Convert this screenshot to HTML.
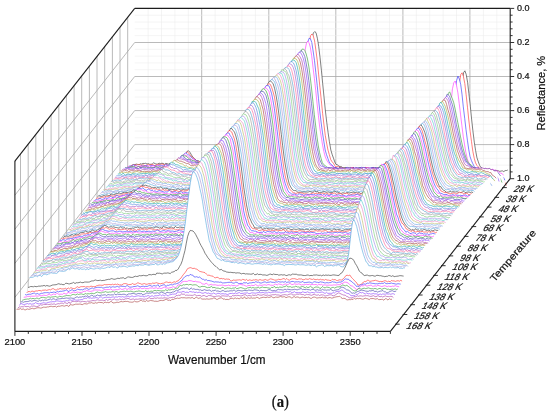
<!DOCTYPE html><html><head><meta charset="utf-8"><style>html,body{margin:0;padding:0;background:#fff;width:550px;height:416px;overflow:hidden}</style></head><body><svg width="550" height="416" viewBox="0 0 550 416" style="position:absolute;left:0;top:0">
<g fill="none"><line x1="148.1" y1="8.4" x2="148.1" y2="178.7" stroke="#ebebeb" stroke-width="0.55"/><line x1="161.5" y1="8.4" x2="161.5" y2="178.7" stroke="#ebebeb" stroke-width="0.55"/><line x1="174.9" y1="8.4" x2="174.9" y2="178.7" stroke="#ebebeb" stroke-width="0.55"/><line x1="188.3" y1="8.4" x2="188.3" y2="178.7" stroke="#ebebeb" stroke-width="0.55"/><line x1="201.7" y1="8.4" x2="201.7" y2="178.7" stroke="#a8a8a8" stroke-width="0.8"/><line x1="215.1" y1="8.4" x2="215.1" y2="178.7" stroke="#ebebeb" stroke-width="0.55"/><line x1="228.5" y1="8.4" x2="228.5" y2="178.7" stroke="#ebebeb" stroke-width="0.55"/><line x1="241.9" y1="8.4" x2="241.9" y2="178.7" stroke="#ebebeb" stroke-width="0.55"/><line x1="255.4" y1="8.4" x2="255.4" y2="178.7" stroke="#ebebeb" stroke-width="0.55"/><line x1="268.8" y1="8.4" x2="268.8" y2="178.7" stroke="#a8a8a8" stroke-width="0.8"/><line x1="282.2" y1="8.4" x2="282.2" y2="178.7" stroke="#ebebeb" stroke-width="0.55"/><line x1="295.6" y1="8.4" x2="295.6" y2="178.7" stroke="#ebebeb" stroke-width="0.55"/><line x1="309" y1="8.4" x2="309" y2="178.7" stroke="#ebebeb" stroke-width="0.55"/><line x1="322.4" y1="8.4" x2="322.4" y2="178.7" stroke="#ebebeb" stroke-width="0.55"/><line x1="335.8" y1="8.4" x2="335.8" y2="178.7" stroke="#a8a8a8" stroke-width="0.8"/><line x1="349.2" y1="8.4" x2="349.2" y2="178.7" stroke="#ebebeb" stroke-width="0.55"/><line x1="362.7" y1="8.4" x2="362.7" y2="178.7" stroke="#ebebeb" stroke-width="0.55"/><line x1="376.1" y1="8.4" x2="376.1" y2="178.7" stroke="#ebebeb" stroke-width="0.55"/><line x1="389.5" y1="8.4" x2="389.5" y2="178.7" stroke="#ebebeb" stroke-width="0.55"/><line x1="402.9" y1="8.4" x2="402.9" y2="178.7" stroke="#a8a8a8" stroke-width="0.8"/><line x1="416.3" y1="8.4" x2="416.3" y2="178.7" stroke="#ebebeb" stroke-width="0.55"/><line x1="429.7" y1="8.4" x2="429.7" y2="178.7" stroke="#ebebeb" stroke-width="0.55"/><line x1="443.1" y1="8.4" x2="443.1" y2="178.7" stroke="#ebebeb" stroke-width="0.55"/><line x1="456.5" y1="8.4" x2="456.5" y2="178.7" stroke="#ebebeb" stroke-width="0.55"/><line x1="469.9" y1="8.4" x2="469.9" y2="178.7" stroke="#a8a8a8" stroke-width="0.8"/><line x1="483.4" y1="8.4" x2="483.4" y2="178.7" stroke="#ebebeb" stroke-width="0.55"/><line x1="496.8" y1="8.4" x2="496.8" y2="178.7" stroke="#ebebeb" stroke-width="0.55"/><line x1="134.7" y1="15.2" x2="510.2" y2="15.2" stroke="#ebebeb" stroke-width="0.55"/><line x1="134.7" y1="22" x2="510.2" y2="22" stroke="#ebebeb" stroke-width="0.55"/><line x1="134.7" y1="28.8" x2="510.2" y2="28.8" stroke="#ebebeb" stroke-width="0.55"/><line x1="134.7" y1="35.6" x2="510.2" y2="35.6" stroke="#ebebeb" stroke-width="0.55"/><line x1="134.7" y1="42.5" x2="510.2" y2="42.5" stroke="#a8a8a8" stroke-width="0.8"/><line x1="134.7" y1="49.3" x2="510.2" y2="49.3" stroke="#ebebeb" stroke-width="0.55"/><line x1="134.7" y1="56.1" x2="510.2" y2="56.1" stroke="#ebebeb" stroke-width="0.55"/><line x1="134.7" y1="62.9" x2="510.2" y2="62.9" stroke="#ebebeb" stroke-width="0.55"/><line x1="134.7" y1="69.7" x2="510.2" y2="69.7" stroke="#ebebeb" stroke-width="0.55"/><line x1="134.7" y1="76.5" x2="510.2" y2="76.5" stroke="#a8a8a8" stroke-width="0.8"/><line x1="134.7" y1="83.3" x2="510.2" y2="83.3" stroke="#ebebeb" stroke-width="0.55"/><line x1="134.7" y1="90.1" x2="510.2" y2="90.1" stroke="#ebebeb" stroke-width="0.55"/><line x1="134.7" y1="97" x2="510.2" y2="97" stroke="#ebebeb" stroke-width="0.55"/><line x1="134.7" y1="103.8" x2="510.2" y2="103.8" stroke="#ebebeb" stroke-width="0.55"/><line x1="134.7" y1="110.6" x2="510.2" y2="110.6" stroke="#a8a8a8" stroke-width="0.8"/><line x1="134.7" y1="117.4" x2="510.2" y2="117.4" stroke="#ebebeb" stroke-width="0.55"/><line x1="134.7" y1="124.2" x2="510.2" y2="124.2" stroke="#ebebeb" stroke-width="0.55"/><line x1="134.7" y1="131" x2="510.2" y2="131" stroke="#ebebeb" stroke-width="0.55"/><line x1="134.7" y1="137.8" x2="510.2" y2="137.8" stroke="#ebebeb" stroke-width="0.55"/><line x1="134.7" y1="144.6" x2="510.2" y2="144.6" stroke="#a8a8a8" stroke-width="0.8"/><line x1="134.7" y1="151.5" x2="510.2" y2="151.5" stroke="#ebebeb" stroke-width="0.55"/><line x1="134.7" y1="158.3" x2="510.2" y2="158.3" stroke="#ebebeb" stroke-width="0.55"/><line x1="134.7" y1="165.1" x2="510.2" y2="165.1" stroke="#ebebeb" stroke-width="0.55"/><line x1="134.7" y1="171.9" x2="510.2" y2="171.9" stroke="#ebebeb" stroke-width="0.55"/><line x1="127.7" y1="17.3" x2="127.7" y2="187.6" stroke="#a8a8a8" stroke-width="0.8"/><line x1="120" y1="27.1" x2="120" y2="197.4" stroke="#a8a8a8" stroke-width="0.8"/><line x1="112.4" y1="36.8" x2="112.4" y2="207.1" stroke="#a8a8a8" stroke-width="0.8"/><line x1="104.7" y1="46.6" x2="104.7" y2="216.9" stroke="#a8a8a8" stroke-width="0.8"/><line x1="97" y1="56.3" x2="97" y2="226.6" stroke="#a8a8a8" stroke-width="0.8"/><line x1="89.4" y1="66.1" x2="89.4" y2="236.4" stroke="#a8a8a8" stroke-width="0.8"/><line x1="81.7" y1="75.9" x2="81.7" y2="246.2" stroke="#a8a8a8" stroke-width="0.8"/><line x1="74.1" y1="85.6" x2="74.1" y2="255.9" stroke="#a8a8a8" stroke-width="0.8"/><line x1="66.4" y1="95.4" x2="66.4" y2="265.7" stroke="#a8a8a8" stroke-width="0.8"/><line x1="58.8" y1="105.1" x2="58.8" y2="275.4" stroke="#a8a8a8" stroke-width="0.8"/><line x1="51.1" y1="114.9" x2="51.1" y2="285.2" stroke="#a8a8a8" stroke-width="0.8"/><line x1="43.5" y1="124.7" x2="43.5" y2="295" stroke="#a8a8a8" stroke-width="0.8"/><line x1="35.8" y1="134.4" x2="35.8" y2="304.7" stroke="#a8a8a8" stroke-width="0.8"/><line x1="28.2" y1="144.2" x2="28.2" y2="314.5" stroke="#a8a8a8" stroke-width="0.8"/><line x1="20.5" y1="153.9" x2="20.5" y2="324.2" stroke="#a8a8a8" stroke-width="0.8"/><line x1="14.9" y1="195.2" x2="134.7" y2="42.5" stroke="#a8a8a8" stroke-width="0.8"/><line x1="14.9" y1="229.2" x2="134.7" y2="76.5" stroke="#a8a8a8" stroke-width="0.8"/><line x1="14.9" y1="263.3" x2="134.7" y2="110.6" stroke="#a8a8a8" stroke-width="0.8"/><line x1="14.9" y1="297.3" x2="134.7" y2="144.6" stroke="#a8a8a8" stroke-width="0.8"/></g>
<g stroke-width="0.65" stroke-linejoin="round" stroke-opacity="0.88">
<path d="M507.8 181.7L132.3 181.7L132.3 164.9l1.3 0 1.4-0.3 1.3-0.5 1.3 0.4 1.4 0.3 1.3-1 1.4 0.3 1.3-0.7 1.3 0.1 1.4-0.2 1.3 0.7 1.4-0.4 1.3 0.7 1.4 0 1.3-0.4 1.3-1.1 1.4 0.9 1.3 0.3 1.4 0 1.3-0.8 1.3 0.4 1.4-0.3 1.3 0.1 1.4 0.9 1.3-0.9 1.4 0.3 1.3 0.4 1.3-0.7 1.4 0.1 1.3 0.1 1.4-0.1 1.3-0.8 1.3 0.5 1.4 0.2 1.3-1.9 1.4 0.1 1.3-1.8 1.3-2.2 1.4-0.9 1.3-2.7 1.4-2.8 1.3-0.4 1.4 1.6 1.3 2.2 1.3 2.3 1.4 1.2 1.3 1.5 1.4 1.2 1.3-0.3 1.3 0.9 1.4 0.2 1.3 0.5 1.4-0.4 1.3 0.5 1.3 0.4 1.4 0.7 1.3 0.2 1.4-1.2 1.3 0.3 1.4 0.7 1.3-1.2 1.3 0.7 1.4 0.3 1.3 0.7 1.4-0.3 1.3-0.5 1.3-0.1 1.4 0.2 1.3 0.8 1.4-0.9 1.3 0 1.3 0.3 1.4-0.3 1.3-0.1 1.4-0.4 1.3 0.5 1.4-0.1 1.3 0.8 1.3-0.3 1.4-0.3 1.3 0.3 1.4-0.5 1.3 0.6 1.3-0.4 1.4 0.1 1.3-0.8 1.4 0.8 1.3-0.9 1.3-0.1 1.4 0.9 1.3-0.2 1.4 0.7 1.3 1.1 1.4-1.4 1.3 0 1.3 0.6 1.4 0.2 1.3-0.3 1.4 0.1 1.3 0.5 1.3 0 1.4-0.7 1.3 0.5 1.4 0.1 1.3-0.4 1.3 0.6 1.4-0.3 1.3 0.9 1.4-0.3 1.3 0 1.4-0.3 1.3 0.2 1.3-0.8 1.4 0.4 1.3 0.8 1.4-1.1 1.3 1.2 1.3-1.3 1.4 0.6 1.3-1.3 1.4-0.5 1.3-2.3 1.3-3.6 1.4-2.7 1.3-5.5 1.4-8.1 1.3-9.6 1.4-11.2 1.3-13.4 1.3-13.3 1.4-15.5 1.3-14.2 1.4-13.2 1.3-10.2 1.3-6.9 1.4-1.4 1.3 1 1.4 5.8 1.3 8 1.3 10.8 1.4 13 1.3 13.6 1.4 14.1 1.3 13 1.4 11.9 1.3 9.8 1.3 9.1 1.4 8.2 1.3 4.4 1.4 3.9 1.3 3.8 1.3 2.6 1.4 0.1 1.3 1.5 1.4 0.4 1.3 0 1.3 1.5 1.4-0.1 1.3 0.1 1.4-0.2 1.3 0.5 1.4-0.4 1.3 0.1 1.3-0.5 1.4 0.1 1.3 1.2 1.4-0.8 1.3 0.3 1.3-0.2 1.4-0.2 1.3 0 1.4 0.6 1.3-0.5 1.3 0.1 1.4 0.1 1.3 0.6 1.4-0.2 1.3-0.2 1.4-0.6 1.3-0.3 1.3 1.1 1.4 0.1 1.3-0.5 1.4 0.3 1.3 0.1 1.3 0.1 1.4 0 1.3-0.7 1.4 0.9 1.3-1.3 1.3 1 1.4-0.1 1.3 0.2 1.4 0.5 1.3-0.2 1.4-1.4 1.3-0.3 1.3 1.2 1.4-0.8 1.3 0.5 1.4 0.4 1.3-1.2 1.3-0.3 1.4 1.3 1.3 0 1.4-0.1 1.3 0.1 1.3-0.4 1.4-0.3 1.3 0.6 1.4-0.3 1.3-0.2 1.4 1 1.3-0.1 1.3 0.2 1.4-0.7 1.3 0.2 1.4-0.1 1.3 0.1 1.3 0.5 1.4-0.3 1.3 0.5 1.4 0.2 1.3 0.7 1.3-1.5 1.4 1 1.3-0.4 1.4 0 1.3-0.6 1.4 0.5 1.3 0.7 1.3-0.4 1.4 0.1 1.3-0.1 1.4 0.6 1.3-0.8 1.3-1.7 1.4-0.5 1.3-3 1.4-4.9 1.3-5.6 1.3-9.5 1.4-14.5 1.3-17.2 1.4-16.8 1.3-13.4 1.4-9.5 1.3-1.8 1.3 3.6 1.4 7.9 1.3 11.3 1.4 12.6 1.3 12.9 1.3 11.7 1.4 11.4 1.3 8.3 1.4 7.4 1.3 3.8 1.3 3.7 1.4 2.2 1.3 0.8 1.4 2.2 1.3 0.4 1.4-0.7 1.3 0.6 1.3-0.1 1.4-1.4 1.3 1.4 1.4 0 1.3 0 1.3-0.5 1.4 0.3 1.3 0.2 1.4 0.6 1.3-0.4 1.4-0.1 1.3 0.7 1.3-1 1.4-0.1 1.3-0.5" fill="#fff" stroke="#202020" stroke-dasharray="0 392.3 815.3 9999"/>
<path d="M506.4 183.6L130.8 183.6L130.8 165.8l1.4-0.7 1.3 0 1.4 0 1.3 0.1 1.3-0.8 1.4 0.5 1.3-0.2 1.4 0.8 1.3-0.8 1.3 0.7 1.4 0.4 1.3-0.9 1.4-0.3 1.3 0.4 1.3-0.2 1.4-0.4 1.3 0.7 1.4 0.7 1.3-1.1 1.4-0.1 1.3-0.4 1.3 0.5 1.4-0.7 1.3 0.1 1.4 1.1 1.3-1 1.3 0.9 1.4 0.2 1.3-0.6 1.4 0.1 1.3 0.6 1.3-1.2 1.4-0.5 1.3-0.7 1.4 0.2 1.3-0.2 1.4-1.7 1.3-2.8 1.3-2.2 1.4-1.9 1.3-1.4 1.4-1.2 1.3 0.9 1.3 2 1.4 1.3 1.3 1.4 1.4 1.2 1.3 0.8 1.3 1.2 1.4 1.3 1.3-0.1 1.4 0 1.3-0.4 1.4 1.2 1.3-0.9 1.3 0.5 1.4 1.4 1.3 0.1 1.4-0.4 1.3-0.7 1.3 0.7 1.4 0 1.3 0.8 1.4 0.9 1.3-1 1.4-0.6 1.3-0.2 1.3 0.6 1.4-0.1 1.3-0.4 1.4 0.6 1.3-0.5 1.3 1.1 1.4 0 1.3 0 1.4-0.8 1.3 0.4 1.3-0.3 1.4-0.2 1.3 0 1.4-0.5 1.3 0 1.4 1.1 1.3-0.4 1.3 0.2 1.4 0.3 1.3-1.2 1.4 0.4 1.3 0.6 1.3 0.2 1.4-0.2 1.3 0.7 1.4-0.4 1.3-0.7 1.3 0.2 1.4 1 1.3-0.2 1.4-1 1.3 1.6 1.4-0.2 1.3 0.4 1.3-0.8 1.4 0 1.3-0.2 1.4 1.8 1.3-1.1 1.3 0.7 1.4-1 1.3 0.3 1.4-0.7 1.3 0.6 1.3 0.8 1.4-1 1.3 1.1 1.4-0.4 1.3-0.8 1.4 0 1.3-0.4 1.3-0.6 1.4-1.5 1.3-2.1 1.4-2.7 1.3-4.5 1.3-5.8 1.4-6.8 1.3-8.9 1.4-12.4 1.3-12.3 1.3-14.4 1.4-14.6 1.3-13.1 1.4-12.9 1.3-8.9 1.4-7.2 1.3-1.7 1.3 1.7 1.4 5.2 1.3 9.3 1.4 10.8 1.3 13.1 1.3 13.1 1.4 13 1.3 13.2 1.4 11.7 1.3 10.5 1.3 7.4 1.4 7.1 1.3 4.5 1.4 5 1.3 2 1.4 1.6 1.3 2.3 1.3 1.5 1.4-0.6 1.3 0.5 1.4 0.4 1.3 0.1 1.3 0.8 1.4-0.4 1.3 0.1 1.4 0.6 1.3-0.5 1.3 0.5 1.4-0.7 1.3-0.2 1.4-0.2 1.3 1.8 1.4-1 1.3 0.2 1.3-0.1 1.4 0.1 1.3 0 1.4 0.9 1.3-1.5 1.3-0.4 1.4 0.3 1.3-0.1 1.4 1.1 1.3 0 1.3-0.9 1.4-0.3 1.3 0.6 1.4 0.8 1.3-1.9 1.4 1.4 1.3-0.6 1.3 1 1.4-1 1.3 0.3 1.4-0.6 1.3 0.3 1.3 1.2 1.4-0.2 1.3-0.7 1.4-0.3 1.3-0.5 1.3 0.7 1.4 0.3 1.3 0 1.4-0.1 1.3-0.4 1.4 0.5 1.3 0.1 1.3 0.8 1.4 0.3 1.3-1 1.4-0.4 1.3 0.4 1.3-0.3 1.4 0 1.3 0.3 1.4-0.3 1.3 0.8 1.3-0.3 1.4 0.2 1.3-0.2 1.4-0.3 1.3-0.1 1.4 0.4 1.3-0.1 1.3 0.4 1.4-0.1 1.3-0.6 1.4 0.6 1.3-0.6 1.3 0.4 1.4 0.1 1.3-0.7 1.4 1 1.3 0.2 1.3-0.2 1.4-0.1 1.3 0 1.4-0.3 1.3 0.1 1.4-0.6 1.3-0.9 1.3-2.9 1.4-3.5 1.3-6.9 1.4-10.4 1.3-13.8 1.3-15.7 1.4-17.6 1.3-13.2 1.4-8.9 1.3-1.6 1.3 3.6 1.4 7.1 1.3 10.9 1.4 12.9 1.3 12.7 1.4 11.8 1.3 9.8 1.3 9.5 1.4 7 1.3 4.6 1.4 2.7 1.3 1.3 1.3 2.4 1.4 0.2 1.3-0.7 1.4 1.6 1.3-0.6 1.3 0.2 1.4 0.6 1.3 1.1 1.4-0.6 1.3 0.6 1.4 1.1 1.3 0.3 1.3-0.4 1.4 0.4 1.3 0.3 1.4 1.2 1.3 1.9 1.3 1.6 1.4 2 1.3 3 1.4 2.6" fill="#fff" stroke="#ff2020" stroke-dasharray="0 393.4 813.9 9999"/>
<path d="M504.9 185.4L129.4 185.4L129.4 165.7l1.3 0.2 1.4 0.2 1.3-1.5 1.3 1.1 1.4 0.4 1.3 0.1 1.4 0.5 1.3-0.3 1.4-0.4 1.3-0.1 1.3 0.2 1.4-0.6 1.3 0.2 1.4 0.4 1.3 0.5 1.3-1 1.4 0 1.3 0.1 1.4 0.5 1.3-0.6 1.3 0.5 1.4-1 1.3 0.2 1.4 0.1 1.3 0.4 1.4 0.1 1.3-1.3 1.3 0.3 1.4 0.5 1.3-0.5 1.4-0.4 1.3 1.1 1.3-0.3 1.4-0.4 1.3-1 1.4-0.3 1.3-1.8 1.3-1.3 1.4-2.9 1.3-2.2 1.4-1.3 1.3-1.4 1.4 1 1.3 1.3 1.3 0.8 1.4 1.5 1.3 0.9 1.4 1.4 1.3 0.1 1.3 0.7 1.4 1.4 1.3 1 1.4 0.3 1.3-0.5 1.3 0.3 1.4 0.9 1.3-0.6 1.4-0.2 1.3 0.7 1.4 0.3 1.3-0.5 1.3-0.3 1.4 0.2 1.3 1.1 1.4-0.5 1.3 0.3 1.3 0.3 1.4 0.2 1.3-0.4 1.4 0.3 1.3-0.6 1.3 0.2 1.4-0.2 1.3 1 1.4-0.5 1.3-0.3 1.4 0.1 1.3 0.1 1.3 0.4 1.4-1 1.3 0.2 1.4 0.4 1.3 1.4 1.3-0.7 1.4-0.6 1.3 0.5 1.4 0.6 1.3-1 1.4 0 1.3 0.8 1.3-0.3 1.4 0.1 1.3-0.4 1.4 1.1 1.3 0 1.3-0.5 1.4 0 1.3-1.1 1.4 1.1 1.3-0.2 1.3 0.4 1.4 0.1 1.3-0.5 1.4-0.5 1.3 0.9 1.4-0.4 1.3 0.2 1.3 0 1.4 0 1.3-0.7 1.4 1.6 1.3-0.3 1.3 0.5 1.4 0.3 1.3-1.1 1.4-1.1 1.3 0 1.3-0.7 1.4-0.8 1.3-1.4 1.4-3.4 1.3-2.8 1.4-5.7 1.3-6 1.3-8.7 1.4-10.6 1.3-12 1.4-13.7 1.3-14.2 1.3-14.4 1.4-11.8 1.3-9.5 1.4-7 1.3-3.7 1.3 0.4 1.4 3.8 1.3 8.4 1.4 9.6 1.3 11.9 1.4 12.9 1.3 13.4 1.3 12.5 1.4 11.8 1.3 9.8 1.4 9 1.3 8.2 1.3 4.5 1.4 4 1.3 3.5 1.4 2.2 1.3 0.7 1.3 1.4 1.4 1.2 1.3 0.2 1.4 0.2 1.3 0.8 1.4-0.9 1.3 0.4 1.3-0.1 1.4 0.8 1.3-1.5 1.4 0.5 1.3 0.2 1.3 0.6 1.4 0 1.3 0.3 1.4-1.3 1.3 0.9 1.3-0.4 1.4-0.2 1.3 0.5 1.4-0.7 1.3-0.5 1.4 0.7 1.3-0.4 1.3 0.4 1.4 0.5 1.3 0.1 1.4 0.5 1.3-0.9 1.3-0.6 1.4 0.3 1.3-0.1 1.4-0.1 1.3 0.8 1.3-0.5 1.4-0.6 1.3 1.2 1.4-0.3 1.3 0.2 1.4-0.1 1.3 0.2 1.3-0.2 1.4 0.5 1.3-0.3 1.4 0 1.3-0.1 1.3-0.8 1.4 0.5 1.3 0 1.4 0.2 1.3-0.6 1.3 1.3 1.4-0.6 1.3-0.7 1.4-0.2 1.3 0.7 1.4 0.1 1.3-0.2 1.3 0.3 1.4-0.2 1.3 0.5 1.4-0.5 1.3 0.3 1.3 0.6 1.4 0.7 1.3-1.6 1.4 0.1 1.3 0 1.3 0.7 1.4-0.8 1.3 0.2 1.4 0.3 1.3-0.4 1.4 0 1.3 0.2 1.3-0.8 1.4 0.4 1.3 0.5 1.4 0.3 1.3-0.2 1.3-0.7 1.4 0.4 1.3 0.3 1.4-1 1.3-2.1 1.3-3.8 1.4-5.1 1.3-9.3 1.4-12.4 1.3-14.7 1.4-14.9 1.3-15.1 1.3-9.9 1.4-4.4 1.3 2.8 1.4 5.5 1.3 9.8 1.3 12.7 1.4 11.4 1.3 11.2 1.4 10.7 1.3 9 1.3 7.2 1.4 4.1 1.3 2.9 1.4 2.9 1.3 1.6 1.4 1 1.3 1 1.3-0.1 1.4 0.3 1.3-0.7 1.4 1 1.3 0.7 1.3-0.5 1.4-0.2 1.3 0.1 1.4 0.8 1.3-1 1.3 0.6 1.4 0.7 1.3 0.5 1.4 0 1.3 0.9 1.4 0.7 1.3 1.2 1.3 1.3 1.4 1.3 1.3 2.8" fill="#fff" stroke="#2020ff" stroke-dasharray="0 395.3 790.7 9999"/>
<path d="M503.5 187.3L127.9 187.3L127.9 166.2l1.4 0.5 1.3 0.2 1.4-0.3 1.3 0.1 1.3-0.5 1.4-0.7 1.3 1.3 1.4 0 1.3-0.3 1.3 0 1.4 0.4 1.3-0.7 1.4-0.2 1.3 0.3 1.4 0.6 1.3-1.1 1.3 1 1.4-0.8 1.3-0.2 1.4 1 1.3-0.6 1.3-0.6 1.4 0.5 1.3 0.6 1.4 0.1 1.3-0.7 1.3 0.3 1.4 0.1 1.3-0.6 1.4 0.4 1.3-0.2 1.4-0.4 1.3-0.1 1.3 0 1.4-0.6 1.3-1.1 1.4-1.2 1.3-1 1.3-2.3 1.4-1.8 1.3-1.7 1.4-1.4 1.3 0.8 1.3-0.1 1.4 1.7 1.3 0.6 1.4 1.9 1.3 0.7 1.4-1 1.3 1 1.3 1.4 1.4 0.6 1.3 0.4 1.4 0 1.3 0.6 1.3 0.4 1.4 0 1.3 0.6 1.4-1.2 1.3 1.4 1.3-0.5 1.4 1 1.3-0.4 1.4-0.2 1.3 0.7 1.4-0.5 1.3 0 1.3-0.2 1.4 0.8 1.3 0.4 1.4 0.3 1.3-0.5 1.3 0.5 1.4-0.4 1.3 0 1.4 0.3 1.3 0.2 1.3-0.6 1.4 0 1.3 0.1 1.4 0.1 1.3-0.4 1.4 0.8 1.3-0.6 1.3 0.3 1.4-0.5 1.3 0.6 1.4 0.1 1.3-0.3 1.3 1.2 1.4-0.6 1.3 0.6 1.4-0.4 1.3-0.7 1.3 0.1 1.4 0.5 1.3-0.2 1.4 0.1 1.3-0.2 1.4-0.7 1.3 0.7 1.3-0.8 1.4 1.2 1.3-0.4 1.4 0 1.3 0.3 1.3 0.3 1.4-0.8 1.3-0.2 1.4 0.3 1.3-0.3 1.4 0.6 1.3 1.1 1.3-1.1 1.4 0.5 1.3-1.1 1.4 0.3 1.3-0.9 1.3-1 1.4-1.5 1.3-2.1 1.4-4.5 1.3-5.4 1.3-7.4 1.4-8 1.3-10.8 1.4-11.7 1.3-13.6 1.4-13 1.3-15 1.3-11.3 1.4-8.9 1.3-6.8 1.4-2.7 1.3 1.6 1.3 4.5 1.4 8.6 1.3 11.4 1.4 11.3 1.3 11.6 1.3 12.9 1.4 12.4 1.3 11.7 1.4 8.8 1.3 8.1 1.4 7.3 1.3 5 1.3 3.2 1.4 2.4 1.3 1.7 1.4 1.7 1.3 0.3 1.3 1.9 1.4-0.1 1.3 0.8 1.4 0.8 1.3-0.2 1.3-1 1.4 0.9 1.3 0.2 1.4-0.9 1.3-0.1 1.4 0.3 1.3-0.6 1.3 1.3 1.4-1.7 1.3 0.5 1.4 0.5 1.3 0 1.3 0.2 1.4 0.1 1.3-0.2 1.4 0.5 1.3-1.4 1.3 0.8 1.4-0.2 1.3 0.4 1.4 0 1.3-0.5 1.4 0.1 1.3 0.7 1.3-0.2 1.4-0.4 1.3 1.3 1.4 0.1 1.3-1.7 1.3 0.7 1.4 1.1 1.3-0.8 1.4-0.3 1.3-0.3 1.3-0.1 1.4 0.1 1.3-0.1 1.4 0.6 1.3-0.5 1.4-0.1 1.3-0.3 1.3 0.4 1.4-0.3 1.3 0.4 1.4 0.6 1.3-0.3 1.3 0.1 1.4-0.1 1.3-0.1 1.4-0.1 1.3 0 1.3 0.4 1.4-0.7 1.3 1 1.4-0.5 1.3-0.4 1.4 0.1 1.3-0.1 1.3 0.4 1.4-0.3 1.3 0.8 1.4-0.9 1.3-0.7 1.3 0.6 1.4-0.4 1.3 0.9 1.4 0.6 1.3-0.2 1.3-0.9 1.4 0.3 1.3 1.2 1.4-0.6 1.3-0.2 1.4 0.5 1.3 0.4 1.3-1.1 1.4-1.8 1.3-2.4 1.4-4.1 1.3-7.4 1.3-10.2 1.4-12.4 1.3-15.3 1.4-14.4 1.3-11.9 1.3-5.9 1.4-1.8 1.3 4.3 1.4 7.6 1.3 10.4 1.4 11.6 1.3 10.8 1.3 10.4 1.4 8.8 1.3 7.7 1.4 6.3 1.3 3.7 1.3 2.2 1.4 2 1.3 1.2 1.4 0.8 1.3-0.1 1.3 0.2 1.4-0.6 1.3 0.4 1.4 1.3 1.3-1.6 1.4 0.8 1.3 0.3 1.3-0.2 1.4-0.1 1.3 0.4 1.4 0.2 1.3 0 1.3-0.6 1.4 1 1.3 0 1.4 0.5 1.3 0.9 1.3 0.8 1.4 0.8 1.3 0.3 1.4 1.8" fill="#fff" stroke="#ff20ff" stroke-dasharray="0 396.6 774.0 9999"/>
<path d="M502 189.1L126.5 189.1L126.5 167.5l1.3 0.4 1.4-0.8 1.3-0.6 1.4 0.2 1.3-0.3 1.3 0.2 1.4 1 1.3-0.4 1.4-0.7 1.3 0.9 1.3 0.2 1.4-0.6 1.3-0.2 1.4 0.1 1.3 0.3 1.3 0.2 1.4 0.2 1.3 0.1 1.4 0 1.3 0 1.4-0.4 1.3-0.9 1.3 0.5 1.4 0.2 1.3-0.2 1.4 0.5 1.3-0.5 1.3-0.2 1.4 0.9 1.3-0.3 1.4-0.2 1.3 0.2 1.3 0 1.4-0.7 1.3-1.6 1.4-0.2 1.3-1 1.4-1.9 1.3-1.4 1.3-1.7 1.4-2.6 1.3-1.4 1.4 1.1 1.3 0.1 1.3 0.6 1.4 1.5 1.3 0.9 1.4 0.3 1.3 1.3 1.3 0 1.4 0.4 1.3 0.9 1.4 0.7 1.3-0.1 1.4 0.7 1.3 0.3 1.3 1.4 1.4-1.1 1.3 1 1.4-0.4 1.3 0.2 1.3 0.5 1.4 0.3 1.3 0.3 1.4-0.3 1.3-0.4 1.3 0.2 1.4 0.5 1.3 0.2 1.4 0.4 1.3-0.3 1.4 0.3 1.3 0.2 1.3-0.6 1.4-0.7 1.3 0.1 1.4 0.1 1.3 1.2 1.3-0.8 1.4 0.8 1.3-0.2 1.4 0.5 1.3-0.3 1.3-0.5 1.4-0.1 1.3 0.2 1.4 0 1.3-0.2 1.4 0.3 1.3 0.6 1.3-1.2 1.4 0.7 1.3-0.4 1.4 0.5 1.3 0.3 1.3-0.2 1.4 0.2 1.3-0.8 1.4 1 1.3-0.5 1.3 0.4 1.4-0.2 1.3-1.1 1.4 0.8 1.3 0.5 1.4 0.6 1.3-0.5 1.3-0.1 1.4-0.6 1.3 1.1 1.4 0 1.3-1 1.3-0.7 1.4-1.2 1.3 0 1.4-0.8 1.3-3.2 1.3-3.1 1.4-4.8 1.3-6.4 1.4-6.3 1.3-9.7 1.4-9.7 1.3-10.9 1.3-11.6 1.4-12.1 1.3-11.4 1.4-10.5 1.3-8 1.3-4.6 1.4-2.3 1.3 0 1.4 1.5 1.3 3.5 1.3 4.9 1.4 7.9 1.3 9.8 1.4 12.2 1.3 12.5 1.4 13.2 1.3 10.5 1.3 11 1.4 9.8 1.3 6.8 1.4 5.4 1.3 4.6 1.3 1.7 1.4 1.2 1.3 0.9 1.4 1.2 1.3 0.3 1.4-0.5 1.3 0.2 1.3 0.7 1.4 0.1 1.3-0.5 1.4 0.6 1.3-0.1 1.3-0.9 1.4 0.6 1.3 0.3 1.4-0.4 1.3-0.7 1.3 0.8 1.4 0.5 1.3 0.3 1.4-1.4 1.3 1.8 1.4-1.4 1.3 0.8 1.3 0.2 1.4-0.2 1.3-0.4 1.4-0.5 1.3 0.7 1.3-0.6 1.4-0.6 1.3 2.1 1.4-0.7 1.3 0.3 1.3-1 1.4 0.9 1.3 0.2 1.4-0.1 1.3-0.7 1.4-0.5 1.3 0.3 1.3-0.8 1.4 0.2 1.3 0.7 1.4-0.4 1.3 0.4 1.3 0.1 1.4 0.8 1.3-0.2 1.4-0.6 1.3 0.5 1.3-0.8 1.4 0.1 1.3 0.5 1.4-0.8 1.3 0.3 1.4-0.4 1.3 0.7 1.3 0.6 1.4-0.9 1.3 0.3 1.4-0.5 1.3-0.1 1.3 0 1.4 1.2 1.3 0.4 1.4-0.8 1.3-0.5 1.3 0.5 1.4-0.3 1.3 0.4 1.4-0.1 1.3 0 1.4 0.1 1.3-0.5 1.3 0 1.4-0.5 1.3 0.4 1.4-0.3 1.3 0.5 1.3-0.3 1.4 0.4 1.3-0.1 1.4-1.3 1.3-0.8 1.3-2.1 1.4-2.9 1.3-5.4 1.4-9 1.3-11.6 1.4-12.2 1.3-13.8 1.3-9.4 1.4-6.7 1.3-1.4 1.4 4 1.3 3.1 1.3 3.7 1.4 6.4 1.3 6.5 1.4 7.1 1.3 6.4 1.3 7.1 1.4 6.7 1.3 5.5 1.4 5.1 1.3 3.6 1.4 4 1.3 1.3 1.3 2.1 1.4 0.5 1.3 1.4 1.4 1.7 1.3-0.3 1.3 0.9 1.4 0 1.3-0.2 1.4 0.4 1.3 0.1 1.3 0.1 1.4 0.7 1.3 0.1 1.4-0.3 1.3 0.1 1.4 0.8 1.3 0.4 1.3 1.1 1.4 1.4 1.3 0.2 1.4 0.7 1.3 1.4 1.3 1.5 1.4 2.4 1.3 3" fill="#fff" stroke="#209020" stroke-dasharray="0 397.2 733.2 9999"/>
<path d="M500.6 191L125 191L125 167.5l1.4 0.4 1.3-0.6 1.4 0.1 1.3 0 1.3 0.3 1.4 0.2 1.3 0.1 1.4-0.8 1.3 1.6 1.4-0.3 1.3-0.3 1.3-0.5 1.4 0.1 1.3 0.3 1.4-0.1 1.3-1 1.3 1.2 1.4 1 1.3-2.1 1.4 1.2 1.3-0.3 1.3-0.2 1.4 0.7 1.3-1.2 1.4 0.6 1.3 0.7 1.4-0.8 1.3-0.2 1.3 0.3 1.4-0.2 1.3 0.8 1.4-1.1 1.3 0.6 1.3-1.1 1.4 0.4 1.3-1.2 1.4-2.3 1.3-0.4 1.3-2.4 1.4-1.7 1.3-1 1.4-2.6 1.3-0.2 1.4 2.1 1.3 0.4 1.3 1.4 1.4 0.1 1.3 0.1 1.4 1 1.3 1.2 1.3 0.4 1.4 0 1.3 0.4 1.4 0.3 1.3 0.2 1.3 1.5 1.4-0.6 1.3-0.3 1.4 0.6 1.3 0.8 1.4 0.2 1.3-0.2 1.3-0.1 1.4 0.4 1.3-0.7 1.4 0.4 1.3 1.1 1.3-0.4 1.4 0.5 1.3 0.5 1.4-0.2 1.3-0.2 1.3 1.1 1.4-0.7 1.3-0.4 1.4 0.5 1.3-0.1 1.4-0.6 1.3 0.4 1.3-0.1 1.4-0.8 1.3 0.8 1.4 0.1 1.3-0.1 1.3-0.6 1.4 0.7 1.3 0.2 1.4 0.1 1.3-0.5 1.3 0.8 1.4-0.8 1.3 0.5 1.4 0.8 1.3-0.9 1.4 0.1 1.3 0.8 1.3-0.7 1.4 0.1 1.3 0.3 1.4 0.3 1.3-1.5 1.3 0.6 1.4 0 1.3-0.1 1.4 0.2 1.3 0 1.3 0.6 1.4-0.5 1.3 0.4 1.4 0 1.3-0.6 1.4 0.1 1.3 0.3 1.3-1.4 1.4-1.6 1.3-1.5 1.4-2.8 1.3-2.8 1.3-4.3 1.4-6.6 1.3-7 1.4-8.1 1.3-10.8 1.3-11 1.4-12.3 1.3-11.7 1.4-10.9 1.3-8.4 1.4-8.7 1.3-4.9 1.3-1.6 1.4 0.5 1.3 2 1.4 3.3 1.3 6.4 1.3 7.1 1.4 10.3 1.3 10.9 1.4 12.3 1.3 11.4 1.3 12.3 1.4 10.5 1.3 8.6 1.4 6.2 1.3 6.5 1.4 3.2 1.3 2.4 1.3 1.6 1.4 0.9 1.3 0.7 1.4-0.5 1.3 0.3 1.3 0.6 1.4 0 1.3-0.2 1.4-0.1 1.3-0.1 1.3 0.4 1.4 0.6 1.3-0.9 1.4 1.1 1.3-0.3 1.4-0.6 1.3 0.5 1.3-1.1 1.4-0.2 1.3 0.3 1.4 0.4 1.3 0.1 1.3-0.1 1.4 0.2 1.3-0.9 1.4 1.1 1.3-0.8 1.4 0.3 1.3 0.1 1.3-0.3 1.4-0.2 1.3 0.3 1.4 0.5 1.3 0.3 1.3 0 1.4-0.8 1.3 0 1.4 0 1.3 0.6 1.3-1 1.4 1.4 1.3-0.7 1.4-0.2 1.3 0.6 1.4 0.3 1.3-0.3 1.3 0.3 1.4-0.3 1.3 0.4 1.4 0 1.3-0.5 1.3 0.6 1.4-0.6 1.3-0.1 1.4-0.5 1.3 0.3 1.3 0.5 1.4-0.9 1.3 0.9 1.4-0.1 1.3-0.1 1.4-1.2 1.3 1 1.3 0.4 1.4-0.6 1.3 0.2 1.4-1 1.3 1.3 1.3-0.5 1.4 0.6 1.3-1.1 1.4 1 1.3-0.3 1.3 0.4 1.4-0.7 1.3 0.1 1.4 1.3 1.3-1.4 1.4 0 1.3 0.1 1.3-0.3 1.4 0.9 1.3-0.3 1.4-2.2 1.3-2.5 1.3-2.2 1.4-5.6 1.3-8.4 1.4-10.8 1.3-13.4 1.3-12.3 1.4-10.7 1.3-5.8 1.4 0.5 1.3 1.1 1.4 4.6 1.3 3.7 1.3 5.4 1.4 7.2 1.3 7.3 1.4 6.2 1.3 5.8 1.3 6.8 1.4 5.8 1.3 3.8 1.4 3.7 1.3 3.9 1.3 2 1.4 1.2 1.3 1.7 1.4 0.9 1.3 1.1 1.4 0.5 1.3 0.8 1.3 0 1.4-0.9 1.3 1 1.4 0.4 1.3-0.1 1.3 0.2 1.4-0.6 1.3-0.1 1.4 0.9 1.3-0.7 1.3-0.2 1.4 1.7 1.3-0.3 1.4 0.6 1.3 0.1 1.4 0.8 1.3 1.1 1.3 1.7 1.4 1.8" fill="#fff" stroke="#3030a0" stroke-dasharray="0 399.0 727.3 9999"/>
<path d="M499.1 192.8L123.6 192.8L123.6 168.5l1.3 1 1.4-0.9 1.3-0.5 1.4 0.6 1.3-0.8 1.3 1.1 1.4 0.1 1.3-0.9 1.4 0 1.3 0.3 1.3 0 1.4-0.4 1.3 0.6 1.4-1.1 1.3 0.6 1.4 0.1 1.3 0.1 1.3 0.3 1.4-0.7 1.3 0.8 1.4-0.3 1.3-0.3 1.3-0.3 1.4 0.1 1.3 0.7 1.4-0.5 1.3 0.5 1.3 0.5 1.4 0.1 1.3 0.2 1.4-0.9 1.3-0.4 1.4 0.8 1.3-0.4 1.3-0.1 1.4-1.1 1.3-0.6 1.4-1.7 1.3-2 1.3-2.2 1.4-2 1.3-1.4 1.4-0.4 1.3 1.1 1.3 0.2 1.4 1.7 1.3-0.1 1.4 1 1.3 0.1 1.4 0.5 1.3 1.5 1.3-0.7 1.4-0.1 1.3 0.7 1.4 0.6 1.3 1.5 1.3-0.5 1.4 0.4 1.3-0.5 1.4 0.8 1.3 0.5 1.3 0.6 1.4-0.9 1.3 0.7 1.4 0 1.3-0.5 1.4 0.6 1.3-0.1 1.3-0.7 1.4 1.4 1.3 0.1 1.4-0.4 1.3-0.3 1.3 1.4 1.4-0.4 1.3 0.4 1.4 0.2 1.3-0.8 1.3 0.5 1.4-0.4 1.3 0.1 1.4 0 1.3 0.1 1.4 0.6 1.3-0.5 1.3-0.1 1.4 0 1.3 0.3 1.4-0.6 1.3 0.2 1.3 0.3 1.4-0.2 1.3 0.2 1.4-0.1 1.3 1.3 1.3-0.3 1.4-0.4 1.3-0.2 1.4 1 1.3-0.8 1.4-0.2 1.3 0.1 1.3 0.1 1.4 0.5 1.3-0.5 1.4 0.8 1.3-1.3 1.3 0.6 1.4-0.7 1.3 1.1 1.4-1.1 1.3-0.2 1.3 0 1.4-0.7 1.3-2.3 1.4-1.6 1.3-2.9 1.4-2.8 1.3-4.8 1.3-6.1 1.4-7.5 1.3-8.8 1.4-10.2 1.3-10.5 1.3-11.4 1.4-13.1 1.3-10.2 1.4-9.3 1.3-6.8 1.3-4.9 1.4-0.9 1.3 0.1 1.4 2.5 1.3 3.4 1.4 5.7 1.3 8.3 1.3 9.6 1.4 10.8 1.3 13.1 1.4 12.1 1.3 11.2 1.3 10.7 1.4 8.6 1.3 5.5 1.4 5.1 1.3 4.6 1.3 2.2 1.4 0.4 1.3 0.5 1.4 0.7 1.3 0.2 1.4-0.3 1.3 0.7 1.3-0.5 1.4 0.1 1.3 0.9 1.4-0.6 1.3 0.3 1.3 0.3 1.4 0.1 1.3-0.5 1.4 0.1 1.3-0.3 1.3 1.1 1.4-0.4 1.3-0.9 1.4 0.5 1.3 0.4 1.4-0.1 1.3 0.7 1.3-0.3 1.4-0.9 1.3 0.1 1.4-0.5 1.3 0.7 1.3 0.1 1.4 1.1 1.3-1.2 1.4-1.1 1.3 0.6 1.3 0.4 1.4-0.6 1.3 0.1 1.4 0.3 1.3 0.4 1.4-0.3 1.3-0.3 1.3 0.7 1.4-0.5 1.3-0.1 1.4-0.4 1.3 0.3 1.3 0.6 1.4-0.9 1.3 0.6 1.4 0.4 1.3-0.4 1.3 0.2 1.4-0.6 1.3 1.1 1.4 0 1.3-0.5 1.4-1 1.3 0.3 1.3 1.1 1.4 0.3 1.3-0.6 1.4 0.3 1.3-0.8 1.3 0.1 1.4 0.1 1.3 0.2 1.4-0.9 1.3 1.2 1.4 0.1 1.3-1.2 1.3-0.1 1.4 0.8 1.3-0.5 1.4-0.8 1.3 1.5 1.3-0.3 1.4-0.2 1.3 1.1 1.4-0.9 1.3-0.4 1.3 0.2 1.4-0.5 1.3-0.1 1.4 0 1.3-1.4 1.4-1.8 1.3-2.4 1.3-5.9 1.4-8.1 1.3-10.6 1.4-12.2 1.3-11.7 1.3-10.6 1.4-5.1 1.3-1.8 1.4 1.8 1.3 2.7 1.3 5 1.4 6.1 1.3 6.7 1.4 5.7 1.3 6.9 1.4 6.2 1.3 5.7 1.3 5.1 1.4 5 1.3 3 1.4 3.8 1.3 2.4 1.3 1.4 1.4 1.1 1.3 0.9 1.4 2.2 1.3-0.9 1.3 1.6 1.4-0.2 1.3-0.4 1.4-0.2 1.3 1.2 1.4 0.4 1.3-1.1 1.3 0.3 1.4 0.9 1.3 0 1.4 1 1.3-0.7 1.3 0.9 1.4 0 1.3 2.2 1.4-0.2 1.3 0.6 1.3 2.6 1.4 2.3 1.3 3.6" fill="#fff" stroke="#8030ff" stroke-dasharray="0 399.8 724.0 9999"/>
<path d="M497.7 194.6L122.1 194.6L122.1 169.6l1.4 0.2 1.3-0.6 1.4 0.2 1.3-0.7 1.4 1 1.3-0.2 1.3-0.2 1.4 0.7 1.3-0.3 1.4-1.5 1.3 1.1 1.3-0.4 1.4 1.1 1.3 0.7 1.4-1.3 1.3 0.1 1.3 0 1.4 0.2 1.3 0.2 1.4 0.3 1.3-0.9 1.4 1 1.3-1 1.3 0.5 1.4 0.4 1.3-0.2 1.4-0.8 1.3 0.1 1.3 0.1 1.4 0.3 1.3 0.5 1.4-1.1 1.3 0.6 1.3-0.1 1.4-0.4 1.3-0.7 1.4-0.7 1.3-2 1.4-1.9 1.3-2.1 1.3-1.5 1.4-2.7 1.3 1.1 1.4 0.2 1.3 0.6 1.3 0.3 1.4 0.2 1.3 1.2 1.4 0.5 1.3 1 1.3-0.3 1.4 1.7 1.3-0.1 1.4 0.1 1.3 0.1 1.4 0.2 1.3 0.2 1.3 0.5 1.4 0.6 1.3 0.1 1.4-0.3 1.3 0.6 1.3 0 1.4 0.7 1.3 0.9 1.4-0.4 1.3-0.4 1.3-0.5 1.4 0.2 1.3 0.1 1.4 1.1 1.3-0.5 1.4 0.4 1.3-0.2 1.3 0.5 1.4 0.6 1.3-0.9 1.4 0.1 1.3 0 1.3 0.7 1.4-0.8 1.3-0.1 1.4-0.1 1.3 0.1 1.3 1 1.4 0.9 1.3-1.4 1.4 0.7 1.3-0.2 1.4-0.6 1.3 0.3 1.3 0.1 1.4-0.1 1.3 1.1 1.4-1.6 1.3 0.9 1.3 0.1 1.4-0.4 1.3 0.4 1.4 0.3 1.3-0.3 1.3 0.1 1.4 0.1 1.3-1.1 1.4 1.5 1.3 0.5 1.4-0.6 1.3-0.1 1.3-1.2 1.4 0.4 1.3-0.5 1.4-0.2 1.3 0.2 1.3-1.6 1.4-1.1 1.3-2.6 1.4-1.9 1.3-3.4 1.3-5.2 1.4-6 1.3-6.5 1.4-10.3 1.3-10.3 1.4-10.9 1.3-10.7 1.3-11 1.4-11.5 1.3-9.5 1.4-6.6 1.3-3.2 1.3-1.6 1.4 1.6 1.3 1.9 1.4 3.3 1.3 6.3 1.3 8.2 1.4 10.4 1.3 10.3 1.4 12.9 1.3 11.3 1.4 11 1.3 10.3 1.3 8 1.4 6 1.3 4.4 1.4 3.6 1.3 3.3 1.3 1.6 1.4 0.2 1.3 0.5 1.4-0.5 1.3 0.2 1.3 0.2 1.4-0.6 1.3 0 1.4 0.5 1.3-0.2 1.4-0.3 1.3 0.6 1.3-0.1 1.4 0.5 1.3-0.5 1.4-0.1 1.3 0.2 1.3-0.2 1.4-0.2 1.3 0.1 1.4 0.6 1.3 0 1.3 0.2 1.4-1.3 1.3 0.5 1.4 0 1.3 0.3 1.4-0.3 1.3 0 1.3 0.6 1.4-0.3 1.3-0.6 1.4 1.1 1.3-0.1 1.3-0.7 1.4 0.6 1.3-0.6 1.4 0.7 1.3-0.6 1.3-0.3 1.4 0.2 1.3-0.1 1.4 0.4 1.3 0 1.4-0.1 1.3-0.4 1.3-1.3 1.4 1.6 1.3-0.7 1.4 0.9 1.3 0.5 1.3-0.4 1.4-0.3 1.3 0 1.4 0 1.3-0.2 1.3 0 1.4-0.1 1.3 0.9 1.4-0.5 1.3 0.4 1.4-0.5 1.3 0 1.3-0.1 1.4 0.3 1.3 0.2 1.4-0.3 1.3-0.5 1.3 0 1.4 1.1 1.3-0.9 1.4 0 1.3 0.8 1.3-0.1 1.4-0.4 1.3-0.3 1.4 1.1 1.3-0.8 1.4 0 1.3-0.4 1.3-0.7 1.4-0.2 1.3 0.4 1.4-1 1.3-2.2 1.3-3.8 1.4-5.5 1.3-7.4 1.4-10.7 1.3-10.9 1.4-11.6 1.3-9.2 1.3-6.6 1.4-1.5 1.3 1.3 1.4 2 1.3 5.7 1.3 5.8 1.4 6.8 1.3 6.4 1.4 6.5 1.3 6.1 1.3 6 1.4 5.4 1.3 3.3 1.4 3.8 1.3 2.7 1.4 3.7 1.3 1.7 1.3 0.9 1.4 0.1 1.3 1.2 1.4 0.3 1.3 0.4 1.3 0.2 1.4 0.4 1.3-0.3 1.4 0.6 1.3-0.3 1.3-0.2 1.4 0.1 1.3-0.1 1.4 0.6 1.3-0.3 1.4 0.4 1.3-0.1 1.3-0.2 1.4 1.3 1.3-0.4 1.4 1.2 1.3 0.4 1.3-0.3 1.4 1.1" fill="#fff" stroke="#a030a0" stroke-dasharray="0 400.6 710.0 9999"/>
<path d="M496.2 196.5L120.7 196.5L120.7 170.9l1.3 0.2 1.4 0 1.3-1.3 1.4 1.1 1.3-0.2 1.3 0.9 1.4-0.7 1.3-0.3 1.4 0.2 1.3 0.2 1.3-0.3 1.4 0.2 1.3-0.6 1.4 0.5 1.3 0.6 1.4 0.5 1.3-0.5 1.3-0.2 1.4 0.4 1.3-0.1 1.4 0.3 1.3-0.3 1.3-0.5 1.4 0.1 1.3 0 1.4 0 1.3-0.1 1.4-0.5 1.3-0.6 1.3 0.6 1.4-0.6 1.3 0.9 1.4-0.2 1.3-1 1.3 0.5 1.4-0.8 1.3-1.6 1.4-1.1 1.3-2.1 1.3-3.3 1.4-0.7 1.3-0.9 1.4 0.7 1.3 0.9 1.4-0.1 1.3 0.6 1.3 0.5 1.4 0.6 1.3 0.8 1.4-0.1 1.3 0.6 1.3 1.2 1.4 0.1 1.3 0.5 1.4-0.7 1.3 0.7 1.3 0.5 1.4 0.5 1.3 0 1.4 0.9 1.3-0.2 1.4 0.2 1.3 0.2 1.3 0.4 1.4-0.3 1.3 0.8 1.4-0.1 1.3-0.1 1.3 0.1 1.4 0.3 1.3 0.3 1.4 0.1 1.3-0.2 1.3 0.3 1.4-0.3 1.3 0.6 1.4-0.6 1.3-0.8 1.4 1.5 1.3-0.5 1.3-0.6 1.4 0.4 1.3-0.1 1.4 1.3 1.3-0.7 1.3-0.9 1.4 0.9 1.3-0.2 1.4 1 1.3-1.3 1.3-0.6 1.4 1 1.3 0 1.4-0.1 1.3-0.7 1.4 1.2 1.3 0.5 1.3-1.4 1.4 1.2 1.3-0.6 1.4 1.3 1.3-0.8 1.3-0.3 1.4 0.5 1.3-0.2 1.4-0.5 1.3 0.5 1.3-0.6 1.4-0.6 1.3 1.6 1.4-1.2 1.3-0.5 1.4-0.3 1.3-1.7 1.3-1.3 1.4-1.5 1.3-2.7 1.4-3.4 1.3-4.5 1.3-6.9 1.4-7.4 1.3-9 1.4-11.1 1.3-10.7 1.3-12 1.4-10.5 1.3-10.6 1.4-9 1.3-6.9 1.4-2.9 1.3-0.8 1.3 1.3 1.4 1.9 1.3 3.8 1.4 7.1 1.3 8.3 1.3 9.6 1.4 12.2 1.3 11.4 1.4 11.8 1.3 11.2 1.3 9.2 1.4 8 1.3 6.4 1.4 5.3 1.3 3.1 1.4 1.2 1.3 2 1.3 0 1.4 0.5 1.3 0.5 1.4-0.1 1.3 0.9 1.3-1 1.4-0.6 1.3 1 1.4-0.7 1.3-0.1 1.3-1.1 1.4 1.8 1.3 0 1.4 0 1.3 0.1 1.4 0.3 1.3-0.7 1.3 0.3 1.4-0.7 1.3 0.1 1.4 0.7 1.3-0.3 1.3-0.8 1.4 0.7 1.3-0.2 1.4-0.3 1.3 0.6 1.3-0.4 1.4-0.6 1.3 0.3 1.4 1.2 1.3-1.3 1.4 0.7 1.3 0.2 1.3 0 1.4-0.8 1.3 0.3 1.4 0.3 1.3 0.3 1.3-0.7 1.4-0.2 1.3 1 1.4 0.1 1.3-0.4 1.3-0.4 1.4 0.4 1.3-0.1 1.4 0.3 1.3-0.9 1.4 0.5 1.3-0.1 1.3-0.4 1.4 0.6 1.3-0.1 1.4-0.2 1.3 0.3 1.3-0.8 1.4 0.6 1.3 0.3 1.4-0.1 1.3 0.3 1.3-1.1 1.4-0.1 1.3 0.8 1.4 0.2 1.3 0.7 1.4-0.7 1.3-0.7 1.3 0.6 1.4-0.7 1.3-0.2 1.4 1.8 1.3-0.9 1.3 0 1.4 0 1.3 0.5 1.4-0.6 1.3 0.2 1.3-1 1.4-0.2 1.3 1.1 1.4-0.4 1.3-1.4 1.4-2.1 1.3-3.3 1.3-5.7 1.4-6.8 1.3-10.6 1.4-11.9 1.3-12 1.3-9.6 1.4-6 1.3-0.7 1.4 0.7 1.3 3.9 1.3 5.1 1.4 4.3 1.3 6.2 1.4 7 1.3 6.6 1.4 6 1.3 4.8 1.3 6 1.4 3.7 1.3 3.8 1.4 3.6 1.3 2 1.3 2.4 1.4 2.3 1.3 0 1.4 0.4 1.3-0.3 1.3 0.4 1.4 0 1.3 0.4 1.4-0.1 1.3 0.2 1.4 0.3 1.3-0.3 1.3-0.1 1.4 0.2 1.3 0.9 1.4 0.3 1.3 0.7 1.3 0.4 1.4-0.1 1.3 1 1.4 0 1.3 2.5 1.4 0.8 1.3 0.9 1.3 1.5" fill="#fff" stroke="#a03030" stroke-dasharray="0 401.1 712.7 9999"/>
<path d="M494.8 198.3L119.2 198.3L119.2 172.6l1.4 0.2 1.3-0.8 1.4 1 1.3-0.8 1.4 0.4 1.3 0.1 1.3 0 1.4-1 1.3 1.5 1.4-0.4 1.3-0.6 1.3-0.3 1.4-0.4 1.3 0.2 1.4 0.9 1.3-0.4 1.3-0.4 1.4 0.3 1.3 0.9 1.4-0.8 1.3-0.1 1.4 0.8 1.3-0.3 1.3-0.3 1.4-0.4 1.3-0.4 1.4 0.1 1.3 0.3 1.3 0.2 1.4 0.3 1.3 0 1.4-0.2 1.3-0.3 1.3-1.1 1.4-1.3 1.3-0.4 1.4-1.8 1.3-1.8 1.4-1.9 1.3-2.3 1.3-1 1.4 0.7 1.3 0.9 1.4 0.4 1.3 1.1 1.3 0.3 1.4 0.2 1.3 1 1.4 1.3 1.3-0.6 1.4 1.2 1.3 0.6 1.3 0.3 1.4-0.7 1.3 1.5 1.4-0.5 1.3 0 1.3 0.3 1.4 0.6 1.3 0 1.4 0.1 1.3 0.7 1.3-0.7 1.4 0 1.3 1 1.4 0.2 1.3 0.2 1.4-0.8 1.3 1 1.3-0.1 1.4 0.6 1.3-1.3 1.4 0.6 1.3-0.1 1.3-0.6 1.4 0.5 1.3 0.9 1.4-0.6 1.3-0.1 1.3 0.8 1.4 0.1 1.3 0 1.4-0.8 1.3 0.3 1.4 0.5 1.3-0.7 1.3 0 1.4 0.8 1.3 0.3 1.4-1.3 1.3-0.7 1.3 0.6 1.4 0.3 1.3 0.5 1.4 0.3 1.3-0.3 1.3-0.2 1.4 0.3 1.3-0.4 1.4 0.4 1.3-0.1 1.4 1.4 1.3-0.8 1.3-0.8 1.4-0.1 1.3 0.2 1.4-0.5 1.3 0.3 1.3 0 1.4 0.6 1.3-0.8 1.4-0.6 1.3-0.8 1.3-0.9 1.4-0.8 1.3-2 1.4-2.3 1.3-4.6 1.4-4.4 1.3-6.8 1.3-8.1 1.4-10.1 1.3-10.1 1.4-10.3 1.3-11.2 1.3-11.7 1.4-10 1.3-8.9 1.4-5.9 1.3-3.1 1.3 0.5 1.4 0.6 1.3 2.1 1.4 4.3 1.3 6.9 1.4 8.5 1.3 9.9 1.3 12.6 1.4 11.4 1.3 11.6 1.4 11.4 1.3 9.2 1.3 7.1 1.4 6.1 1.3 3.6 1.4 3 1.3 1.3 1.3 2.6 1.4-0.6 1.3 1.4 1.4-0.4 1.3 0 1.4 0.4 1.3 0.3 1.3 0.2 1.4 0.5 1.3-0.6 1.4 0.2 1.3-0.7 1.3 0.6 1.4-0.3 1.3-0.3 1.4 0.2 1.3 0 1.3 0.2 1.4 0 1.3-0.4 1.4-0.1 1.3 0.6 1.4-1 1.3 0.5 1.3 0.9 1.4-1.9 1.3 0.9 1.4 0.6 1.3-0.9 1.3 1.7 1.4-2.1 1.3 1.7 1.4 0.2 1.3-0.3 1.3-0.6 1.4 0.2 1.3-0.5 1.4 0.7 1.3-0.8 1.4 0.4 1.3 0.5 1.3-0.9 1.4 0.3 1.3 0.2 1.4-0.6 1.3 1.1 1.3-0.3 1.4-0.9 1.3 0.6 1.4-0.3 1.3 0.1 1.3 0.3 1.4-0.3 1.3 0.7 1.4-0.6 1.3 0.6 1.4-0.4 1.3 0.4 1.3-0.7 1.4-0.1 1.3-0.2 1.4 0.8 1.3 0.3 1.3 0.5 1.4-0.4 1.3-0.6 1.4-0.2 1.3 0.2 1.3-0.1 1.4 0.7 1.3-0.3 1.4-0.9 1.3 0.1 1.4 0.9 1.3-0.4 1.3-0.3 1.4 0.6 1.3-0.7 1.4-0.1 1.3-0.1 1.3-0.7 1.4 1 1.3-1.3 1.4-0.7 1.3-1.9 1.3-2.6 1.4-5.6 1.3-7.8 1.4-10.9 1.3-11.1 1.4-12.4 1.3-9.1 1.3-5.8 1.4-0.9 1.3 2.4 1.4 2.5 1.3 4.3 1.3 5.2 1.4 5.9 1.3 7 1.4 6.6 1.3 5.2 1.3 6.7 1.4 5 1.3 4.6 1.4 3.3 1.3 2.2 1.4 2.4 1.3 3.1 1.3 0.6 1.4 0.2 1.3 1.4 1.4 0.1 1.3-0.4 1.3 0 1.4 0.5 1.3 1 1.4 0 1.3 0 1.3 0.3 1.4 0.2 1.3-1 1.4 0.9 1.3 0.1 1.4 0.2 1.3 0.8 1.3 0.8 1.4 0.6 1.3 0.4 1.4 1.7 1.3 2.5 1.3 0.5 1.4 2" fill="#fff" stroke="#a0a028" stroke-dasharray="0 401.2 711.1 9999"/>
<path d="M493.3 200.2L117.8 200.2L117.8 174.1l1.3-0.2 1.4 0.1 1.3 0.7 1.4-1.7 1.3 1.5 1.3 0.7 1.4-1.1 1.3-0.1 1.4 0.4 1.3 0.4 1.4-1.4 1.3 0.5 1.3-0.1 1.4 0.3 1.3-0.1 1.4 0.1 1.3-0.5 1.3 0.1 1.4-0.3 1.3 0 1.4 0.2 1.3-0.1 1.3-0.4 1.4 1.2 1.3-0.8 1.4-0.6 1.3 1.1 1.4-0.8 1.3 0.5 1.3-0.3 1.4 0.1 1.3-0.3 1.4-0.6 1.3-0.3 1.3-0.1 1.4-3.3 1.3-0.9 1.4-1.9 1.3-2.6 1.3-1.5 1.4 1.1 1.3-0.2 1.4 1.7 1.3 0.1 1.4 0.3 1.3 0.8 1.3 0.6 1.4 0.7 1.3 0.2 1.4 0.2 1.3 0.5 1.3 0.9 1.4 0 1.3-0.6 1.4 0.5 1.3 0.7 1.3-0.2 1.4 0.3 1.3 0 1.4 0.5 1.3 0.6 1.4 0.4 1.3-0.2 1.3 1 1.4-0.7 1.3 1.5 1.4-0.8 1.3-0.3 1.3-0.5 1.4-1 1.3 1.3 1.4 0.4 1.3 0.8 1.3-1.3 1.4 1.4 1.3-0.8 1.4 0.3 1.3-1.4 1.4 1.1 1.3 0 1.3 0.5 1.4-0.3 1.3-0.5 1.4 1 1.3-0.1 1.3 0 1.4 0.3 1.3 0 1.4-0.6 1.3-0.6 1.4 0.1 1.3 1.3 1.3-0.2 1.4-0.3 1.3-0.3 1.4 0.2 1.3 0.1 1.3-0.2 1.4-0.1 1.3 1.3 1.4-0.8 1.3-0.5 1.3-0.3 1.4 0.3 1.3 0.7 1.4 0.1 1.3-0.5 1.4 0 1.3-0.2 1.3-0.5 1.4 0.9 1.3-0.7 1.4 0.2 1.3-2.4 1.3-1.2 1.4-1.7 1.3-3.5 1.4-4.6 1.3-5 1.3-6.1 1.4-7.9 1.3-9.5 1.4-10 1.3-11.2 1.4-11.9 1.3-11.2 1.3-10 1.4-7.7 1.3-5.3 1.4-3 1.3 0.1 1.3 0.6 1.4 2.1 1.3 4.9 1.4 7.6 1.3 8.7 1.3 10.9 1.4 10.9 1.3 12.3 1.4 11.8 1.3 10.4 1.4 8.3 1.3 7.6 1.3 5.8 1.4 3.6 1.3 3.5 1.4 2.1 1.3 0.4 1.3 1.7 1.4-0.7 1.3 0.1 1.4 0.1 1.3-0.2 1.3 0.5 1.4 0 1.3 0.7 1.4-0.4 1.3-0.1 1.4-0.4 1.3-0.6 1.3 0.6 1.4-0.2 1.3 0.8 1.4-0.4 1.3 0.8 1.3-0.4 1.4 0 1.3-0.3 1.4 0 1.3 0.2 1.3 0.1 1.4-0.7 1.3 0.6 1.4 0.9 1.3-1.2 1.4-0.2 1.3-0.2 1.3-0.3 1.4 1.2 1.3-0.4 1.4 0.1 1.3 0.8 1.3 0.2 1.4-1.5 1.3 0.8 1.4-0.1 1.3-0.2 1.3 0 1.4-0.1 1.3 0.7 1.4-0.4 1.3-0.1 1.4 0.4 1.3-0.2 1.3-0.2 1.4 0 1.3 0.6 1.4-0.6 1.3-0.3 1.3-0.4 1.4 0.2 1.3-0.3 1.4 0.5 1.3 0 1.3-1 1.4 0.9 1.3 0.4 1.4-0.3 1.3-0.5 1.4 1 1.3-0.9 1.3-0.4 1.4 0.1 1.3 0.6 1.4 0.5 1.3 0.1 1.3-0.6 1.4-0.7 1.3 0.2 1.4-0.1 1.3 0.3 1.3-0.7 1.4 0.9 1.3 0.3 1.4-0.4 1.3 0.2 1.4-0.7 1.3-0.4 1.3 0.3 1.4 0.4 1.3-1 1.4-2.4 1.3-2.6 1.3-5.8 1.4-6.9 1.3-10.5 1.4-12.2 1.3-11.3 1.3-10.6 1.4-6.1 1.3-1 1.4 2.3 1.3 2.9 1.4 4.3 1.3 5.3 1.3 6.8 1.4 5.7 1.3 6.3 1.4 7.1 1.3 5.9 1.3 4.5 1.4 3.4 1.3 4.2 1.4 3.6 1.3 2.1 1.3 2.4 1.4 0 1.3 1.8 1.4 0.2 1.3 1.3 1.4-0.3 1.3 0.6 1.3-0.6 1.4-0.4 1.3 0.2 1.4 0.3 1.3 0 1.3 1.1 1.4 0.2 1.3-0.4 1.4-0.4 1.3 0.6 1.3 0.2 1.4 1.4 1.3 0.1 1.4 0.6 1.3 0.3 1.4 0.2 1.3 1.8 1.3 1.5" fill="#fff" stroke="#00a0a0" stroke-dasharray="0 401.6 710.3 9999"/>
<path d="M491.9 202L116.4 202L116.4 175.7l1.3 0.1 1.3 0 1.4-0.1 1.3 0.5 1.4-0.5 1.3 0 1.3-0.2 1.4-0.5 1.3 0 1.4-0.1 1.3 0.5 1.3-0.4 1.4-0.2 1.3 0.6 1.4 0.1 1.3-1.1 1.4 1.6 1.3-0.8 1.3-0.1 1.4 0.5 1.3-0.5 1.4-0.3 1.3 1.2 1.3-1.5 1.4 0.3 1.3 0.4 1.4-0.9 1.3 0.4 1.3 0.3 1.4 0.8 1.3-1.6 1.4 0 1.3 0 1.4-1.1 1.3-1.8 1.3-0.9 1.4-2.1 1.3-1.8 1.4-1.4 1.3-0.9 1.3 0.1 1.4 0.6 1.3 0 1.4 1.1 1.3 0.8 1.3 0.2 1.4 0.7 1.3 0.2 1.4 1.6 1.3 0.7 1.4-0.9 1.3 0.6 1.3 0.1 1.4 1 1.3-0.1 1.4 0 1.3 0.1 1.3 0.3 1.4-0.3 1.3 1 1.4-0.5 1.3 0.7 1.3 0.1 1.4 0.5 1.3-0.3 1.4 0.5 1.3-0.8 1.4 0.7 1.3-0.2 1.3 0.2 1.4 0.1 1.3 0.4 1.4-1.3 1.3 1 1.3-0.6 1.4 1.1 1.3-1.4 1.4 0.4 1.3-0.1 1.3 1.5 1.4-1.2 1.3 0.5 1.4-0.3 1.3-0.5 1.4 0.7 1.3 0.6 1.3-0.3 1.4 0.5 1.3-0.6 1.4 0.1 1.3-0.1 1.3 0.5 1.4 0.7 1.3-0.7 1.4-0.1 1.3-0.4 1.3 0 1.4 1 1.3-1.2 1.4 0.1 1.3 0.4 1.4 0 1.3 1 1.3-1.9 1.4 1.2 1.3 0.2 1.4-0.9 1.3 0.1 1.3 0.6 1.4 0.4 1.3-1.5 1.4-0.8 1.3 0.6 1.4-0.7 1.3-2.5 1.3-3.1 1.4-1.4 1.3-4.7 1.4-4.9 1.3-7.3 1.3-8.4 1.4-9.4 1.3-9.7 1.4-11.3 1.3-13.2 1.3-10.3 1.4-8.3 1.3-8.7 1.4-5.7 1.3-1.5 1.4 0.1 1.3 1.2 1.3 2.7 1.4 4.9 1.3 7 1.4 9.3 1.3 10 1.3 11.8 1.4 12 1.3 12.1 1.4 9.9 1.3 8.7 1.3 7.4 1.4 5.5 1.3 4.2 1.4 2.5 1.3 2.3 1.4 0.7 1.3-0.1 1.3 0.1 1.4 0.8 1.3-0.1 1.4-0.4 1.3-0.7 1.3-0.1 1.4 1.1 1.3 0.3 1.4 0 1.3-1 1.3 1 1.4-0.6 1.3 0.4 1.4 0 1.3-0.6 1.4 0 1.3-0.7 1.3 0.5 1.4-0.3 1.3 1.1 1.4-0.1 1.3 0.4 1.3-0.3 1.4-0.5 1.3 0.5 1.4-0.3 1.3 0.5 1.3-0.2 1.4-0.6 1.3 0.4 1.4 0.1 1.3-0.1 1.4 0.6 1.3 0.4 1.3-1 1.4-0.2 1.3-0.9 1.4 1 1.3-0.1 1.3-0.8 1.4 1.2 1.3 0.2 1.4-0.7 1.3 0.2 1.3-0.3 1.4 0.8 1.3-1 1.4 0.6 1.3 1.1 1.4-0.8 1.3 0.1 1.3-0.4 1.4-0.5 1.3 0.6 1.4 0.1 1.3-0.6 1.3 0.6 1.4 0.5 1.3-0.1 1.4-1.4 1.3 0.2 1.3-0.2 1.4 1.3 1.3-0.1 1.4-0.1 1.3-0.8 1.4-0.2 1.3 0.6 1.3 0 1.4-0.4 1.3 0.5 1.4 0.2 1.3-0.2 1.3-0.7 1.4-0.6 1.3 0.9 1.4 0.3 1.3-0.3 1.3-0.2 1.4-0.2 1.3 0.2 1.4-1.2 1.3-1.8 1.4-3.7 1.3-5.1 1.3-7.2 1.4-10.6 1.3-11.8 1.4-11.3 1.3-9.1 1.3-6.3 1.4-0.4 1.3 0.7 1.4 2.8 1.3 3.8 1.3 5.8 1.4 7 1.3 6 1.4 6.6 1.3 6.1 1.4 5.4 1.3 5 1.3 4.5 1.4 4 1.3 2.9 1.4 2.3 1.3 1.5 1.3 0.9 1.4 1.1 1.3 0.5 1.4 1.3 1.3-1.1 1.3 1.1 1.4 1.4 1.3-1.1 1.4-0.4 1.3 0.7 1.4 0.7 1.3-0.5 1.3 0.5 1.4-0.1 1.3 0.3 1.4 2 1.3-0.9 1.3 0.3 1.4 0.8 1.3 1.5 1.4 1.4 1.3 1.8 1.3 1.8 1.4 2" fill="#fff" stroke="#3c78dc" stroke-dasharray="0 401.8 711.7 9999"/>
<path d="M490.4 203.9L114.9 203.9L114.9 177.4l1.3-0.3 1.4 1.1 1.3-0.4 1.4-0.1 1.3-1.1 1.4 0 1.3 0.9 1.3-0.5 1.4-0.1 1.3 0.1 1.4-0.6 1.3 0.7 1.3-0.3 1.4 0.1 1.3-0.5 1.4 0.4 1.3-0.5 1.3 0.7 1.4 0.1 1.3-0.2 1.4-0.2 1.3-0.1 1.4-1.5 1.3 1.4 1.3-0.4 1.4 0.1 1.3-0.3 1.4-0.5 1.3 0.3 1.3 0.5 1.4 0.1 1.3-1.2 1.4-0.7 1.3 0 1.3-2.3 1.4-0.6 1.3-2.9 1.4-2.3 1.3-0.3 1.4 0.1 1.3-0.5 1.3 1.9 1.4-0.1 1.3 1.3 1.4-0.3 1.3 0 1.3 1.3 1.4 0.8 1.3 0.9 1.4 0.2 1.3-0.1 1.3-0.2 1.4 0.1 1.3 0.4 1.4 0 1.3 0.4 1.4-0.7 1.3 1.3 1.3 0.3 1.4 1.3 1.3-0.7 1.4-0.4 1.3 0.5 1.3-0.7 1.4 0.3 1.3-0.3 1.4 1.5 1.3-0.3 1.3-0.7 1.4 0.6 1.3 0.5 1.4-0.1 1.3-0.1 1.4-0.5 1.3 0.1 1.3 0.4 1.4 0.4 1.3-0.7 1.4-0.1 1.3 1 1.3-0.8 1.4 0.8 1.3-0.3 1.4 0.4 1.3 0.3 1.3-0.4 1.4 0 1.3-0.7 1.4 0.1 1.3 0.7 1.4 0.4 1.3 0.1 1.3 0.3 1.4-0.8 1.3-0.1 1.4 0.4 1.3-0.5 1.3 0 1.4-0.4 1.3 0.8 1.4-0.8 1.3 0.6 1.3-0.7 1.4 1 1.3-0.8 1.4 0.7 1.3-1 1.4 0.5 1.3 0.6 1.3-1 1.4 0 1.3-0.7 1.4-1.5 1.3 0.1 1.3-1.5 1.4-2.9 1.3-2.6 1.4-4.8 1.3-5.7 1.3-6.5 1.4-8.4 1.3-8.5 1.4-12.2 1.3-10.3 1.4-11.3 1.3-12.1 1.3-9.2 1.4-6.4 1.3-5 1.4-1.4 1.3 0.6 1.3 0.7 1.4 2.7 1.3 4.4 1.4 8.5 1.3 8.7 1.4 11.2 1.3 11.5 1.3 11.2 1.4 12.6 1.3 9.9 1.4 8.4 1.3 6 1.3 5.6 1.4 3.7 1.3 2.5 1.4 1.3 1.3 1.7 1.3 0.5 1.4 0.3 1.3-0.2 1.4 0.8 1.3-0.5 1.4-1.3 1.3 0.9 1.3 0.4 1.4 0.5 1.3-0.6 1.4 0 1.3-0.1 1.3 0.5 1.4-0.4 1.3-0.2 1.4 0 1.3 0.6 1.3-0.5 1.4-0.5 1.3 1 1.4-0.5 1.3 0.5 1.4 0 1.3 0.4 1.3-0.1 1.4-0.7 1.3 0.1 1.4-0.4 1.3 1.3 1.3-0.4 1.4 0.3 1.3-0.8 1.4-0.7 1.3 1.5 1.3-0.5 1.4-0.1 1.3 0 1.4 0.3 1.3-0.1 1.4-0.9 1.3 1.1 1.3-0.6 1.4 0 1.3 1 1.4-0.3 1.3-0.7 1.3-0.6 1.4 0.8 1.3 0.3 1.4-0.3 1.3-0.6 1.3 0.2 1.4-0.2 1.3 0.7 1.4 0.3 1.3 0.1 1.4-0.8 1.3 0.4 1.3 0.1 1.4-0.5 1.3 0.2 1.4 1 1.3-0.8 1.3 0.2 1.4-0.6 1.3 0.1 1.4-0.7 1.3 0.7 1.3 0.7 1.4 0.4 1.3-0.4 1.4-0.3 1.3-0.4 1.4-0.3 1.3 0.2 1.3 0.3 1.4-0.6 1.3 0.7 1.4-0.9 1.3-0.5 1.3 0.1 1.4-0.7 1.3-0.7 1.4-0.6 1.3-3.7 1.3-4.9 1.4-7.1 1.3-9.9 1.4-12.4 1.3-11 1.4-10.3 1.3-6.1 1.3-0.9 1.4 0.6 1.3 3.2 1.4 4.6 1.3 5.6 1.3 5.6 1.4 6.5 1.3 7 1.4 6.4 1.3 5.4 1.3 5.3 1.4 3.6 1.3 3.7 1.4 3.2 1.3 2 1.4 1.8 1.3 2.2 1.3 0.1 1.4 0.3 1.3 1.2 1.4 0.9 1.3-0.6 1.3 0.5 1.4-0.6 1.3-0.1 1.4 0 1.3 0.3 1.3 0.8 1.4-1.2 1.3 1.1 1.4-1 1.3 0.3 1.4 0.6 1.3 0 1.3-0.2 1.4-0.7 1.3 0.9 1.4-0.4 1.3 1.6 1.3-1.1" fill="#fff" stroke="#9650c8" stroke-dasharray="0 402.0 702.7 9999"/>
<path d="M489 205.7L113.5 205.7L113.5 179.7l1.3-0.9 1.3 0 1.4-0.4 1.3 0.5 1.4 0.3 1.3-1.1 1.3 0.8 1.4-1 1.3 0 1.4-0.3 1.3 1.7 1.4-0.9 1.3-0.1 1.3-0.4 1.4 0.6 1.3-1.4 1.4 0.9 1.3 1 1.3-1.2 1.4 0 1.3 0.3 1.4-0.8 1.3 0.4 1.3 0.4 1.4-0.4 1.3-0.1 1.4-0.3 1.3 0.2 1.4-0.2 1.3 0.5 1.3-0.6 1.4-1 1.3-1.8 1.4 0.3 1.3-1.5 1.3-2.8 1.4-2.5 1.3-1 1.4 0.3 1.3-0.2 1.3 0.9 1.4 1 1.3 1.1 1.4 0 1.3 0.3 1.4 0.4 1.3 1.4 1.3 0.2 1.4-0.3 1.3-0.3 1.4 0.6 1.3 0.9 1.3-0.2 1.4 0.9 1.3 0.1 1.4 0.1 1.3 0.4 1.3 0 1.4-0.4 1.3 0.4 1.4 1.3 1.3-1.4 1.4 0.3 1.3 0.9 1.3-0.5 1.4-0.3 1.3-0.1 1.4 1 1.3 0.4 1.3 0.2 1.4-0.6 1.3 0.4 1.4-0.9 1.3 0.5 1.3-0.2 1.4 0.4 1.3 0.3 1.4 0.2 1.3-0.9 1.4 0.9 1.3-0.7 1.3-0.3 1.4 0.3 1.3-0.5 1.4 0.7 1.3 0.2 1.3-0.1 1.4 0.3 1.3-0.4 1.4 0.1 1.3-0.6 1.3 0.7 1.4-0.4 1.3 0.2 1.4 0.3 1.3 0.1 1.4-0.9 1.3 0 1.3 0.7 1.4 0.5 1.3 0 1.4 0.3 1.3 0.2 1.3-0.4 1.4-0.3 1.3-0.5 1.4 0 1.3 0.2 1.3 0.3 1.4-0.2 1.3-0.4 1.4-0.5 1.3-0.4 1.4-1.3 1.3-1.7 1.3-2.4 1.4-3.7 1.3-4.7 1.4-4.9 1.3-7.1 1.3-8.8 1.4-9.7 1.3-9.6 1.4-12.6 1.3-11.1 1.3-10.3 1.4-9.7 1.3-6.3 1.4-3.5 1.3-1.7 1.4 0.2 1.3 1.5 1.3 3.1 1.4 5.7 1.3 7 1.4 9.1 1.3 11.1 1.3 11.9 1.4 11.4 1.3 11.1 1.4 8.8 1.3 9.9 1.3 7.3 1.4 4.5 1.3 2.7 1.4 2.1 1.3 2 1.4 0.4 1.3 1.2 1.3-0.2 1.4 0.8 1.3 0.2 1.4-1.5 1.3 1 1.3-0.4 1.4-0.4 1.3 0.4 1.4 0.3 1.3 0.5 1.3-1 1.4 1.2 1.3 0.5 1.4-0.7 1.3-0.1 1.4-0.3 1.3-0.5 1.3 0.8 1.4 0 1.3 0.2 1.4 0.9 1.3-0.8 1.3-0.2 1.4 0.4 1.3-1.3 1.4 0 1.3 0.4 1.4-0.1 1.3 0.6 1.3-0.3 1.4 0.9 1.3 0 1.4-0.4 1.3-0.6 1.3 0.5 1.4 0 1.3-0.8 1.4 0.6 1.3 0.2 1.3-0.1 1.4 0.6 1.3-0.2 1.4-1 1.3 0.4 1.4-0.4 1.3 0.6 1.3-0.5 1.4 0.8 1.3-0.2 1.4 0.2 1.3-0.6 1.3-0.5 1.4 1.4 1.3-0.8 1.4 0.7 1.3-0.4 1.3 0.1 1.4 0.5 1.3-0.7 1.4 0.4 1.3-1.3 1.4 1 1.3-0.5 1.3 0 1.4 0.1 1.3 0.2 1.4 0.5 1.3-1.6 1.3 0.7 1.4-0.2 1.3 0.8 1.4-0.7 1.3 0.4 1.3-0.4 1.4 0.5 1.3 0.1 1.4-0.6 1.3 0 1.4-0.7 1.3 0.6 1.3-0.1 1.4-1.5 1.3-1.1 1.4-4.6 1.3-5.1 1.3-7.2 1.4-9.3 1.3-11.3 1.4-11.8 1.3-9.8 1.3-5.7 1.4-1.6 1.3 0.9 1.4 3.1 1.3 5.6 1.4 3.4 1.3 6.9 1.3 7.2 1.4 5.9 1.3 5.5 1.4 6.1 1.3 5.5 1.3 4.5 1.4 2.7 1.3 3.7 1.4 2.2 1.3 2.1 1.3 1.5 1.4 0 1.3 0.1 1.4 1.4 1.3 1 1.4-0.3 1.3-0.1 1.3 1 1.4-1.5 1.3 0.8 1.4-0.6 1.3 0.2 1.3 0.1 1.4 0.6 1.3-1.1 1.4 0.2 1.3-0.4 1.3 1 1.4-0.2 1.3 0.4 1.4-0.6 1.3 0.4 1.4 0.7 1.3-0.4" fill="#fff" stroke="#ff5a8c" stroke-dasharray="0 401.5 701.6 9999"/>
<path d="M487.5 207.6L112 207.6L112 180.4l1.4 0.8 1.3-0.8 1.3-0.1 1.4-0.3 1.3 0.1 1.4 0.6 1.3-0.7 1.3-0.6 1.4-1 1.3 1 1.4-0.6 1.3 0 1.3 1.2 1.4-0.1 1.3-1.2 1.4 1.1 1.3-0.2 1.4-0.6 1.3 0.5 1.3-1.1 1.4 0 1.3-0.2 1.4 0.2 1.3 0.8 1.3-1 1.4-0.1 1.3 0.1 1.4 0.4 1.3-0.3 1.3 0.3 1.4-1.1 1.3-0.9 1.4-0.6 1.3-1.1 1.4-2.1 1.3-1.3 1.3-1 1.4-2.1 1.3 0.5 1.4 1.2 1.3-0.3 1.3 0.4 1.4 0.5 1.3 1.2 1.4 0.6 1.3 0.1 1.3 0.5 1.4 1 1.3 0.1 1.4-0.8 1.3 0.9 1.4 0.4 1.3 0.5 1.3-0.3 1.4 0 1.3 0.2 1.4-0.4 1.3 0.9 1.3 0 1.4 0.6 1.3-0.5 1.4 0.3 1.3-0.2 1.3 0.1 1.4 0.9 1.3-0.4 1.4 0.4 1.3-0.6 1.4 0.5 1.3-0.7 1.3 0.6 1.4 0.1 1.3 0.6 1.4-0.2 1.3-0.1 1.3 0.5 1.4-0.3 1.3 0.2 1.4 0.1 1.3-0.4 1.3-0.1 1.4 0.3 1.3-0.3 1.4 0.4 1.3 0.4 1.4-0.1 1.3-0.7 1.3-0.4 1.4 0.6 1.3 0.1 1.4 0.6 1.3-0.7 1.3 0.1 1.4 0.5 1.3-0.5 1.4 0.2 1.3 0.9 1.3 0 1.4-0.5 1.3-0.2 1.4-0.6 1.3 0.7 1.4-0.1 1.3 0 1.3-0.3 1.4 0.2 1.3-0.1 1.4 0.3 1.3 0.4 1.3-0.7 1.4-1.3 1.3-0.3 1.4-1 1.3-0.8 1.3-1.1 1.4-2.5 1.3-3.9 1.4-4.2 1.3-6.4 1.4-7.6 1.3-8.6 1.3-9.4 1.4-9.8 1.3-12.4 1.4-10 1.3-10.2 1.3-9.5 1.4-6.7 1.3-4.1 1.4-0.6 1.3 0.8 1.3 1.5 1.4 4 1.3 5.7 1.4 7.3 1.3 9.4 1.4 10.6 1.3 11.7 1.3 10.9 1.4 11.6 1.3 9.6 1.4 7.7 1.3 7.8 1.3 3.4 1.4 3.4 1.3 2.7 1.4 0.4 1.3 1.3 1.3 0.2 1.4 0.5 1.3 0.6 1.4 0.3 1.3 0.4 1.4 0 1.3 0.1 1.3-0.3 1.4-0.4 1.3 0.6 1.4-0.7 1.3 0 1.3 1 1.4-0.3 1.3-0.3 1.4 0.3 1.3 0 1.3-1 1.4 0.4 1.3-0.4 1.4 0.6 1.3-0.3 1.4 1 1.3-0.4 1.3-0.6 1.4 0.2 1.3-0.4 1.4 0.5 1.3 0.3 1.3-0.2 1.4-1 1.3 0.8 1.4 0.4 1.3 0 1.3 0.3 1.4-1.1 1.3 0.8 1.4-0.5 1.3 0.4 1.4 0.2 1.3 0.1 1.3-0.6 1.4 0.3 1.3-0.7 1.4-0.1 1.3 1 1.3-0.3 1.4-0.8 1.3 0.4 1.4 0.5 1.3 0.8 1.4-0.2 1.3-0.2 1.3-1.3 1.4 0.8 1.3 0.3 1.4 0 1.3-0.1 1.3-0.2 1.4 0.9 1.3-0.1 1.4-0.8 1.3-0.4 1.3 1.3 1.4-1.1 1.3 0.8 1.4 0.3 1.3-1.4 1.4 0.5 1.3-0.3 1.3 0.4 1.4 0 1.3 0.7 1.4-0.6 1.3-0.3 1.3 0.5 1.4-0.7 1.3 0 1.4 1.1 1.3-1.5 1.3-0.1 1.4-0.2 1.3-1.4 1.4-2.2 1.3-1.6 1.4-5.8 1.3-7.3 1.3-9.7 1.4-11.8 1.3-11.8 1.4-9.2 1.3-4.9 1.3-1.8 1.4 1.2 1.3 1.8 1.4 4.8 1.3 4.8 1.3 6.8 1.4 5.9 1.3 6.5 1.4 6 1.3 5.4 1.4 4.7 1.3 5.3 1.3 2.8 1.4 3 1.3 2.7 1.4 1.6 1.3 1.8 1.3 1.4 1.4 0.3 1.3 0.4 1.4 0.2 1.3 0.5 1.3-1.1 1.4 1 1.3-0.5 1.4-0.2 1.3 0.6 1.4-0.1 1.3 0.5 1.3 0.1 1.4-1.5 1.3 1.1 1.4 1.2 1.3-0.4 1.3 0.3 1.4-0.7 1.3-0.7 1.4 0.2 1.3 1 1.3 0.2" fill="#fff" stroke="#4696c8" stroke-dasharray="0 402.7 694.0 9999"/>
<path d="M486.1 209.4L110.6 209.4L110.6 182.1l1.3-0.9 1.3 1.2 1.4 0 1.3-0.7 1.4 0.1 1.3 0.1 1.4 0.2 1.3-0.4 1.3 0.5 1.4-0.9 1.3-0.3 1.4-0.1 1.3-1 1.3 0.7 1.4 0.8 1.3-0.4 1.4-0.6 1.3 0.4 1.3-1.1 1.4 0.7 1.3 0.3 1.4 0 1.3-0.7 1.4 0.7 1.3 0.3 1.3-1.1 1.4 0.3 1.3-1.1 1.4-0.4 1.3 0.9 1.3-0.6 1.4-0.8 1.3-1.5 1.4-1.4 1.3-1.2 1.3-1.4 1.4-2.2 1.3-1.1 1.4 2 1.3 0.4 1.4 0.6 1.3 0.4 1.3 1.4 1.4-0.5 1.3 0.4 1.4-0.6 1.3 0.9 1.3 0.3 1.4 0.6 1.3 0.5 1.4-0.2 1.3 1.2 1.3-0.9 1.4 0.4 1.3 0.5 1.4-0.4 1.3 0.9 1.4 0.2 1.3-0.2 1.3 1 1.4-0.6 1.3 0 1.4-0.5 1.3-0.2 1.3 0.5 1.4 0.3 1.3 0 1.4 0.5 1.3-1.3 1.3 0.5 1.4-0.1 1.3 1.4 1.4-0.7 1.3-0.1 1.4-0.2 1.3 0.9 1.3-0.5 1.4 0.2 1.3-0.9 1.4 1.4 1.3-0.2 1.3 0.1 1.4 0.2 1.3-0.6 1.4 0 1.3 0.4 1.3-0.1 1.4-0.3 1.3 0.2 1.4-0.2 1.3 0.6 1.4 0.1 1.3-0.3 1.3 0.7 1.4-1.4 1.3 0.6 1.4 0.8 1.3-0.9 1.3-0.5 1.4 1.3 1.3-0.3 1.4-0.7 1.3 0.8 1.3-0.8 1.4-0.1 1.3 0.5 1.4-0.2 1.3-0.3 1.4 0.2 1.3-0.4 1.3 0.1 1.4-0.5 1.3-0.5 1.4-1.8 1.3-2.3 1.3-2.6 1.4-3 1.3-3.8 1.4-6.3 1.3-8.1 1.3-8.1 1.4-10.8 1.3-9.9 1.4-11.8 1.3-10.5 1.4-10.2 1.3-8.9 1.3-6 1.4-4.1 1.3-0.2 1.4 1.3 1.3 3.3 1.3 2.3 1.4 5.4 1.3 7.4 1.4 10.5 1.3 9.7 1.3 11.9 1.4 11.9 1.3 10.2 1.4 10.6 1.3 7.7 1.4 5.5 1.3 4.5 1.3 2.9 1.4 2.2 1.3 2.1 1.4 1 1.3 0.3 1.3 0.1 1.4-0.2 1.3 0.4 1.4-0.8 1.3 0.7 1.3 0.8 1.4-0.1 1.3-0.8 1.4 0.1 1.3 0.8 1.4 0.1 1.3-1.4 1.3 0.4 1.4 0.4 1.3 0.4 1.4-0.8 1.3 0.5 1.3-0.2 1.4 1.1 1.3-0.8 1.4-0.4 1.3 0 1.3 0.6 1.4-0.2 1.3-0.7 1.4 0.4 1.3-0.6 1.4 0.2 1.3-0.2 1.3 0 1.4 0.3 1.3-0.1 1.4 0.7 1.3 0.2 1.3-0.5 1.4-0.4 1.3 0.8 1.4-1.3 1.3 0.1 1.3 1.2 1.4 0.1 1.3 0.1 1.4-0.6 1.3-0.4 1.4 0.3 1.3 0.5 1.3-0.6 1.4 0 1.3-0.3 1.4 0.2 1.3 0.9 1.3-0.2 1.4-0.8 1.3 0 1.4 0.3 1.3 0.4 1.3-0.7 1.4 0.3 1.3-0.8 1.4 0.4 1.3 0.8 1.4 0.2 1.3-1 1.3 0.2 1.4 0.7 1.3-0.5 1.4-0.1 1.3 0.4 1.3-0.1 1.4 0.4 1.3-0.1 1.4-0.7 1.3 0.2 1.3 0 1.4-0.6 1.3 0.1 1.4 0.8 1.3-1 1.4 1 1.3-0.4 1.3-0.6 1.4-0.6 1.3-1.7 1.4-2.8 1.3-5.6 1.3-7.3 1.4-9.7 1.3-10.4 1.4-12.1 1.3-10.8 1.4-5.9 1.3-1.3 1.3 1.7 1.4 3 1.3 5 1.4 3.5 1.3 7 1.3 6.1 1.4 5.8 1.3 6.3 1.4 5.6 1.3 5.3 1.3 4.7 1.4 2.7 1.3 4 1.4 1.8 1.3 2.5 1.4 0.9 1.3 1.3 1.3 0.4 1.4 0.6 1.3-0.2 1.4-0.2 1.3 0.8 1.3 0.2 1.4 0.5 1.3-1.8 1.4 0.8 1.3 0.5 1.3-1 1.4 0.5 1.3 1.1 1.4-0.2 1.3-0.9 1.4 1 1.3 0 1.3-0.1 1.4-0.1 1.3-0.1 1.4-0.4 1.3 0.2" fill="#fff" stroke="#909090" stroke-dasharray="0 402.9 698.3 9999"/>
<path d="M484.7 211.3L109.1 211.3L109.1 184.2l1.4-0.5 1.3-0.2 1.3 1.1 1.4-1.2 1.3-0.2 1.4-0.5 1.3 0.1 1.3 0.6 1.4-0.1 1.3-0.4 1.4-0.4 1.3 0.4 1.4-1.1 1.3 0.5 1.3-0.1 1.4-0.3 1.3 0.3 1.4-0.4 1.3-0.1 1.3 1.1 1.4-0.5 1.3 0.1 1.4-0.6 1.3 0.3 1.3-0.2 1.4 0.2 1.3 0.4 1.4-1.4 1.3-0.1 1.4-0.6 1.3-2.2 1.3 0.1 1.4-0.4 1.3-1.3 1.4-2.3 1.3-0.7 1.3-1 1.4-0.6 1.3 1.5 1.4 0.7 1.3-0.1 1.3-0.2 1.4 1.6 1.3-0.3 1.4 0.3 1.3 0.5 1.4 0.1 1.3 1.1 1.3 0.2 1.4 0.5 1.3-0.2 1.4-0.4 1.3 0.5 1.3 0.6 1.4-0.2 1.3 1.6 1.4-1.3 1.3-0.1 1.3 0.9 1.4 0 1.3-0.3 1.4-0.1 1.3 0.5 1.4 0.3 1.3 0 1.3-0.5 1.4 0.4 1.3 0.3 1.4-0.1 1.3-1.8 1.3 0.9 1.4 0.2 1.3 0.4 1.4 0.2 1.3 0.4 1.3-0.1 1.4-0.4 1.3 0.2 1.4 0.8 1.3-1.1 1.4 0.4 1.3 0.6 1.3-0.6 1.4-1.2 1.3 1.1 1.4-0.2 1.3 0.2 1.3 0.6 1.4-0.3 1.3-0.3 1.4 0.6 1.3-0.2 1.3-0.2 1.4 0.2 1.3-0.1 1.4-0.2 1.3-0.1 1.4 0.2 1.3-0.4 1.3-0.1 1.4 1.2 1.3-0.6 1.4 0.1 1.3-0.1 1.3 0.1 1.4 0 1.3 0 1.4-0.4 1.3 0.6 1.3-0.8 1.4 0.3 1.3-1.9 1.4-0.5 1.3-0.3 1.4-2.5 1.3-2.9 1.3-3.3 1.4-5.5 1.3-5.8 1.4-8.5 1.3-8.2 1.3-10 1.4-10.3 1.3-11.1 1.4-11.7 1.3-8.9 1.3-9.2 1.4-6.8 1.3-3.1 1.4 1.5 1.3 0.1 1.4 1.8 1.3 4 1.3 6 1.4 9.3 1.3 9.2 1.4 11.8 1.3 10.5 1.3 10.4 1.4 12 1.3 8.8 1.4 7.8 1.3 6.9 1.3 3.6 1.4 3.7 1.3 1.5 1.4 0.9 1.3 1.3 1.4-0.1 1.3 1.1 1.3 0 1.4-0.4 1.3 0.3 1.4 0 1.3-0.3 1.3 0.5 1.4-0.5 1.3 0.3 1.4-0.6 1.3 0.4 1.3 0.2 1.4-0.6 1.3 0.2 1.4 0 1.3 0.6 1.4-0.6 1.3 0.5 1.3 0.6 1.4-0.6 1.3-1 1.4 0.8 1.3 0.5 1.3-0.5 1.4 0.6 1.3-0.2 1.4-0.1 1.3-0.4 1.3-0.1 1.4 0.1 1.3 0.2 1.4 0.3 1.3-0.1 1.4-0.3 1.3 0.2 1.3 0.1 1.4-1 1.3 0.4 1.4 0 1.3 0.3 1.3 0 1.4 0 1.3-0.2 1.4 0.7 1.3-0.2 1.3-0.9 1.4 0.7 1.3-0.4 1.4 1.3 1.3-0.9 1.4-0.1 1.3 0.3 1.3-0.2 1.4 0.1 1.3 0.8 1.4-0.6 1.3 0.2 1.3 0.1 1.4-0.9 1.3 1.2 1.4-0.4 1.3 0 1.3-0.9 1.4 0.8 1.3-0.2 1.4-0.4 1.3 1.3 1.4-0.8 1.3-0.5 1.3 0.2 1.4 0.4 1.3 0.1 1.4-0.2 1.3 0.3 1.3 0 1.4-1.3 1.3 0.2 1.4-0.2 1.3 0.5 1.3 0.5 1.4-0.8 1.3-1.7 1.4-1.3 1.3-2.4 1.4-5.6 1.3-7.1 1.3-9.5 1.4-12.3 1.3-10.5 1.4-10 1.3-6.1 1.3-1.9 1.4 1.3 1.3 2.9 1.4 4.6 1.3 5.1 1.3 6 1.4 7 1.3 6.1 1.4 5.1 1.3 5.7 1.4 6.1 1.3 3.5 1.3 4.4 1.4 3.1 1.3 1.3 1.4 1.8 1.3 1.4 1.3 0.5 1.4 0.6 1.3 0.8 1.4 0.9 1.3-0.4 1.4 0.2 1.3-0.1 1.3-0.3 1.4 1.2 1.3-1.7 1.4 0.7 1.3 0.6 1.3-0.8 1.4 1 1.3 0.3 1.4-0.9 1.3 0.5 1.3-0.5 1.4 0.8 1.3-0.1 1.4 0.2 1.3 0.6 1.4-0.3" fill="#fff" stroke="#6ec86e" stroke-dasharray="0 402.6 696.2 9999"/>
<path d="M483.2 213.1L107.7 213.1L107.7 185.7l1.3-0.7 1.3 0.3 1.4-0.5 1.3 1.3 1.4-0.7 1.3 0.3 1.4-1.3 1.3 0.5 1.3-0.8 1.4 0.6 1.3-0.1 1.4-1.2 1.3 0 1.3-0.1 1.4-0.2 1.3 0.2 1.4-0.2 1.3-0.3 1.3 0.6 1.4 0.1 1.3-0.9 1.4 0.2 1.3 0.2 1.4-0.2 1.3-0.3 1.3 0.5 1.4 0 1.3-0.3 1.4-0.5 1.3 0.6 1.3-0.8 1.4-2 1.3-1.2 1.4-1 1.3-2.6 1.3-0.9 1.4-0.8 1.3 0.1 1.4 0.7 1.3 0 1.4 0.9 1.3 0 1.3 2.3 1.4 0.2 1.3 0.2 1.4-0.1 1.3 0.6 1.3 0.5 1.4 0.1 1.3 0.1 1.4-0.5 1.3 0.7 1.4-0.3 1.3-0.1 1.3 0.2 1.4 0.9 1.3 0.4 1.4-0.9 1.3 1.4 1.3 0.1 1.4-0.8 1.3 0 1.4 0.2 1.3 0.6 1.3-0.6 1.4-0.3 1.3 0.6 1.4-0.9 1.3 1 1.4 0.6 1.3-0.3 1.3 0.2 1.4-0.1 1.3 0.1 1.4-0.3 1.3-0.4 1.3 0.2 1.4 0.2 1.3 0.6 1.4 0.2 1.3-0.6 1.3-0.6 1.4 0 1.3 0.3 1.4 0.7 1.3-0.4 1.4-0.2 1.3-0.2 1.3 0.7 1.4-0.2 1.3-0.1 1.4 0.1 1.3 0.7 1.3-0.7 1.4 0.8 1.3-0.2 1.4-0.5 1.3 0.4 1.3-0.5 1.4-0.3 1.3 0.2 1.4-0.2 1.3 0.7 1.4-0.2 1.3 0.3 1.3 0 1.4-1.7 1.3 1.2 1.4-0.8 1.3 0.5 1.3-0.7 1.4-0.1 1.3-0.4 1.4-2.7 1.3-1.3 1.3-3 1.4-4.6 1.3-3.9 1.4-6.6 1.3-8 1.4-9.1 1.3-8.5 1.3-12.5 1.4-12 1.3-10.5 1.4-9.4 1.3-7.9 1.3-5.5 1.4-3 1.3 0.5 1.4 0.5 1.3 2 1.3 4.5 1.4 6.7 1.3 8.8 1.4 9.9 1.3 10.6 1.4 11.7 1.3 11.5 1.3 11.1 1.4 8 1.3 7.9 1.4 5.9 1.3 3.6 1.3 3.4 1.4 1.9 1.3 1 1.4 1.1 1.3 0.7 1.3 0.2 1.4-0.5 1.3 0.3 1.4 0.9 1.3-1.4 1.4 0.5 1.3 0.3 1.3-0.2 1.4 0.2 1.3-0.2 1.4 0.3 1.3 0.2 1.3-0.6 1.4 0.1 1.3-0.1 1.4-0.2 1.3 0.2 1.3-0.4 1.4 0.8 1.3 0.5 1.4 0.1 1.3-0.3 1.4-0.9 1.3 0.9 1.3-0.9 1.4 0.3 1.3 0.8 1.4-1.2 1.3 0.8 1.3-0.2 1.4-0.2 1.3-0.3 1.4 0.5 1.3-0.3 1.3 0.7 1.4 0.1 1.3-1.2 1.4 0.3 1.3 0.1 1.4-0.4 1.3 0.1 1.3 0.5 1.4-0.1 1.3-0.6 1.4 0.5 1.3 0.5 1.3-0.8 1.4 0.2 1.3 1.2 1.4-0.2 1.3-1.3 1.3 0.1 1.4 0.7 1.3-0.6 1.4 0.3 1.3 0 1.4 0.3 1.3-1.4 1.3 0.1 1.4 0.5 1.3 1 1.4-0.5 1.3-0.7 1.3 1 1.4 0.1 1.3-0.4 1.4-0.1 1.3 0.4 1.3 0.3 1.4-0.5 1.3 0.1 1.4-0.2 1.3-0.2 1.4-0.3 1.3 0.5 1.3-0.2 1.4 0 1.3 0.5 1.4-0.2 1.3-0.1 1.3-1.4 1.4 0 1.3-2.1 1.4-3.2 1.3-4.8 1.3-6.2 1.4-9.7 1.3-12.1 1.4-11.8 1.3-9.4 1.4-6.3 1.3-0.4 1.3-0.1 1.4 2.5 1.3 4.9 1.4 5.3 1.3 5.9 1.3 6.6 1.4 6.8 1.3 5 1.4 5.4 1.3 4.6 1.3 5.2 1.4 4 1.3 2.5 1.4 2.9 1.3 1.3 1.4 1.9 1.3 0.4 1.3 0 1.4 0.6 1.3-0.1 1.4 0.1 1.3 1.1 1.3 0.4 1.4 0.5 1.3-0.9 1.4-0.2 1.3-0.3 1.3 0.9 1.4-0.2 1.3-0.4 1.4 0.6 1.3 0 1.4-1 1.3 1.2 1.3-0.2 1.4-0.2 1.3 0.2 1.4 1 1.3 0.1" fill="#fff" stroke="#9682e6" stroke-dasharray="0 403.0 693.2 9999"/>
<path d="M481.8 215L106.2 215L106.2 187.3l1.4-0.6 1.3-0.9 1.3 1.1 1.4-0.9 1.3 0.9 1.4-1.3 1.3-0.3 1.3 0.9 1.4 0 1.3-0.3 1.4-0.7 1.3 0.8 1.4-1.1 1.3 0.2 1.3-0.2 1.4 0.1 1.3 0.4 1.4-0.7 1.3 0.4 1.3-0.1 1.4-1.3 1.3 0.1 1.4 0.3 1.3-0.2 1.3 0.2 1.4-1 1.3 1 1.4-0.1 1.3-0.7 1.4-1 1.3-0.1 1.3-1.3 1.4-0.9 1.3-1.8 1.4-1.3 1.3-1.6 1.3 0.4 1.4-1 1.3 1.1 1.4 1.2 1.3-0.3 1.3 1.3 1.4-0.4 1.3 0.9 1.4-0.1 1.3 0.6 1.4 0.5 1.3 0.2 1.3 0.2 1.4 1.3 1.3-0.7 1.4-0.3 1.3 1 1.3 0.2 1.4 0.3 1.3 0.3 1.4-1 1.3 0.9 1.3 0.2 1.4-0.5 1.3 0.1 1.4-1.4 1.3 1.2 1.4 1.1 1.3-1.5 1.3 0.5 1.4 0.5 1.3 0.3 1.4 0.4 1.3-1.5 1.3 0.8 1.4 0.4 1.3-0.9 1.4 0.6 1.3 0.9 1.4-0.2 1.3-0.5 1.3-1.4 1.4 1.1 1.3 0.3 1.4-0.3 1.3 0.2 1.3 1.4 1.4-1.5 1.3-0.4 1.4 0.5 1.3-0.2 1.3 0.1 1.4 0.1 1.3 0.5 1.4-0.3 1.3-0.6 1.4 0.5 1.3 0.3 1.3-0.3 1.4 0.7 1.3-0.1 1.4-0.8 1.3 0.6 1.3 0.9 1.4-0.2 1.3-0.7 1.4 0.3 1.3-0.7 1.3-0.3 1.4 0.9 1.3-0.1 1.4 0 1.3-0.3 1.4-0.2 1.3-0.7 1.3-0.2 1.4-0.8 1.3-1.8 1.4-1.9 1.3-4.1 1.3-3.5 1.4-4.1 1.3-6.4 1.4-8.6 1.3-9.5 1.3-10.9 1.4-10.3 1.3-11 1.4-11.7 1.3-8.7 1.4-7.6 1.3-5.2 1.3-2.9 1.4 0.7 1.3 0.3 1.4 3.9 1.3 4 1.3 6 1.4 9.7 1.3 10.1 1.4 10.4 1.3 12.6 1.3 9.9 1.4 10.8 1.3 9.2 1.4 5.8 1.3 7 1.4 3.7 1.3 2.8 1.3 1.4 1.4 1.7 1.3 0 1.4 0.4 1.3 0.4 1.3-0.1 1.4 1.2 1.3-1.2 1.4 0.2 1.3 0.3 1.3 0.2 1.4 0.4 1.3 0 1.4-0.5 1.3 0 1.4 0.2 1.3 0.4 1.3-0.1 1.4-0.6 1.3-0.6 1.4 1.9 1.3-0.4 1.3-0.4 1.4 0 1.3-0.4 1.4-0.3 1.3 0.4 1.3 0 1.4-0.2 1.3-0.3 1.4 0.5 1.3 0.5 1.4-0.5 1.3 0.1 1.3-0.8 1.4 0.8 1.3 0 1.4-0.5 1.3-0.2 1.3 1 1.4-0.4 1.3 0.5 1.4-0.3 1.3 0.4 1.3-0.5 1.4-0.5 1.3 0.6 1.4 0 1.3 0.5 1.4-0.5 1.3 0 1.3 0.6 1.4 0.2 1.3-0.1 1.4 0.1 1.3-0.3 1.3 0.1 1.4 0.1 1.3-0.3 1.4-0.2 1.3 0.1 1.3 1 1.4-1.1 1.3-0.2 1.4-0.1 1.3 0.2 1.4 0.1 1.3-0.7 1.3-0.4 1.4 1 1.3-0.8 1.4 0.8 1.3 0 1.3 0.5 1.4 0.2 1.3-0.6 1.4-0.5 1.3-0.3 1.3 0.1 1.4 0.3 1.3-0.9 1.4 0.9 1.3 0 1.4 0.1 1.3-0.8 1.3-0.7 1.4-2 1.3-2.9 1.4-5.3 1.3-6.3 1.3-8.8 1.4-11.8 1.3-11.6 1.4-10.5 1.3-5.3 1.3-2.2 1.4 1.9 1.3 2.5 1.4 3.6 1.3 5.9 1.4 5.5 1.3 6.2 1.3 6.4 1.4 5.9 1.3 5.5 1.4 5.4 1.3 3.9 1.3 3.8 1.4 2.6 1.3 2 1.4 2.1 1.3 1.5 1.3 1.2 1.4 1.1 1.3-0.8 1.4 1 1.3-0.8 1.4 0.6 1.3 0.3 1.3-0.8 1.4 0.2 1.3 1 1.4 0 1.3-0.1 1.3-0.2 1.4 1.3 1.3-0.9 1.4-0.3 1.3 1.2 1.3-0.4 1.4-0.3 1.3 0.7 1.4-0.4 1.3 0.3 1.4-0.2" fill="#fff" stroke="#46c8c8" stroke-dasharray="0 403.2 697.0 9999"/>
<path d="M480.3 216.8L104.8 216.8L104.8 189.6l1.3-0.5 1.4 0.3 1.3-0.7 1.3-0.8 1.4 0.6 1.3-0.4 1.4-0.1 1.3-0.2 1.3 0.4 1.4-0.5 1.3-0.7 1.4 0.3 1.3 0 1.3-0.8 1.4 0 1.3-0.1 1.4-0.2 1.3 0.3 1.4 0.2 1.3 0.3 1.3-0.4 1.4-0.2 1.3-0.1 1.4-0.1 1.3-0.9 1.3 0.3 1.4-0.3 1.3-0.5 1.4-0.5 1.3-0.5 1.3-0.7 1.4-1.5 1.3-0.7 1.4-1.8 1.3-1.3 1.4-0.8 1.3 0.3 1.3 0 1.4 0.7 1.3-0.2 1.4 0.1 1.3 0.6 1.3 1.9 1.4-1 1.3 1.3 1.4 0.7 1.3-0.5 1.3 1.2 1.4 0.3 1.3-0.1 1.4 0.7 1.3-0.6 1.4-0.5 1.3 0.6 1.3-0.3 1.4-0.3 1.3 0.2 1.4 1.7 1.3-1.1 1.3 0.2 1.4-0.2 1.3 0.4 1.4-0.1 1.3-0.1 1.3-0.3 1.4-0.1 1.3 0.4 1.4 0.6 1.3 0.9 1.4-0.4 1.3 0.3 1.3-0.6 1.4-0.3 1.3-0.5 1.4 0.4 1.3-0.8 1.3 0.8 1.4 0.9 1.3-0.4 1.4 0.2 1.3-0.7 1.3-0.5 1.4 0.4 1.3 0.1 1.4 0.8 1.3 0.4 1.4-1.2 1.3 0.1 1.3 0.1 1.4-0.1 1.3-0.3 1.4 0.6 1.3 0.2 1.3 0 1.4-0.6 1.3 0.4 1.4-0.6 1.3 1.1 1.3-0.7 1.4 0.2 1.3 0 1.4 0 1.3-0.3 1.4-0.2 1.3 1.6 1.3-0.6 1.4 0 1.3 0.7 1.4-1 1.3-0.1 1.3-0.6 1.4-0.2 1.3-1.3 1.4-1.6 1.3-2.5 1.4-2.8 1.3-3.9 1.3-6.7 1.4-6 1.3-8.2 1.4-9.4 1.3-11.1 1.3-10 1.4-11.7 1.3-10.4 1.4-9.5 1.3-7.8 1.3-4.4 1.4-2.4 1.3 0.6 1.4 1.6 1.3 3.1 1.4 4.8 1.3 6.9 1.3 9.7 1.4 9.5 1.3 10.4 1.4 11.7 1.3 11.2 1.3 10.3 1.4 8.5 1.3 7 1.4 6.6 1.3 3.2 1.3 2.5 1.4 1.8 1.3 1.1 1.4 1.3 1.3 0 1.4 0.3 1.3-1.7 1.3 1.5 1.4 0.5 1.3 0.4 1.4-0.9 1.3-0.7 1.3 0.9 1.4-0.4 1.3-0.6 1.4 0.6 1.3 0.9 1.3 0.1 1.4-0.3 1.3-0.7 1.4 1.5 1.3-1.5 1.4 0.3 1.3-0.5 1.3 1.2 1.4-0.3 1.3 0.2 1.4-0.4 1.3 0 1.3 0 1.4-0.8 1.3 1.2 1.4 0.1 1.3-0.6 1.3 0.1 1.4 0.2 1.3 0.6 1.4-0.5 1.3-0.2 1.4-0.3 1.3-0.4 1.3 0.4 1.4 0.3 1.3-0.1 1.4 0.2 1.3 0.3 1.3-0.1 1.4-0.1 1.3 0.2 1.4-0.2 1.3-0.1 1.3 0.2 1.4-0.9 1.3 1.2 1.4-1 1.3 0.9 1.4-0.3 1.3 0.5 1.3-0.5 1.4-0.5 1.3 0.9 1.4-0.4 1.3-0.1 1.3 0 1.4 0.5 1.3-0.1 1.4-0.4 1.3-0.8 1.3 0.5 1.4 0.3 1.3 0.7 1.4-0.6 1.3-0.2 1.4 0.5 1.3-0.6 1.3 0 1.4 0 1.3-0.6 1.4 1 1.3-0.2 1.3-0.4 1.4-0.4 1.3 0.6 1.4 0.5 1.3-1.1 1.3-0.6 1.4-0.2 1.3-2.6 1.4-3.2 1.3-4 1.4-7.1 1.3-9.3 1.3-11.3 1.4-11.2 1.3-10.2 1.4-6.5 1.3-1.3 1.3 1.7 1.4 2.9 1.3 4.1 1.4 4.8 1.3 4.1 1.3 7.1 1.4 6.7 1.3 6.3 1.4 4.9 1.3 6.3 1.4 4 1.3 3.2 1.3 3.2 1.4 2.1 1.3 1.7 1.4 1.8 1.3 0.5 1.3 0.3 1.4 0.8 1.3 0.5 1.4-0.2 1.3 1.1 1.3-0.8 1.4 1.2 1.3-0.3 1.4-0.9 1.3 0.5 1.4 0.5 1.3-0.7 1.3-0.4 1.4 0.7 1.3 0.9 1.4-1.4 1.3 0.8 1.3-0.1 1.4 0 1.3-0.1 1.4 0.1 1.3 0.7" fill="#fff" stroke="#e678be" stroke-dasharray="0 402.7 694.9 9999"/>
<path d="M478.9 218.6L103.3 218.6L103.3 189.7l1.4 0.7 1.3-1 1.3 1.2 1.4-0.9 1.3 0.1 1.4-0.2 1.3-0.1 1.4-0.4 1.3-0.2 1.3 0 1.4 0.4 1.3 0 1.4-0.1 1.3-0.6 1.3-0.6 1.4-0.7 1.3 0.9 1.4 0 1.3-0.7 1.3 0.4 1.4 0.1 1.3-0.7 1.4 0.3 1.3-0.6 1.4-1.1 1.3 0.4 1.3-0.1 1.4 0.2 1.3-1 1.4-0.4 1.3-1.1 1.3-0.8 1.4-1.4 1.3-1 1.4-1.4 1.3-0.8 1.3 0.5 1.4 0.4 1.3 0.6 1.4 1 1.3-1.4 1.4 1.3 1.3 0.7 1.3 0.7 1.4-0.7 1.3 0.9 1.4 0.5 1.3-0.5 1.3-0.5 1.4 0.9 1.3-0.1 1.4 0.9 1.3-0.4 1.3 1.3 1.4-0.6 1.3-0.4 1.4 0.2 1.3-0.2 1.4 0.8 1.3 0.6 1.3-0.6 1.4 0.4 1.3-0.7 1.4 0.6 1.3 0.9 1.3-1.5 1.4 1.1 1.3 0 1.4-1.4 1.3 0.1 1.3 0.3 1.4 1 1.3-0.6 1.4 0.1 1.3 0.4 1.4-0.2 1.3 0 1.3-0.2 1.4 0.6 1.3-0.8 1.4 1 1.3-0.8 1.3-0.3 1.4 0.7 1.3-0.2 1.4-1 1.3 0.9 1.3-0.6 1.4 0.3 1.3 0.7 1.4-0.6 1.3 0.5 1.4-0.2 1.3 1.1 1.3-0.9 1.4-0.6 1.3 0 1.4 0.2 1.3 0.5 1.3 0.1 1.4 0.4 1.3-0.3 1.4 0 1.3 0.1 1.3-0.2 1.4 0.2 1.3 0.2 1.4-0.1 1.3-0.8 1.4-0.9 1.3 0 1.3-0.2 1.4-2.3 1.3-0.8 1.4-1.8 1.3-3.7 1.3-4.5 1.4-4.2 1.3-7 1.4-9.1 1.3-8.8 1.3-10.6 1.4-12.2 1.3-9.5 1.4-12 1.3-9 1.4-7.3 1.3-4 1.3-2 1.4 1 1.3 2 1.4 2.7 1.3 4.9 1.3 7.8 1.4 8 1.3 11.1 1.4 10.8 1.3 11.6 1.4 11 1.3 9.9 1.3 8.4 1.4 6.5 1.3 5.4 1.4 4.3 1.3 2.3 1.3 1.1 1.4 1.2 1.3 0.6 1.4 0.6 1.3 0.3 1.3 0.1 1.4-0.3 1.3 0.3 1.4-0.7 1.3-0.7 1.4 1.3 1.3-0.6 1.3 0.3 1.4 0 1.3 0.8 1.4-0.7 1.3 0.6 1.3-0.3 1.4-0.4 1.3-0.1 1.4 0.9 1.3 0.1 1.3 0.3 1.4 0.4 1.3-0.7 1.4 0 1.3-0.2 1.4 0.1 1.3-0.2 1.3-0.2 1.4 1.2 1.3-1.6 1.4 0.9 1.3 0.1 1.3-0.1 1.4-0.5 1.3 0.3 1.4-0.1 1.3-0.3 1.3 0.5 1.4-0.1 1.3-0.1 1.4 0.6 1.3-0.7 1.4 0.6 1.3-0.4 1.3 0.4 1.4-0.1 1.3 0 1.4-0.5 1.3 0 1.3 0.1 1.4 0.5 1.3 0.3 1.4 0.2 1.3-0.8 1.3 0.2 1.4-0.9 1.3-0.3 1.4 0.6 1.3 0.1 1.4-0.4 1.3-0.1 1.3 1.1 1.4-0.6 1.3-0.3 1.4 1.7 1.3-0.9 1.3-0.3 1.4 0.4 1.3-0.5 1.4 0.9 1.3-1.4 1.3 0 1.4 0.5 1.3-0.1 1.4 0.8 1.3-1.3 1.4 0.3 1.3 0.5 1.3 0.2 1.4 0.2 1.3-0.3 1.4 0.6 1.3-1.6 1.3-0.6 1.4-1.3 1.3-3.4 1.4-4.8 1.3-7.1 1.3-9.6 1.4-11.4 1.3-11.4 1.4-10.3 1.3-5.6 1.4-2.2 1.3 2.9 1.3 2.6 1.4 3.7 1.3 4.4 1.4 5.7 1.3 7 1.3 5.8 1.4 6.2 1.3 5.1 1.4 5.8 1.3 3.6 1.3 3.9 1.4 2.2 1.3 2.8 1.4 2.3 1.3 0.9 1.4 1 1.3 1.2 1.3 0.2 1.4 0.7 1.3-1.4 1.4 1.4 1.3 0.1 1.3-0.9 1.4 0.1 1.3 1 1.4-0.8 1.3 0.1 1.3 0.6 1.4-0.3 1.3 0.4 1.4-0.6 1.3 0.6 1.4 0.5 1.3-0.4 1.3-1.1 1.4 1.3 1.3-0.1 1.4-0.3" fill="#fff" stroke="#b4b45a" stroke-dasharray="0 404.5 696.3 9999"/>
<path d="M477.4 220.5L101.9 220.5L101.9 191.3l1.3 0.9 1.4-1.3 1.3 0.5 1.3-0.6 1.4-0.6 1.3 0.7 1.4-0.1 1.3 0.7 1.3 0.2 1.4-1.3 1.3 0.3 1.4-0.1 1.3-1 1.4-0.3 1.3 1 1.3-1 1.4-0.1 1.3-0.3 1.4-0.1 1.3-0.3 1.3 0.5 1.4 0.1 1.3-1 1.4-0.7 1.3 0.5 1.3-0.8 1.4 0.2 1.3 0.7 1.4 0.2 1.3-1.7 1.4-1.7 1.3-0.6 1.3-2.8 1.4-0.7 1.3 0.2 1.4-0.6 1.3-0.5 1.3 0.4 1.4 1.6 1.3 0.1 1.4 0.1 1.3 0.8 1.3-0.2 1.4-0.3 1.3 1.5 1.4-0.4 1.3 0 1.4 0.1 1.3 0.9 1.3-0.2 1.4 0.7 1.3-0.1 1.4 0.7 1.3-0.6 1.3-0.1 1.4-0.6 1.3 0.6 1.4 1.1 1.3 1.1 1.3-2 1.4 0.1 1.3 0.7 1.4 0.1 1.3-0.5 1.4 0.3 1.3-0.7 1.3 0.7 1.4 0.7 1.3 0.3 1.4-0.8 1.3-0.1 1.3 0.4 1.4 0.3 1.3-0.3 1.4-0.6 1.3 0.5 1.3 0.3 1.4-0.8 1.3-0.3 1.4 0.9 1.3 0 1.4 0.3 1.3-0.5 1.3-0.4 1.4 0.1 1.3-0.3 1.4 0.1 1.3 0.2 1.3 0.2 1.4 0.7 1.3-1 1.4 0.5 1.3-0.1 1.3 1 1.4-0.6 1.3-0.2 1.4 0.5 1.3-0.3 1.4-0.2 1.3 1 1.3-0.3 1.4 0.5 1.3-0.2 1.4-0.3 1.3-0.3 1.3-0.6 1.4 0.8 1.3-0.3 1.4 0.1 1.3-0.6 1.3-0.9 1.4-0.9 1.3-0.3 1.4-1.4 1.3-3.1 1.4-3 1.3-4.1 1.3-6.7 1.4-7 1.3-8.8 1.4-8.6 1.3-11 1.3-11.6 1.4-11.7 1.3-9.6 1.4-8.2 1.3-7.3 1.3-4.1 1.4-0.6 1.3-0.4 1.4 2.2 1.3 3.6 1.4 4.7 1.3 7.3 1.3 9.7 1.4 10.4 1.3 11.3 1.4 11.6 1.3 10.9 1.3 9.2 1.4 8.4 1.3 7.3 1.4 5.4 1.3 3.7 1.3 1.4 1.4 2.5 1.3 0.8 1.4 0.1 1.3 0.6 1.4 0.4 1.3 0.4 1.3-1.2 1.4 0.7 1.3-0.3 1.4 0 1.3 0.7 1.3-0.1 1.4-0.9 1.3 0.3 1.4 0.3 1.3-0.7 1.4 1 1.3-0.3 1.3 0.1 1.4 0.1 1.3 0.7 1.4-0.8 1.3-0.2 1.3 1 1.4-1 1.3-0.2 1.4-0.3 1.3 1.2 1.3-0.3 1.4 0.1 1.3-0.2 1.4-0.2 1.3-0.3 1.4 0.1 1.3 0.6 1.3-0.1 1.4 0.7 1.3-1.1 1.4 0 1.3-0.1 1.3 1 1.4-1.1 1.3 1 1.4 0.3 1.3-0.7 1.3 0.3 1.4-1.3 1.3 0.7 1.4-0.5 1.3 0.9 1.4 0 1.3-0.4 1.3 0.8 1.4-0.2 1.3-0.4 1.4-0.1 1.3-0.5 1.3 0.7 1.4 1.1 1.3-1.3 1.4 0.4 1.3-0.4 1.3 0.6 1.4-0.1 1.3-0.5 1.4-0.7 1.3 0.6 1.4 0.8 1.3-0.6 1.3 0.3 1.4-0.6 1.3-0.6 1.4 1.1 1.3-0.1 1.3-0.4 1.4 0.1 1.3 0.3 1.4-0.4 1.3 0.4 1.3-0.4 1.4-1 1.3 1 1.4-0.2 1.3-0.3 1.4 0.2 1.3-1.1 1.3-1.1 1.4-2.6 1.3-5.3 1.4-7.8 1.3-9 1.3-10.4 1.4-12.1 1.3-10.3 1.4-6.1 1.3-1.2 1.3 1.1 1.4 2.8 1.3 3.3 1.4 5.3 1.3 5.8 1.4 6.2 1.3 5.4 1.3 6.8 1.4 5.3 1.3 6.4 1.4 4.6 1.3 3.6 1.3 2.5 1.4 1.8 1.3 2.4 1.4 0.8 1.3 1.3 1.3 0 1.4 0.5 1.3 0.9 1.4 0.8 1.3-0.6 1.4 1.2 1.3 0.2 1.3-1.9 1.4 0.4 1.3-0.4 1.4 0.4 1.3-0.2 1.3 0.3 1.4 0.6 1.3 0.1 1.4-0.3 1.3-0.1 1.3 0.1 1.4 0.1 1.3 0.2 1.4-0.2 1.3 0.2" fill="#fff" stroke="#64a0e6" stroke-dasharray="0 404.8 695.2 9999"/>
<path d="M476 222.3L100.4 222.3L100.4 193.7l1.4-1.3 1.3-0.3 1.4 0.7 1.3 0.2 1.3-0.6 1.4-1 1.3 0.8 1.4-0.6 1.3 0.7 1.3-0.5 1.4 0 1.3 0 1.4-0.7 1.3 0.5 1.3 0.1 1.4-0.6 1.3 0.2 1.4-1 1.3 0.5 1.4-0.5 1.3-0.8 1.3 0.2 1.4-0.3 1.3-0.2 1.4 0.2 1.3 0.3 1.3-0.9 1.4-0.2 1.3-1.2 1.4 0.1 1.3-0.5 1.3-1.6 1.4-1.6 1.3-1.8 1.4-1 1.3 0.6 1.4-0.1 1.3 0.6 1.3 1.4 1.4-0.3 1.3 1.5 1.4-1.1 1.3 1 1.3-0.4 1.4 0.8 1.3-0.2 1.4 0.6 1.3 0.2 1.3 0 1.4 0.7 1.3 0.6 1.4-0.8 1.3 0.7 1.4-0.3 1.3 0.1 1.3 1 1.4-1.9 1.3 0.6 1.4-0.4 1.3 0.8 1.3 0.3 1.4 1.9 1.3-1.4 1.4 0.5 1.3-0.2 1.3-0.8 1.4 0.4 1.3 0.6 1.4-0.6 1.3-0.1 1.4 0.1 1.3-0.9 1.3 0.3 1.4 0.6 1.3 0.1 1.4-0.7 1.3 0.2 1.3 0.2 1.4 0 1.3 0.4 1.4-0.3 1.3 0 1.3-0.8 1.4 0.1 1.3 0.7 1.4-0.8 1.3 0.8 1.4-0.3 1.3-0.1 1.3 0.7 1.4-0.5 1.3-0.1 1.4 0.1 1.3 0.5 1.3 1.2 1.4-2.2 1.3 0.9 1.4 0 1.3 0.6 1.3-0.7 1.4-0.9 1.3 1.8 1.4-1 1.3 0.4 1.4-0.6 1.3 0.1 1.3 0.3 1.4 0.6 1.3-0.2 1.4-0.9 1.3-0.1 1.3-1.2 1.4-1 1.3-1.7 1.4-2.3 1.3-4.1 1.3-4.4 1.4-5.7 1.3-7.4 1.4-9 1.3-8.7 1.4-11.7 1.3-10.7 1.3-11.2 1.4-9.8 1.3-10.1 1.4-4.4 1.3-4.7 1.3-1.2 1.4 1.3 1.3 2.9 1.4 2.7 1.3 4.7 1.3 8 1.4 10.1 1.3 9.4 1.4 11.9 1.3 11.4 1.4 11.9 1.3 8.6 1.3 8.7 1.4 5.5 1.3 4.8 1.4 4.4 1.3 2.1 1.3 0.4 1.4 2 1.3 0.5 1.4-0.3 1.3 0.5 1.3 0.1 1.4-0.3 1.3-0.1 1.4 0.1 1.3 0.1 1.4-0.4 1.3 0.6 1.3-0.6 1.4 0.7 1.3 0 1.4-0.4 1.3 1 1.3 0.6 1.4-0.4 1.3-1.2 1.4 1.2 1.3-0.5 1.3-0.1 1.4-0.3 1.3 0.4 1.4 0.7 1.3-0.4 1.4-0.5 1.3-0.2 1.3 0.2 1.4 0.6 1.3 0.5 1.4-1.3 1.3 0.4 1.3-0.2 1.4-0.1 1.3 0.6 1.4 0 1.3-0.9 1.3 0.2 1.4 1.1 1.3-0.3 1.4 0 1.3-0.5 1.4 0.1 1.3 0.4 1.3-0.5 1.4-0.2 1.3 0.5 1.4 0.5 1.3-0.9 1.3 1 1.4-0.2 1.3-0.7 1.4 0.4 1.3 0 1.4 0.3 1.3 0 1.3-1 1.4 0 1.3 1.1 1.4-0.3 1.3 0 1.3 0.1 1.4 0.4 1.3-1.2 1.4 0.9 1.3-0.8 1.3 0.7 1.4 0.3 1.3-1.3 1.4 0.7 1.3-0.2 1.4-0.1 1.3 0.1 1.3-0.5 1.4 0.1 1.3 0.8 1.4 0 1.3-0.7 1.3-0.4 1.4 1.8 1.3-0.6 1.4-0.6 1.3-1.1 1.3-0.6 1.4-1.1 1.3-3.3 1.4-3.6 1.3-7.5 1.4-9.4 1.3-11.8 1.3-11.6 1.4-9.9 1.3-6 1.4-1.8 1.3 1.1 1.3 3 1.4 4 1.3 5.6 1.4 4.9 1.3 5.8 1.3 6.8 1.4 6.7 1.3 4.8 1.4 5.2 1.3 4.3 1.4 4 1.3 2.9 1.3 1.8 1.4 2.1 1.3 1.9 1.4 1.1 1.3 0.6 1.3 0.4 1.4-0.3 1.3 0.2 1.4 0.7 1.3-0.9 1.3 0.4 1.4-0.8 1.3 0.7 1.4-0.1 1.3-0.2 1.4 0.8 1.3-0.5 1.3 0.2 1.4 0.1 1.3-0.1 1.4 1 1.3-0.8 1.3 0.3 1.4-0.7 1.3 0.4 1.4 0.2" fill="#fff" stroke="#a08cd2" stroke-dasharray="0 404.2 697.5 9999"/>
<path d="M474.5 224.2L99 224.2L99 195.2l1.3 0.3 1.4-1 1.3 0.1 1.3-0.8 1.4 0.7 1.3-1 1.4-0.3 1.3 0.4 1.4 1 1.3-1.5 1.3-0.6 1.4 0.7 1.3-0.2 1.4 0.4 1.3-1.6 1.3-0.4 1.4 0.5 1.3 0.2 1.4-0.2 1.3 0.1 1.3-1.4 1.4 0.1 1.3 0.2 1.4 0.3 1.3-0.3 1.4-0.7 1.3-0.5 1.3 0.5 1.4-0.3 1.3-0.1 1.4-2.3 1.3-0.9 1.3-2.6 1.4-0.9 1.3-0.5 1.4 0.6 1.3 0.3 1.3 0.6 1.4 0.6 1.3 0.3 1.4 0.8 1.3 0 1.4 0.3 1.3 0.9 1.3-0.3 1.4 0.1 1.3 0.1 1.4 0.2 1.3 0.4 1.3-0.4 1.4 1 1.3 0.4 1.4-0.2 1.3-0.7 1.3-0.5 1.4 0.6 1.3 0.4 1.4 0.4 1.3-0.4 1.4 0 1.3 0.8 1.3-0.8 1.4 0.7 1.3 0 1.4-1 1.3 0.7 1.3-0.4 1.4-0.2 1.3-0.4 1.4 0.2 1.3 0.9 1.3-0.3 1.4 0.3 1.3-0.6 1.4 0.3 1.3 0 1.4-0.6 1.3-0.1 1.3 1 1.4-0.1 1.3-0.5 1.4 0.4 1.3 0.4 1.3 0.5 1.4-1.2 1.3 0.7 1.4 0.7 1.3-0.8 1.3 0.5 1.4-1.7 1.3 1.7 1.4-0.5 1.3-0.9 1.4 1.3 1.3 0.3 1.3 0.1 1.4 0 1.3-0.6 1.4-0.4 1.3 0.2 1.3 0.3 1.4 0.2 1.3-0.4 1.4 0.3 1.3 0.4 1.3-0.2 1.4 0.9 1.3-0.2 1.4-1.8 1.3-0.2 1.4-0.8 1.3-0.7 1.3-0.6 1.4-2.5 1.3-2.7 1.4-3.2 1.3-4.3 1.3-6.6 1.4-7.5 1.3-8.2 1.4-10.1 1.3-10.9 1.3-11 1.4-11.8 1.3-9.5 1.4-8.6 1.3-5.3 1.4-3.3 1.3-1.3 1.3 1.7 1.4 1 1.3 4.9 1.4 5.4 1.3 7.3 1.3 9.4 1.4 11.1 1.3 11.5 1.4 11.1 1.3 11.1 1.3 8.6 1.4 8.5 1.3 6.2 1.4 3.9 1.3 4.2 1.4 1.6 1.3 0.8 1.3 1.7 1.4 0.8 1.3 0.7 1.4-0.4 1.3 1 1.3 0.1 1.4-0.1 1.3 0.1 1.4-0.5 1.3-0.4 1.3 0.6 1.4 0.2 1.3-0.3 1.4-0.3 1.3-0.6 1.4 1.1 1.3-0.2 1.3-0.7 1.4 0.7 1.3 0.3 1.4-0.3 1.3 0.4 1.3-0.1 1.4-1 1.3 0.5 1.4 0.5 1.3 0.3 1.3 0.1 1.4-1.5 1.3 0.8 1.4 0.5 1.3 0.3 1.4 0.2 1.3-1.3 1.3 0.2 1.4-0.2 1.3 0.8 1.4-0.9 1.3 1.2 1.3-0.1 1.4-0.3 1.3-1.2 1.4 0.7 1.3 0.7 1.3-1 1.4 0.5 1.3 0.2 1.4 0.5 1.3-0.3 1.4 0 1.3-0.3 1.3 0.2 1.4 0 1.3 0.4 1.4-0.4 1.3 0.4 1.3-1.1 1.4 1.2 1.3-0.5 1.4 0.5 1.3-0.4 1.3 0.3 1.4 0.2 1.3-0.9 1.4 0.2 1.3-0.1 1.4 0.1 1.3-0.8 1.3 0.6 1.4 0 1.3-0.3 1.4 0.2 1.3-0.5 1.3 1.3 1.4-0.3 1.3 0.5 1.4-1.3 1.3-0.2 1.4 0.6 1.3-0.8 1.3 0.8 1.4-0.4 1.3 0 1.4-0.1 1.3-0.8 1.3-0.7 1.4-3.5 1.3-5.5 1.4-6 1.3-10.3 1.3-10.5 1.4-12.2 1.3-9.8 1.4-5.6 1.3-2.5 1.4 1 1.3 2.7 1.3 4.2 1.4 5.7 1.3 4.6 1.4 6.1 1.3 7.1 1.3 5.1 1.4 6.2 1.3 5.8 1.4 3.9 1.3 3.4 1.3 2.8 1.4 2.3 1.3 2 1.4 1.7 1.3 1.5 1.4 0.6 1.3-0.3 1.3 0.2 1.4 0.8 1.3-1 1.4 0.6 1.3 0.1 1.3-0.3 1.4 0.1 1.3 0.5 1.4-0.9 1.3 0.3 1.3 0.3 1.4 0.3 1.3-0.5 1.4 1.1 1.3-0.5 1.4 0 1.3 0 1.3-0.1 1.4 0 1.3 1" fill="#fff" stroke="#46a0dc" stroke-dasharray="0 404.6 694.4 9999"/>
<path d="M473.1 226L97.5 226L97.5 196.9l1.4-1.3 1.3 0.7 1.4 0.1 1.3-0.4 1.3-0.7 1.4 0.7 1.3-1.2 1.4 0.7 1.3 0.3 1.3-2 1.4 0.9 1.3-0.1 1.4-0.3 1.3-0.7 1.4 0 1.3-0.7 1.3 0.6 1.4 0 1.3-0.8 1.4-0.4 1.3 0.1 1.3 0.1 1.4-0.2 1.3-0.3 1.4-0.1 1.3-1 1.3-0.9 1.4 1.3 1.3-0.2 1.4-2.2 1.3-1 1.4-0.9 1.3-0.9 1.3-0.9 1.4 0.2 1.3-0.2 1.4 0.6 1.3 0.4 1.3 0 1.4 1.1 1.3 0.1 1.4 0.4 1.3-0.4 1.3 0.8 1.4-0.7 1.3 0.7 1.4-1.2 1.3 0.9 1.4 1 1.3-0.4 1.3 0.4 1.4-0.7 1.3 1.6 1.4-0.3 1.3-0.3 1.3 0.3 1.4 0.1 1.3 0.5 1.4-0.6 1.3-0.8 1.3 0.7 1.4 0.8 1.3-0.3 1.4-0.5 1.3 0.5 1.4-0.1 1.3 0.1 1.3-1.1 1.4 0.4 1.3 0.8 1.4-0.4 1.3 0.3 1.3 0.8 1.4-1.1 1.3 0.2 1.4-0.4 1.3-0.1 1.3 0.3 1.4-0.8 1.3-0.2 1.4 1.7 1.3-0.6 1.4 0.5 1.3-0.4 1.3-0.1 1.4 0.3 1.3 0 1.4-0.8 1.3 1.1 1.3-0.9 1.4 0.6 1.3 1.2 1.4-1.1 1.3 0.7 1.3-0.9 1.4 0.4 1.3-0.2 1.4 0.2 1.3-0.6 1.4 0 1.3 0.6 1.3-0.9 1.4 0.4 1.3 0.7 1.4-0.5 1.3-0.3 1.3-0.1 1.4 0.5 1.3-0.3 1.4-0.2 1.3-0.6 1.3 0.1 1.4-2.5 1.3-2.8 1.4-1.7 1.3-3.8 1.4-4.9 1.3-7 1.3-6.3 1.4-9.5 1.3-10.2 1.4-11.5 1.3-10.2 1.3-10.9 1.4-9.2 1.3-8.8 1.4-6.1 1.3-2.2 1.3-0.6 1.4 1.4 1.3 1.6 1.4 4.5 1.3 6.1 1.4 8.1 1.3 9.4 1.3 10.7 1.4 11.6 1.3 11 1.4 10.8 1.3 8.9 1.3 6.8 1.4 7.1 1.3 5.3 1.4 2.7 1.3 2.2 1.3 1.2 1.4 0.3 1.3 0 1.4 1.3 1.3 0.4 1.4-0.2 1.3 0 1.3 0 1.4-0.2 1.3 0.2 1.4-0.1 1.3 0.1 1.3-0.6 1.4 0.2 1.3 0.6 1.4-0.5 1.3-0.9 1.3 1.1 1.4-0.9 1.3 2 1.4-0.5 1.3-0.1 1.4-0.7 1.3-0.2 1.3 0.5 1.4 0.1 1.3-0.3 1.4 0.5 1.3 0.3 1.3-0.1 1.4-0.9 1.3-0.5 1.4 1 1.3-0.1 1.3 0.5 1.4 0.7 1.3 0 1.4-0.6 1.3 0.4 1.4 0.2 1.3-0.7 1.3 0.1 1.4 0.2 1.3-0.4 1.4-0.2 1.3-0.1 1.3 0.3 1.4-0.2 1.3 0.7 1.4-0.5 1.3 0.9 1.3-0.1 1.4-1.2 1.3 1 1.4-0.5 1.3 0.8 1.4-0.4 1.3-0.3 1.3 0.3 1.4-0.6 1.3 0.4 1.4 0 1.3-0.2 1.3 0.1 1.4-0.6 1.3 0.6 1.4-0.7 1.3 0.8 1.3 0 1.4 0.1 1.3-0.5 1.4 1.6 1.3-1.5 1.4 0 1.3-0.4 1.3 1 1.4-0.8 1.3 0.6 1.4-0.9 1.3 0.5 1.3-0.3 1.4 0.6 1.3-0.7 1.4-0.4 1.3 0.2 1.3-1.5 1.4-1.4 1.3-2.1 1.4-5.7 1.3-5.7 1.4-9.8 1.3-11.3 1.3-11 1.4-10 1.3-7.2 1.4-1.5 1.3 1.6 1.3 2.6 1.4 3.5 1.3 4.6 1.4 5.7 1.3 6.4 1.3 6.9 1.4 6 1.3 5.6 1.4 5.5 1.3 3.6 1.4 3.6 1.3 3.1 1.3 3.3 1.4 0 1.3 2.4 1.4 1.1 1.3 0.6 1.3 1.5 1.4-0.2 1.3-0.1 1.4-0.6 1.3 0.6 1.4-0.3 1.3 0.2 1.3 0.1 1.4-0.3 1.3 0.5 1.4 0.5 1.3-0.2 1.3-0.5 1.4-0.9 1.3 1.5 1.4 0.1 1.3-0.6 1.3-0.1 1.4 0.5 1.3-0.5 1.4 0.7" fill="#fff" stroke="#202020" stroke-dasharray="0 404.6 695.5 9999"/>
<path d="M471.6 227.9L96.1 227.9L96.1 198.5l1.3-0.5 1.4 0.2 1.3-0.1 1.3-0.8 1.4-0.1 1.3 0 1.4-0.7 1.3 0.3 1.4-0.3 1.3-0.5 1.3-0.3 1.4 0.4 1.3 0.1 1.4-0.5 1.3-0.7 1.3 0.4 1.4-0.4 1.3 0 1.4 0 1.3-1.1 1.3 0.1 1.4-0.4 1.3-0.3 1.4 1.1 1.3-0.7 1.4-1.5 1.3 0.6 1.3-0.7 1.4 0.1 1.3-1.5 1.4-1.4 1.3-1.3 1.3-1 1.4-0.7 1.3 0.1 1.4 0.5 1.3 0.6 1.4-0.3 1.3 0.8 1.3 0.3 1.4 0.1 1.3 0.7 1.4-0.6 1.3 0.5 1.3 0.1 1.4 0.8 1.3-0.3 1.4 0.4 1.3 0.2 1.3-0.7 1.4 0.9 1.3-0.4 1.4 0.3 1.3 0.2 1.4 0.5 1.3 0.1 1.3 0.5 1.4-0.7 1.3-0.3 1.4 0 1.3 0.6 1.3 0.5 1.4-0.6 1.3-0.4 1.4 0.4 1.3 0 1.3-0.1 1.4-0.5 1.3-0.8 1.4 1 1.3 0.8 1.4-0.4 1.3-1.1 1.3 0.8 1.4-0.6 1.3 1.7 1.4-0.8 1.3-0.6 1.3 0.8 1.4-0.6 1.3 0.5 1.4-0.3 1.3-0.5 1.3 0.8 1.4-0.8 1.3 1.2 1.4-0.6 1.3-0.5 1.4-0.3 1.3 1.7 1.3 0 1.4-1.2 1.3 1.3 1.4-0.6 1.3-0.2 1.3 0.1 1.4 0 1.3 0.8 1.4-0.6 1.3-0.8 1.3 1.8 1.4-0.5 1.3-0.9 1.4 0.2 1.3-0.1 1.4 0.4 1.3 0.1 1.3-0.2 1.4-0.6 1.3-0.4 1.4 0.1 1.3-1.2 1.3-0.4 1.4-3.4 1.3-2.2 1.4-4.2 1.3-5.4 1.3-5.5 1.4-8.3 1.3-9.6 1.4-9.8 1.3-10.3 1.4-12 1.3-9.5 1.3-9.8 1.4-8.1 1.3-4.5 1.4-2.1 1.3-0.6 1.3 0.8 1.4 3.3 1.3 4.1 1.4 5.2 1.3 8.4 1.3 9.8 1.4 10.7 1.3 10.8 1.4 12.1 1.3 10 1.4 9 1.3 8 1.3 4.9 1.4 4.5 1.3 3.2 1.4 1.6 1.3 1.4 1.3 1.2 1.4 0.1 1.3 0.8 1.4-0.8 1.3 0.4 1.3-0.7 1.4 0.6 1.3-0.1 1.4 1 1.3-0.2 1.4 0 1.3 0.6 1.3-0.1 1.4-0.4 1.3-0.7 1.4-0.4 1.3 0.7 1.3-0.1 1.4-0.1 1.3 0.1 1.4-0.5 1.3 1.3 1.3-1.1 1.4 0.2 1.3 0.6 1.4-0.9 1.3 1.1 1.4 0.1 1.3-0.6 1.3-0.4 1.4 0.2 1.3-0.5 1.4 1.5 1.3-0.5 1.3-0.4 1.4-0.1 1.3 0.8 1.4 0.4 1.3-1.3 1.3 0.2 1.4-0.4 1.3 1.1 1.4 0 1.3 0.9 1.4-1.1 1.3-0.2 1.3-0.1 1.4 0.7 1.3-1.1 1.4 1.1 1.3-0.2 1.3-0.4 1.4-0.1 1.3 1 1.4 0.3 1.3-1 1.3 0.4 1.4 0.5 1.3-1.1 1.4 0.1 1.3-0.5 1.4 0.5 1.3 0.1 1.3-0.2 1.4-0.2 1.3-0.5 1.4 0.1 1.3 0.3 1.3 0.7 1.4-0.5 1.3-0.2 1.4 0.7 1.3 0 1.3-0.7 1.4 0.1 1.3 0.6 1.4-0.2 1.3-0.5 1.4 0.4 1.3 0 1.3 0.4 1.4-0.9 1.3 0.6 1.4-0.6 1.3-1.4 1.3-0.6 1.4-2.8 1.3-5.5 1.4-5.5 1.3-10.6 1.3-11 1.4-11.3 1.3-9.6 1.4-6.7 1.3-2.1 1.4 1.7 1.3 2.3 1.3 4.4 1.4 5.6 1.3 4.4 1.4 4.8 1.3 7.1 1.3 5.9 1.4 6.2 1.3 5.1 1.4 3.7 1.3 3.8 1.3 3.4 1.4 2.3 1.3 0.8 1.4 3 1.3 0.6 1.4 0.7 1.3 0.5 1.3-0.2 1.4 0.6 1.3 0.7 1.4 0.1 1.3-0.3 1.3-0.4 1.4-0.2 1.3 1 1.4-0.3 1.3-0.6 1.3-0.8 1.4 0.6 1.3-0.3 1.4 1.5 1.3-0.4 1.4-0.4 1.3 0.4 1.3 1.4 1.4-0.6 1.3-1.3" fill="#fff" stroke="#ff2020" stroke-dasharray="0 404.9 691.4 9999"/>
<path d="M470.2 229.7L94.6 229.7L94.6 200.5l1.4-0.9 1.3 0.3 1.4-0.9 1.3-0.6 1.3 0.8 1.4 0.2 1.3-0.5 1.4-1.2 1.3 0.7 1.3-0.2 1.4-0.9 1.3-1.1 1.4 1.4 1.3-0.1 1.4-0.5 1.3-1.3 1.3-0.1 1.4 1 1.3-0.3 1.4-0.4 1.3-0.5 1.3 0 1.4-0.6 1.3-0.2 1.4-0.5 1.3 0.3 1.3-0.6 1.4 0.2 1.3-0.9 1.4-1.7 1.3-0.2 1.4-2.6 1.3-0.3 1.3 0.1 1.4 0.4 1.3-1.1 1.4 1.7 1.3 0.6 1.3 0.3 1.4-1.4 1.3 0.8 1.4 0.6 1.3 0.1 1.3 1 1.4-0.7 1.3 1 1.4-0.2 1.3-0.9 1.4 0.3 1.3 0.4 1.3 0.4 1.4 0.5 1.3-0.4 1.4 0.4 1.3-1.1 1.3-0.7 1.4 1.4 1.3 0.5 1.4-0.4 1.3-0.3 1.3 0.8 1.4 0.7 1.3-0.9 1.4-0.4 1.3 0.1 1.4 1.3 1.3-0.9 1.3 0.3 1.4 0.3 1.3-0.1 1.4-0.9 1.3 0.8 1.3 0 1.4-0.1 1.3 0.1 1.4-0.7 1.3 0.2 1.4-0.2 1.3 0.5 1.3-0.5 1.4 0.3 1.3-0.6 1.4 0.4 1.3-0.1 1.3 0.1 1.4 0.2 1.3-0.1 1.4-0.1 1.3-0.7 1.3 1.4 1.4-0.7 1.3 0.2 1.4-0.2 1.3 0.8 1.4-0.7 1.3 0.6 1.3 0.5 1.4 0.3 1.3-0.2 1.4-0.4 1.3-0.7 1.3 1.1 1.4 0.1 1.3-0.2 1.4 0 1.3-0.4 1.3-0.3 1.4 0.6 1.3-0.1 1.4-1.4 1.3 0.2 1.4-1.2 1.3-1.3 1.3-2.3 1.4-2.6 1.3-4 1.4-5.4 1.3-7.5 1.3-7 1.4-9.5 1.3-10.7 1.4-10.1 1.3-11.9 1.3-9.4 1.4-8.8 1.3-8.3 1.4-4.3 1.3-2.1 1.4 0.1 1.3 0.3 1.3 3.5 1.4 4.5 1.3 6.7 1.4 8.1 1.3 10.3 1.3 10.5 1.4 11.4 1.3 11.2 1.4 9.6 1.3 9 1.3 6.9 1.4 5.6 1.3 3.7 1.4 3.5 1.3 2.1 1.4 0.6 1.3 1 1.3 0.2 1.4-0.4 1.3 0.7 1.4 0.6 1.3-0.9 1.3-0.5 1.4 0.9 1.3-0.2 1.4 1.1 1.3-0.8 1.3 0 1.4-0.2 1.3 0.4 1.4-0.4 1.3-0.1 1.4 0.3 1.3-0.2 1.3 0.9 1.4-1 1.3 0.4 1.4-0.3 1.3-0.2 1.3 1.3 1.4-1.5 1.3 1.4 1.4-1.1 1.3 0.7 1.3 0.9 1.4-1.9 1.3 0.3 1.4 1.3 1.3-0.5 1.4-0.3 1.3 0.2 1.3-0.4 1.4 0.6 1.3 0.6 1.4-0.8 1.3 0.2 1.3 0.6 1.4 0.3 1.3-1.1 1.4 0.3 1.3-0.4 1.3 0 1.4 0.1 1.3-0.1 1.4-0.6 1.3-0.1 1.4 0.7 1.3 0.5 1.3 0.5 1.4-0.8 1.3 0.2 1.4 0.4 1.3 0 1.3-0.4 1.4 0 1.3 0.9 1.4-1 1.3-0.2 1.3-0.5 1.4 0.9 1.3-0.2 1.4 0.9 1.3-0.9 1.4 0.4 1.3 0.1 1.3 0.2 1.4-1.2 1.3 1.1 1.4-0.6 1.3-0.1 1.3-0.2 1.4 0 1.3-0.1 1.4-0.8 1.3 1.2 1.3-0.2 1.4-0.4 1.3 0.4 1.4 0.9 1.3-1.2 1.4-1.1 1.3-0.7 1.3-3.8 1.4-4.3 1.3-7 1.4-9 1.3-10.5 1.3-11.7 1.4-10.8 1.3-6.5 1.4-1.7 1.3 0.8 1.3 2.7 1.4 3.6 1.3 5 1.4 6 1.3 5.7 1.4 6.9 1.3 5.8 1.3 5.3 1.4 5.2 1.3 4.5 1.4 3.9 1.3 3.1 1.3 2.2 1.4 1.6 1.3 2.4 1.4 0.8 1.3 0.3 1.3 0.8 1.4 0.1 1.3-0.1 1.4 0.3 1.3 1.3 1.4-0.7 1.3-0.1 1.3-0.6 1.4 0.5 1.3 0.7 1.4-0.8 1.3 0.3 1.3 0.2 1.4-0.2 1.3 0.4 1.4-0.6 1.3 0.1 1.3-0.3 1.4 1.4 1.3-0.9 1.4-0.1" fill="#fff" stroke="#2020ff" stroke-dasharray="0 404.7 694.3 9999"/>
<path d="M468.7 231.6L93.2 231.6L93.2 201.3l1.3-0.4 1.4 0 1.3 1 1.4-1.2 1.3-0.3 1.3 0.3 1.4-0.4 1.3 0 1.4-1.3 1.3-0.1 1.3 1.8 1.4-1.7 1.3-0.5 1.4 0 1.3 0.1 1.3-1.1 1.4 0.3 1.3-0.3 1.4 0.1 1.3-0.5 1.4-0.6 1.3-0.4 1.3-0.9 1.4 1.2 1.3-1.2 1.4 0.2 1.3 0.6 1.3-1.4 1.4-0.4 1.3-1.4 1.4-1 1.3-1.6 1.3-0.9 1.4 0.8 1.3-0.3 1.4-0.2 1.3 0.8 1.4 0.7 1.3-0.4 1.3 1.1 1.4 0.4 1.3 0.7 1.4-1 1.3 0.6 1.3-0.9 1.4 0.7 1.3 0.4 1.4 0.3 1.3-0.1 1.3 0 1.4-0.2 1.3 0.2 1.4 0.4 1.3 0.2 1.4 0.1 1.3 0.3 1.3 0 1.4-1.3 1.3 0.5 1.4 0.2 1.3-0.1 1.3 0.8 1.4-0.1 1.3-0.4 1.4 0.1 1.3 0.5 1.3-0.7 1.4 0 1.3 0.6 1.4-0.1 1.3 0.3 1.4-0.4 1.3 0.1 1.3-0.6 1.4-0.3 1.3 0.4 1.4-1.1 1.3 1.3 1.3 0.4 1.4-0.5 1.3-0.1 1.4 0.6 1.3-0.5 1.3 0.5 1.4 0.5 1.3-0.6 1.4 0.1 1.3-0.2 1.4-0.1 1.3 0.1 1.3-0.1 1.4 0.5 1.3-1.2 1.4 0.6 1.3 0.5 1.3-0.6 1.4 0.3 1.3-0.2 1.4 0.6 1.3 0.3 1.4 0.3 1.3-0.5 1.3-0.5 1.4 0.4 1.3 0.3 1.4 0.2 1.3-1.6 1.3 0.9 1.4-1.1 1.3 0.7 1.4-0.7 1.3-1 1.3-1.4 1.4-2.5 1.3-3.5 1.4-3.7 1.3-4.9 1.4-7.3 1.3-8.1 1.3-9.7 1.4-9.3 1.3-11.5 1.4-11.1 1.3-10.2 1.3-9.1 1.4-6.6 1.3-3.8 1.4-1.7 1.3 0.6 1.3 1.3 1.4 1.8 1.3 5.4 1.4 7.3 1.3 8.7 1.4 8.3 1.3 10.7 1.3 12 1.4 10.5 1.3 9.5 1.4 9.1 1.3 6.4 1.3 4.7 1.4 5 1.3 2.9 1.4 2 1.3 1.3 1.3 0.2 1.4 0.2 1.3-0.1 1.4-0.3 1.3 0.7 1.4 0.7 1.3 0 1.3 0.6 1.4-1 1.3-0.7 1.4 1.2 1.3 0.2 1.3-1.1 1.4-0.2 1.3 0.9 1.4 0.3 1.3-0.8 1.3 0.3 1.4-0.2 1.3-0.2 1.4 0 1.3 0.7 1.4-0.2 1.3-0.2 1.3-0.8 1.4 1.9 1.3-1 1.4 0.2 1.3-0.3 1.3 0.6 1.4-0.7 1.3 0.6 1.4 0 1.3 0.5 1.3-0.9 1.4 0.2 1.3 0.3 1.4 1 1.3-1.5 1.4 0.7 1.3-0.4 1.3 0.5 1.4 0.2 1.3-0.2 1.4 0 1.3 0 1.3-0.4 1.4 0.1 1.3-0.6 1.4 0.6 1.3-0.1 1.3 0.3 1.4 0.5 1.3-0.1 1.4 0 1.3 0.2 1.4-1.6 1.3 1.2 1.3-0.1 1.4-0.1 1.3-0.5 1.4 0.8 1.3 0.3 1.3 0 1.4-0.6 1.3 0.3 1.4 0.2 1.3 0.4 1.3-0.3 1.4-0.5 1.3-0.1 1.4 0 1.3 0 1.4-0.3 1.3 0.5 1.3-0.7 1.4 0 1.3 0.5 1.4-0.4 1.3 0 1.3-0.8 1.4 1.2 1.3-0.4 1.4-0.4 1.3-0.5 1.3-1.6 1.4-3 1.3-3.4 1.4-7.7 1.3-8.5 1.4-10.6 1.3-12.7 1.3-9.9 1.4-7.1 1.3-1.1 1.4 0.4 1.3 2.2 1.3 4.9 1.4 4.8 1.3 4.9 1.4 7 1.3 5.9 1.3 7.2 1.4 5.2 1.3 3.9 1.4 4.5 1.3 3.4 1.4 3.5 1.3 2.4 1.3 2.1 1.4 1 1.3 0.2 1.4 1.1 1.3 1.5 1.3 0.2 1.4-0.4 1.3 0.1 1.4 0.1 1.3 0 1.3-0.7 1.4 1.1 1.3-0.6 1.4 0.2 1.3-1.1 1.4 1.3 1.3 0.5 1.3-1.4 1.4 1.6 1.3-0.3 1.4-0.6 1.3-0.3 1.3 1.2 1.4-0.2 1.3 0.1" fill="#fff" stroke="#ff20ff" stroke-dasharray="0 405.8 688.0 9999"/>
<path d="M467.3 233.4L91.7 233.4L91.7 203.1l1.4-0.8 1.3 0 1.4-0.2 1.3 0.6 1.3-0.5 1.4-0.6 1.3-0.2 1.4 0 1.3-0.6 1.4-0.2 1.3-0.8 1.3 0.8 1.4 0 1.3-0.5 1.4-0.2 1.3-0.3 1.3 0.5 1.4-1.1 1.3-1 1.4-0.1 1.3 0.6 1.3 0 1.4-0.4 1.3-0.3 1.4-0.6 1.3-1 1.4-0.2 1.3-1 1.3-0.3 1.4-1.4 1.3-0.7 1.4-1.3 1.3-1.2 1.3 1.4 1.4 0.4 1.3-0.6 1.4 1 1.3 0.5 1.3-0.1 1.4 0.6 1.3 0 1.4 0.5 1.3-0.2 1.4 0 1.3 0.5 1.3 0.2 1.4-0.1 1.3-0.3 1.4-0.1 1.3 0.3 1.3 0 1.4 0.4 1.3 0.1 1.4-0.1 1.3 0.1 1.3 0.1 1.4 0.7 1.3-0.2 1.4-0.7 1.3 0.4 1.4-0.3 1.3 0.1 1.3-0.1 1.4-0.2 1.3-0.4 1.4-0.4 1.3 1.2 1.3 0.5 1.4-0.9 1.3 0.5 1.4-0.3 1.3 0.2 1.3-0.4 1.4 0.2 1.3 0 1.4-0.9 1.3 1 1.4-0.1 1.3-1 1.3 1.3 1.4-0.2 1.3 0.1 1.4 0 1.3-0.4 1.3-0.3 1.4 0.3 1.3 0.2 1.4 1.2 1.3-0.1 1.3-1 1.4 0 1.3 0.4 1.4 0.1 1.3-0.5 1.4-0.1 1.3 1.3 1.3-0.3 1.4-1.2 1.3-0.1 1.4 0.5 1.3 0.6 1.3 0.1 1.4-0.4 1.3-0.5 1.4 0.8 1.3 0.2 1.3-0.3 1.4-0.3 1.3 0.1 1.4-0.7 1.3-1.1 1.4-0.7 1.3-2.1 1.3-1.3 1.4-3.4 1.3-4.9 1.4-5 1.3-6.4 1.3-9.6 1.4-8.5 1.3-9.6 1.4-12.1 1.3-10.3 1.3-10.6 1.4-8.2 1.3-7.6 1.4-3.7 1.3-0.6 1.4 0.7 1.3 1.6 1.3 3.2 1.4 5.3 1.3 6.7 1.4 8.6 1.3 9.3 1.3 11.3 1.4 12.5 1.3 10.3 1.4 8.9 1.3 8.2 1.4 6.8 1.3 4.6 1.3 4.7 1.4 1.7 1.3 1.8 1.4 1.9 1.3-1.1 1.3 1.2 1.4-0.7 1.3 0.6 1.4 0.3 1.3 0 1.3 0.2 1.4-0.3 1.3 0.3 1.4-0.4 1.3 0.3 1.4-0.3 1.3 0.8 1.3-0.6 1.4 0.8 1.3-0.4 1.4 0 1.3 0.7 1.3-0.5 1.4-0.8 1.3 0.9 1.4-1.3 1.3 1.2 1.3-0.2 1.4-0.4 1.3 0.7 1.4 0 1.3 0.9 1.4-0.9 1.3 1 1.3-0.2 1.4-0.9 1.3-0.1 1.4 0.9 1.3-0.5 1.3 0.1 1.4-0.2 1.3-0.4 1.4 0.3 1.3-0.2 1.3-0.3 1.4 0.7 1.3 1 1.4-0.1 1.3-0.7 1.4 0.1 1.3 0.2 1.3 0.4 1.4-0.5 1.3-0.4 1.4 0.1 1.3 0.8 1.3 0.6 1.4-1.4 1.3-0.7 1.4 1.2 1.3-0.3 1.3 0.1 1.4 0.4 1.3-0.5 1.4-0.7 1.3-0.3 1.4 0.8 1.3-0.4 1.3 0.5 1.4-0.6 1.3 0.3 1.4-0.4 1.3 0.4 1.3 0 1.4 0.5 1.3 0.3 1.4-0.7 1.3-0.2 1.3 1.1 1.4-0.6 1.3 0.1 1.4 0 1.3 0.3 1.4-0.2 1.3-0.2 1.3-0.1 1.4-0.8 1.3-0.3 1.4-0.5 1.3-1.3 1.3-2.7 1.4-4.3 1.3-6.8 1.4-9.3 1.3-11.3 1.3-10.4 1.4-10.2 1.3-7.5 1.4-1.4 1.3 1 1.4 2.3 1.3 2.9 1.3 5.2 1.4 6 1.3 7 1.4 5.2 1.3 6.1 1.3 5.3 1.4 5.3 1.3 4.7 1.4 2.6 1.3 2.7 1.3 3.9 1.4 1.6 1.3 1.1 1.4 1.7 1.3 0.7 1.4-0.9 1.3 1.1 1.3 0.8 1.4-0.6 1.3 0.2 1.4 0.6 1.3-0.5 1.3-0.5 1.4 0.2 1.3-0.2 1.4 0.7 1.3-0.8 1.3 1.1 1.4-1 1.3 0.6 1.4-0.5 1.3 0.6 1.4 0.7 1.3 0.1 1.3 0.1 1.4-0.6" fill="#fff" stroke="#209020" stroke-dasharray="0 405.9 682.9 9999"/>
<path d="M465.8 235.3L90.3 235.3L90.3 203.7l1.3 0.7 1.4 0.5 1.3-1.8 1.4 0.9 1.3-0.8 1.3-0.1 1.4 0 1.3-1.1 1.4 0.5 1.3-0.5 1.3-0.3 1.4 0.5 1.3 0.9 1.4-1.5 1.3-0.3 1.4-0.5 1.3-0.6 1.3 0.2 1.4 0.3 1.3-0.8 1.4 0 1.3-0.6 1.3 0.8 1.4-2 1.3 0.6 1.4-0.3 1.3-0.6 1.3-1.3 1.4-0.9 1.3-0.8 1.4-1.1 1.3-1.5 1.4-0.2 1.3 1.1 1.3 0.6 1.4-0.4 1.3 0.1 1.4 0.4 1.3 1.6 1.3-0.6 1.4-0.1 1.3 0.6 1.4 0.8 1.3-0.5 1.3-1 1.4 0.6 1.3 0 1.4 0.1 1.3-0.3 1.4 0.4 1.3-0.2 1.3 0.6 1.4 0 1.3-0.7 1.4-0.1 1.3 0.6 1.3 0.6 1.4 0 1.3-0.4 1.4-1.3 1.3 1.1 1.3 0 1.4 0.2 1.3-0.4 1.4 0.3 1.3 0.1 1.4 1.4 1.3-0.8 1.3-0.5 1.4 0.1 1.3-0.1 1.4 0.2 1.3-0.3 1.3 0.2 1.4 0.5 1.3-0.1 1.4-0.2 1.3 0.4 1.3-0.6 1.4-0.6 1.3-0.3 1.4 0.4 1.3 0.3 1.4 0.3 1.3 0.2 1.3-0.7 1.4 0 1.3 0.7 1.4 0.3 1.3-0.7 1.3 0.4 1.4 0.5 1.3-0.4 1.4-0.3 1.3-0.7 1.3 1.5 1.4-0.2 1.3-0.2 1.4-0.3 1.3-0.3 1.4 0.5 1.3 0.2 1.3 0.4 1.4-0.8 1.3 1 1.4-0.5 1.3 0.3 1.3-1 1.4 0.3 1.3-0.1 1.4-1.2 1.3-1.9 1.3-1.2 1.4-2 1.3-4.2 1.4-4.4 1.3-4.9 1.4-7.4 1.3-7.6 1.3-10.3 1.4-10.7 1.3-10.2 1.4-9.7 1.3-10.9 1.3-8 1.4-6.2 1.3-4.1 1.4 0 1.3 0.2 1.3 1.7 1.4 2.4 1.3 5 1.4 6.7 1.3 10 1.4 10.2 1.3 11.3 1.3 11.2 1.4 9.7 1.3 9.4 1.4 8.4 1.3 6.9 1.3 4 1.4 4.1 1.3 2.1 1.4 1.6 1.3 1.4 1.3-0.1 1.4 0.2 1.3 0.9 1.4-0.1 1.3-0.1 1.4 0.2 1.3 0.3 1.3-0.3 1.4 0.5 1.3 0 1.4 0.5 1.3-0.1 1.3-0.2 1.4-0.4 1.3 0.1 1.4-0.2 1.3 1.5 1.4-1.2 1.3 0.2 1.3 0.3 1.4-1.1 1.3 0.2 1.4 0.2 1.3-0.3 1.3-0.1 1.4 0.5 1.3 0.8 1.4-0.2 1.3-0.3 1.3-0.1 1.4-0.6 1.3 1 1.4-0.1 1.3-0.6 1.4 0.5 1.3-0.1 1.3-0.2 1.4-0.2 1.3 0.2 1.4-0.1 1.3 0.7 1.3 0 1.4 0 1.3-0.3 1.4 0 1.3 1 1.3-1.5 1.4 1.2 1.3-0.3 1.4-0.1 1.3-0.3 1.4 0.1 1.3-0.4 1.3 0 1.4 0.4 1.3-0.5 1.4 1 1.3 0.1 1.3-2 1.4 0.7 1.3 0.9 1.4 0 1.3 0 1.3 0.1 1.4 0.2 1.3 0.1 1.4 0.3 1.3-0.7 1.4 0.2 1.3-1.1 1.3 0.6 1.4-0.4 1.3 1.2 1.4 0.4 1.3-0.8 1.3-0.9 1.4 0.4 1.3 0.1 1.4 0.2 1.3 0.3 1.3-0.2 1.4-1.5 1.3 1.5 1.4-1.1 1.3-0.7 1.4-0.6 1.3-3.4 1.3-4.9 1.4-6.5 1.3-8.3 1.4-10.3 1.3-11.2 1.3-10.8 1.4-6.9 1.3-1.2 1.4 0.2 1.3 3.1 1.3 3.3 1.4 4.8 1.3 5.4 1.4 6.2 1.3 5.9 1.4 5.8 1.3 5.8 1.3 4.9 1.4 4.7 1.3 3.6 1.4 2.8 1.3 2.4 1.3 1.9 1.4 2.2 1.3 0.2 1.4 0.4 1.3 0.6 1.3 0.7 1.4-0.1 1.3 0.1 1.4 0 1.3 0.2 1.4 0.2 1.3-0.1 1.3-0.9 1.4 0.1 1.3-0.5 1.4 1.5 1.3 0.3 1.3 0.1 1.4-0.4 1.3 0.4 1.4-0.5 1.3-0.1 1.3-0.5 1.4 0.3 1.3 0.2" fill="#fff" stroke="#3030a0" stroke-dasharray="0 407.1 682.2 9999"/>
<path d="M464.4 237.1L88.8 237.1L88.8 205.6l1.4 0.8 1.3-0.8 1.4 0.4 1.3-0.2 1.4-0.7 1.3-0.2 1.3 0.2 1.4-0.6 1.3-0.9 1.4 0.3 1.3-0.1 1.3-0.4 1.4-0.3 1.3-0.4 1.4-0.3 1.3-0.7 1.3-0.5 1.4 0.9 1.3-1 1.4 0.1 1.3-1 1.4 0.4 1.3-0.5 1.3 1.4 1.4-2.2 1.3-0.4 1.4 0.5 1.3-0.7 1.3-2.4 1.4-0.1 1.3-0.8 1.4-1.8 1.3 0.9 1.3-0.2 1.4 0 1.3 0.6 1.4 0.2 1.3-0.1 1.4 1.8 1.3-1 1.3 0 1.4 0.8 1.3-0.2 1.4 0.7 1.3-0.6 1.3 0.4 1.4-0.1 1.3 0.1 1.4-0.1 1.3 0.2 1.3 0.8 1.4-1 1.3 0 1.4 0.2 1.3 0.4 1.4 0 1.3 0.2 1.3-1 1.4 0.7 1.3-0.1 1.4-0.1 1.3 0.2 1.3-1 1.4 1 1.3 0 1.4-0.7 1.3 0.6 1.3 0.8 1.4-0.8 1.3 0.3 1.4-0.4 1.3-0.3 1.4-0.1 1.3 0.3 1.3 0.9 1.4-0.3 1.3-0.7 1.4 0.7 1.3-0.5 1.3-0.3 1.4 0.5 1.3-0.7 1.4-0.2 1.3 1.2 1.3-1.3 1.4 1 1.3-0.8 1.4 0.6 1.3 0.1 1.4-0.2 1.3-0.7 1.3 1 1.4 0.1 1.3-0.4 1.4 0.5 1.3 0.5 1.3-0.7 1.4 0.4 1.3-0.5 1.4 0.7 1.3 0.3 1.3 0.9 1.4-0.7 1.3-0.2 1.4 0.4 1.3-1.1 1.4 0.8 1.3-0.9 1.3-0.3 1.4 0.3 1.3-1.1 1.4-0.8 1.3-3 1.3-1.8 1.4-3.7 1.3-4.5 1.4-6.5 1.3-5.8 1.3-8.7 1.4-10.1 1.3-10.6 1.4-10.5 1.3-9.5 1.4-10.3 1.3-8.2 1.3-5.5 1.4-3.5 1.3-0.4 1.4 0.9 1.3 1.7 1.3 3.7 1.4 4.5 1.3 7.8 1.4 8.8 1.3 10.3 1.3 10.8 1.4 10.5 1.3 10.5 1.4 9.7 1.3 7.1 1.4 6 1.3 5.6 1.3 3.7 1.4 1.7 1.3 1.6 1.4 0.5 1.3 0.9 1.3 0.9 1.4 0.1 1.3-0.2 1.4-0.3 1.3-0.5 1.3 0.9 1.4 0.3 1.3 0.3 1.4 0.5 1.3-0.7 1.4 0.2 1.3-0.9 1.3 1.1 1.4 0 1.3 0.2 1.4-0.3 1.3-0.1 1.3 0.4 1.4-0.9 1.3 0.6 1.4 0.2 1.3-0.9 1.3-0.1 1.4 0.7 1.3 0 1.4 0.2 1.3 0 1.4-0.6 1.3 0.5 1.3 0.4 1.4-0.6 1.3-0.1 1.4-0.3 1.3 1 1.3 0.5 1.4-1.4 1.3 0.9 1.4 0.1 1.3-0.7 1.4 0 1.3-0.2 1.3 0.1 1.4 0.5 1.3 0.3 1.4-0.2 1.3 0.3 1.3-0.3 1.4-0.5 1.3 1.2 1.4-0.1 1.3-0.8 1.3 1.1 1.4-0.5 1.3-0.2 1.4 0.7 1.3-2.1 1.4 0.4 1.3 1.1 1.3-0.5 1.4-0.2 1.3 1.1 1.4-0.5 1.3-0.9 1.3 0.3 1.4 0.8 1.3 0.3 1.4-1.7 1.3 0.9 1.3-0.3 1.4-0.6 1.3 0.6 1.4-0.6 1.3 0.6 1.4 1 1.3-0.5 1.3 0.1 1.4-0.1 1.3-0.1 1.4 0.2 1.3-1 1.3 0.3 1.4 0.4 1.3-1.1 1.4-0.5 1.3-0.6 1.3-2.5 1.4-5.3 1.3-6.6 1.4-8.2 1.3-10.8 1.4-11.7 1.3-9.5 1.3-6.9 1.4-2.2 1.3 2.3 1.4 1.7 1.3 3.4 1.3 5 1.4 6.4 1.3 5.1 1.4 5.2 1.3 6.3 1.3 5.5 1.4 4.7 1.3 4.7 1.4 3.7 1.3 2.8 1.4 2.2 1.3 2.3 1.3 0.3 1.4 2 1.3 0.4 1.4 0.5 1.3-0.8 1.3 1.9 1.4-1.3 1.3 0.4 1.4 0.8 1.3-0.6 1.3 0 1.4-0.8 1.3 0.8 1.4 0.4 1.3 0.3 1.4-0.4 1.3 0.2 1.3 0.2 1.4-0.5 1.3 0 1.4 1.3 1.3-1.2 1.3 0.9 1.4-0.4" fill="#fff" stroke="#8030ff" stroke-dasharray="0 407.0 685.8 9999"/>
<path d="M462.9 239L87.4 239L87.4 208.5l1.3-1.3 1.4 0.4 1.3-0.3 1.4-0.5 1.3-0.1 1.3-0.7 1.4 0.2 1.3-0.9 1.4-0.3 1.3 0.9 1.4-1.2 1.3-0.9 1.3 1 1.4-1 1.3-1.5 1.4 1.2 1.3 0.3 1.3-0.4 1.4 0.2 1.3-1 1.4-0.1 1.3-0.9 1.3 0.2 1.4 0.3 1.3-0.7 1.4-0.7 1.3-1.4 1.4-0.2 1.3-1.2 1.3-0.3 1.4-1.6 1.3-0.2 1.4-0.2 1.3 1.4 1.3-0.9 1.4 0.8 1.3 1.2 1.4-0.8 1.3-0.3 1.3 0.8 1.4 0.3 1.3 0 1.4-1.1 1.3 0.9 1.4-0.7 1.3 1.7 1.3-0.6 1.4-0.2 1.3 0.5 1.4-0.1 1.3-0.6 1.3 1.2 1.4-0.8 1.3-0.6 1.4 1.4 1.3 0.2 1.3-0.1 1.4-0.4 1.3-0.6 1.4 0.8 1.3 0.5 1.4-0.4 1.3 0.2 1.3-1 1.4 0.7 1.3 0 1.4-1.1 1.3-0.2 1.3 0.5 1.4 0.4 1.3 0.1 1.4-0.3 1.3 0.1 1.3 0 1.4 0.1 1.3 0.2 1.4-0.1 1.3-0.2 1.4 0 1.3-0.2 1.3 0.4 1.4-0.4 1.3 0.8 1.4-0.7 1.3 0.1 1.3-0.4 1.4 0.2 1.3 0.3 1.4-0.1 1.3-0.2 1.3-0.2 1.4 0.6 1.3 0.1 1.4 0.3 1.3 0.3 1.4-0.7 1.3-0.7 1.3 0.7 1.4-0.6 1.3 0.3 1.4 1.1 1.3-0.1 1.3-0.5 1.4 0 1.3 0.2 1.4-0.7 1.3 0.8 1.3-0.4 1.4 0.6 1.3-1.7 1.4 0 1.3-1.9 1.4-1.2 1.3-3.4 1.3-2.8 1.4-5.2 1.3-6.1 1.4-6.9 1.3-8.2 1.3-9.6 1.4-9.9 1.3-11.1 1.4-12 1.3-8.6 1.3-8.3 1.4-4.9 1.3-2.3 1.4-1.1 1.3 0.7 1.4 2.7 1.3 3.7 1.3 6.4 1.4 6.9 1.3 9.2 1.4 10.6 1.3 9.9 1.3 10.8 1.4 9.7 1.3 9.6 1.4 7.9 1.3 6.2 1.3 3.9 1.4 2.9 1.3 2.2 1.4 1.2 1.3 1.5 1.4 1 1.3-1.3 1.3 0.2 1.4 1.6 1.3-1 1.4 0.7 1.3-0.5 1.3 0.9 1.4 0.1 1.3-0.2 1.4 0.3 1.3-0.3 1.3 0.3 1.4 0.6 1.3-0.3 1.4-0.8 1.3-0.1 1.4 0.3 1.3 0 1.3 0.2 1.4-0.3 1.3 0.6 1.4-0.2 1.3 0.1 1.3-0.1 1.4 0.2 1.3-0.7 1.4 1.2 1.3-0.4 1.3 0 1.4 0.1 1.3 0.3 1.4-0.2 1.3-0.2 1.4-0.3 1.3-0.5 1.3 0.7 1.4-0.1 1.3 0.1 1.4 1.1 1.3-1.7 1.3 0.7 1.4 0.6 1.3 0 1.4 0 1.3-1.1 1.3 0.2 1.4 0.7 1.3-0.3 1.4 0.9 1.3-0.6 1.4 0 1.3 0.1 1.3-0.3 1.4 0.1 1.3-0.3 1.4 0.2 1.3-0.2 1.3 0.3 1.4-0.8 1.3 0 1.4 0.8 1.3 0 1.3-0.6 1.4 0.3 1.3-0.3 1.4 1.3 1.3-1.5 1.4 1.3 1.3-1 1.3 0.4 1.4-0.3 1.3 0 1.4 0.6 1.3-0.1 1.3-0.5 1.4-0.2 1.3 1.3 1.4-0.3 1.3-0.6 1.4-0.3 1.3 0.2 1.3-0.2 1.4 0.1 1.3-1.6 1.4-1 1.3-2.8 1.3-3.3 1.4-6.2 1.3-9.6 1.4-10.3 1.3-10.9 1.3-10.8 1.4-7.1 1.3-1.3 1.4 0.7 1.3 2.1 1.4 4.4 1.3 4.1 1.3 4.6 1.4 6.9 1.3 6 1.4 6.7 1.3 4.7 1.3 4.9 1.4 4.6 1.3 3.5 1.4 2.2 1.3 3 1.3 1.7 1.4 2.2 1.3 1.3 1.4-0.8 1.3 0.4 1.4 0.3 1.3 0.3 1.3 0.2 1.4 0.4 1.3 0.5 1.4-1.1 1.3-0.2 1.3 0 1.4 1.3 1.3 0.1 1.4-1.2 1.3-0.1 1.3 0.9 1.4 0.5 1.3 0 1.4-0.3 1.3 0.2 1.4-0.1 1.3-0.3 1.3 1" fill="#fff" stroke="#a030a0" stroke-dasharray="0 406.0 681.5 9999"/>
<path d="M461.5 240.8L86 240.8L86 210.4l1.3-0.5 1.3-0.9 1.4 0.7 1.3-1.1 1.4 0.6 1.3-0.6 1.3-1.2 1.4 0 1.3 0.7 1.4-0.6 1.3-0.8 1.3-0.2 1.4-0.3 1.3-0.7 1.4-0.1 1.3-0.4 1.4-0.2 1.3 0.1 1.3-0.9 1.4 0.4 1.3-0.4 1.4 0 1.3-0.2 1.3-0.2 1.4-0.6 1.3-0.4 1.4-0.9 1.3-0.5 1.3-1.6 1.4-0.8 1.3-0.5 1.4-0.9 1.3 0.5 1.4-0.3 1.3 1.2 1.3-0.5 1.4 0.5 1.3 0.1 1.4 0.5 1.3-0.4 1.3-0.3 1.4-0.2 1.3 0.7 1.4-0.2 1.3 0.9 1.3 0.4 1.4-1.5 1.3 0.4 1.4 0.8 1.3 0.5 1.4-0.3 1.3 0 1.3 0.1 1.4 0.1 1.3 0.5 1.4-0.5 1.3-0.9 1.3 0.3 1.4 0.4 1.3-0.5 1.4 0.2 1.3-0.1 1.3 0 1.4 0.6 1.3-0.5 1.4-0.3 1.3 0.1 1.4 0.5 1.3 0.9 1.3-0.8 1.4 0.5 1.3-0.5 1.4-1.2 1.3 1 1.3-0.5 1.4-0.3 1.3 0.2 1.4 1.2 1.3-1.4 1.3 0.4 1.4 0.8 1.3-0.3 1.4-1 1.3 0.6 1.4-0.2 1.3 0.3 1.3 0.4 1.4-0.5 1.3 0.2 1.4 0.7 1.3-1.3 1.3 0.6 1.4 0.4 1.3-0.7 1.4 0.3 1.3-0.2 1.3 0.6 1.4-0.2 1.3 0.7 1.4 0.2 1.3-0.4 1.4-0.2 1.3 0.3 1.3-0.1 1.4-0.5 1.3 0.9 1.4-0.3 1.3-0.1 1.3-1.2 1.4 0.5 1.3-0.3 1.4-2 1.3-2.9 1.3-2.1 1.4-3.6 1.3-4.7 1.4-6.2 1.3-7.1 1.4-9.1 1.3-9.4 1.3-10.8 1.4-10.3 1.3-9.8 1.4-9.8 1.3-7.1 1.3-5.8 1.4-2.3 1.3 0.1 1.4 1.5 1.3 1.5 1.3 4.6 1.4 4.8 1.3 8.1 1.4 9.7 1.3 10.1 1.4 10 1.3 10.5 1.3 10.8 1.4 7.9 1.3 8.1 1.4 5.4 1.3 4.7 1.3 4.1 1.4 1.9 1.3 0.8 1.4-0.1 1.3 1.1 1.3 0.2 1.4 0.2 1.3 0.6 1.4-1.2 1.3 0.9 1.4 0 1.3-0.3 1.3 1 1.4-1.1 1.3 0.5 1.4 0 1.3-1 1.3 0.4 1.4 0.3 1.3 0.8 1.4 0.2 1.3-0.2 1.3-0.2 1.4-1 1.3 1 1.4-0.2 1.3 0.8 1.4 0.2 1.3 0.4 1.3-0.7 1.4 0 1.3-0.8 1.4 0.4 1.3-0.4 1.3 0.8 1.4-0.8 1.3 0.4 1.4-0.2 1.3 0.2 1.3 0.4 1.4-0.4 1.3 0.3 1.4-0.4 1.3 1 1.4-0.8 1.3 0.8 1.3 0.4 1.4-2 1.3 0.5 1.4 0.5 1.3 0.7 1.3-0.7 1.4 0.3 1.3-0.4 1.4 0.5 1.3-0.7 1.3 0.8 1.4-1.6 1.3 0.5 1.4 1.6 1.3-0.6 1.4-0.5 1.3 1.4 1.3-0.5 1.4 0 1.3-0.7 1.4 0.4 1.3-0.1 1.3-1 1.4 1 1.3-0.3 1.4 0.7 1.3-0.1 1.3-0.9 1.4 0 1.3 0.4 1.4 0.2 1.3-0.5 1.4 0.1 1.3 0.3 1.3 0 1.4 0.3 1.3-0.5 1.4-0.6 1.3-0.4 1.3 1.1 1.4-0.6 1.3-0.3 1.4-0.8 1.3-1.9 1.3-2.1 1.4-5.1 1.3-5.4 1.4-8.7 1.3-9.3 1.4-11.8 1.3-10.3 1.3-6.7 1.4-2 1.3 0.2 1.4 2.5 1.3 3.8 1.3 5.9 1.4 4.4 1.3 4.9 1.4 7.3 1.3 6.7 1.4 4.1 1.3 6.8 1.3 2.8 1.4 4 1.3 2.3 1.4 2.3 1.3 1.4 1.3 1.4 1.4 0.6 1.3 2 1.4-0.4 1.3 1 1.3 0.2 1.4-0.3 1.3 0.3 1.4 0 1.3-0.2 1.4 0.3 1.3 0 1.3-0.5 1.4-0.2 1.3 0.3 1.4 0.5 1.3 0.7 1.3 0.1 1.4-0.5 1.3 0.2 1.4-0.2 1.3 0.4 1.3-0.4 1.4 0.1" fill="#fff" stroke="#a03030" stroke-dasharray="0 406.0 677.2 9999"/>
<path d="M460 242.6L84.5 242.6L84.5 211.1l1.3-0.2 1.4 0.2 1.3-0.8 1.4 0.7 1.3-0.8 1.3-1.4 1.4 1.4 1.3-0.8 1.4-0.7 1.3-0.1 1.4-1.1 1.3 0.5 1.3-1.4 1.4 0.4 1.3 0.9 1.4-0.3 1.3-1.1 1.3-0.5 1.4 0.5 1.3-0.6 1.4-0.2 1.3-0.2 1.3-1 1.4 0.4 1.3-1.4 1.4 1 1.3-1.8 1.4-0.4 1.3-0.9 1.3-0.4 1.4-0.9 1.3-0.7 1.4 0.3 1.3 0.3 1.3-0.1 1.4-0.7 1.3-0.1 1.4 0.3 1.3 1.2 1.4 0.2 1.3 0.1 1.3 0.3 1.4-0.1 1.3-0.3 1.4-0.2 1.3-0.1 1.3 1.6 1.4-0.1 1.3-1 1.4 0.5 1.3 0.5 1.3 0.5 1.4-1 1.3 0.4 1.4 0.4 1.3-1.3 1.4 0.4 1.3 0.3 1.3-0.1 1.4 1.2 1.3-0.5 1.4-0.4 1.3-0.5 1.3 0.8 1.4-0.1 1.3-0.5 1.4-0.1 1.3-0.4 1.3 0.6 1.4 0.5 1.3 0.1 1.4-0.2 1.3 0 1.4-0.6 1.3 0 1.3 0.8 1.4-0.4 1.3-0.6 1.4 0.6 1.3 0.2 1.3-0.1 1.4-0.3 1.3-0.3 1.4 0.4 1.3 0.6 1.3-0.7 1.4-0.3 1.3 0.4 1.4-0.6 1.3 0.7 1.4-0.1 1.3 0.5 1.3-0.2 1.4 0.5 1.3 0.6 1.4-1.2 1.3-0.3 1.3 0.6 1.4-0.1 1.3 0.1 1.4-0.3 1.3 0.6 1.3-0.3 1.4-1 1.3 0.9 1.4 0.3 1.3 0.3 1.4-1 1.3-0.5 1.3 0.3 1.4-1.7 1.3-1.1 1.4-1.7 1.3-2.7 1.3-4.2 1.4-5.4 1.3-5.3 1.4-8.1 1.3-8.8 1.3-8.6 1.4-11 1.3-11.5 1.4-9.9 1.3-8.8 1.4-7.5 1.3-5.2 1.3-0.8 1.4 0.2 1.3 0.7 1.4 2.2 1.3 4.4 1.3 6.2 1.4 7 1.3 9.6 1.4 10.2 1.3 11.2 1.3 10.3 1.4 9 1.3 8.9 1.4 8.2 1.3 4.5 1.4 4.6 1.3 2.7 1.3 2.8 1.4 0.7 1.3 0.5 1.4 0.1 1.3 0.7 1.3 0.7 1.4 0 1.3-0.8 1.4 1.2 1.3-0.7 1.3-0.3 1.4 0.5 1.3-0.3 1.4 0.1 1.3 0 1.4 0.3 1.3-0.2 1.3-0.5 1.4 1 1.3-0.3 1.4 0.8 1.3-0.3 1.3 0.1 1.4-0.2 1.3 0.5 1.4-0.7 1.3-0.3 1.3 0.5 1.4-1.3 1.3 1 1.4 0.4 1.3-0.2 1.4 0.8 1.3-0.2 1.3-0.3 1.4-0.2 1.3 0.6 1.4-0.7 1.3 0.1 1.3 0.6 1.4 0 1.3 0.6 1.4-1 1.3-0.8 1.3 1.2 1.4 0.3 1.3-0.5 1.4 0.8 1.3 0.1 1.4-1.1 1.3-0.1 1.3-0.2 1.4 0.8 1.3 0.2 1.4-0.1 1.3-0.8 1.3 0.1 1.4-0.3 1.3-0.1 1.4 0.1 1.3-0.1 1.3 0.7 1.4 0.3 1.3 0.1 1.4-0.3 1.3-0.4 1.4 0.3 1.3 0.3 1.3-0.4 1.4 0.1 1.3-0.2 1.4-0.1 1.3 0.2 1.3-0.4 1.4 0.9 1.3-1.1 1.4 0.7 1.3-0.6 1.3 1.2 1.4-0.2 1.3-0.9 1.4 0.1 1.3-0.3 1.4 0.5 1.3 0.3 1.3 0.7 1.4-1.9 1.3 0.3 1.4-2.1 1.3-2.1 1.3-3.9 1.4-6.4 1.3-8.7 1.4-10.8 1.3-11 1.3-9.9 1.4-6.6 1.3-3.4 1.4 1.2 1.3 2 1.4 3.7 1.3 4.9 1.3 6.4 1.4 6.4 1.3 5.6 1.4 4.7 1.3 5.9 1.3 4.5 1.4 5 1.3 4.1 1.4 2.7 1.3 2.4 1.3 1.2 1.4 0.5 1.3 1 1.4 1.6 1.3 0.9 1.4 0.6 1.3-0.6 1.3 0.3 1.4 0.2 1.3 0.4 1.4-0.5 1.3-0.4 1.3 0.9 1.4-0.2 1.3-0.1 1.4-0.7 1.3 0.5 1.3-0.8 1.4-0.1 1.3 0.9 1.4 0 1.3 0.6 1.4 0.4 1.3-0.5 1.3 0.7" fill="#fff" stroke="#a0a028" stroke-dasharray="0 407.1 676.3 9999"/>
<path d="M458.6 244.5L83.1 244.5L83.1 212.8l1.3 0.6 1.3-0.9 1.4 0.1 1.3-0.6 1.4 0.1 1.3-0.5 1.3 0.2 1.4-0.5 1.3-0.2 1.4 0 1.3-1.2 1.3 0.5 1.4-0.9 1.3-0.9 1.4 0.5 1.3-0.4 1.4 0.4 1.3-1.2 1.3-0.1 1.4-0.2 1.3-1.2 1.4 0.7 1.3-0.8 1.3 0.8 1.4-0.2 1.3-1.2 1.4-1.3 1.3 0 1.3-0.9 1.4-0.8 1.3-1.4 1.4-1 1.3 0.8 1.4 0 1.3 1.4 1.3-0.8 1.4 0.1 1.3 0.5 1.4-0.4 1.3 0.5 1.3 0.3 1.4-0.1 1.3 0.3 1.4 0.8 1.3-0.4 1.3-0.7 1.4 0.4 1.3 0.6 1.4-0.5 1.3 0.3 1.4 0 1.3 0.3 1.3-0.3 1.4 0 1.3-0.3 1.4 0.5 1.3-0.4 1.3 1.1 1.4-0.7 1.3-0.1 1.4 0.4 1.3-0.4 1.4 0.1 1.3-0.1 1.3-0.3 1.4-0.2 1.3 0.2 1.4 0.8 1.3-0.8 1.3 0.1 1.4 0 1.3 0.6 1.4 0.5 1.3-1.3 1.3 0.6 1.4-0.2 1.3-0.2 1.4 0.3 1.3-0.8 1.4 0.9 1.3-0.3 1.3-0.5 1.4 1.2 1.3-0.3 1.4 0 1.3-1.1 1.3 0.5 1.4 0 1.3 0.6 1.4 0.3 1.3-1.4 1.3 0.8 1.4 0.1 1.3 0.5 1.4-0.4 1.3-0.5 1.4 0.4 1.3-0.3 1.3 0.2 1.4 0.4 1.3-0.2 1.4 0.3 1.3-0.6 1.3 1.7 1.4-0.4 1.3-0.4 1.4-1.1 1.3-0.6 1.3 0.2 1.4-0.2 1.3 0.2 1.4-1.9 1.3-2.9 1.4-2.2 1.3-3.9 1.3-5.5 1.4-5.9 1.3-8.1 1.4-9.4 1.3-10 1.3-10 1.4-10 1.3-11 1.4-8.8 1.3-6 1.3-5.7 1.4 0.3 1.3-0.6 1.4 1.7 1.3 3 1.4 2.9 1.3 6.4 1.3 9.4 1.4 8.4 1.3 10.2 1.4 10.9 1.3 10.7 1.3 9.7 1.4 7.8 1.3 6.6 1.4 5.6 1.3 4.2 1.3 3.3 1.4 1.4 1.3 1.8 1.4-0.4 1.3 1 1.4 0.8 1.3 0 1.3-0.5 1.4-0.5 1.3 0.1 1.4 0.3 1.3 0.3 1.3-0.3 1.4-0.5 1.3 0.4 1.4 0.7 1.3 0.1 1.3-0.9 1.4 0.3 1.3-0.5 1.4 0.7 1.3 1.8 1.4-1.4 1.3-0.3 1.3-0.2 1.4-0.3 1.3-0.2 1.4 0.8 1.3 0.1 1.3 0.7 1.4-1.3 1.3 0.9 1.4 0.4 1.3-1.4 1.3 1 1.4-0.8 1.3 1 1.4 0.4 1.3-0.6 1.4 0.1 1.3-0.4 1.3 0.5 1.4 0.4 1.3-0.6 1.4 0 1.3 0.3 1.3 0.2 1.4-1.1 1.3 0.7 1.4-0.2 1.3 0.6 1.3 0.2 1.4-0.2 1.3 0.4 1.4-1 1.3 0.2 1.4-0.2 1.3 0.5 1.3 0 1.4-0.2 1.3-0.4 1.4 0.4 1.3-0.1 1.3 0.5 1.4-0.4 1.3 0.6 1.4-0.4 1.3-1 1.3 0.6 1.4-0.4 1.3 1.1 1.4 0.2 1.3-0.6 1.4 0.1 1.3-0.9 1.3-0.4 1.4 0.7 1.3 0.2 1.4-0.5 1.3 0.6 1.3 0.2 1.4 0.2 1.3 0.4 1.4-0.4 1.3-0.6 1.3 0.2 1.4 0 1.3-0.9 1.4 0.3 1.3-1.4 1.4-3 1.3-4.2 1.3-4.3 1.4-9.8 1.3-10.4 1.4-10.8 1.3-10.4 1.3-7.3 1.4-2.2 1.3 0.2 1.4 2.9 1.3 2.7 1.3 5.4 1.4 5.5 1.3 5 1.4 7.5 1.3 4.6 1.4 6.3 1.3 4.4 1.3 4.6 1.4 3.3 1.3 4.3 1.4 1.8 1.3 2.1 1.3 0.9 1.4 0.9 1.3 0.4 1.4 0.3 1.3 0.7 1.3 0 1.4-0.1 1.3-0.4 1.4 0.5 1.3 0.4 1.4-0.4 1.3 0.3 1.3-0.2 1.4-0.4 1.3 0 1.4 0.2 1.3 0.2 1.3 0.2 1.4 0.6 1.3-1 1.4-0.4 1.3 1.2 1.3-0.4 1.4 0.3" fill="#fff" stroke="#00a0a0" stroke-dasharray="0 407.2 675.1 9999"/>
<path d="M457.1 246.3L81.6 246.3L81.6 215l1.3-0.7 1.4-0.6 1.3 1.1 1.4-1.2 1.3-1.1 1.4-0.6 1.3-0.4 1.3 0.8 1.4 0.7 1.3-1.6 1.4 0.1 1.3-0.8 1.3 1 1.4-0.5 1.3-0.3 1.4 0.3 1.3-0.2 1.3-0.6 1.4-1.1 1.3-0.7 1.4-0.2 1.3-0.5 1.4 1.3 1.3-1.1 1.3-0.2 1.4-0.3 1.3 0.2 1.4-1.8 1.3-0.2 1.3-1.5 1.4-1.2 1.3-1.3 1.4 1.6 1.3-0.4 1.3 0.3 1.4 0.6 1.3 0.2 1.4 0.6 1.3-0.7 1.4 0.5 1.3 0.2 1.3 0 1.4 0.4 1.3-0.3 1.4 0.7 1.3-0.9 1.3-0.3 1.4 0.8 1.3 0.6 1.4-0.7 1.3-0.1 1.3 0.1 1.4 0.3 1.3-0.1 1.4 0.2 1.3-0.9 1.4 1.5 1.3-0.4 1.3-0.6 1.4 1 1.3-0.4 1.4 0.4 1.3-1.1 1.3 1.2 1.4-0.8 1.3-1 1.4 1.2 1.3-0.4 1.3-0.4 1.4 0.3 1.3-0.7 1.4 1.1 1.3-0.3 1.4 0 1.3 0.8 1.3-0.7 1.4-0.4 1.3-0.1 1.4 0.4 1.3 0.5 1.3-0.8 1.4-0.2 1.3 0.9 1.4-0.4 1.3 0 1.3 1 1.4-1.5 1.3 0.5 1.4-0.8 1.3 0.7 1.4 0.6 1.3 0.2 1.3-1 1.4 1 1.3 0.1 1.4-0.3 1.3 1.1 1.3-1.1 1.4-0.4 1.3 0.5 1.4-0.8 1.3 1.5 1.4-0.1 1.3-0.7 1.3 0.4 1.4 0 1.3 0.5 1.4-1.5 1.3-0.8 1.3-1 1.4-0.2 1.3-2.1 1.4-1.5 1.3-2.7 1.3-4.5 1.4-5.4 1.3-5.5 1.4-8.4 1.3-8.8 1.4-9.6 1.3-11.5 1.3-10.2 1.4-8.1 1.3-9.7 1.4-7 1.3-3.7 1.3-1.4 1.4 0 1.3 1.7 1.4 3.1 1.3 4.6 1.3 6.6 1.4 7 1.3 9.6 1.4 11.4 1.3 10.1 1.4 10.9 1.3 8.9 1.3 7.4 1.4 7.5 1.3 4.6 1.4 4.4 1.3 3.3 1.3 2.1 1.4 0.1 1.3 1 1.4 0.2 1.3 0.3 1.3-1.4 1.4 1 1.3 0.5 1.4 0.1 1.3-0.5 1.4 0.8 1.3 0.2 1.3-0.4 1.4-0.2 1.3 0 1.4 0.3 1.3 0.6 1.3 0.1 1.4-0.9 1.3-0.3 1.4 0.1 1.3 0.9 1.3-0.3 1.4 0.1 1.3 0.1 1.4-0.1 1.3-0.2 1.4-0.5 1.3 0.3 1.3 0.4 1.4 0.1 1.3-0.3 1.4 0 1.3 0.8 1.3-0.7 1.4 0.2 1.3-0.2 1.4-0.3 1.3-0.3 1.3 0.5 1.4 0 1.3 0.7 1.4-0.8 1.3 0.3 1.4 0.5 1.3-0.2 1.3 0.3 1.4 0.1 1.3-1.2 1.4 0.5 1.3-0.1 1.3 1.1 1.4-0.6 1.3 0.3 1.4 0.6 1.3-0.9 1.3 0.1 1.4 0.2 1.3-0.3 1.4 0.7 1.3-0.2 1.4 0.1 1.3-0.5 1.3-0.2 1.4-0.1 1.3 0 1.4-0.6 1.3 0.9 1.3 0.3 1.4-0.4 1.3-0.3 1.4 0.3 1.3 0.1 1.3 0.1 1.4 0.6 1.3-1.2 1.4 0.5 1.3 0.2 1.4-0.3 1.3-0.3 1.3-0.3 1.4 0.2 1.3 0.6 1.4 0.3 1.3-1 1.3 0.4 1.4-0.2 1.3-0.5 1.4-1.6 1.3-2.4 1.3-3.9 1.4-7.1 1.3-8.1 1.4-11.2 1.3-11.2 1.4-9.5 1.3-7.2 1.3-1.4 1.4 1.1 1.3 1.6 1.4 3.6 1.3 4.6 1.3 5.4 1.4 6 1.3 6.1 1.4 5.5 1.3 5.3 1.3 5.1 1.4 4.9 1.3 3.1 1.4 3.8 1.3 1.7 1.4 2.4 1.3 0.2 1.3 1.2 1.4 1.2 1.3 0.5 1.4 0.1 1.3 1.2 1.3-0.7 1.4 0 1.3-0.2 1.4 1 1.3-0.3 1.3-0.3 1.4-1 1.3 0.9 1.4-0.3 1.3 0.5 1.4 0.2 1.3-0.7 1.3 0.5 1.4 0.3 1.3-0.2 1.4-0.3 1.3-0.3 1.3 0.2" fill="#fff" stroke="#3c78dc" stroke-dasharray="0 406.9 676.3 9999"/>
<path d="M455.7 248.2L80.2 248.2L80.2 216.6l1.3-1 1.3 1 1.4-1.6 1.3 0.4 1.4 0 1.3-0.2 1.3-0.3 1.4 0.1 1.3-1.4 1.4 0.1 1.3-0.1 1.4-0.6 1.3-0.3 1.3 0.6 1.4-1.2 1.3-0.2 1.4-0.2 1.3-0.2 1.3-0.2 1.4-0.4 1.3 0 1.4-0.4 1.3-0.1 1.3 0.1 1.4-1.3 1.3 0.7 1.4-1.4 1.3-0.3 1.4-1.2 1.3-1.3 1.3-1.6 1.4 1 1.3-0.6 1.4 0.2 1.3 1.1 1.3-0.1 1.4 1.1 1.3 0.1 1.4-0.4 1.3-0.1 1.3 0.3 1.4-0.8 1.3 0.7 1.4 0.1 1.3-0.2 1.4 0.3 1.3-0.7 1.3 1.2 1.4 0.2 1.3-1.1 1.4 0.6 1.3 0.7 1.3-0.5 1.4-0.7 1.3 0 1.4 1 1.3 0.4 1.3-1.3 1.4 0.4 1.3-0.3 1.4 0.2 1.3 0.3 1.4-0.2 1.3-0.2 1.3 1.2 1.4-1 1.3-0.1 1.4 0.6 1.3-0.5 1.3-0.1 1.4 0.5 1.3-0.9 1.4 0.8 1.3 0.2 1.3-0.2 1.4-0.5 1.3 0 1.4-0.8 1.3 0.7 1.4 0.3 1.3 0.3 1.3-0.4 1.4-0.3 1.3-0.3 1.4 0.4 1.3 0.2 1.3 0.5 1.4-0.5 1.3-0.2 1.4 0.2 1.3-0.2 1.3 0.1 1.4-0.9 1.3 0.3 1.4 0.3 1.3 0.9 1.4-0.2 1.3 0.2 1.3 0.4 1.4-0.9 1.3 1 1.4-0.3 1.3-0.5 1.3 1 1.4-1.4 1.3 0 1.4 0.4 1.3 0 1.3-0.7 1.4-1.6 1.3-0.3 1.4-1.3 1.3-1 1.4-3.7 1.3-4.9 1.3-5.9 1.4-6.1 1.3-8.5 1.4-8.5 1.3-9.8 1.3-10.8 1.4-10 1.3-9.9 1.4-8.2 1.3-5.2 1.4-4.1 1.3-1.4 1.3 0.2 1.4 2 1.3 3.2 1.4 5 1.3 6.9 1.3 7.7 1.4 8.8 1.3 11.7 1.4 10.2 1.3 9.9 1.3 9.3 1.4 6.6 1.3 6.9 1.4 5.1 1.3 4.4 1.4 1.5 1.3 2.1 1.3 1.9 1.4 0.2 1.3 0 1.4 1.1 1.3-1.3 1.3 0.8 1.4-0.2 1.3 0.3 1.4-0.3 1.3-0.2 1.3 0.5 1.4-0.6 1.3 0.8 1.4-0.2 1.3 0.5 1.4-0.6 1.3-0.1 1.3 0.6 1.4 0.3 1.3-1.4 1.4 0.9 1.3 0.3 1.3-0.9 1.4 0.2 1.3 0.8 1.4-0.7 1.3 0.2 1.3 1 1.4-1.1 1.3-0.1 1.4-0.6 1.3 0.5 1.4 0.1 1.3 1.4 1.3-0.2 1.4-1 1.3 1.4 1.4-0.5 1.3-0.4 1.3 0.4 1.4-0.2 1.3-0.5 1.4-0.5 1.3 0.4 1.3 0.5 1.4-0.1 1.3-0.1 1.4 0.7 1.3-0.8 1.4 0.8 1.3-0.5 1.3 0.2 1.4-0.5 1.3 0.5 1.4-0.4 1.3-0.4 1.3 0.8 1.4 0.1 1.3 0.4 1.4-0.3 1.3-0.7 1.3 0.1 1.4-0.8 1.3 0.6 1.4 1.2 1.3 0.2 1.4-0.4 1.3-0.2 1.3 0.1 1.4-0.1 1.3-1.1 1.4 0.4 1.3 1 1.3 0.1 1.4-0.5 1.3-0.3 1.4-0.1 1.3-0.1 1.3-0.2 1.4-0.5 1.3 1 1.4-0.2 1.3 0.1 1.4 0.8 1.3-0.6 1.3-0.9 1.4-0.2 1.3-2.1 1.4-1.3 1.3-4.3 1.3-6.4 1.4-8 1.3-9.9 1.4-12 1.3-10.2 1.3-5.7 1.4-3.2 1.3 1.3 1.4 1.3 1.3 3.9 1.4 4.2 1.3 5.9 1.3 5.4 1.4 5.8 1.3 6.9 1.4 4.9 1.3 3.8 1.3 5 1.4 3.4 1.3 2.8 1.4 2.6 1.3 2 1.3 1.5 1.4 0.6 1.3 0.2 1.4 1.1 1.3 1 1.4-0.7 1.3 0.9 1.3 0.1 1.4-0.4 1.3 0.3 1.4-0.4 1.3 0.1 1.3-0.2 1.4 0.7 1.3 0.4 1.4-0.8 1.3 0.7 1.3-1.4 1.4 0.5 1.3 0.1 1.4 1.3 1.3-0.9 1.4 0.5 1.3-1.2" fill="#fff" stroke="#9650c8" stroke-dasharray="0 407.2 673.3 9999"/>
<path d="M454.2 250L78.7 250L78.7 218l1.4 0.1 1.3-0.5 1.3-0.9 1.4-0.3 1.3 0.6 1.4-0.5 1.3-1.5 1.3-0.1 1.4 0.7 1.3-0.1 1.4 0 1.3-1.1 1.3 0.5 1.4-0.6 1.3-0.4 1.4-0.1 1.3 0.2 1.4-0.4 1.3-0.2 1.3-1 1.4-0.2 1.3-0.7 1.4 0 1.3-0.2 1.3-0.3 1.4 0.2 1.3-0.6 1.4-0.6 1.3-1.2 1.3-0.6 1.4-1.3 1.3-0.2 1.4 0.2 1.3 0.3 1.4-0.1 1.3-0.4 1.3 0.2 1.4 1.7 1.3-0.5 1.4 0.1 1.3-0.2 1.3 0.1 1.4 1.5 1.3-1.6 1.4 0.4 1.3 0 1.3-0.4 1.4-0.1 1.3 0.3 1.4 0.3 1.3 0 1.4 0.5 1.3-0.8 1.3 0.8 1.4 0.5 1.3-0.3 1.4-1.1 1.3-0.8 1.3 1.8 1.4-0.1 1.3-0.5 1.4 0.8 1.3-0.7 1.3 0.1 1.4-0.5 1.3 0.6 1.4-0.3 1.3 0 1.4 0.7 1.3-0.4 1.3-0.8 1.4 1 1.3 0 1.4-0.8 1.3 0.2 1.3 0.2 1.4-0.1 1.3 0.1 1.4 0.3 1.3-0.5 1.3 1.1 1.4-1.3 1.3 0.1 1.4 1.2 1.3 0.2 1.4-1.1 1.3-0.2 1.3-0.3 1.4 1 1.3-0.4 1.4-0.4 1.3 0.6 1.3 0.6 1.4-0.2 1.3 0.7 1.4-0.5 1.3-0.3 1.3-0.2 1.4 0.3 1.3 0.4 1.4-0.1 1.3 0 1.4-0.3 1.3 0.2 1.3 0.2 1.4-0.8 1.3-0.6 1.4 1.1 1.3-0.9 1.3-1.3 1.4-0.9 1.3-1.9 1.4-3 1.3-2.7 1.3-4.7 1.4-4.8 1.3-6.8 1.4-7.6 1.3-9.7 1.4-9.8 1.3-10.7 1.3-10.3 1.4-9.8 1.3-6.8 1.4-6.2 1.3-3.6 1.3-0.3 1.4 0.2 1.3 1.6 1.4 3.7 1.3 5.5 1.3 6 1.4 7.8 1.3 10 1.4 11.4 1.3 9.3 1.4 10.7 1.3 8.4 1.3 8.1 1.4 5.9 1.3 4.1 1.4 4.1 1.3 3.6 1.3 0.6 1.4 1.2 1.3 0.2 1.4 0.4 1.3 0.4 1.3 0.3 1.4 0.8 1.3-0.9 1.4-0.2 1.3-0.2 1.4-0.3 1.3-0.1 1.3 1.1 1.4-1 1.3 1.5 1.4-0.1 1.3-0.6 1.3-0.4 1.4 0.5 1.3 0.2 1.4 0.4 1.3-0.8 1.4 0.1 1.3 0.2 1.3-0.1 1.4-0.2 1.3-0.5 1.4 0.1 1.3 0.5 1.3 0.3 1.4 0.7 1.3 0.7 1.4-0.3 1.3-0.6 1.3 0.6 1.4-0.9 1.3-0.1 1.4 1.2 1.3-1.4 1.4 0.2 1.3 0.2 1.3 0.7 1.4-0.8 1.3 0.5 1.4-0.5 1.3-0.3 1.3 0.6 1.4 0 1.3-0.6 1.4 0.1 1.3 0.2 1.3 0.8 1.4-0.1 1.3-0.1 1.4 0.1 1.3-0.4 1.4 0.4 1.3-0.5 1.3-0.4 1.4 0.3 1.3 0.4 1.4 0 1.3 0.4 1.3-1.2 1.4 0.6 1.3 0.3 1.4-0.6 1.3 0.5 1.3-0.3 1.4-0.3 1.3 0.9 1.4-1 1.3 1 1.4-0.6 1.3-0.3 1.3 0 1.4 0 1.3 0 1.4 0.5 1.3-0.9 1.3 1.4 1.4-0.1 1.3 0.2 1.4-1.2 1.3-0.8 1.3 0.7 1.4 0 1.3-0.4 1.4-1.6 1.3-2.2 1.4-4 1.3-6.7 1.3-7 1.4-11.5 1.3-10.5 1.4-9.7 1.3-7.9 1.3-2.1 1.4 1.5 1.3 1.4 1.4 4 1.3 4.3 1.3 5.3 1.4 6 1.3 5.6 1.4 5.8 1.3 6 1.4 4.7 1.3 4.3 1.3 2.9 1.4 3.6 1.3 2.9 1.4 1.7 1.3 1.1 1.3 0.5 1.4 0.7 1.3 1 1.4 0.8 1.3-0.3 1.3 0.6 1.4-0.6 1.3 0.6 1.4-0.9 1.3 0.4 1.4-0.5 1.3 0.8 1.3 0 1.4-0.7 1.3 0.1 1.4 0.1 1.3-0.4 1.3 0.3 1.4 0.1 1.3 0.9 1.4 0.3 1.3-0.8 1.3 0.1" fill="#fff" stroke="#ff5a8c" stroke-dasharray="0 407.6 669.6 9999"/>
<path d="M452.8 251.9L77.3 251.9L77.3 220.7l1.3-0.9 1.3-0.6 1.4 0.3 1.3-0.7 1.4-0.2 1.3-0.6 1.4 0.4 1.3-0.1 1.3-0.9 1.4 0.6 1.3-1.2 1.4-0.1 1.3-1.1 1.3-0.3 1.4 1.5 1.3-0.4 1.4-0.6 1.3-1.5 1.3 0.5 1.4-0.2 1.3-0.4 1.4-0.2 1.3-0.8 1.4-0.1 1.3-0.7 1.3 0 1.4-0.2 1.3-1.2 1.4-0.8 1.3-1 1.3-0.7 1.4-0.1 1.3 0.1 1.4 0.3 1.3-0.6 1.3 0.7 1.4 0.8 1.3-0.6 1.4 0.3 1.3 0 1.4 1.1 1.3-0.7 1.3 0 1.4 0.7 1.3 0.3 1.4-0.2 1.3 0.2 1.3-0.3 1.4-0.2 1.3-0.1 1.4 0 1.3 0 1.3 0.4 1.4-0.1 1.3 0.1 1.4 0.2 1.3-0.3 1.4-0.7 1.3 0.2 1.3-0.1 1.4-0.3 1.3 0.8 1.4-0.5 1.3-0.1 1.3 0.2 1.4 0.8 1.3-0.4 1.4 0.5 1.3-0.5 1.3-0.2 1.4 0.5 1.3 0 1.4-0.3 1.3-0.5 1.4 0.1 1.3-0.2 1.3 0.4 1.4 0.2 1.3 0.6 1.4 0 1.3-0.3 1.3 0 1.4-0.2 1.3 1.1 1.4-0.5 1.3 0.4 1.3-0.9 1.4-0.1 1.3 0.3 1.4-0.3 1.3 0 1.4-0.5 1.3 0.9 1.3-0.3 1.4 0.3 1.3-0.5 1.4-0.6 1.3 1.1 1.3 0.3 1.4-1.1 1.3 0.1 1.4 0.4 1.3 0 1.3-0.5 1.4 1.4 1.3-0.3 1.4-1 1.3-0.8 1.4 0.5 1.3 0 1.3-1.6 1.4-1.8 1.3-3.3 1.4-3 1.3-5.1 1.3-4.1 1.4-7.6 1.3-9.5 1.4-9.1 1.3-9 1.3-10.4 1.4-10.3 1.3-8.7 1.4-7 1.3-6.3 1.4-3.9 1.3 0.3 1.3 0.2 1.4 2.1 1.3 3.9 1.4 5 1.3 6.6 1.3 8.9 1.4 9.4 1.3 10.8 1.4 10 1.3 10 1.3 8.6 1.4 7.9 1.3 5.6 1.4 4.7 1.3 3.1 1.4 2.5 1.3 0.8 1.3 2.8 1.4-0.8 1.3 0.5 1.4 0 1.3 0.1 1.3 0.4 1.4-0.3 1.3 0 1.4-0.4 1.3 0.2 1.3 0 1.4 1.3 1.3-1.3 1.4 0.1 1.3 0.7 1.4 0.5 1.3-1.3 1.3 0 1.4 0.8 1.3 0.1 1.4-0.8 1.3-0.2 1.3 0.5 1.4 0.8 1.3-0.2 1.4 0.3 1.3-0.4 1.3 0.1 1.4 0.3 1.3-0.3 1.4 0.1 1.3-0.5 1.4 0.2 1.3 0.5 1.3-0.3 1.4-0.2 1.3 0.7 1.4 0 1.3-0.3 1.3-0.3 1.4 0.8 1.3 0.7 1.4-1.4 1.3-0.5 1.4 0.4 1.3-0.1 1.3-0.1 1.4 0.1 1.3 1 1.4 0.1 1.3 0.3 1.3-0.3 1.4-0.5 1.3 0.6 1.4-0.7 1.3 0 1.3-0.2 1.4 1 1.3 0 1.4-0.7 1.3 0 1.4 0.2 1.3 0.1 1.3 0.2 1.4-0.3 1.3 0 1.4-0.8 1.3 0.4 1.3-0.5 1.4 1.6 1.3-0.1 1.4-0.3 1.3 0.2 1.3 0.4 1.4-0.6 1.3-1.2 1.4 0.5 1.3-0.9 1.4 0.6 1.3-0.1 1.3 0.6 1.4 0.2 1.3-0.6 1.4 0.2 1.3 0.1 1.3-0.4 1.4-0.8 1.3-2.2 1.4-1.5 1.3-3.3 1.3-6.4 1.4-9.2 1.3-9.7 1.4-10.9 1.3-10.6 1.4-6.5 1.3-3.2 1.3 0.9 1.4 2.4 1.3 4.5 1.4 3.5 1.3 5.2 1.3 6.4 1.4 5.5 1.3 6 1.4 4.5 1.3 6.1 1.3 4.2 1.4 3.2 1.3 4.1 1.4 1.7 1.3 1.8 1.4 0.8 1.3 0.9 1.3 1.1 1.4 0.2 1.3 1.3 1.4 0.4 1.3-0.6 1.3-0.4 1.4 0.5 1.3-0.2 1.4 0.6 1.3 0 1.3-0.2 1.4 0.2 1.3 0.6 1.4 0.3 1.3-1 1.4 0.5 1.3-0.3 1.3-0.3 1.4 1 1.3-0.3 1.4-0.1 1.3 0.2" fill="#fff" stroke="#4696c8" stroke-dasharray="0 406.7 667.0 9999"/>
<path d="M451.4 253.7L75.8 253.7L75.8 221.7l1.4-0.5 1.3 0.5 1.3-0.4 1.4-0.3 1.3-1.2 1.4 0.3 1.3-0.6 1.3 0.1 1.4 0.2 1.3-0.7 1.4-0.5 1.3 0.3 1.4-0.3 1.3 0 1.3-1.8 1.4 0.5 1.3-0.5 1.4-0.5 1.3 0.1 1.3-0.8 1.4-0.8 1.3 0.3 1.4 0.1 1.3 0.5 1.3-1.3 1.4-0.7 1.3-0.8 1.4-0.1 1.3-0.8 1.4-0.9 1.3-1.5 1.3-0.3 1.4-0.2 1.3 1.2 1.4-0.4 1.3-0.2 1.3 1.8 1.4 0 1.3 0.1 1.4 0.1 1.3-0.4 1.3 0.8 1.4-0.6 1.3 1.2 1.4-0.6 1.3-0.8 1.4 1.1 1.3 0.6 1.3-0.9 1.4 0.5 1.3-0.5 1.4-0.3 1.3-0.7 1.3 1.5 1.4-0.5 1.3 0.2 1.4-0.6 1.3 0.1 1.3 0.8 1.4-0.5 1.3-0.1 1.4-0.3 1.3 0.6 1.4 0.2 1.3-0.5 1.3 0 1.4-0.3 1.3 1 1.4-0.8 1.3 0.2 1.3 0.7 1.4-0.8 1.3-0.6 1.4 0.2 1.3 0.3 1.3 0.9 1.4-0.6 1.3-0.3 1.4 0.5 1.3 0.1 1.4-0.8 1.3 0.9 1.3-0.2 1.4-0.4 1.3-1.1 1.4 1.1 1.3 0.6 1.3-0.6 1.4 1 1.3-0.9 1.4-0.4 1.3 0.7 1.3-0.1 1.4 0.3 1.3-0.4 1.4 0.6 1.3-0.7 1.4 0.2 1.3-0.5 1.3 0.2 1.4 0.5 1.3-0.3 1.4 0 1.3 0.2 1.3 0.1 1.4 0.2 1.3-0.2 1.4-0.2 1.3-0.9 1.3-1.2 1.4-1.7 1.3-1.3 1.4-2.8 1.3-3.8 1.4-3.3 1.3-7 1.3-6.3 1.4-8.1 1.3-9.6 1.4-9 1.3-11.3 1.3-10.3 1.4-8 1.3-8.4 1.4-5.4 1.3-2.4 1.3 0.1 1.4 1.1 1.3 2.1 1.4 2.9 1.3 6.2 1.4 7.9 1.3 7.4 1.3 9.9 1.4 10.6 1.3 10.4 1.4 8.8 1.3 8.4 1.3 7.3 1.4 6.7 1.3 4.4 1.4 1.8 1.3 2.1 1.3 1.8 1.4 0.9 1.3 1.3 1.4 0.3 1.3 0.9 1.4-0.4 1.3-0.2 1.3 0.4 1.4-0.8 1.3-0.2 1.4 0.6 1.3 0.4 1.3-0.9 1.4 1 1.3 0 1.4-0.5 1.3 0.3 1.3-0.2 1.4 0.2 1.3 0.3 1.4-0.6 1.3 0.8 1.4 0 1.3-0.1 1.3-1.2 1.4 0.1 1.3 1.1 1.4-0.5 1.3-0.1 1.3 0 1.4-0.2 1.3 0.5 1.4-0.2 1.3 0.1 1.3 0.5 1.4-0.6 1.3 0.8 1.4-1.1 1.3 1.7 1.4-1.3 1.3 0.7 1.3 0.2 1.4-0.4 1.3 0.3 1.4-0.4 1.3-0.6 1.3 0.9 1.4 0.4 1.3-0.7 1.4-0.5 1.3 0.4 1.3 0.5 1.4 0.1 1.3 0.3 1.4-0.2 1.3-0.1 1.4-0.9 1.3 1.7 1.3-0.8 1.4 0.2 1.3-0.5 1.4 0.1 1.3 0.1 1.3 0.7 1.4 0 1.3-0.4 1.4 0.5 1.3-0.9 1.4 0.2 1.3-0.3 1.3 0.7 1.4-0.5 1.3 0.4 1.4 0.2 1.3-1.4 1.3 1.6 1.4-0.7 1.3-0.4 1.4-0.7 1.3 0.6 1.3-0.7 1.4 0.9 1.3 0.1 1.4 0.7 1.3-0.8 1.4 0.4 1.3-0.2 1.3-0.3 1.4-2.2 1.3-2.1 1.4-4.9 1.3-5.9 1.3-8 1.4-10.2 1.3-11.6 1.4-9.8 1.3-6.8 1.3-3.1 1.4 0.8 1.3 1.9 1.4 4.5 1.3 4.8 1.4 4.7 1.3 5.7 1.3 6.7 1.4 5.4 1.3 5 1.4 4.6 1.3 4.8 1.3 4.8 1.4 2.1 1.3 3.7 1.4 0.7 1.3 1.2 1.3 1.6 1.4 0.2 1.3 0.6 1.4-0.3 1.3 0.1 1.4 0.4 1.3 0.5 1.3-0.3 1.4-0.5 1.3 1 1.4-0.2 1.3-0.1 1.3-0.2 1.4-0.5 1.3 1.5 1.4-0.6 1.3 0.4 1.3 0.4 1.4 0 1.3-0.4 1.4-0.1 1.3 0.2 1.4 0.3" fill="#fff" stroke="#909090" stroke-dasharray="0 407.5 671.6 9999"/>
<path d="M449.9 255.6L74.4 255.6L74.4 223.3l1.3 0.2 1.4-1.1 1.3 0.3 1.3-0.3 1.4-0.4 1.3-0.7 1.4 0.7 1.3 0.1 1.3-1.7 1.4 0.3 1.3 0.1 1.4 0.4 1.3-1.5 1.3-0.6 1.4 0.2 1.3 0.7 1.4-1.2 1.3-0.2 1.4 0.3 1.3-2.1 1.3-0.3 1.4 1.2 1.3-0.3 1.4-1.3 1.3 0.5 1.3-0.5 1.4-0.5 1.3-1.2 1.4-0.8 1.3-1.1 1.3-0.5 1.4-0.5 1.3 1.2 1.4-0.2 1.3-0.7 1.4 1.1 1.3 0.7 1.3-0.3 1.4 0.4 1.3-0.3 1.4 0.4 1.3-0.6 1.3 0.7 1.4-0.8 1.3 1.2 1.4-1.3 1.3-0.2 1.3 1.2 1.4-0.2 1.3 0.2 1.4 0.2 1.3-0.3 1.4-0.3 1.3 0.5 1.3 0.1 1.4 0.1 1.3 0.6 1.4-1.2 1.3 0.3 1.3 0.2 1.4-0.5 1.3-0.4 1.4 0.4 1.3 0.7 1.3-0.5 1.4 0.3 1.3-0.6 1.4 0.4 1.3-0.5 1.4-0.1 1.3 0.5 1.3 0 1.4 0.6 1.3-1.4 1.4 0.9 1.3 0.6 1.3-0.1 1.4-0.9 1.3-0.2 1.4 0.1 1.3 0.3 1.3 0 1.4 0.1 1.3 0 1.4-0.8 1.3-0.1 1.4 0 1.3 0 1.3 0.7 1.4 0.3 1.3 1.1 1.4-0.9 1.3-0.2 1.3 0.6 1.4-0.9 1.3 0.5 1.4 0.3 1.3 0 1.3-0.2 1.4-0.4 1.3-0.4 1.4 0.5 1.3-0.1 1.4 0.6 1.3-0.4 1.3 0.1 1.4-1.1 1.3 0.7 1.4-1.3 1.3-1.3 1.3-1.2 1.4-1.5 1.3-1.8 1.4-3.8 1.3-5.6 1.3-5.4 1.4-7.4 1.3-9.1 1.4-9.2 1.3-10.5 1.4-9.8 1.3-10.6 1.3-7.9 1.4-7 1.3-4.7 1.4-2.1 1.3 0.9 1.3 0.3 1.4 2.5 1.3 4.1 1.4 5.7 1.3 7.1 1.3 8.1 1.4 9.4 1.3 10.4 1.4 10.2 1.3 9.7 1.4 8.4 1.3 7.6 1.3 5.2 1.4 5.1 1.3 2.7 1.4 1.4 1.3 1.7 1.3-0.7 1.4 2.3 1.3 0 1.4 0 1.3-0.7 1.3 1.8 1.4-1.1 1.3 0.1 1.4 0.5 1.3-0.5 1.4-0.3 1.3 0.7 1.3-0.7 1.4 0.8 1.3-0.1 1.4 0.3 1.3-0.9 1.3 1.1 1.4-0.3 1.3 0.7 1.4-1.1 1.3 1.1 1.3-0.5 1.4 0 1.3-0.7 1.4 0.6 1.3 0.1 1.4-0.7 1.3-0.2 1.3 0.3 1.4 1 1.3-0.4 1.4 0.3 1.3-0.3 1.3-0.1 1.4 0.1 1.3-0.2 1.4 0.7 1.3-0.4 1.3-0.1 1.4-0.7 1.3 0.8 1.4-0.4 1.3 0.1 1.4 0.7 1.3-0.9 1.3 0.4 1.4 0.5 1.3 0.2 1.4-0.7 1.3 0.3 1.3 0 1.4-0.7 1.3-0.5 1.4 0.2 1.3 1.2 1.3-0.2 1.4-0.7 1.3 0.3 1.4 0.2 1.3 0 1.4 0.2 1.3 1 1.3-1.3 1.4 0.3 1.3-0.4 1.4 0 1.3-0.1 1.3 0.3 1.4-0.1 1.3 0.4 1.4-0.1 1.3-0.4 1.3 1.2 1.4-1.3 1.3 0.6 1.4 0.8 1.3-1.2 1.4 0.9 1.3 0.1 1.3-0.7 1.4-0.9 1.3 1.4 1.4-0.6 1.3-0.4 1.3 0.5 1.4-1.4 1.3-0.6 1.4-3 1.3-3.5 1.3-6.8 1.4-8.1 1.3-10.5 1.4-11 1.3-9.8 1.4-7.5 1.3-2.5 1.3 1.1 1.4 1.5 1.3 2.7 1.4 5.3 1.3 5.7 1.3 6.3 1.4 6.1 1.3 5.8 1.4 5 1.3 5.3 1.4 3.5 1.3 4.9 1.3 2.8 1.4 2.3 1.3 1.5 1.4 1.5 1.3 0.8 1.3 1.2 1.4-0.3 1.3 1.3 1.4 0.2 1.3 0.7 1.3-0.8 1.4-0.1 1.3 0.2 1.4-0.1 1.3-0.1 1.4-0.4 1.3-0.1 1.3 0.4 1.4 0.1 1.3-0.4 1.4 0.1 1.3 0.5 1.3 0.5 1.4-0.3 1.3 0.5 1.4 0.2 1.3-0.1" fill="#fff" stroke="#6ec86e" stroke-dasharray="0 407.8 671.7 9999"/>
<path d="M448.5 257.4L72.9 257.4L72.9 225.3l1.4-0.5 1.3-0.5 1.3-0.6 1.4 1 1.3-1.3 1.4-0.7 1.3 0 1.3-0.4 1.4 1.3 1.3-0.9 1.4 0.2 1.3-0.3 1.4-0.7 1.3-0.3 1.3-0.9 1.4-0.1 1.3-0.4 1.4-0.1 1.3-0.5 1.3 0.6 1.4-0.5 1.3-0.8 1.4-0.9 1.3 0.7 1.4-0.1 1.3-0.9 1.3-1.1 1.4 0.1 1.3-0.6 1.4-2.3 1.3 0.2 1.3-1.5 1.4 1.2 1.3 1.1 1.4-0.4 1.3 0.3 1.3-0.2 1.4 0.4 1.3 1.3 1.4-0.4 1.3-0.7 1.4 0 1.3 0.4 1.3 1 1.4-0.7 1.3 0.3 1.4-0.7 1.3-0.3 1.3 1.1 1.4-0.5 1.3-0.4 1.4 0 1.3 0 1.3 0 1.4-0.3 1.3 1.2 1.4-0.2 1.3 0.2 1.4-0.6 1.3 0.3 1.3-0.1 1.4 0.5 1.3-0.2 1.4-0.3 1.3-0.5 1.3-0.3 1.4 0.2 1.3 0.1 1.4 0 1.3-0.3 1.3 1.3 1.4-0.6 1.3-1.1 1.4 0.3 1.3-0.1 1.4 0.8 1.3 0.4 1.3-0.9 1.4 0.6 1.3-0.3 1.4 0.6 1.3 0.1 1.3-0.5 1.4 0.1 1.3-0.3 1.4-0.2 1.3-0.3 1.3 0.7 1.4-0.2 1.3-0.1 1.4 0.2 1.3-0.1 1.4-0.3 1.3 0.3 1.3 0.8 1.4-0.5 1.3 0.6 1.4-1.1 1.3-0.1 1.3 0.8 1.4 0.3 1.3-0.6 1.4 0.6 1.3 0.2 1.3-0.1 1.4-0.6 1.3-0.3 1.4-1.1 1.3 0.2 1.4-0.7 1.3-1 1.3-3.2 1.4-2.7 1.3-3.7 1.4-4.1 1.3-7.6 1.3-6.7 1.4-7.1 1.3-10.1 1.4-11 1.3-9.7 1.3-9.2 1.4-8.7 1.3-7.1 1.4-4.7 1.3-1 1.4-0.2 1.3 1.4 1.3 2.2 1.4 3.7 1.3 6.6 1.4 6.7 1.3 9.1 1.3 9.3 1.4 10.4 1.3 10 1.4 9.1 1.3 8.7 1.3 7.4 1.4 5.8 1.3 3.8 1.4 2.2 1.3 2.6 1.4 0.9 1.3 1.3 1.3-0.9 1.4 1.4 1.3-0.7 1.4 0.8 1.3-0.6 1.3 0.6 1.4-0.6 1.3-0.7 1.4 0.4 1.3 0.5 1.3 0 1.4-0.9 1.3 0.4 1.4 0.3 1.3 0.3 1.4 0.2 1.3-0.4 1.3-0.3 1.4 0.8 1.3-0.1 1.4 0.5 1.3-0.6 1.3 0.5 1.4-0.6 1.3 0.5 1.4 0 1.3 0.1 1.3-0.6 1.4 0.3 1.3-0.2 1.4 0.3 1.3 0.5 1.4 1.1 1.3-1.3 1.3 0.2 1.4-0.2 1.3 0.5 1.4-0.3 1.3 0.3 1.3-0.2 1.4 0.9 1.3-0.5 1.4-1.4 1.3 0.8 1.3 0 1.4-1.1 1.3 0.6 1.4 0.3 1.3-0.1 1.4 0.4 1.3-0.8 1.3 1.2 1.4 0.1 1.3-0.2 1.4-0.3 1.3 0.1 1.3-0.2 1.4 0.7 1.3-0.1 1.4 0.5 1.3-0.9 1.3 0.6 1.4-0.8 1.3 0 1.4-0.3 1.3 0.7 1.4-0.2 1.3 0.3 1.3 0.4 1.4-0.7 1.3 0.2 1.4 0.2 1.3-0.5 1.3-0.2 1.4 0.4 1.3 0.1 1.4 0.2 1.3-0.1 1.3-0.6 1.4 0.5 1.3 0.3 1.4-0.7 1.3 0.2 1.4-0.5 1.3 0.1 1.3 0.1 1.4-2 1.3-2.8 1.4-3.4 1.3-6 1.3-8 1.4-11.4 1.3-11.1 1.4-9.9 1.3-7.9 1.3-1.8 1.4-0.7 1.3 2.6 1.4 3.3 1.3 5.1 1.4 6.1 1.3 5.9 1.3 6.2 1.4 5.7 1.3 4.4 1.4 6 1.3 3.5 1.3 4.2 1.4 3.2 1.3 2.4 1.4 2.2 1.3 1 1.3 2.1 1.4 0.3 1.3 0.7 1.4 0.1 1.3 0.2 1.4-0.2 1.3 0.9 1.3-1.2 1.4 0.6 1.3-0.2 1.4-0.1 1.3 0.2 1.3-0.4 1.4 0.8 1.3 0 1.4-0.2 1.3 0.2 1.4-0.8 1.3-0.3 1.3 0.6 1.4 0.4 1.3 1.2 1.4-1.1" fill="#fff" stroke="#9682e6" stroke-dasharray="0 407.6 668.8 9999"/>
<path d="M447 259.3L71.5 259.3L71.5 227.6l1.3-1.3 1.4 0 1.3-0.1 1.3 0.2 1.4-0.5 1.3-0.7 1.4 0.1 1.3-0.1 1.3-0.5 1.4 0.3 1.3-0.9 1.4-1 1.3-0.2 1.3 0 1.4-0.2 1.3 0.1 1.4-0.4 1.3 0.3 1.4-0.6 1.3-0.1 1.3-1.3 1.4-0.1 1.3 0.2 1.4-0.5 1.3-0.1 1.3-0.6 1.4-0.8 1.3 0.3 1.4-1.1 1.3-2.2 1.3-0.5 1.4-0.2 1.3 0.7 1.4-0.1 1.3-0.2 1.4 1.1 1.3-0.1 1.3 0.7 1.4-0.2 1.3 0.4 1.4 0.1 1.3 0 1.3-0.5 1.4 0.7 1.3-0.3 1.4-0.6 1.3 0.3 1.3 0.1 1.4 0.5 1.3 0 1.4-0.7 1.3 0.8 1.4-0.4 1.3-0.4 1.3 0.8 1.4-0.7 1.3-0.2 1.4 0.9 1.3 0.1 1.3-0.7 1.4 0.7 1.3 0 1.4-0.6 1.3 1 1.4-0.8 1.3-0.1 1.3-1.1 1.4 1.2 1.3-0.4 1.4 0.3 1.3-0.8 1.3 1.2 1.4 0.3 1.3 0 1.4-2.1 1.3 1.4 1.3-0.1 1.4-1.5 1.3 0.9 1.4 0.5 1.3 0.6 1.4-1 1.3 0.4 1.3-0.1 1.4 0.2 1.3-0.3 1.4 0.6 1.3 0 1.3-0.9 1.4 1 1.3-0.7 1.4 0.2 1.3 0.7 1.3-0.4 1.4 0.2 1.3 0.1 1.4-0.1 1.3-0.5 1.4-0.1 1.3 0.7 1.3 0.2 1.4-0.2 1.3-0.3 1.4 0.4 1.3-0.4 1.3-0.8 1.4 0.5 1.3-0.2 1.4-0.5 1.3-1.8 1.3-1.4 1.4-1.6 1.3-3.2 1.4-3.7 1.3-4.6 1.4-6.4 1.3-6.9 1.3-9.3 1.4-9 1.3-10.3 1.4-9.6 1.3-10.7 1.3-8.4 1.4-5.9 1.3-4.8 1.4-1.4 1.3 0.6 1.3 1.2 1.4 1.8 1.3 5 1.4 5.8 1.3 7.7 1.4 9.1 1.3 9.7 1.3 10.7 1.4 9.6 1.3 8.9 1.4 8.1 1.3 7.2 1.3 5.2 1.4 4.1 1.3 2.1 1.4 2 1.3 2 1.3-0.1 1.4 1.1 1.3-0.1 1.4-0.5 1.3-0.4 1.4 0.9 1.3-0.5 1.3 0 1.4-0.4 1.3 1.3 1.4-0.3 1.3-0.1 1.3 0.2 1.4 0 1.3 0 1.4 0.1 1.3-0.4 1.3-0.9 1.4 1.4 1.3 0 1.4-0.1 1.3 0.6 1.4-1.3 1.3-0.6 1.3 1.9 1.4-0.4 1.3-0.9 1.4 0.5 1.3 0.5 1.3-0.7 1.4 0.8 1.3 0.8 1.4-0.3 1.3-0.6 1.3 0 1.4-0.5 1.3 0.5 1.4-0.2 1.3-0.3 1.4-0.1 1.3 1.5 1.3-0.8 1.4-0.5 1.3 0.3 1.4 1 1.3 0 1.3-0.9 1.4 0.3 1.3 0.3 1.4-0.5 1.3-0.4 1.3 0.1 1.4 0.4 1.3-0.3 1.4-0.2 1.3 0.5 1.4 0.6 1.3-0.1 1.3-0.3 1.4 0.8 1.3-1.1 1.4 0.1 1.3-0.4 1.3 0.9 1.4-0.4 1.3-0.8 1.4 0.5 1.3 1.2 1.3-0.4 1.4-0.3 1.3 0.2 1.4-1.1 1.3 0.2 1.4-0.1 1.3 0.2 1.3 0.2 1.4 0.5 1.3 0.2 1.4 0.1 1.3 0.7 1.3-1.4 1.4 0.1 1.3 0.2 1.4-0.6 1.3 0.1 1.3 0 1.4-1.1 1.3-0.6 1.4-2 1.3-5 1.4-6.6 1.3-7.3 1.3-10.7 1.4-10.7 1.3-10.6 1.4-7.1 1.3-2.5 1.3 0.5 1.4 1.6 1.3 3 1.4 4.1 1.3 5.6 1.3 6.6 1.4 6.6 1.3 5.6 1.4 5.6 1.3 4.6 1.4 4.3 1.3 3.8 1.3 4 1.4 1.4 1.3 2.9 1.4 0.8 1.3 1.6 1.3 0.6 1.4 0.8 1.3 0.4 1.4-0.7 1.3 0 1.3 0.3 1.4 0 1.3 0.6 1.4-0.2 1.3 0 1.4 0.2 1.3-0.4 1.3 0.7 1.4-1.2 1.3 0.9 1.4 0.2 1.3-0.5 1.3 0.1 1.4 0.7 1.3-0.5 1.4-0.7 1.3 0.3" fill="#fff" stroke="#46c8c8" stroke-dasharray="0 407.2 668.6 9999"/>
<path d="M445.6 261.1L70 261.1L70 229.8l1.4-0.9 1.3-0.5 1.3-0.8 1.4 0.4 1.3-0.3 1.4-0.3 1.3-0.7 1.4 0.1 1.3 0.1 1.3-1.5 1.4-1 1.3 1.3 1.4-0.3 1.3-0.8 1.3-0.3 1.4 1.3 1.3-1.9 1.4-0.8 1.3 0.1 1.3 0.3 1.4-0.9 1.3-0.1 1.4 0 1.3-0.6 1.4-0.1 1.3-0.5 1.3-1 1.4-0.2 1.3-1.3 1.4 0 1.3-1.7 1.3-0.3 1.4-0.3 1.3 0.9 1.4 0 1.3 1.6 1.3-0.5 1.4 0.3 1.3-1 1.4 0.3 1.3 0.7 1.4-0.4 1.3 1.3 1.3-0.7 1.4 0.3 1.3 0.1 1.4-0.1 1.3 0.4 1.3-0.7 1.4 0.6 1.3 0.4 1.4-0.4 1.3-0.2 1.3-0.2 1.4 0.2 1.3 0.3 1.4-0.5 1.3-0.7 1.4 0.9 1.3-0.1 1.3 0.3 1.4-0.2 1.3 0.7 1.4-1.4 1.3 0.1 1.3 0.7 1.4-0.7 1.3 0.6 1.4-0.2 1.3-1 1.3 1.3 1.4 0.4 1.3-0.6 1.4-0.8 1.3 1 1.4-0.9 1.3 0.4 1.3 0.3 1.4-0.7 1.3-0.5 1.4 0.8 1.3 0.1 1.3-0.5 1.4 0.1 1.3 0.7 1.4-0.3 1.3-0.2 1.4-0.1 1.3 0.5 1.3 0 1.4-0.2 1.3-0.6 1.4 0.5 1.3 0 1.3 0.4 1.4 0.6 1.3 0 1.4-0.2 1.3-0.3 1.3-0.2 1.4 0.3 1.3-0.3 1.4 0 1.3-0.3 1.4 0.4 1.3-0.1 1.3 0.7 1.4-1 1.3-1.2 1.4-0.5 1.3-2.1 1.3-1.5 1.4-2.9 1.3-3.2 1.4-7.1 1.3-6 1.3-7.7 1.4-8.5 1.3-9.5 1.4-11 1.3-10 1.4-8.8 1.3-7.8 1.3-7.2 1.4-3.9 1.3 0.3 1.4 0.3 1.3 1.4 1.3 1.8 1.4 4.8 1.3 6.4 1.4 7.9 1.3 8.8 1.3 9.9 1.4 10.6 1.3 9.1 1.4 8.9 1.3 7.9 1.4 6.5 1.3 5.4 1.3 3.6 1.4 2.6 1.3 2.6 1.4 0.6 1.3 0.4 1.3 1.1 1.4-0.6 1.3 0.3 1.4 0 1.3-0.2 1.3 0.2 1.4 0.2 1.3-0.7 1.4 0.5 1.3 0.4 1.4 0.1 1.3 0.1 1.3 1 1.4-0.7 1.3-0.5 1.4 0 1.3 0.1 1.3 0.2 1.4-0.2 1.3 0.8 1.4-1.2 1.3 0.8 1.3-0.1 1.4-0.7 1.3 0.9 1.4 0 1.3-0.5 1.4 1.4 1.3-0.7 1.3-0.6 1.4-0.1 1.3-0.1 1.4 0.5 1.3-0.1 1.3-0.7 1.4 0.2 1.3 0.2 1.4 0.2 1.3 0 1.3 0 1.4 0.6 1.3 0.2 1.4-0.5 1.3-1 1.4 0.9 1.3 0.5 1.3-0.3 1.4 0.2 1.3-0.1 1.4-0.9 1.3-0.4 1.3 1.5 1.4-0.4 1.3 0.4 1.4-0.2 1.3 0.1 1.3 0.6 1.4-1.2 1.3 0.5 1.4-0.5 1.3 0.6 1.4 0.3 1.3 0 1.3-0.3 1.4-0.7 1.3 0.8 1.4 0.4 1.3 0.1 1.3 0.5 1.4-0.8 1.3-0.8 1.4 0.2 1.3 0.3 1.3 0.5 1.4-1 1.3 0.9 1.4-0.1 1.3-0.7 1.4 0.6 1.3-0.6 1.3 0.3 1.4-0.1 1.3 0.2 1.4-0.8 1.3 0.5 1.3-1.8 1.4-0.5 1.3-2.2 1.4-2.9 1.3-6.4 1.3-8.9 1.4-10.6 1.3-10.8 1.4-10.5 1.3-6.4 1.4-5.3 1.3 1.8 1.3 1.1 1.4 5.2 1.3 4 1.4 6.5 1.3 5.1 1.3 6.9 1.4 5.6 1.3 6.1 1.4 4.4 1.3 2.9 1.3 4.7 1.4 2.8 1.3 3.7 1.4 1.7 1.3 1.1 1.4 1.2 1.3 0.5 1.3 0.2 1.4 1.5 1.3-0.6 1.4-0.2 1.3-0.5 1.3 0.4 1.4 0.4 1.3-0.1 1.4-0.1 1.3 0.1 1.3-0.4 1.4 0.5 1.3-0.7 1.4 0.4 1.3 0.2 1.4 0.8 1.3-0.1 1.3-0.2 1.4-0.6 1.3 0.5 1.4 0.7" fill="#fff" stroke="#e678be" stroke-dasharray="0 406.9 670.4 9999"/>
<path d="M444.1 263L68.6 263L68.6 229.7l1.3 0 1.4 0.8 1.3-0.4 1.3-0.9 1.4-0.1 1.3-0.1 1.4-0.2 1.3-1.5 1.3 0.2 1.4-0.1 1.3 0 1.4-0.4 1.3-0.4 1.4-0.1 1.3-1.4 1.3 2.1 1.4-1.1 1.3-0.4 1.4-0.9 1.3 0.2 1.3 0.5 1.4-0.4 1.3-1.1 1.4-0.9 1.3 0.2 1.3-0.5 1.4-0.1 1.3-1.5 1.4-0.4 1.3-0.7 1.4-1.1 1.3 0.1 1.3-0.6 1.4 0.2 1.3 0.7 1.4 0.8 1.3-0.3 1.3 0.1 1.4 0.7 1.3-0.1 1.4-0.3 1.3 0.4 1.3-0.1 1.4 0.4 1.3-0.1 1.4-0.4 1.3 0.1 1.4 0.1 1.3 0.4 1.3 0 1.4-0.5 1.3 0.2 1.4 0.3 1.3 0.3 1.3-0.2 1.4 0.6 1.3-0.8 1.4 0.2 1.3-0.5 1.3-0.3 1.4 0.5 1.3 0.2 1.4-0.1 1.3-0.1 1.4-0.2 1.3-0.3 1.3 0.2 1.4 0.4 1.3 0.1 1.4-1.8 1.3 1.6 1.3 0.4 1.4 0 1.3-0.4 1.4 0.1 1.3-0.5 1.3 0.1 1.4 0.2 1.3-0.7 1.4 0.1 1.3 0.4 1.4-0.6 1.3 0.5 1.3-0.6 1.4 0.7 1.3-0.1 1.4-0.2 1.3-0.2 1.3 0.2 1.4-0.7 1.3 0.8 1.4 0.4 1.3 0.5 1.3-0.7 1.4 0.1 1.3 0.8 1.4 0.1 1.3-0.9 1.4 0.7 1.3 0.1 1.3-0.3 1.4-0.7 1.3 0 1.4 0.7 1.3 0.7 1.3-1.2 1.4 0.5 1.3-0.4 1.4-2.1 1.3-0.8 1.3-0.7 1.4-2.4 1.3-3.4 1.4-4.4 1.3-5.1 1.4-7 1.3-6.6 1.3-10.5 1.4-10.1 1.3-9.2 1.4-9.4 1.3-10.1 1.3-7.7 1.4-6.3 1.3-3 1.4-1.1 1.3 0.4 1.4 1.4 1.3 3.5 1.3 5.7 1.4 5.6 1.3 8.1 1.4 9.9 1.3 8.7 1.3 9.8 1.4 10.3 1.3 8.2 1.4 8.4 1.3 6.6 1.3 3.9 1.4 3.9 1.3 3.5 1.4 0.5 1.3 1.1 1.4 1.1 1.3 0.1 1.3 0 1.4 1.2 1.3-0.8 1.4 0.3 1.3-0.3 1.3 0.1 1.4-0.4 1.3 1 1.4-0.5 1.3 0.7 1.3-1 1.4 0.3 1.3 0.4 1.4-0.1 1.3-0.3 1.4 0.2 1.3-0.5 1.3 0.5 1.4-1 1.3 1.2 1.4 0.7 1.3-0.2 1.3 0 1.4-0.6 1.3 0.4 1.4-0.3 1.3 0.1 1.3-0.1 1.4-1.3 1.3 1.8 1.4 0 1.3 0.1 1.4-0.7 1.3 0.7 1.3-0.1 1.4-1.2 1.3 0.2 1.4 0.8 1.3-0.2 1.3 0.3 1.4-0.2 1.3 0.8 1.4-1.4 1.3 0.2 1.3 0.2 1.4-0.1 1.3 0.3 1.4 0.3 1.3-0.5 1.4 0.8 1.3 0.5 1.3 0 1.4 0.4 1.3-0.4 1.4-0.5 1.3 0.7 1.3-0.3 1.4 0.4 1.3-1 1.4-0.9 1.3 0.4 1.3 0.7 1.4 0.2 1.3-0.3 1.4 0.4 1.3-0.9 1.4 0.2 1.3 0.7 1.3-0.3 1.4 0 1.3 0.6 1.4-0.2 1.3-0.8 1.3 0.3 1.4-0.7 1.3 0.7 1.4 0.1 1.3-0.8 1.3 1.4 1.4 0.3 1.3-0.7 1.4 0.2 1.3 0.1 1.4-1 1.3-0.1 1.3-1.6 1.4-3.1 1.3-3.6 1.4-5.8 1.3-7.6 1.3-10.6 1.4-11 1.3-11.1 1.4-7.9 1.3-1.6 1.3 1 1.4 1.1 1.3 3.3 1.4 5.2 1.3 4.6 1.4 6.3 1.3 5.7 1.3 6.9 1.4 5.6 1.3 4.8 1.4 4.3 1.3 3.3 1.3 3.4 1.4 3.3 1.3 1.2 1.4 2 1.3 0.1 1.3 0.9 1.4 0.4 1.3 0.4 1.4 0.6 1.3-1 1.4 1.2 1.3 0.1 1.3-0.3 1.4 0 1.3 0 1.4 0.3 1.3-0.2 1.3-0.4 1.4 0.5 1.3 0.4 1.4-0.2 1.3-0.1 1.3 0.1 1.4-0.2 1.3-0.1 1.4-0.5 1.3 0.8" fill="#fff" stroke="#b4b45a" stroke-dasharray="0 408.8 666.2 9999"/>
<path d="M442.7 264.8L67.1 264.8L67.1 232.2l1.4 0.3 1.3-0.3 1.4-1 1.3-0.1 1.3-0.6 1.4 0.3 1.3-1.3 1.4 0.2 1.3-1.1 1.3 0.8 1.4-1.4 1.3 0.2 1.4 0.3 1.3-0.5 1.3-0.4 1.4-0.5 1.3-0.1 1.4-0.8 1.3 0.7 1.4 0 1.3-0.3 1.3-0.6 1.4 0.2 1.3-0.5 1.4-0.2 1.3-0.6 1.3-0.7 1.4-1.2 1.3-1.6 1.4 0.5 1.3-0.9 1.3 0.3 1.4-1.3 1.3 1.4 1.4-0.4 1.3 0.6 1.4-0.2 1.3 0.7 1.3 0.1 1.4 0.5 1.3-0.2 1.4 0.2 1.3 0.4 1.3-0.3 1.4-0.2 1.3 0.6 1.4-0.6 1.3 0.2 1.3-0.3 1.4-0.3 1.3-0.9 1.4 1.5 1.3-0.6 1.4 0.9 1.3 0.4 1.3-1.3 1.4 0.8 1.3-0.3 1.4 0.1 1.3-0.7 1.3 0.5 1.4 0.1 1.3 0.7 1.4 0.3 1.3-0.9 1.3-0.3 1.4 1.1 1.3-1 1.4-0.1 1.3 0.1 1.4 0.1 1.3 0.1 1.3-0.6 1.4 0.2 1.3 1 1.4-0.2 1.3-0.5 1.3-0.2 1.4-0.2 1.3 0.5 1.4-0.7 1.3 0.2 1.3-0.2 1.4-0.1 1.3 0.3 1.4 0 1.3-0.3 1.4 0.3 1.3 0.1 1.3-0.3 1.4 0 1.3 0.3 1.4 0.4 1.3 0.2 1.3-0.4 1.4-0.2 1.3 0.2 1.4 0.9 1.3-0.4 1.3-0.9 1.4 0.3 1.3-0.1 1.4 0 1.3-0.6 1.4 0.6 1.3-0.7 1.3 0.1 1.4 0.5 1.3-1 1.4-2 1.3-1.9 1.3-2.4 1.4-3.6 1.3-3.9 1.4-5.2 1.3-7 1.3-7.1 1.4-9.4 1.3-9.9 1.4-9.2 1.3-10.3 1.4-9.4 1.3-6.8 1.3-5.7 1.4-4 1.3 0 1.4 0.2 1.3 1.3 1.3 4.7 1.4 4.7 1.3 5.4 1.4 8.7 1.3 8.5 1.3 11 1.4 9.6 1.3 9.5 1.4 9.4 1.3 6.9 1.4 5.9 1.3 5.2 1.3 3 1.4 2.9 1.3 1.2 1.4 1.4 1.3 0.5 1.3 0.3 1.4-0.5 1.3 1.3 1.4-0.7 1.3 0.7 1.4-1 1.3 0.1 1.3 0.1 1.4 0.7 1.3-0.7 1.4 0.3 1.3-0.8 1.3 0.5 1.4 0.3 1.3-0.1 1.4-0.8 1.3 1.1 1.3-0.5 1.4 1.2 1.3-0.7 1.4 1 1.3-0.6 1.4-0.2 1.3-0.4 1.3 0.1 1.4 0.3 1.3-1 1.4 1.2 1.3-0.8 1.3 0.2 1.4-1 1.3 1.5 1.4 0.3 1.3-0.2 1.3 0 1.4-0.3 1.3 0.3 1.4 0.4 1.3-0.6 1.4 0.4 1.3 0.1 1.3-0.4 1.4 0.2 1.3 0 1.4-0.2 1.3 1.3 1.3-1.2 1.4 0.9 1.3-0.3 1.4-1.4 1.3 1 1.3 0.5 1.4-0.1 1.3-0.8 1.4 0.5 1.3-0.7 1.4 0.1 1.3 0.4 1.3 0.3 1.4 0.6 1.3-0.5 1.4 0.2 1.3-1 1.3-0.1 1.4 0.4 1.3 1 1.4-1.4 1.3-0.2 1.3 0.8 1.4 0.6 1.3-1.3 1.4 0.5 1.3-0.3 1.4 1.2 1.3-0.2 1.3-0.3 1.4-0.2 1.3 0 1.4 0.1 1.3-0.4 1.3-0.1 1.4-0.1 1.3 0.4 1.4-0.3 1.3 0.3 1.3-1.8 1.4 0 1.3-2.2 1.4-3.6 1.3-6.6 1.4-9 1.3-10 1.3-10.3 1.4-11.1 1.3-7.8 1.4-3.3 1.3 0.8 1.3 2.1 1.4 3 1.3 5.2 1.4 6.4 1.3 6.3 1.3 5.5 1.4 5.9 1.3 6.5 1.4 4.4 1.3 4 1.4 4.2 1.3 3.5 1.3 2.7 1.4 1 1.3 1.7 1.4 0.7 1.3 1.3 1.3 0.1 1.4 0.2 1.3-0.4 1.4 0.4 1.3 0 1.3-1.4 1.4 2 1.3-0.2 1.4-0.1 1.3-0.1 1.4 0.2 1.3 0.1 1.3-0.6 1.4 0.7 1.3 0.1 1.4-0.1 1.3-0.6 1.3 0.6 1.4-0.4 1.3 0.9 1.4 0.5" fill="#fff" stroke="#64a0e6" stroke-dasharray="0 408.2 670.9 9999"/>
<path d="M441.2 266.6L65.7 266.6L65.7 234.3l1.3 0 1.4-1.5 1.3 0.1 1.3 0.3 1.4-0.9 1.3-0.7 1.4 0.1 1.3 0.3 1.4-1.1 1.3 0.2 1.3-0.2 1.4-0.7 1.3 0.3 1.4-0.2 1.3-0.1 1.3-0.4 1.4-1.4 1.3 0.8 1.4-0.3 1.3-0.2 1.3-1.1 1.4 0.5 1.3-0.6 1.4-0.9 1.3 0.7 1.4-1.3 1.3-0.6 1.3 0 1.4-1.3 1.3-0.5 1.4-1 1.3-0.2 1.3 0.6 1.4 0 1.3 0.7 1.4 0.2 1.3-0.6 1.3 0.9 1.4 0.1 1.3-0.1 1.4 0.5 1.3 0.4 1.4-0.5 1.3-1 1.3 0.9 1.4-0.2 1.3 0 1.4 0.2 1.3-0.2 1.3 0.9 1.4-0.6 1.3-0.1 1.4 0.3 1.3 0.1 1.3 0.2 1.4-0.3 1.3-0.4 1.4 0 1.3-1.1 1.4 0.3 1.3 1.2 1.3-0.5 1.4 1 1.3-0.1 1.4-1.4 1.3 0.7 1.3 1.2 1.4-1.7 1.3 0.4 1.4-0.3 1.3 0 1.3-0.1 1.4 0.2 1.3 0.3 1.4-0.7 1.3 0.5 1.4-0.5 1.3 0.5 1.3-0.1 1.4-0.5 1.3 0.4 1.4-0.5 1.3 0 1.3 0.9 1.4-1.3 1.3 1 1.4 0.2 1.3-0.6 1.3 0.8 1.4-0.1 1.3-1 1.4 0.9 1.3 0 1.4-0.5 1.3 0.6 1.3 0.1 1.4-0.7 1.3-0.6 1.4 1.1 1.3-0.5 1.3-0.5 1.4 0.6 1.3-0.9 1.4 1 1.3 0.7 1.3-2.1 1.4 1 1.3-1 1.4-0.6 1.3-1.4 1.4-1 1.3-2.8 1.3-3.8 1.4-4.7 1.3-5.2 1.4-6.2 1.3-9.1 1.3-8.4 1.4-9.9 1.3-11.2 1.4-8.4 1.3-9.2 1.3-6.3 1.4-5.4 1.3-3.7 1.4-0.2 1.3 0.2 1.4 1.8 1.3 4.4 1.3 4.7 1.4 6.6 1.3 8.4 1.4 9.8 1.3 10.1 1.3 9.5 1.4 9.3 1.3 8.8 1.4 8.1 1.3 3.9 1.3 4.9 1.4 4.1 1.3 2.2 1.4 2 1.3 1.1 1.4 0.7 1.3-1 1.3 0.7 1.4-0.2 1.3 0.6 1.4-0.3 1.3 0.3 1.3-0.7 1.4 0.4 1.3-0.3 1.4 0.1 1.3-0.1 1.3-0.2 1.4 1.1 1.3-0.3 1.4 0.3 1.3-1 1.4-0.5 1.3 0.7 1.3 0.3 1.4 0.5 1.3 0.2 1.4 0.2 1.3 0.1 1.3-0.4 1.4-0.3 1.3-0.4 1.4 0.6 1.3-0.5 1.3-0.1 1.4 0.7 1.3-0.1 1.4 0.3 1.3-0.7 1.4 0.9 1.3-0.4 1.3-0.3 1.4-0.3 1.3-0.1 1.4-0.1 1.3 1.3 1.3-1.2 1.4 0.9 1.3-0.3 1.4-0.2 1.3 0.1 1.4 0.2 1.3 0.6 1.3-0.2 1.4-0.3 1.3-0.7 1.4-0.1 1.3 1.7 1.3-1.3 1.4-0.2 1.3 1.2 1.4-1.1 1.3 1 1.3 0.2 1.4-0.3 1.3 0.2 1.4-1.1 1.3 0 1.4 0.5 1.3 0.2 1.3-0.1 1.4 0.3 1.3-0.7 1.4-0.6 1.3 1.2 1.3-0.2 1.4 0.6 1.3 0.6 1.4-1 1.3 0.1 1.3-0.6 1.4 0.8 1.3-0.2 1.4 0 1.3 0.2 1.4-0.9 1.3 0.8 1.3 0 1.4 0.4 1.3-1.7 1.4 0.6 1.3 0.5 1.3-2.4 1.4-2.3 1.3-2.7 1.4-5.6 1.3-9.6 1.3-10.9 1.4-11.3 1.3-10.6 1.4-8 1.3-3.3 1.4 1.1 1.3 2.2 1.3 3.8 1.4 4.5 1.3 5.1 1.4 7.1 1.3 6.1 1.3 5.8 1.4 5.9 1.3 5.4 1.4 4.4 1.3 3.7 1.3 3.5 1.4 2.5 1.3 1.2 1.4 1.4 1.3 0.5 1.4 1.1 1.3 0.8 1.3 0.5 1.4-0.1 1.3-0.1 1.4-0.2 1.3 0.5 1.3-0.6 1.4 0.6 1.3 0 1.4-0.4 1.3 0.5 1.3-0.1 1.4 0.4 1.3-0.4 1.4 0.5 1.3 0.6 1.4-0.6 1.3 0.2 1.3-0.6 1.4 0.1 1.3-0.6" fill="#fff" stroke="#a08cd2" stroke-dasharray="0 407.8 673.3 9999"/>
<path d="M439.8 268.5L64.2 268.5L64.2 234.9l1.4 1.5 1.3-1.4 1.4-0.5 1.3 0.7 1.3-0.6 1.4-0.3 1.3-0.9 1.4 0.1 1.3-0.2 1.3-1 1.4 0 1.3-0.2 1.4-0.4 1.3-0.5 1.4-0.4 1.3 0.4 1.3-0.2 1.4 0.1 1.3-0.9 1.4-0.6 1.3-0.6 1.3 0.3 1.4-0.3 1.3 0.8 1.4-0.1 1.3-0.8 1.3-1.7 1.4-0.9 1.3-0.3 1.4-1.1 1.3 0.2 1.4-1 1.3 0.1 1.3 0.6 1.4 0.8 1.3-0.7 1.4 0.7 1.3-0.6 1.3 0.5 1.4 0 1.3 0.5 1.4 0.1 1.3 0.5 1.3-0.2 1.4-0.6 1.3-0.4 1.4 0.3 1.3 0.2 1.4 0.1 1.3-0.2 1.3 0.9 1.4-0.1 1.3-0.6 1.4-0.1 1.3 0.1 1.3 0.1 1.4-0.1 1.3-0.7 1.4 0.5 1.3-0.6 1.3 0.8 1.4 0.3 1.3-0.7 1.4 0.4 1.3-0.3 1.4 0 1.3 1.2 1.3-0.4 1.4-0.3 1.3-0.4 1.4 0.3 1.3-0.2 1.3 0.2 1.4-0.6 1.3 0.3 1.4-0.2 1.3-0.4 1.3 1.4 1.4-0.4 1.3-0.8 1.4-0.4 1.3 0.3 1.4 0 1.3 0 1.3-0.4 1.4 0.4 1.3 0.5 1.4 0.1 1.3-1 1.3 0.8 1.4-0.4 1.3 0 1.4 0.4 1.3-0.1 1.3 0.6 1.4 0.1 1.3-0.5 1.4-0.1 1.3 1.2 1.4 0.1 1.3-0.7 1.3-0.3 1.4 0.5 1.3 0.1 1.4-0.9 1.3 0.8 1.3-1.2 1.4-0.1 1.3-1.5 1.4-1.1 1.3-2 1.3-2.4 1.4-3.1 1.3-5.4 1.4-5.6 1.3-6.6 1.4-8.6 1.3-8.2 1.3-11.3 1.4-8.5 1.3-11 1.4-8 1.3-6.7 1.3-5.4 1.4-3.2 1.3 0.4 1.4 1.1 1.3 2.3 1.3 3.8 1.4 5.5 1.3 7 1.4 7.4 1.3 10.1 1.4 8.8 1.3 10.7 1.3 8.8 1.4 8.1 1.3 8.2 1.4 5.4 1.3 4.7 1.3 2 1.4 2.2 1.3 1.9 1.4 0.7 1.3 0.8 1.3-0.1 1.4 0.3 1.3-0.2 1.4 1.1 1.3-0.7 1.4-0.3 1.3 0.8 1.3 0 1.4-0.1 1.3 0 1.4-0.3 1.3 0.1 1.3-1 1.4 0.3 1.3 0.3 1.4 0.7 1.3 0.5 1.3-0.6 1.4 0 1.3 0.6 1.4-0.6 1.3 0.5 1.4-0.2 1.3-0.7 1.3 0.7 1.4 0 1.3-0.6 1.4 0 1.3 0 1.3 1.3 1.4 0.4 1.3-0.6 1.4 0.3 1.3-1.2 1.3 1.2 1.4 0.4 1.3-0.2 1.4-1.2 1.3 0.9 1.4-0.4 1.3 0.4 1.3-0.7 1.4 0.2 1.3-0.1 1.4 0.4 1.3-0.1 1.3 0.5 1.4-0.1 1.3-0.2 1.4-0.2 1.3-0.1 1.3 0.2 1.4 0.4 1.3-0.3 1.4 0.1 1.3-0.2 1.4 0 1.3-0.3 1.3-0.5 1.4 1.1 1.3 0 1.4-0.6 1.3 1.2 1.3-1.3 1.4 0.9 1.3-0.2 1.4 0 1.3 0.4 1.4-0.1 1.3-0.5 1.3-0.6 1.4 0 1.3 0.7 1.4 0.7 1.3-0.3 1.3-0.5 1.4 0.2 1.3 0.2 1.4 0.4 1.3-1 1.3 0.5 1.4-0.2 1.3-0.5 1.4-0.2 1.3 0.8 1.4-1 1.3-1.5 1.3-2.1 1.4-3.4 1.3-6.4 1.4-7.8 1.3-11.3 1.3-11.8 1.4-10.5 1.3-8.3 1.4-3.2 1.3 1.4 1.3 2.5 1.4 3.1 1.3 4.6 1.4 5.2 1.3 6.2 1.4 7.1 1.3 6.2 1.3 5.5 1.4 5.3 1.3 5.5 1.4 3.6 1.3 2.6 1.3 2.5 1.4 2.3 1.3 1 1.4 0.8 1.3-0.2 1.3 0.3 1.4 0.2 1.3 0.1 1.4 1.2 1.3 0.3 1.4-0.5 1.3 0.6 1.3 0.1 1.4-0.3 1.3-0.6 1.4 1.3 1.3 0.1 1.3-0.8 1.4 1.1 1.3-0.7 1.4-0.5 1.3 0.2 1.3-0.6 1.4 0.7 1.3-0.4 1.4 1.3" fill="#fff" stroke="#46a0dc" stroke-dasharray="0 409.1 668.1 9999"/>
<path d="M438.3 270.3L62.8 270.3L62.8 238.1l1.3-1.6 1.4-0.2 1.3-0.2 1.4 0.3 1.3-0.5 1.3-0.5 1.4-0.8 1.3 0.7 1.4-0.5 1.3-0.6 1.3 0 1.4 0 1.3-1.3 1.4-0.4 1.3 0 1.3-0.3 1.4-1.2 1.3 0.9 1.4 0.5 1.3-0.8 1.4 0.1 1.3-1.9 1.3 0.9 1.4 0.5 1.3-0.2 1.4-1.4 1.3-0.6 1.3-0.2 1.4-1.5 1.3-0.6 1.4-1.2 1.3 0.2 1.3 0.6 1.4 1 1.3-0.3 1.4-0.3 1.3 0.4 1.4-0.3 1.3 0.6 1.3 0.1 1.4 0.4 1.3 0.2 1.4-1.2 1.3 1 1.3 0.3 1.4-0.8 1.3 1.3 1.4-1 1.3 1.3 1.3-0.6 1.4 0 1.3-0.3 1.4 0.2 1.3-0.9 1.4 0 1.3-0.5 1.3 1.1 1.4-0.4 1.3 0.6 1.4-0.1 1.3-0.9 1.3 0.9 1.4-0.2 1.3 0 1.4 0.1 1.3-0.3 1.3 0.1 1.4 0.3 1.3-0.9 1.4-0.2 1.3 0.3 1.4 0.8 1.3-0.5 1.3 0.8 1.4-2.2 1.3 0.9 1.4 0.2 1.3 0.4 1.3 0.4 1.4-0.7 1.3-0.4 1.4 0.9 1.3 0.2 1.3-1.8 1.4 1.3 1.3 0 1.4-0.5 1.3 0.1 1.4 0.4 1.3-0.1 1.3-0.1 1.4-0.4 1.3 0.6 1.4-0.3 1.3 0.3 1.3-0.2 1.4 0.4 1.3 0.2 1.4-0.1 1.3 0.1 1.3-0.9 1.4 0.8 1.3-0.1 1.4-0.5 1.3 0 1.4-1.3 1.3 0.8 1.3-0.7 1.4-1.7 1.3-0.2 1.4-2.3 1.3-2.3 1.3-3.9 1.4-4.4 1.3-6.1 1.4-7.4 1.3-8 1.3-9.2 1.4-11.3 1.3-9.1 1.4-9.8 1.3-8.7 1.4-5.7 1.3-4.6 1.3-2.9 1.4 0.1 1.3 1.8 1.4 1.7 1.3 3.8 1.3 4.9 1.4 8 1.3 9.2 1.4 8.8 1.3 10.1 1.3 10.7 1.4 8.9 1.3 8.4 1.4 6.5 1.3 5.6 1.4 2.9 1.3 3.2 1.3 1.8 1.4 3 1.3 0 1.4 0.2 1.3-0.1 1.3-0.1 1.4-0.5 1.3 2.2 1.4-0.9 1.3 0 1.3-0.6 1.4 0.6 1.3 0.2 1.4-0.1 1.3 0.3 1.4-0.6 1.3 0.5 1.3 0.3 1.4-0.1 1.3-0.1 1.4-0.2 1.3-0.4 1.3 0.7 1.4-0.4 1.3-0.2 1.4 0.7 1.3-1 1.3 0.5 1.4 0.7 1.3 0.1 1.4-0.6 1.3 0.2 1.4 0.2 1.3-0.2 1.3-0.3 1.4 0.5 1.3 0 1.4 0 1.3 0.5 1.3-0.4 1.4-0.3 1.3 0.3 1.4 0.8 1.3-1.1 1.3 0.1 1.4-0.2 1.3 0.5 1.4-0.6 1.3 0.7 1.4 0.2 1.3-0.7 1.3-0.1 1.4-0.2 1.3 0.7 1.4-0.5 1.3 0.2 1.3 0.2 1.4-0.1 1.3 0.8 1.4 0.2 1.3-1.6 1.3 0.5 1.4 0.5 1.3-0.5 1.4 0.2 1.3 0.4 1.4 0.6 1.3-0.1 1.3-0.7 1.4 0.1 1.3-0.2 1.4 0.1 1.3-0.5 1.3-0.3 1.4 0.7 1.3 0.7 1.4-0.2 1.3-1.1 1.3 0.6 1.4-0.1 1.3 0.4 1.4-0.5 1.3 0.8 1.4-0.4 1.3 0.3 1.3 0.1 1.4-1.3 1.3 0.7 1.4 0.5 1.3-1.1 1.3-0.8 1.4-2.6 1.3-4.3 1.4-5.7 1.3-8.1 1.4-10.4 1.3-11.7 1.3-12 1.4-7.4 1.3-4.5 1.4 1.1 1.3 2.3 1.3 4.1 1.4 4.8 1.3 6.2 1.4 5.6 1.3 7.1 1.3 6.2 1.4 5.7 1.3 4.8 1.4 5.4 1.3 3.8 1.4 3.2 1.3 2.1 1.3 1.7 1.4 1.7 1.3 1 1.4 0.9 1.3 0.9 1.3-0.7 1.4 1.1 1.3-1.9 1.4 1.6 1.3-0.5 1.3 1.1 1.4-1.1 1.3 0.7 1.4-0.8 1.3-0.1 1.4 0.9 1.3 0.2 1.3-0.6 1.4 1.3 1.3-1 1.4 0.7 1.3-1 1.3 0 1.4 0.5 1.3-0.3" fill="#fff" stroke="#202020" stroke-dasharray="0 407.8 678.6 9999"/>
<path d="M436.9 272.2L61.3 272.2L61.3 238.5l1.4 0.5 1.3-0.6 1.4-0.4 1.3 0.1 1.3-0.1 1.4 0 1.3-1.2 1.4 0.2 1.3-0.2 1.3-1 1.4 0.1 1.3-0.7 1.4 0 1.3 0 1.4-1.2 1.3 0 1.3-0.2 1.4 0.1 1.3-0.6 1.4 0.2 1.3-0.8 1.3-0.1 1.4 0.2 1.3-0.4 1.4-0.4 1.3-0.4 1.4 0 1.3-0.5 1.3-1.6 1.4-1.1 1.3-0.8 1.4 0.7 1.3-0.7 1.3 0.1 1.4 1 1.3 0.6 1.4-0.8 1.3 0.5 1.3-0.5 1.4 0.5 1.3 1.2 1.4-0.6 1.3-0.2 1.4 0.2 1.3 0.1 1.3-0.2 1.4-0.5 1.3 0.1 1.4 1.4 1.3-1.1 1.3 0.7 1.4-0.7 1.3 0.8 1.4-0.2 1.3-0.4 1.3 0.9 1.4-1.3 1.3 0.2 1.4-0.3 1.3 0 1.4 0.2 1.3-0.3 1.3 0.4 1.4 0.8 1.3-1.6 1.4 0.1 1.3 0.2 1.3 0.3 1.4 0.7 1.3-0.1 1.4-0.2 1.3 0 1.3 0.8 1.4-1.6 1.3-0.1 1.4 0.5 1.3 0.2 1.4-0.3 1.3-0.3 1.3-0.3 1.4 0.5 1.3-0.2 1.4 0.1 1.3-0.2 1.3 1.1 1.4-0.3 1.3 0.6 1.4-1.1 1.3 0.2 1.3-0.1 1.4 0.1 1.3-0.1 1.4 0 1.3-0.8 1.4 0.8 1.3 0.5 1.3-1.2 1.4 0.8 1.3 0.5 1.4 0.3 1.3-0.6 1.3 0.3 1.4 0.6 1.3-0.3 1.4-1 1.3-0.3 1.3 0.3 1.4-0.9 1.3-1.4 1.4-1.2 1.3-1.8 1.4-3.1 1.3-3.8 1.3-4.9 1.4-6.6 1.3-5.9 1.4-8.6 1.3-9.3 1.3-10.8 1.4-9.9 1.3-9.2 1.4-8.3 1.3-7.6 1.3-3.3 1.4-2 1.3 0.5 1.4 1 1.3 3.5 1.4 3.6 1.3 5.5 1.3 8 1.4 8 1.3 9.2 1.4 10.2 1.3 9.7 1.3 9.3 1.4 8.3 1.3 6.3 1.4 5.3 1.3 4.4 1.3 2.6 1.4 2.1 1.3 0.8 1.4 0 1.3 0.5 1.4 0.1 1.3 1.4 1.3-0.2 1.4-0.5 1.3-0.2 1.4 0.7 1.3-0.2 1.3 0.2 1.4-0.5 1.3-0.1 1.4 1.2 1.3-1 1.3 0.4 1.4 0.5 1.3-1.3 1.4 1.1 1.3-0.2 1.4-0.1 1.3 0.2 1.3-0.7 1.4-0.4 1.3 1.9 1.4-0.9 1.3 0.6 1.3 0.1 1.4-0.4 1.3 0.1 1.4 0.2 1.3 0.4 1.3-0.4 1.4 0.3 1.3-0.7 1.4-0.1 1.3 0.2 1.4 0.2 1.3 0.2 1.3 0.7 1.4-0.5 1.3-0.3 1.4 0.8 1.3-0.7 1.3 0 1.4 0 1.3-0.4 1.4-0.3 1.3 0.6 1.3-0.2 1.4-0.2 1.3 0.4 1.4-0.1 1.3-0.2 1.4-0.5 1.3 0.8 1.3 1 1.4-0.3 1.3 0 1.4-0.5 1.3 0.4 1.3-0.7 1.4 0.1 1.3 0.4 1.4-0.9 1.3 0.7 1.3 0.2 1.4 0.6 1.3-1 1.4 0.4 1.3-0.5 1.4-0.1 1.3-0.9 1.3 0.8 1.4 1.1 1.3-0.3 1.4-0.1 1.3 1.1 1.3-0.9 1.4-0.9 1.3 0.4 1.4 0.2 1.3 0.7 1.3-1.1 1.4 0.6 1.3 0.2 1.4-0.9 1.3 0 1.4-1.4 1.3-0.4 1.3-3.2 1.4-3.1 1.3-5 1.4-9.1 1.3-10.9 1.3-11.7 1.4-10.2 1.3-8.9 1.4-3.6 1.3-0.2 1.3 2.2 1.4 3.5 1.3 5.4 1.4 5.8 1.3 7.3 1.4 6.5 1.3 6 1.3 5.7 1.4 4.3 1.3 5.7 1.4 4.5 1.3 3.1 1.3 0.7 1.4 2.2 1.3 2.5 1.4 0.6 1.3 1 1.3 0.4 1.4 0.7 1.3-0.9 1.4 0.7 1.3 0.8 1.4-0.3 1.3-0.4 1.3 0.6 1.4-0.1 1.3-0.5 1.4 0.7 1.3 0.1 1.3-0.3 1.4 0.5 1.3-0.8 1.4 0.8 1.3-0.3 1.4-0.4 1.3 0.3 1.3 0.8 1.4-0.6" fill="#fff" stroke="#ff2020" stroke-dasharray="0 409.2 671.6 9999"/>
<path d="M435.4 274L59.9 274L59.9 240.2l1.3 0.3 1.4-0.6 1.3-0.2 1.4 0.7 1.3-0.7 1.3-0.8 1.4 0.1 1.3-0.5 1.4 0.2 1.3-0.9 1.3 0 1.4-0.5 1.3-0.2 1.4-0.4 1.3-0.5 1.3 0.1 1.4 0.1 1.3-1 1.4-0.2 1.3 0 1.4-0.7 1.3 0.4 1.3-0.4 1.4-1.6 1.3 0.3 1.4-0.4 1.3 0.4 1.3-0.6 1.4-1.7 1.3-0.7 1.4-0.5 1.3-0.5 1.3 0.9 1.4 0.5 1.3 0.2 1.4 0.4 1.3 0.1 1.4-0.4 1.3-0.1 1.3 0 1.4 0.8 1.3 0.2 1.4 0 1.3-0.6 1.3 0 1.4 0.3 1.3 0.5 1.4-0.4 1.3-0.1 1.4-0.5 1.3 0.6 1.3 0 1.4-0.6 1.3 1.1 1.4-1.1 1.3 0.7 1.3-0.4 1.4 0 1.3-0.4 1.4 0.1 1.3 0.6 1.3-0.4 1.4-0.1 1.3 0.5 1.4 0 1.3-0.3 1.4 0 1.3 0.7 1.3-0.9 1.4 0.2 1.3 0 1.4-0.9 1.3-0.3 1.3 1 1.4 0.4 1.3-0.4 1.4-0.4 1.3 0 1.3 0.6 1.4-0.5 1.3-0.6 1.4 1 1.3-0.1 1.4 0 1.3 0.3 1.3 0.2 1.4-0.4 1.3-0.4 1.4-0.8 1.3 1 1.3 0 1.4 0.7 1.3 0 1.4-0.3 1.3 0.3 1.3-0.6 1.4-0.1 1.3-0.3 1.4 0.2 1.3 0.3 1.4 0.4 1.3-0.8 1.3 0.7 1.4 0.6 1.3-1.8 1.4 0.1 1.3-0.2 1.3-0.1 1.4-0.6 1.3-1.8 1.4-2.8 1.3-3.3 1.3-3.6 1.4-5 1.3-6.2 1.4-7.9 1.3-7.6 1.4-10.4 1.3-9.4 1.3-10.2 1.4-9.9 1.3-7.6 1.4-6.1 1.3-3.9 1.3-0.8 1.4-0.1 1.3 2.6 1.4 2 1.3 3.2 1.3 5.3 1.4 9.2 1.3 8.5 1.4 9.5 1.3 9.4 1.4 9.4 1.3 8.9 1.3 9.8 1.4 6.1 1.3 4.1 1.4 4.7 1.3 1.1 1.3 2.9 1.4 1.2 1.3-0.1 1.4 0.5 1.3 0 1.3 0.7 1.4 0.6 1.3 0 1.4-0.3 1.3 0.2 1.4-1.1 1.3 1.6 1.3-0.9 1.4-0.6 1.3 0.4 1.4-0.1 1.3 0.4 1.3 0.1 1.4-1.1 1.3 1.6 1.4 0.3 1.3-1.2 1.3 1.1 1.4 0 1.3-0.1 1.4 0.2 1.3-1.3 1.4 0.8 1.3-0.5 1.3 1.4 1.4-1.4 1.3-0.2 1.4 1.1 1.3-0.1 1.3-0.3 1.4 0.1 1.3 0.3 1.4 0.4 1.3-1.1 1.3 0 1.4 0.1 1.3 0.2 1.4 0.1 1.3-0.6 1.4 0.7 1.3-0.6 1.3 0.4 1.4 0.1 1.3 0.1 1.4 0.8 1.3 0.2 1.3-0.2 1.4 0.1 1.3-0.8 1.4 0.7 1.3-0.6 1.3 0.1 1.4 0 1.3-0.7 1.4 0.3 1.3 0.3 1.4 0.2 1.3-0.2 1.3-0.4 1.4-0.1 1.3 0.5 1.4-0.5 1.3 0 1.3 0.5 1.4 0.2 1.3-0.5 1.4-0.4 1.3 0.9 1.3 0.3 1.4-0.5 1.3-0.1 1.4-0.8 1.3 1.4 1.4-0.8 1.3 0.8 1.3-0.6 1.4 0.2 1.3-0.1 1.4-0.5 1.3 1.9 1.3-1.8 1.4 0.5 1.3-0.4 1.4 0 1.3 0.1 1.3-2.6 1.4-1.6 1.3-3.5 1.4-6.3 1.3-8.5 1.4-11.4 1.3-12.3 1.3-11.1 1.4-8 1.3-3.2 1.4 0.3 1.3 2.9 1.3 3.2 1.4 5.1 1.3 5.9 1.4 5.8 1.3 7.7 1.3 5.8 1.4 6.5 1.3 6.7 1.4 3.1 1.3 4.4 1.4 3.3 1.3 2.4 1.3 1.8 1.4 1.2 1.3 2 1.4-1.1 1.3 0.9 1.3 1.5 1.4-0.2 1.3-0.6 1.4 0 1.3 0.5 1.3 1.3 1.4-1 1.3-0.7 1.4 0.5 1.3-0.2 1.4 0.9 1.3-0.3 1.3 0.4 1.4-0.4 1.3 0.9 1.4-0.7 1.3-0.1 1.3-0.5 1.4 0.3 1.3 0.4" fill="#fff" stroke="#2020ff" stroke-dasharray="0 409.3 674.3 9999"/>
<path d="M434 275.9L58.4 275.9L58.4 242.5l1.4-0.9 1.3 0 1.4 1.3 1.3-0.9 1.3-1 1.4 0.7 1.3-0.4 1.4-0.5 1.3-0.1 1.4-1.1 1.3-0.3 1.3-0.6 1.4 0.3 1.3-1.1 1.4 0.1 1.3 0.1 1.3-0.6 1.4 0.1 1.3 0.4 1.4-1.5 1.3 0.6 1.3-1.1 1.4-0.5 1.3 0.3 1.4 0 1.3-1.1 1.4-0.6 1.3-0.4 1.3-0.9 1.4-0.5 1.3-1.1 1.4-0.2 1.3 0.7 1.3 0.1 1.4 0.9 1.3-0.6 1.4 0.2 1.3 1.4 1.3-0.1 1.4-0.6 1.3 0.4 1.4-0.2 1.3-0.3 1.4 0.5 1.3-0.1 1.3 0.4 1.4-1.4 1.3 1.1 1.4-0.2 1.3-0.4 1.3 0.1 1.4-0.1 1.3-0.4 1.4 0.4 1.3 0.5 1.3-1 1.4 0.4 1.3-0.9 1.4 0.8 1.3 0.5 1.4-0.1 1.3-0.1 1.3-0.5 1.4 0.7 1.3-0.6 1.4 0.8 1.3-0.3 1.3-0.3 1.4 0.8 1.3-0.8 1.4 0.6 1.3-0.4 1.3-0.1 1.4 0.5 1.3-0.3 1.4-0.3 1.3 0 1.4 0.1 1.3-0.1 1.3-0.2 1.4-0.5 1.3-0.7 1.4 1.2 1.3 0 1.3 0.7 1.4-0.3 1.3 0.4 1.4 0.2 1.3-0.9 1.4-0.3 1.3 0.7 1.3-0.6 1.4 0.2 1.3 0.8 1.4-0.3 1.3 0.1 1.3-1 1.4 0.6 1.3 0.5 1.4-1.1 1.3 0.7 1.3 0 1.4-1.2 1.3 1.6 1.4-1.1 1.3 0 1.4 0.3 1.3-2.2 1.3-0.1 1.4-1.9 1.3-2.1 1.4-3.3 1.3-3.2 1.3-6.2 1.4-5.8 1.3-7.5 1.4-9.1 1.3-9.7 1.3-9.9 1.4-9.3 1.3-9.4 1.4-8.2 1.3-6.3 1.4-2.9 1.3-0.6 1.3 0.2 1.4 2 1.3 1.4 1.4 6.4 1.3 5.1 1.3 7.1 1.4 8.7 1.3 10.9 1.4 9.9 1.3 9.2 1.3 8.8 1.4 7.7 1.3 6 1.4 5.6 1.3 3.4 1.4 2.1 1.3 1.1 1.3 2.3 1.4-0.1 1.3 0.1 1.4 1.2 1.3-0.2 1.3-1.2 1.4 0.1 1.3 0.7 1.4-0.3 1.3 0.6 1.3 1.4 1.4 0.2 1.3-1.4 1.4 0.3 1.3 0 1.4-0.5 1.3-0.6 1.3 1.2 1.4-0.5 1.3 0.3 1.4 0.1 1.3-0.6 1.3 1.1 1.4-0.6 1.3 0 1.4-0.3 1.3 0.6 1.3 0.1 1.4-0.6 1.3 0.4 1.4-0.4 1.3-0.4 1.4 0.5 1.3 0.5 1.3 0 1.4 0.2 1.3-0.8 1.4 0.2 1.3 0.2 1.3 0.3 1.4-0.4 1.3-0.4 1.4-0.2 1.3 1.3 1.3 0 1.4-0.7 1.3 0.9 1.4-0.6 1.3 0.2 1.4 0.4 1.3-0.8 1.3-0.2 1.4-0.4 1.3 1 1.4 0.2 1.3 0.2 1.3-0.1 1.4-0.2 1.3 0.4 1.4-0.9 1.3 0.6 1.3 0.1 1.4-0.3 1.3 0.9 1.4-0.5 1.3 0.3 1.4-0.2 1.3-0.4 1.3 0.9 1.4-0.3 1.3-0.6 1.4-0.1 1.3-0.4 1.3 0.4 1.4 0 1.3 0.2 1.4-0.3 1.3 0.5 1.3-0.4 1.4-0.7 1.3 0.5 1.4-0.2 1.3-0.1 1.4 0.5 1.3 0.5 1.3-1 1.4-0.5 1.3 0.7 1.4 0.9 1.3-2.8 1.3-2 1.4-4.2 1.3-5.5 1.4-8.4 1.3-11.6 1.3-11.6 1.4-12.3 1.3-8.2 1.4-4.5 1.3 1.1 1.4 2 1.3 4.2 1.3 4.6 1.4 6.8 1.3 6.6 1.4 6.5 1.3 6.5 1.3 6 1.4 5.9 1.3 5.2 1.4 3.7 1.3 3.4 1.3 2.9 1.4 1.2 1.3 1.6 1.4 1.3 1.3 0.5 1.4 0.4 1.3 0.2 1.3 1 1.4-0.8 1.3-0.1 1.4 0.5 1.3 0.6 1.3-0.1 1.4-0.6 1.3 0.3 1.4-0.2 1.3-0.1 1.3 0.3 1.4 0.1 1.3-0.1 1.4 0.7 1.3-0.8 1.4 0.8 1.3 0.5 1.3 0 1.4-0.8" fill="#fff" stroke="#ff20ff" stroke-dasharray="0 408.9 676.9 9999"/>
<path d="M432.5 277.7L57 277.7L57 244.1l1.3-0.5 1.4 0 1.3 0.1 1.4-1 1.3 0 1.3 0 1.4-0.4 1.3 0.1 1.4 0 1.3-1.1 1.3-0.2 1.4-1.7 1.3 0.9 1.4 0.2 1.3-1 1.4 0.7 1.3-1.6 1.3 1.1 1.4-1.1 1.3-0.6 1.4 0 1.3-0.2 1.3-0.6 1.4-0.5 1.3 0.1 1.4 0.4 1.3-0.6 1.3-0.3 1.4-1.6 1.3-0.8 1.4-0.7 1.3-0.2 1.4 0.7 1.3 0.9 1.3-0.2 1.4 0 1.3 0.6 1.4-0.8 1.3-0.2 1.3 1 1.4-0.1 1.3 0 1.4 0.4 1.3-0.6 1.3 0.1 1.4 0.3 1.3 0.1 1.4 0.2 1.3-0.4 1.4-0.1 1.3-1.1 1.3 1.4 1.4-1.1 1.3 0.7 1.4 1.2 1.3-1.3 1.3-0.6 1.4 1.3 1.3-0.9 1.4 0.1 1.3 0 1.3 0.5 1.4 0 1.3-0.4 1.4 0.4 1.3-0.8 1.4 0.6 1.3-0.5 1.3 0.5 1.4-0.6 1.3 0.1 1.4 0.8 1.3-1.2 1.3-0.1 1.4 0.8 1.3-0.4 1.4-0.1 1.3 0.2 1.3 1 1.4-1.4 1.3 0.2 1.4 0.2 1.3-0.5 1.4 0.4 1.3 0.2 1.3-0.5 1.4 0.8 1.3-0.9 1.4 0.4 1.3 0.4 1.3 1.1 1.4-2.1 1.3 0.9 1.4 1 1.3-1.3 1.3 0.7 1.4-0.4 1.3-0.8 1.4 0.8 1.3-0.5 1.4 0.3 1.3-0.6 1.3 0.8 1.4-1.4 1.3 0.8 1.4 0.5 1.3-0.8 1.3-1.2 1.4-1.1 1.3-1.6 1.4-1 1.3-4.3 1.4-4.3 1.3-5.7 1.3-6.4 1.4-7.4 1.3-9.3 1.4-9.8 1.3-9.9 1.3-9.7 1.4-8.8 1.3-7.8 1.4-5.5 1.3-3.3 1.3 0.3 1.4 0.1 1.3 1.3 1.4 3.4 1.3 4.5 1.4 5.7 1.3 8.6 1.3 9.9 1.4 9.3 1.3 10.1 1.4 8.6 1.3 8.2 1.3 7.8 1.4 7 1.3 3.6 1.4 3.6 1.3 3.2 1.3 1 1.4 1 1.3 0.9 1.4 0.2 1.3 0 1.4 0.3 1.3-0.4 1.3 0.3 1.4 0.3 1.3-0.7 1.4 0.3 1.3-0.3 1.3 0.9 1.4 0 1.3 0.2 1.4 0 1.3 0 1.3-0.1 1.4-0.7 1.3 0.7 1.4-0.6 1.3 1.4 1.4-0.8 1.3 0 1.3-0.8 1.4 1.1 1.3 0 1.4-1.2 1.3 0.4 1.3 0.1 1.4 0 1.3 1 1.4 0.3 1.3-1.3 1.3 0.8 1.4-0.4 1.3 0.5 1.4-1.6 1.3 0.9 1.4 0.8 1.3-0.8 1.3 0.8 1.4-0.6 1.3 0.7 1.4-0.2 1.3-0.5 1.3-0.2 1.4 0.4 1.3 0.6 1.4-0.5 1.3-0.2 1.3 1.7 1.4-2.1 1.3 0.5 1.4 0.4 1.3-0.7 1.4 0.5 1.3-0.2 1.3-0.4 1.4 0.8 1.3-0.7 1.4 0.2 1.3 0.9 1.3-0.9 1.4 0.7 1.3 0.3 1.4 0 1.3-0.3 1.3-0.4 1.4-0.5 1.3 0.7 1.4 0.2 1.3-0.5 1.4-0.2 1.3 0.8 1.3-0.7 1.4 0.6 1.3-0.5 1.4-0.4 1.3 1.4 1.3-0.3 1.4-0.1 1.3-0.9 1.4 0.6 1.3 0.2 1.3-0.4 1.4 0.9 1.3-1.6 1.4 0.8 1.3-1.7 1.4-1.2 1.3-2 1.3-3.2 1.4-6.7 1.3-8.7 1.4-11.1 1.3-12.5 1.3-11.3 1.4-8.7 1.3-3.7 1.4 0.3 1.3 1.4 1.3 4.8 1.4 6.1 1.3 5.6 1.4 6.8 1.3 6.7 1.4 6.7 1.3 6.5 1.3 5.1 1.4 5.3 1.3 3.4 1.4 4 1.3 1.8 1.3 2.8 1.4 1.5 1.3-0.1 1.4 1.6 1.3 0.1 1.3 0.9 1.4-0.6 1.3 0.2 1.4 0.2 1.3 0.6 1.4-1.3 1.3 1.1 1.3-0.2 1.4-0.3 1.3 0.2 1.4 0.6 1.3 0.1 1.3 0.4 1.4-1.1 1.3-0.5 1.4 0.6 1.3 0.3 1.3 0 1.4 0.9 1.3 0.5" fill="#fff" stroke="#209020" stroke-dasharray="0 409.1 684.9 9999"/>
<path d="M431.1 279.6L55.5 279.6L55.5 246.2l1.4-0.6 1.3-0.5 1.4 0.1 1.3 0.3 1.4-2 1.3 1.4 1.3-0.9 1.4-0.8 1.3 0.4 1.4-0.5 1.3 0.2 1.3-1.1 1.4 0.4 1.3-1.1 1.4 0.3 1.3-0.1 1.3-0.6 1.4 0 1.3-0.8 1.4 0.4 1.3-1 1.4-0.4 1.3 0 1.3-0.3 1.4-0.6 1.3 0.4 1.4-0.9 1.3-0.3 1.3-1.8 1.4-0.8 1.3-0.2 1.4-0.7 1.3 0.9 1.3 0.8 1.4 0.6 1.3 0.4 1.4-0.2 1.3-0.7 1.4 0.7 1.3-0.4 1.3 0.5 1.4-0.7 1.3 1.2 1.4-0.4 1.3-0.5 1.3-0.4 1.4 0.7 1.3-0.3 1.4 0.3 1.3-0.5 1.3 0.1 1.4 0.6 1.3 0.4 1.4-1.3 1.3 0.4 1.4 0.3 1.3-0.3 1.3 0 1.4 1.1 1.3-1.3 1.4 0.4 1.3-0.4 1.3 0.1 1.4-1 1.3 1.4 1.4-0.4 1.3-0.4 1.3 1.2 1.4-0.9 1.3-0.2 1.4-0.1 1.3 0.9 1.4-0.5 1.3-0.3 1.3-0.5 1.4 0.2 1.3 0.6 1.4-0.2 1.3-1 1.3 0.5 1.4 0.7 1.3 1.2 1.4-1.8 1.3-0.7 1.3 1.3 1.4-0.5 1.3-0.4 1.4 0.9 1.3-0.3 1.4-0.4 1.3-0.2 1.3 0.6 1.4 0.1 1.3-0.8 1.4 1.3 1.3-0.9 1.3 1.2 1.4-0.5 1.3-0.2 1.4 0.2 1.3-0.5 1.3 0.3 1.4 0.7 1.3-1 1.4 0.3 1.3-1.1 1.4-0.1 1.3-0.3 1.3-2.2 1.4-1.1 1.3-3.6 1.4-2.8 1.3-3.9 1.3-4.8 1.4-6.9 1.3-8.7 1.4-8.6 1.3-9.6 1.3-10.8 1.4-8.7 1.3-8.3 1.4-7.4 1.3-6.2 1.4-2.8 1.3-0.5 1.3 0.8 1.4 2 1.3 3.7 1.4 4.6 1.3 6.2 1.3 8.9 1.4 9.2 1.3 9 1.4 10 1.3 9.3 1.3 7.8 1.4 8.1 1.3 6.2 1.4 5.1 1.3 2.5 1.4 1.9 1.3 1.6 1.3 1.3 1.4 0.6 1.3-0.5 1.4 0.7 1.3 0.2 1.3-1.1 1.4 1.5 1.3-0.6 1.4 0.5 1.3-0.4 1.4-0.1 1.3 0.1 1.3 0.2 1.4 0.3 1.3-0.6 1.4-0.5 1.3 0.2 1.3 0 1.4 0.8 1.3-0.7 1.4 1.2 1.3-0.6 1.3-0.1 1.4 0.6 1.3-0.7 1.4 0 1.3 0.6 1.4-0.1 1.3-0.7 1.3 1.6 1.4-0.8 1.3-0.9 1.4 0.5 1.3 0.6 1.3-0.3 1.4 0.4 1.3 0.7 1.4-0.5 1.3 0.4 1.3-0.7 1.4-0.6 1.3 1 1.4-0.9 1.3 0.7 1.4-0.1 1.3-0.8 1.3 0.1 1.4 0.3 1.3 0.4 1.4 0.5 1.3-0.5 1.3 0.8 1.4-0.5 1.3-0.8 1.4 0 1.3 0.4 1.3-0.2 1.4 0.2 1.3 0.5 1.4-0.2 1.3 0.2 1.4-0.8 1.3-0.1 1.3-0.3 1.4-0.2 1.3 0.7 1.4 0.3 1.3-0.1 1.3 0.2 1.4 0.9 1.3-1.4 1.4 0.3 1.3-0.1 1.3-0.1 1.4 1.1 1.3-0.6 1.4 0.5 1.3-1 1.4 1.4 1.3 0.2 1.3-1.5 1.4 0.3 1.3 0 1.4 0.3 1.3-0.8 1.3 0.8 1.4 0 1.3-1 1.4-1.4 1.3-0.4 1.3-2 1.4-3.4 1.3-6.9 1.4-9 1.3-10.1 1.4-12.3 1.3-11.5 1.3-9.2 1.4-3.7 1.3 0.1 1.4 1.2 1.3 4.9 1.3 5.7 1.4 6 1.3 7.4 1.4 6.2 1.3 7.2 1.3 5.5 1.4 6.1 1.3 4.6 1.4 3.8 1.3 3.1 1.4 3.3 1.3 2 1.3 0.8 1.4 0.6 1.3 0.9 1.4 1.2 1.3-0.5 1.3 1.1 1.4-1.1 1.3 1 1.4 0.3 1.3 0.3 1.3-0.8 1.4-0.3 1.3-0.2 1.4 1.1 1.3-0.4 1.4-0.1 1.3 0.1 1.3 0.4 1.4 0 1.3 0.5 1.4-1.5 1.3 1.4 1.3-0.5 1.4 0.3" fill="#fff" stroke="#3030a0" stroke-dasharray="0 408.9 682.8 9999"/>
<path d="M429.6 281.4L54.1 281.4L54.1 247.7l1.3-0.2 1.4-0.4 1.3-0.5 1.4 0.7 1.3-0.1 1.3-1.2 1.4-0.5 1.3-0.4 1.4-0.9 1.3 0.2 1.4-0.2 1.3 0 1.3-0.8 1.4-0.7 1.3 1 1.4 0.2 1.3-2 1.3 0.5 1.4 0.2 1.3-1.2 1.4-0.4 1.3 0.4 1.3-0.4 1.4-0.4 1.3 0.8 1.4-0.4 1.3-0.9 1.4-1 1.3-0.8 1.3-0.3 1.4-1.1 1.3 0.3 1.4 0.4 1.3-0.5 1.3 0.9 1.4 0.7 1.3-0.4 1.4-0.6 1.3 0.3 1.3 0.1 1.4 0.2 1.3 0 1.4-0.1 1.3 0.6 1.4 0.2 1.3-0.9 1.3-0.5 1.4 0.9 1.3-0.1 1.4 0.1 1.3-0.5 1.3 0.4 1.4-0.5 1.3 0.9 1.4 0.3 1.3-1.3 1.3-0.9 1.4 0.9 1.3 0.1 1.4 0.4 1.3-0.1 1.4 0.3 1.3 1 1.3-1.5 1.4-0.1 1.3 0.3 1.4-1 1.3 1.2 1.3-0.7 1.4-0.4 1.3 0.3 1.4 0.7 1.3 0.2 1.3 0.1 1.4-0.4 1.3-0.6 1.4 0.6 1.3-0.2 1.4 1 1.3-2 1.3 1.6 1.4-0.3 1.3-0.2 1.4-0.3 1.3-0.3 1.3-0.2 1.4-0.2 1.3 1.7 1.4-0.4 1.3-0.2 1.3-0.2 1.4-1.1 1.3 0.8 1.4 0.3 1.3 0.4 1.4-0.9 1.3 0.5 1.3-0.2 1.4 0.1 1.3-0.3 1.4 0.5 1.3-0.2 1.3-0.9 1.4 1.3 1.3 0.3 1.4-1.7 1.3 0.3 1.3-1.8 1.4-1 1.3-0.8 1.4-3.1 1.3-2.9 1.4-5 1.3-5.4 1.3-7.4 1.4-7.3 1.3-8.8 1.4-10.4 1.3-10.6 1.3-9.6 1.4-8.9 1.3-6.3 1.4-4.9 1.3-3 1.3 0.6 1.4 0.2 1.3 3 1.4 3.1 1.3 5.4 1.4 5.7 1.3 8 1.3 8.9 1.4 10.9 1.3 9.1 1.4 10.3 1.3 7.9 1.3 7.2 1.4 4.7 1.3 4.6 1.4 3.6 1.3 2.3 1.3 0.5 1.4 1.5 1.3 0.1 1.4 1 1.3-0.3 1.4 0 1.3 0.4 1.3 0.4 1.4-0.6 1.3 0.6 1.4-1 1.3 0.5 1.3-0.6 1.4 0.6 1.3-0.5 1.4 0.5 1.3 0.3 1.3-0.8 1.4-0.4 1.3 0.8 1.4 0.4 1.3-0.1 1.4-0.5 1.3 0.8 1.3-0.4 1.4 0.4 1.3-0.7 1.4 0.6 1.3 0.4 1.3-0.8 1.4 0.1 1.3 0.5 1.4 0 1.3-0.1 1.4-0.3 1.3-0.6 1.3 0.7 1.4-0.5 1.3 0.5 1.4-0.9 1.3 1.8 1.3 0.3 1.4-0.7 1.3-0.7 1.4 0.3 1.3 0.6 1.3-0.1 1.4-0.5 1.3 0.8 1.4-0.1 1.3-0.1 1.4-0.4 1.3 0.1 1.3-0.3 1.4 0.4 1.3-0.3 1.4 0.9 1.3-0.5 1.3 0.1 1.4 0 1.3 0 1.4-0.7 1.3 1.2 1.3-0.5 1.4-0.4 1.3-0.2 1.4 0.1 1.3 0.1 1.4 0.3 1.3-0.4 1.3 0.5 1.4 0 1.3-0.2 1.4 1.2 1.3-0.9 1.3 0.1 1.4-0.1 1.3-0.1 1.4 0.4 1.3 0.4 1.3-0.7 1.4-0.4 1.3 0.5 1.4-1.1 1.3 1 1.4-0.1 1.3 0.2 1.3-1 1.4 0.2 1.3-0.8 1.4-0.9 1.3-1.8 1.3-4.2 1.4-6.4 1.3-7.9 1.4-11.7 1.3-13.3 1.3-11.3 1.4-8.2 1.3-4.2 1.4 0.3 1.3 2.3 1.4 3.4 1.3 5.7 1.3 5.9 1.4 7 1.3 7.1 1.4 6.9 1.3 6.6 1.3 5.8 1.4 4.6 1.3 4.9 1.4 2.6 1.3 3.4 1.3 1.6 1.4 0.3 1.3 1.8 1.4-0.2 1.3 1.7 1.4-0.2 1.3-0.6 1.3-0.4 1.4 0.8 1.3-0.2 1.4 1.1 1.3-1 1.3 0.4 1.4 0.4 1.3-0.2 1.4 0.2 1.3-0.2 1.3 0.5 1.4-0.7 1.3 0.7 1.4-0.7 1.3 0.6 1.4-0.5 1.3 0.5 1.3 0.6" fill="#fff" stroke="#8030ff" stroke-dasharray="0 409.3 679.5 9999"/>
<path d="M428.2 283.3L52.7 283.3L52.7 248.9l1.3 0.2 1.3-1 1.4 0.3 1.3-0.1 1.4-0.1 1.3-0.9 1.3 0 1.4-0.7 1.3 0.4 1.4-0.1 1.3-0.5 1.3 0.2 1.4-0.5 1.3-0.4 1.4 0 1.3-1.4 1.4 0.1 1.3-1 1.3 0.5 1.4-0.4 1.3 0.3 1.4-0.9 1.3-0.4 1.3 0 1.4-0.3 1.3-0.1 1.4-1.1 1.3-1 1.3-0.7 1.4 0.5 1.3-1.8 1.4-0.1 1.3 0.3 1.4 1.3 1.3-0.3 1.3 1 1.4-0.7 1.3 0.5 1.4 0.4 1.3 0.1 1.3-1 1.4 0.3 1.3 0.1 1.4-0.7 1.3 1.2 1.3-0.1 1.4 0 1.3-0.9 1.4 0.7 1.3 0.2 1.4 0.2 1.3-0.7 1.3 0.6 1.4 0.6 1.3-1.2 1.4-0.1 1.3 0 1.3-0.6 1.4 0.6 1.3 0.9 1.4-1.1 1.3 0.3 1.3 0.7 1.4-0.3 1.3-0.3 1.4-0.3 1.3 0.1 1.4 0.1 1.3 0.3 1.3-0.3 1.4 0.3 1.3-1.3 1.4 1.2 1.3-0.6 1.3 0.2 1.4-0.2 1.3 0.5 1.4-0.3 1.3 0.3 1.3-0.7 1.4 0.5 1.3 0.5 1.4-0.1 1.3-0.7 1.4 0.1 1.3-0.2 1.3 0.1 1.4 0.2 1.3 0.6 1.4-0.3 1.3 0.5 1.3-0.1 1.4-1.3 1.3 0.6 1.4-0.3 1.3-0.6 1.3 0.2 1.4 0.5 1.3 1 1.4-0.7 1.3-0.2 1.4 0 1.3-0.4 1.3 0.3 1.4-0.4 1.3-1.1 1.4 0.1 1.3 1 1.3-2.5 1.4-2.4 1.3-2.3 1.4-4.3 1.3-4.1 1.3-5.5 1.4-8.2 1.3-7.9 1.4-8.9 1.3-9.8 1.4-10 1.3-9.1 1.3-8.1 1.4-7 1.3-4.3 1.4-2.1 1.3-0.7 1.3 1.2 1.4 1.9 1.3 4.1 1.4 4.9 1.3 7.2 1.3 9.2 1.4 8.4 1.3 9.1 1.4 10.5 1.3 9.3 1.4 7.7 1.3 7.1 1.3 5.9 1.4 3.5 1.3 3 1.4 1.8 1.3 1.8 1.3 0.6 1.4 0.1 1.3 0.7 1.4 1 1.3-1.6 1.3 0.1 1.4 0.8 1.3-0.6 1.4 1.4 1.3-1.5 1.4-0.1 1.3 0.5 1.3 0.9 1.4-0.1 1.3-0.1 1.4-0.1 1.3 0.3 1.3-1.4 1.4 1 1.3 0.6 1.4-1.1 1.3 0.6 1.3 0.5 1.4 0 1.3-0.5 1.4 0.9 1.3-0.6 1.4 0.2 1.3-1 1.3 0 1.4 0.2 1.3 1.1 1.4-1.9 1.3 0.2 1.3 1.3 1.4-0.3 1.3-1.4 1.4 1.1 1.3 0.3 1.3 0.6 1.4-1.4 1.3 0.7 1.4 0.8 1.3-0.1 1.4-0.8 1.3 0.2 1.3-0.4 1.4 1.3 1.3-0.7 1.4 0.8 1.3-0.2 1.3-0.8 1.4 0.3 1.3 0.4 1.4 0 1.3 0.6 1.3-0.2 1.4-0.4 1.3 0.1 1.4-0.6 1.3 0 1.4 0.6 1.3-0.1 1.3-0.7 1.4 0.5 1.3-0.3 1.4 0.1 1.3 0.9 1.3-1 1.4 0.1 1.3 0.6 1.4-0.2 1.3 0 1.4-0.7 1.3 0.6 1.3-0.1 1.4-0.2 1.3 0.1 1.4 0.2 1.3 0.6 1.3 0.5 1.4-0.7 1.3 0.5 1.4-0.7 1.3-0.7 1.3 0.7 1.4 0.6 1.3-0.3 1.4-1.5 1.3 0.1 1.4-3.6 1.3-4 1.3-6 1.4-7.8 1.3-11.5 1.4-12.3 1.3-13.3 1.3-8.2 1.4-4.2 1.3 0.7 1.4 1.8 1.3 4.8 1.3 4.5 1.4 6 1.3 6.9 1.4 8.6 1.3 6.7 1.4 5.7 1.3 6.6 1.3 4.3 1.4 4 1.3 2.6 1.4 2.9 1.3 2.2 1.3 1.4 1.4 0.7 1.3 1.4 1.4 0.6 1.3-0.7 1.3 0.6 1.4-0.7 1.3 0.8 1.4-0.5 1.3 0.4 1.4 0.2 1.3-0.1 1.3 0.5 1.4-0.8 1.3 0.2 1.4 0.5 1.3-0.1 1.3 0.2 1.4-0.2 1.3-0.2 1.4 0.7 1.3-0.1 1.3 0.5 1.4 0.2" fill="#fff" stroke="#a030a0" stroke-dasharray="0 409.9 680.9 9999"/>
<path d="M426.7 285.1L51.2 285.1L51.2 251.5l1.3-0.2 1.4-0.4 1.3-0.6 1.4 0.5 1.3-1.2 1.4-0.9 1.3 0.7 1.3 0.1 1.4-0.8 1.3-0.2 1.4 0.1 1.3-0.1 1.3-0.6 1.4 0.1 1.3-0.8 1.4 0.4 1.3-1.8 1.3 0.7 1.4-0.6 1.3-0.4 1.4-0.9 1.3 0.8 1.4-0.9 1.3-0.7 1.3-0.1 1.4-0.2 1.3-0.3 1.4-1 1.3-0.7 1.3-0.2 1.4-0.8 1.3 0.5 1.4-0.5 1.3 0.9 1.3 0.7 1.4-0.6 1.3 0.6 1.4-0.2 1.3 0 1.4 0.7 1.3-1.2 1.3 0 1.4-0.4 1.3 0.8 1.4 0.5 1.3-0.5 1.3 0.4 1.4-0.7 1.3 0.8 1.4-0.5 1.3-0.2 1.3 0.9 1.4-0.7 1.3 0.2 1.4-0.2 1.3 0.3 1.4-0.4 1.3-0.6 1.3 0.7 1.4 0.1 1.3-0.1 1.4-0.2 1.3 0.8 1.3-1.1 1.4 0.3 1.3 0 1.4-0.6 1.3-0.1 1.3 0.9 1.4 0 1.3-0.3 1.4-0.8 1.3 0.5 1.4 0.3 1.3 0.3 1.3 0.2 1.4-0.3 1.3 0.2 1.4 0.2 1.3-1.8 1.3 1.4 1.4-0.6 1.3 0.4 1.4-0.2 1.3-0.6 1.3 0.1 1.4 0.6 1.3-0.2 1.4 0.4 1.3-0.4 1.4 1.1 1.3-1 1.3 1 1.4-1.3 1.3 0.6 1.4 0.2 1.3-1.1 1.3 0.1 1.4 0.7 1.3 0.4 1.4 0.1 1.3-0.4 1.3 0.1 1.4-1.2 1.3 0.1 1.4 0.5 1.3-1.5 1.4-0.9 1.3-2 1.3-1.4 1.4-3.3 1.3-2.7 1.4-4.2 1.3-6.5 1.3-7.3 1.4-8.6 1.3-8.9 1.4-10.6 1.3-9.5 1.3-8.3 1.4-9.8 1.3-6.3 1.4-4.5 1.3-0.5 1.4-0.5 1.3 0.5 1.3 2.4 1.4 5 1.3 5.5 1.4 7.2 1.3 8.1 1.3 9.9 1.4 10 1.3 9.3 1.4 7.8 1.3 7.7 1.3 6.9 1.4 6.1 1.3 3.2 1.4 3 1.3 2.4 1.4 0.8 1.3 0.6 1.3 1.5 1.4 0.1 1.3 0.2 1.4 0.2 1.3 0.2 1.3-0.7 1.4-0.2 1.3-0.7 1.4 0.7 1.3-0.1 1.3 0.8 1.4-0.1 1.3 0.4 1.4-0.1 1.3 0 1.4-0.3 1.3-0.3 1.3-0.2 1.4 0.1 1.3-0.3 1.4 0.6 1.3-0.3 1.3-0.9 1.4-0.3 1.3 0.9 1.4 0.3 1.3 0.1 1.3 0.8 1.4-0.9 1.3-0.3 1.4 0.8 1.3 0.4 1.4 0.3 1.3-1.2 1.3 0.2 1.4 0.1 1.3 0.9 1.4-0.3 1.3-0.3 1.3 0.3 1.4-0.5 1.3 0.1 1.4 0 1.3-0.1 1.3 0.1 1.4 0.3 1.3 0.1 1.4 0.6 1.3-0.3 1.4-0.5 1.3-1.1 1.3 0.4 1.4 0.5 1.3 0.1 1.4-0.4 1.3 0.4 1.3 0.3 1.4-0.3 1.3 0.2 1.4 0 1.3-0.2 1.3-0.1 1.4 0.4 1.3 0.1 1.4-0.6 1.3-0.5 1.4 0.6 1.3 0.7 1.3-0.9 1.4 1.1 1.3-0.6 1.4 0.3 1.3-0.4 1.3 0.6 1.4-0.1 1.3 0 1.4-1 1.3 1.1 1.3-1 1.4 0.6 1.3 0.5 1.4-0.3 1.3 0.3 1.4-0.1 1.3-0.1 1.3-0.5 1.4 0.6 1.3-0.5 1.4-2 1.3-2.4 1.3-3.5 1.4-6.5 1.3-8.4 1.4-10.7 1.3-12.5 1.4-11.6 1.3-9.7 1.3-5.2 1.4 0.4 1.3 3.1 1.4 4.6 1.3 4.5 1.3 6.2 1.4 8.1 1.3 6.6 1.4 7.3 1.3 6.6 1.3 4.9 1.4 5.1 1.3 4 1.4 3.8 1.3 2.5 1.4 1.4 1.3 1.7 1.3-0.1 1.4 1.6 1.3 0.5 1.4 0.1 1.3-0.5 1.3 0.6 1.4-0.2 1.3 1.1 1.4-0.6 1.3-0.1 1.3 0.1 1.4 0.3 1.3-0.1 1.4 0.2 1.3-0.5 1.4 0.9 1.3-0.6 1.3 0.6 1.4-0.1 1.3 0.4 1.4-0.5 1.3-0.6 1.3 0.2" fill="#fff" stroke="#a03030" stroke-dasharray="0 409.1 676.4 9999"/>
<path d="M425.3 287L49.8 287L49.8 252.6l1.3-0.7 1.3 0.2 1.4-0.2 1.3-0.9 1.4 0 1.3 0.7 1.3-1.1 1.4-0.1 1.3-0.3 1.4 0.2 1.3 0 1.4-0.4 1.3-0.5 1.3-0.4 1.4-1 1.3 0.8 1.4-1.1 1.3-0.5 1.3-0.1 1.4-0.4 1.3 0.3 1.4 0 1.3-0.1 1.3-0.9 1.4-0.6 1.3-0.3 1.4-0.8 1.3-0.3 1.4 0.5 1.3-2 1.3-0.5 1.4 0.1 1.3 0.4 1.4 0.5 1.3-0.5 1.3 0.2 1.4 1.1 1.3-0.7 1.4 0.3 1.3 0.1 1.3-0.9 1.4 0.7 1.3-0.1 1.4 0.5 1.3-0.4 1.4-0.9 1.3 1.2 1.3-1.4 1.4 0.9 1.3-0.1 1.4 0.1 1.3 0.3 1.3 0.4 1.4-0.9 1.3 0.1 1.4 0.6 1.3 0 1.3 0 1.4-0.2 1.3-0.3 1.4-0.2 1.3 0.1 1.4 0.6 1.3 0.4 1.3 0.1 1.4-1.4 1.3 0.2 1.4 0.1 1.3-0.1 1.3-0.3 1.4 1.4 1.3-0.2 1.4-0.9 1.3-0.2 1.3 0.1 1.4-0.5 1.3 0.4 1.4 0.6 1.3 0.4 1.4-0.3 1.3 0 1.3-1.2 1.4-1 1.3 2.1 1.4-0.5 1.3-0.1 1.3 0.8 1.4-1.2 1.3-0.1 1.4 0.2 1.3 1.1 1.3-0.3 1.4-1.2 1.3 1.5 1.4-0.7 1.3 0.1 1.4-0.4 1.3 1.1 1.3-0.5 1.4 0.2 1.3-1 1.4 0.6 1.3-0.3 1.3-0.3 1.4-0.6 1.3-0.4 1.4-0.8 1.3-0.7 1.3-1.1 1.4-1.7 1.3-3.8 1.4-3.6 1.3-4.7 1.4-6.5 1.3-6.7 1.3-8.4 1.4-9.2 1.3-9.6 1.4-9.7 1.3-9.4 1.3-8.4 1.4-6.3 1.3-4.6 1.4-1.4 1.3 1 1.3 1.3 1.4 3.2 1.3 3.1 1.4 5.4 1.3 7.9 1.4 8.4 1.3 9.3 1.3 10.8 1.4 9.8 1.3 8.1 1.4 7.2 1.3 6.8 1.3 4.9 1.4 3.2 1.3 3.7 1.4 1.7 1.3 1.5 1.3-0.1 1.4 0.6 1.3 0.1 1.4-0.5 1.3 1.9 1.4-2 1.3 0.3 1.3 0.4 1.4-0.4 1.3 0.8 1.4-0.3 1.3 0.3 1.3 0.1 1.4-0.1 1.3 0 1.4-0.1 1.3 0.3 1.3 0.2 1.4-0.5 1.3-0.1 1.4 0.1 1.3 0.3 1.4-0.2 1.3-0.1 1.3-0.4 1.4 1.5 1.3-1.2 1.4 1.2 1.3-0.2 1.3 0 1.4-0.3 1.3 0.1 1.4 0 1.3 0.1 1.3 0.2 1.4 0.3 1.3-1.1 1.4 0.6 1.3 0.7 1.4-0.2 1.3-1.1 1.3 0.6 1.4 0 1.3-0.1 1.4-1 1.3 1.3 1.3-0.9 1.4 1.7 1.3-0.6 1.4-0.4 1.3 0.4 1.3-0.2 1.4-0.4 1.3 0.3 1.4 0.2 1.3-0.5 1.4 0.7 1.3 0.3 1.3 0 1.4 0.1 1.3 0.1 1.4-0.3 1.3 0.2 1.3-0.5 1.4 0.2 1.3 0.5 1.4 0.2 1.3-1.1 1.3-0.5 1.4 1.7 1.3-0.3 1.4 0.3 1.3-0.5 1.4-0.3 1.3-0.5 1.3-0.1 1.4 1.2 1.3-0.2 1.4-0.3 1.3-0.7 1.3 0.2 1.4 0 1.3 0.1 1.4-1.2 1.3 1.5 1.3 0.7 1.4-1 1.3-0.1 1.4-0.4 1.3-1.8 1.4-1.6 1.3-4.5 1.3-6 1.4-8.4 1.3-11.3 1.4-12.4 1.3-12.5 1.3-8.6 1.4-5.3 1.3 1.1 1.4 1.8 1.3 3.7 1.3 6 1.4 6.1 1.3 7.4 1.4 7.5 1.3 7.5 1.4 6.6 1.3 5.6 1.3 4.5 1.4 3.5 1.3 3.8 1.4 2.5 1.3 1.9 1.3 1.2 1.4 1 1.3 1.2 1.4-0.5 1.3 0.9 1.4 0.7 1.3-0.8 1.3-0.1 1.4 0.4 1.3 0 1.4 0.4 1.3 0.5 1.3-0.6 1.4 0.2 1.3-0.5 1.4 0.1 1.3 0.5 1.3-0.3 1.4 0.9 1.3-0.7 1.4 0.1 1.3-0.3 1.4 0.3 1.3-0.2" fill="#fff" stroke="#a0a028" stroke-dasharray="0 409.9 681.3 9999"/>
<path d="M423.8 288.8L48.3 288.8L48.3 255.3l1.3-0.4 1.4-1.4 1.3 0.2 1.4-0.3 1.3 0.3 1.4-1 1.3 0.7 1.3-1 1.4-0.6 1.3 0 1.4-0.4 1.3 0.9 1.3-1.1 1.4-0.7 1.3 0 1.4 0.3 1.3-1.3 1.3-0.6 1.4 1 1.3-0.5 1.4-0.8 1.3-0.1 1.4 0.1 1.3-1.8 1.3 1.3 1.4-0.8 1.3-0.2 1.4-0.7 1.3 0.6 1.3-2.3 1.4-0.1 1.3-1.9 1.4 1.6 1.3 0.7 1.3-0.8 1.4 0 1.3 1.1 1.4 0.6 1.3 0 1.4-0.8 1.3 0.4 1.3-0.7 1.4 1.3 1.3-0.8 1.4 0.6 1.3-0.6 1.3 0 1.4 0.7 1.3-1 1.4 0.8 1.3-0.7 1.4-0.3 1.3 0 1.3 0.9 1.4-0.5 1.3-0.3 1.4-0.4 1.3 1.1 1.3 0 1.4-0.3 1.3 0 1.4-1.8 1.3 1.1 1.3 0.4 1.4 0 1.3-0.3 1.4 0.2 1.3-0.4 1.4 0 1.3-0.3 1.3 0.6 1.4-0.4 1.3 0.1 1.4 0.8 1.3-0.6 1.3-0.1 1.4-0.7 1.3 0.4 1.4 0.7 1.3-0.1 1.3-0.3 1.4-0.2 1.3 0.1 1.4 0.1 1.3-0.4 1.4-0.9 1.3 2 1.3-0.3 1.4-0.6 1.3 0.6 1.4-1.1 1.3 1.1 1.3-0.4 1.4 0.2 1.3-0.5 1.4 0.2 1.3 0.2 1.3 0.2 1.4-0.3 1.3-0.1 1.4-0.4 1.3 0.9 1.4-0.7 1.3-0.4 1.3-0.4 1.4-0.8 1.3-0.5 1.4-1.3 1.3-0.6 1.3-2.1 1.4-2.8 1.3-4.5 1.4-4.6 1.3-6.1 1.3-6.8 1.4-9.6 1.3-9.5 1.4-8.7 1.3-10.4 1.4-10.2 1.3-6.8 1.3-6 1.4-4 1.3-2.4 1.4 1.2 1.3 1 1.3 3.1 1.4 3.9 1.3 7.5 1.4 6.6 1.3 9.2 1.3 9.7 1.4 9.7 1.3 9.2 1.4 8.3 1.3 7.7 1.4 6 1.3 4 1.3 5 1.4 1.9 1.3 1.7 1.4 1.1 1.3 0.2 1.3 0.5 1.4 0 1.3 1.2 1.4 0.4 1.3-0.4 1.3-0.5 1.4 1 1.3-0.6 1.4-0.7 1.3-0.1 1.4 1 1.3 0.7 1.3-0.8 1.4-0.2 1.3 0.2 1.4-0.3 1.3 0.2 1.3 0.4 1.4-0.4 1.3 0.7 1.4-0.7 1.3 0.7 1.3-0.1 1.4-0.3 1.3 0 1.4 0.1 1.3 0.9 1.4-1 1.3 0.8 1.3 0 1.4-0.5 1.3 0.7 1.4-1.7 1.3 1.1 1.3 0.1 1.4 0 1.3 0.3 1.4-0.5 1.3 0.1 1.3 0.6 1.4-0.5 1.3-0.4 1.4 0.7 1.3-0.2 1.4-0.2 1.3 0.5 1.3-0.6 1.4-0.1 1.3 0.3 1.4 0.1 1.3 0.1 1.3-0.4 1.4 1.3 1.3-0.4 1.4-0.3 1.3 0 1.3-1.2 1.4 1.5 1.3-0.7 1.4 0.6 1.3-0.7 1.4 0.9 1.3-0.6 1.3 0.2 1.4 0.8 1.3-0.2 1.4-1.1 1.3 0.3 1.3 0.4 1.4-0.1 1.3 0.4 1.4-0.7 1.3-0.5 1.3 0.4 1.4 0.5 1.3 0.3 1.4 0.2 1.3 0.2 1.4-0.4 1.3-0.2 1.3 0.4 1.4-0.4 1.3-0.2 1.4 0.1 1.3 0.6 1.3 0.3 1.4-0.4 1.3-1.9 1.4-0.1 1.3-3.1 1.3-3.6 1.4-5.8 1.3-9.6 1.4-11.1 1.3-12.3 1.4-10.9 1.3-9.7 1.3-5.5 1.4 0.6 1.3 2.4 1.4 4.1 1.3 5.2 1.3 7.5 1.4 6.5 1.3 7.7 1.4 6.1 1.3 7.4 1.3 5.9 1.4 5.3 1.3 2.5 1.4 4.5 1.3 2.7 1.4 1.4 1.3 2.1 1.3 1.3 1.4 0.1 1.3 0.3 1.4 0.5 1.3-0.2 1.3 0.4 1.4-0.2 1.3-0.6 1.4-0.1 1.3 1 1.3-0.2 1.4-0.5 1.3 0.3 1.4 0.6 1.3-1.3 1.4 0.4 1.3 0.9 1.3 0.1 1.4-0.9 1.3 0.1 1.4 0.7 1.3 0.6 1.3-0.6" fill="#fff" stroke="#00a0a0" stroke-dasharray="0 409.1 684.9 9999"/>
<path d="M422.4 290.6L46.9 290.6L46.9 256l1.3-0.2 1.3-0.7 1.4-0.4 1.3 1.5 1.4-1.2 1.3-0.7 1.3 0.5 1.4 0 1.3-1.7 1.4 0.3 1.3 0.1 1.4-0.8 1.3 0.2 1.3-1 1.4 0 1.3 0 1.4 0 1.3-0.5 1.3-0.6 1.4-0.2 1.3-0.9 1.4 1.6 1.3-1.4 1.3-0.3 1.4 0 1.3-0.2 1.4-0.6 1.3-1.1 1.4-1.1 1.3-0.1 1.3-0.8 1.4-0.1 1.3 0.7 1.4 0.5 1.3 0.7 1.3-0.6 1.4-0.6 1.3 1.1 1.4 0.2 1.3-1.1 1.3 1 1.4-0.2 1.3-0.3 1.4 0.3 1.3 0.1 1.4 0.1 1.3 0.2 1.3-0.6 1.4 0.1 1.3 1 1.4-1.6 1.3 0.2 1.3 0 1.4 0.5 1.3 0.1 1.4-1.1 1.3 1.1 1.3-1 1.4 1.6 1.3-1.4 1.4 0.6 1.3-0.5 1.4 0.3 1.3-0.7 1.3 0.4 1.4-0.1 1.3 0.1 1.4 0.2 1.3-0.6 1.3 0 1.4-0.5 1.3 0.5 1.4-0.1 1.3 0.6 1.4-0.1 1.3-0.7 1.3 0.5 1.4 0.4 1.3-0.8 1.4-0.4 1.3 1.6 1.3-0.8 1.4 0 1.3 0.7 1.4-1.5 1.3 0.3 1.3-0.9 1.4 1.1 1.3 0 1.4-0.6 1.3-0.1 1.4 0.3 1.3 0.1 1.3 0.8 1.4-0.8 1.3-0.1 1.4-0.1 1.3-0.6 1.3 0.4 1.4-0.4 1.3 0.6 1.4-1.1 1.3 0.4 1.3 0.4 1.4-1.3 1.3-0.2 1.4 0.5 1.3-2 1.4-0.9 1.3-1.9 1.3-3.5 1.4-4.1 1.3-3.6 1.4-7.1 1.3-7.1 1.3-9.2 1.4-9.1 1.3-10.9 1.4-10.1 1.3-9.2 1.3-7.8 1.4-6 1.3-3.3 1.4-0.4 1.3 0.2 1.4 2.2 1.3 2.4 1.3 5.3 1.4 6.8 1.3 7.8 1.4 7.2 1.3 11 1.3 8.3 1.4 10.6 1.3 7.8 1.4 7.4 1.3 5.4 1.3 5.5 1.4 3.4 1.3 1.8 1.4 1.6 1.3 1.8 1.4 0.7 1.3 0.3 1.3-0.4 1.4 0.3 1.3 0.6 1.4 0.1 1.3 0.1 1.3-0.4 1.4-0.4 1.3 0.5 1.4 0.1 1.3-0.4 1.3 0.4 1.4-0.5 1.3 0.4 1.4-0.2 1.3 1.3 1.4-0.4 1.3-0.5 1.3-0.8 1.4 0.1 1.3 0.9 1.4-0.3 1.3 0.2 1.3-0.9 1.4 0.1 1.3 0.8 1.4-0.1 1.3-0.5 1.3 0.3 1.4 0.7 1.3-0.4 1.4 0.5 1.3 0.5 1.4-0.6 1.3-0.2 1.3-0.2 1.4 0.7 1.3-1.1 1.4 0.1 1.3 0.5 1.3-0.5 1.4 1 1.3-0.6 1.4 0.5 1.3-0.3 1.3 0 1.4 0.1 1.3-0.9 1.4 0.4 1.3 0.4 1.4 1.3 1.3-0.5 1.3-0.2 1.4-0.8 1.3 0.9 1.4 0.3 1.3-0.1 1.3 0.7 1.4-1.8 1.3 0 1.4 0.4 1.3-0.2 1.3 0.5 1.4 0.2 1.3-0.2 1.4 0.1 1.3 0.2 1.4 0.1 1.3-0.7 1.3 0.1 1.4 0.8 1.3-0.6 1.4-0.3 1.3 0.5 1.3-0.2 1.4 0.2 1.3 0 1.4 0.4 1.3 0.1 1.3-0.9 1.4-0.1 1.3 1.3 1.4-1 1.3-0.5 1.4-0.2 1.3 0.8 1.3-0.5 1.4-1.1 1.3-0.8 1.4-2.1 1.3-2.9 1.3-6.4 1.4-8.8 1.3-11.6 1.4-12 1.3-11.6 1.3-9.5 1.4-4.3 1.3-0.3 1.4 2.6 1.3 3.9 1.4 5.2 1.3 7.4 1.3 6.8 1.4 7.4 1.3 6.2 1.4 6.5 1.3 6.2 1.3 4.7 1.4 4.7 1.3 3.2 1.4 2.8 1.3 1.5 1.3 0.6 1.4 1.7 1.3 0 1.4 0.3 1.3 0.6 1.4 0.3 1.3 0.6 1.3 0.9 1.4-1 1.3 0.4 1.4-0.7 1.3 0.1 1.3-0.3 1.4 0.1 1.3 0.9 1.4-0.3 1.3 0 1.3-0.5 1.4 1.2 1.3-0.8 1.4-0.2 1.3 0.4 1.4 0.4 1.3 0.2" fill="#fff" stroke="#3c78dc" stroke-dasharray="0 410.2 679.4 9999"/>
<path d="M420.9 292.5L45.4 292.5L45.4 258.3l1.4-0.1 1.3-0.6 1.3-0.3 1.4-0.1 1.3-1.7 1.4 0.3 1.3 0.1 1.3 0 1.4 0.6 1.3 0.2 1.4-1.1 1.3-0.5 1.3-0.1 1.4 0.1 1.3-1.5 1.4-0.1 1.3 0.1 1.4-0.3 1.3-1.2 1.3 0.7 1.4-1.1 1.3 0.8 1.4-0.3 1.3-1.6 1.3 0.8 1.4-0.4 1.3-0.8 1.4 0.3 1.3-0.2 1.3-1.4 1.4-1.4 1.3-0.5 1.4 0.6 1.3 0.4 1.4 1.2 1.3-0.2 1.3 0 1.4 0.4 1.3-0.3 1.4-0.1 1.3-0.4 1.3 0.1 1.4 0.3 1.3-0.5 1.4 1.2 1.3-0.7 1.3-0.3 1.4 0.6 1.3-0.9 1.4 0.9 1.3-0.3 1.4 0.6 1.3-1.1 1.3 0 1.4-0.3 1.3-0.2 1.4 0.6 1.3-0.5 1.3 0.5 1.4-0.4 1.3 0.6 1.4-1.5 1.3 1.2 1.3-0.1 1.4-0.1 1.3-0.2 1.4 1 1.3-1 1.4 0.3 1.3-0.4 1.3-0.1 1.4 0.2 1.3 0.2 1.4-0.8 1.3 0.2 1.3-0.4 1.4 0.7 1.3-0.6 1.4 0.1 1.3 0.6 1.3-0.3 1.4 0.1 1.3-0.3 1.4 0.2 1.3-0.2 1.4-0.5 1.3 0.5 1.3-0.2 1.4 0 1.3 0.3 1.4-0.5 1.3-0.2 1.3 1.1 1.4 0.3 1.3-1 1.4 0.6 1.3-0.4 1.3-0.5 1.4-0.2 1.3 0.2 1.4-0.1 1.3 0 1.4-0.1 1.3-0.6 1.3 0.6 1.4-1.3 1.3-0.7 1.4 0 1.3-1.5 1.3-1.8 1.4-3.6 1.3-4.3 1.4-4.3 1.3-6.8 1.4-7.7 1.3-9.1 1.3-9.2 1.4-11.3 1.3-9 1.4-10.3 1.3-6.8 1.3-6.8 1.4-2.1 1.3 0.4 1.4-0.6 1.3 1.4 1.3 4.7 1.4 4 1.3 6.2 1.4 8.9 1.3 7.1 1.4 10 1.3 9.7 1.3 9.4 1.4 7.7 1.3 8.4 1.4 5.9 1.3 4 1.3 3 1.4 1.8 1.3 2.4 1.4 0.6 1.3 1.2 1.3 0.6 1.4-0.3 1.3-0.9 1.4 0.7 1.3 1.2 1.4-0.4 1.3 0.4 1.3-1.5 1.4 0.9 1.3 0 1.4-0.6 1.3 0.5 1.3 0.8 1.4-0.1 1.3-0.5 1.4 0.4 1.3 0.4 1.3-0.9 1.4 0.6 1.3 0.4 1.4-0.7 1.3 0.8 1.4-0.5 1.3 0.6 1.3-0.1 1.4-0.3 1.3-0.3 1.4-0.1 1.3 0.4 1.3 0.1 1.4 0.6 1.3-0.7 1.4 0.3 1.3 0.6 1.3-0.6 1.4 0.1 1.3 0.5 1.4-0.6 1.3 0.1 1.4 0.2 1.3-0.5 1.3-0.5 1.4-0.1 1.3 0.6 1.4 0.8 1.3 0 1.3 0.3 1.4-0.4 1.3-0.8 1.4-0.4 1.3 0.5 1.3 0.1 1.4-0.1 1.3 0.7 1.4-0.7 1.3 0.7 1.4 0 1.3-1.1 1.3 0.6 1.4 0.9 1.3-0.2 1.4-0.3 1.3-0.6 1.3 0.2 1.4 0.4 1.3 0.6 1.4-0.3 1.3-0.3 1.3 0.2 1.4 0.2 1.3-1.2 1.4 0.4 1.3 0.6 1.4 0.6 1.3-0.1 1.3-0.8 1.4 0.3 1.3-0.3 1.4 0.1 1.3 0.3 1.3-0.2 1.4-0.1 1.3-0.3 1.4-0.2 1.3 0.7 1.3 0.1 1.4 0 1.3-1.2 1.4-1 1.3-1.2 1.4-4.1 1.3-5.8 1.3-9.1 1.4-11 1.3-12.3 1.4-10.9 1.3-10.2 1.3-5 1.4 0.6 1.3 3.2 1.4 3.6 1.3 5.5 1.3 6.4 1.4 7 1.3 7.1 1.4 6.5 1.3 7.8 1.4 5 1.3 5.3 1.3 2.8 1.4 3.9 1.3 1.7 1.4 1.7 1.3 2 1.3 1.4 1.4 0.7 1.3 0.4 1.4-0.5 1.3 0.6 1.3-0.6 1.4 0.1 1.3 0.4 1.4 0 1.3 0.3 1.4-1.1 1.3 1.3 1.3-0.6 1.4 1 1.3-0.1 1.4-1 1.3 0.5 1.3 0.4 1.4-0.6 1.3 0 1.4 0.4 1.3 0.6 1.3 0.1" fill="#fff" stroke="#9650c8" stroke-dasharray="0 409.7 675.3 9999"/>
<path d="M419.5 294.3L44 294.3L44 259l1.3 1.2 1.3-0.7 1.4-1 1.3-0.4 1.4 0.6 1.3-0.4 1.4-0.2 1.3-0.1 1.3-0.7 1.4-0.2 1.3 0.2 1.4-0.6 1.3-0.4 1.3 0.1 1.4-1.4 1.3 1.2 1.4-0.6 1.3-0.9 1.3 0 1.4 0.5 1.3-0.7 1.4-1.4 1.3 0 1.4 0.4 1.3 0.6 1.3-0.9 1.4-0.9 1.3-0.2 1.4-0.9 1.3-0.9 1.3-0.3 1.4-1.2 1.3 1.8 1.4 0.1 1.3-0.3 1.3-0.2 1.4 0 1.3 0.7 1.4 0.1 1.3 0 1.4 0.6 1.3-1.8 1.3 0.5 1.4 0.1 1.3 0.8 1.4-0.6 1.3-0.4 1.3 0.6 1.4 0.1 1.3 0.5 1.4-0.7 1.3-0.4 1.3-0.1 1.4-0.1 1.3 0.6 1.4 0.1 1.3-0.5 1.4 0 1.3 0.7 1.3-0.6 1.4 0 1.3-0.8 1.4 0.1 1.3-0.8 1.3 0.4 1.4 0.9 1.3 0.4 1.4-0.8 1.3-0.5 1.3 0.6 1.4 0.5 1.3-0.6 1.4 0.4 1.3-0.6 1.4-0.6 1.3 0.1 1.3 0.4 1.4 1.2 1.3-0.8 1.4-0.5 1.3 0.1 1.3-0.1 1.4-0.3 1.3 0.1 1.4-0.1 1.3 0.5 1.3 0.4 1.4-0.1 1.3-0.8 1.4 0.3 1.3-0.7 1.4-0.2 1.3 0.6 1.3 0.3 1.4-0.4 1.3 0.4 1.4 0 1.3-0.1 1.3-0.5 1.4-0.6 1.3 1.4 1.4-1.1 1.3 0.4 1.3-0.3 1.4-0.7 1.3 0.6 1.4-1.2 1.3-1.5 1.4-1.7 1.3-2.5 1.3-3.1 1.4-3.1 1.3-5.6 1.4-6.4 1.3-7.2 1.3-9.3 1.4-9.3 1.3-10.9 1.4-10.1 1.3-8.7 1.3-8.5 1.4-5.1 1.3-2.9 1.4-0.5 1.3 0 1.4 2.2 1.3 3.7 1.3 5.3 1.4 7.7 1.3 7.3 1.4 8.8 1.3 9.9 1.3 9.6 1.4 8.3 1.3 9.1 1.4 6.9 1.3 5 1.4 4.8 1.3 2.1 1.3 2.6 1.4 1.7 1.3 1.1 1.4 1.1 1.3-0.3 1.3-0.2 1.4 0.8 1.3 0.1 1.4 0.2 1.3-0.3 1.3 0.3 1.4-0.3 1.3 0.6 1.4-0.5 1.3 0.1 1.4 0.8 1.3-0.8 1.3 0.3 1.4 0.4 1.3-0.4 1.4 0.6 1.3-0.6 1.3 0.6 1.4-1.1 1.3 0.1 1.4 0.8 1.3 0.7 1.3 0.1 1.4-1.2 1.3 0.4 1.4-0.3 1.3-0.7 1.4 1.4 1.3-0.4 1.3 0.8 1.4-0.4 1.3-0.5 1.4 0 1.3 0.3 1.3 0.3 1.4-0.3 1.3 1.5 1.4-1.2 1.3-0.7 1.3 0.6 1.4 0.6 1.3-0.3 1.4-0.4 1.3-0.2 1.4-0.1 1.3-0.1 1.3 0.3 1.4 0.4 1.3-0.2 1.4 1 1.3-0.6 1.3-0.4 1.4 0.3 1.3 0.6 1.4-1.4 1.3 0.9 1.3 1.3 1.4-0.8 1.3-0.9 1.4 0.4 1.3 0 1.4 1.4 1.3-1.6 1.3 0.1 1.4 0 1.3-0.6 1.4-0.9 1.3 1.5 1.3 0.5 1.4-0.4 1.3 0.5 1.4 0.2 1.3-0.1 1.3-1.1 1.4 1.5 1.3-0.2 1.4 0 1.3-0.4 1.4 0 1.3-0.2 1.3 0.5 1.4 0.2 1.3-0.6 1.4 0.5 1.3-0.6 1.3 0.3 1.4-0.7 1.3-0.4 1.4-1.4 1.3-4.2 1.3-6 1.4-8 1.3-10.1 1.4-12.6 1.3-11.3 1.4-9.8 1.3-4.6 1.3-0.7 1.4 2 1.3 4.2 1.4 6 1.3 6.1 1.3 7.6 1.4 6 1.3 7.5 1.4 6.6 1.3 4.8 1.3 5.2 1.4 3.5 1.3 3.6 1.4 2.3 1.3 2 1.4 0.4 1.3 0.4 1.3 1.1 1.4 0.7 1.3 0.3 1.4 0.2 1.3 0.5 1.3-0.6 1.4 0 1.3-0.3 1.4 0.2 1.3 0.8 1.3-0.3 1.4-1.4 1.3 1.7 1.4-1.2 1.3 0.7 1.4 0.8 1.3-0.3 1.3 0.3 1.4 0.2 1.3-0.2 1.4-0.7 1.3 0.8" fill="#fff" stroke="#ff5a8c" stroke-dasharray="0 410.8 677.3 9999"/>
<path d="M418.1 296.2L42.5 296.2L42.5 260.8l1.4 0.6 1.3-0.3 1.3-0.1 1.4-0.1 1.3 0 1.4 0.1 1.3-0.9 1.3-1.2 1.4 0.7 1.3-0.3 1.4-0.3 1.3 0.3 1.4-0.9 1.3-0.6 1.3 0.1 1.4-1.2 1.3 0.9 1.4-0.5 1.3 0.4 1.3-0.7 1.4-0.5 1.3-0.4 1.4-0.9 1.3 0.2 1.3 0 1.4-0.1 1.3-0.6 1.4-0.5 1.3-0.6 1.4-1.2 1.3-0.2 1.3-0.4 1.4-0.2 1.3 0.2 1.4 1.3 1.3 0.5 1.3 0 1.4-1 1.3 1.1 1.4 0 1.3-1.1 1.3 0.6 1.4 0.5 1.3-0.7 1.4 0.4 1.3-0.9 1.4 0.1 1.3 0.5 1.3-0.5 1.4 0.1 1.3-0.1 1.4-0.5 1.3 1.1 1.3-0.8 1.4-0.2 1.3-0.1 1.4 0.2 1.3-0.5 1.3 0.8 1.4-0.5 1.3 0.4 1.4-0.8 1.3-0.2 1.4 0 1.3 0.5 1.3-0.7 1.4 0.9 1.3-0.4 1.4 0.4 1.3-0.6 1.3 0.5 1.4-1 1.3 0 1.4 0.7 1.3-0.5 1.3 0.6 1.4-0.8 1.3 0.5 1.4-0.7 1.3-0.5 1.4 1.5 1.3-0.7 1.3 0.4 1.4-0.5 1.3-0.9 1.4 1 1.3 0.4 1.3 0.1 1.4 0.1 1.3-0.6 1.4-0.3 1.3 0 1.3-0.6 1.4 0.9 1.3 0 1.4-0.3 1.3-0.5 1.4 0.5 1.3-0.5 1.3 0.7 1.4-0.9 1.3-0.2 1.4 0 1.3-0.6 1.3-0.3 1.4-0.2 1.3-1.6 1.4 1 1.3-2.2 1.3-2.3 1.4-3.6 1.3-3.5 1.4-5.3 1.3-6.5 1.4-8.5 1.3-8.5 1.3-10.6 1.4-9.6 1.3-10.5 1.4-9.3 1.3-7.5 1.3-4.8 1.4-2.4 1.3-0.6 1.4 0.5 1.3 3.5 1.3 2.6 1.4 5.8 1.3 7.2 1.4 8 1.3 10.1 1.4 9.1 1.3 9.6 1.3 8.2 1.4 8.3 1.3 6.1 1.4 5.3 1.3 4.4 1.3 3 1.4 2.2 1.3 1 1.4 0.2 1.3 1 1.3-0.6 1.4 1.3 1.3 0.1 1.4 0.7 1.3-1.4 1.4 2.2 1.3-0.9 1.3-0.6 1.4 1 1.3 0.2 1.4 0.1 1.3 0.8 1.3-1.4 1.4 0.5 1.3 0 1.4-0.4 1.3 0.6 1.3 0.4 1.4-0.9 1.3 0.6 1.4 0.4 1.3-0.2 1.4-1 1.3 0.8 1.3-0.1 1.4 0.7 1.3-0.5 1.4 0.9 1.3-1.4 1.3 0.7 1.4-0.5 1.3 1.3 1.4-0.1 1.3-1.1 1.4 0.7 1.3-0.4 1.3-0.8 1.4 0.3 1.3 0.7 1.4 0.2 1.3-0.4 1.3 0.3 1.4 0.1 1.3-0.1 1.4-0.6 1.3 0.6 1.3 0.2 1.4-0.9 1.3 1.5 1.4 0 1.3-0.5 1.4 0.8 1.3-1.4 1.3-0.1 1.4 0.1 1.3 0.1 1.4 1.3 1.3-0.8 1.3-0.1 1.4 0.3 1.3 0.6 1.4-0.7 1.3-0.3 1.3 0.4 1.4 0.5 1.3-0.6 1.4 0.7 1.3-0.5 1.4-0.2 1.3 0.4 1.3 0.7 1.4-1 1.3 0.8 1.4-0.4 1.3-0.2 1.3 0 1.4 0.4 1.3-0.1 1.4-0.1 1.3 0.1 1.3-0.7 1.4 0.1 1.3-0.2 1.4 0.4 1.3 0.1 1.4-0.1 1.3 0.3 1.3-1 1.4-0.3 1.3-0.9 1.4-2.5 1.3-5.8 1.3-7.1 1.4-10.2 1.3-13.4 1.4-11.8 1.3-10.5 1.3-4.9 1.4 0.3 1.3 1.6 1.4 5 1.3 5.3 1.4 6.6 1.3 7.4 1.3 6.6 1.4 6.4 1.3 7.1 1.4 5.1 1.3 4.7 1.3 3.2 1.4 2.8 1.3 2 1.4 1.4 1.3 1.2 1.3 0.8 1.4 1 1.3 1.7 1.4-1.6 1.3-0.4 1.4 1 1.3-0.7 1.3 0.1 1.4 0.4 1.3 0.2 1.4 0.1 1.3 0.1 1.3-0.1 1.4 0.6 1.3 0 1.4-0.7 1.3 0.2 1.3-0.4 1.4 0.9 1.3-0.1 1.4 0.9 1.3-1 1.4 0.9" fill="#fff" stroke="#4696c8" stroke-dasharray="0 410.9 675.1 9999"/>
<path d="M416.6 298L41.1 298L41.1 263.2l1.3 0.3 1.4-0.8 1.3 0.6 1.3-0.8 1.4-0.8 1.3-0.2 1.4-0.6 1.3-0.2 1.3 0.9 1.4-0.3 1.3-1.2 1.4 0 1.3 0.6 1.3-1.2 1.4 0.1 1.3-0.1 1.4-0.6 1.3-0.3 1.4-0.3 1.3-0.2 1.3-0.9 1.4 0.4 1.3-0.2 1.4-0.9 1.3 0.4 1.3-1 1.4-1.2 1.3-0.2 1.4 0.3 1.3-0.3 1.3-1 1.4-0.5 1.3 0.9 1.4 0.7 1.3-0.3 1.4-0.5 1.3 0.8 1.3-0.2 1.4 0 1.3 0.1 1.4 0.2 1.3-0.3 1.3-0.4 1.4 0.3 1.3 0.1 1.4 0.4 1.3-1.1 1.3 0.4 1.4-0.3 1.3 0.4 1.4-0.5 1.3-1.1 1.4 1.7 1.3-0.7 1.3-0.3 1.4-0.2 1.3 0.1 1.4-0.1 1.3 0.5 1.3 0.1 1.4-0.1 1.3 0.1 1.4-0.5 1.3 0.5 1.3-0.3 1.4 0.2 1.3 0 1.4-0.4 1.3 0.6 1.4-0.2 1.3-0.5 1.3 0.8 1.4-0.1 1.3-1.5 1.4-0.5 1.3 0.7 1.3 0.6 1.4 0.2 1.3-0.2 1.4-0.4 1.3 0.4 1.3-0.2 1.4-0.6 1.3 0.3 1.4 0.3 1.3-0.8 1.4-0.1 1.3 0 1.3 1 1.4-0.3 1.3-0.1 1.4-0.5 1.3 0.1 1.3 0.5 1.4-0.6 1.3 0.5 1.4-0.6 1.3-0.1 1.3 0.3 1.4 0.1 1.3 0.2 1.4-1 1.3 0.6 1.4-1.2 1.3-0.6 1.3-1 1.4 0.7 1.3-0.8 1.4-2.7 1.3-1.9 1.3-3.1 1.4-4.6 1.3-4.6 1.4-6.5 1.3-8.2 1.3-9.4 1.4-9.4 1.3-10.3 1.4-11.1 1.3-8.8 1.4-7.4 1.3-6.6 1.3-0.8 1.4 0.8 1.3 0 1.4 3.6 1.3 3.6 1.3 6 1.4 6.9 1.3 7.8 1.4 9 1.3 11.1 1.3 7.8 1.4 9 1.3 8.4 1.4 5.9 1.3 5 1.4 2.9 1.3 3.4 1.3 1.7 1.4 1.2 1.3 1.9 1.4 0.8 1.3-0.4 1.3 0.3 1.4 0.7 1.3 0.3 1.4-0.7 1.3 1.1 1.3 0 1.4-0.4 1.3-0.4 1.4 0.8 1.3 0.2 1.4 0.4 1.3-0.9 1.3 0.9 1.4-0.7 1.3 0.3 1.4-0.2 1.3 0.2 1.3 0.6 1.4-0.9 1.3 0.7 1.4-0.4 1.3 0 1.3-0.2 1.4 0.3 1.3-0.8 1.4 0.8 1.3 0.6 1.4-0.1 1.3-1.1 1.3 0.2 1.4 0.5 1.3 1 1.4-0.9 1.3 0.1 1.3-0.1 1.4 0.3 1.3-0.5 1.4 0.5 1.3 0.2 1.3 0.2 1.4-0.8 1.3 0.8 1.4 0.6 1.3-0.5 1.4-0.2 1.3-1.3 1.3 1.7 1.4 0.4 1.3-0.3 1.4-0.4 1.3 0.3 1.3 0.9 1.4-1.7 1.3 0.1 1.4 0.7 1.3-0.4 1.4-1 1.3 1 1.3 0.1 1.4-0.5 1.3 0.6 1.4-0.1 1.3-0.8 1.3 1.1 1.4 0.9 1.3-0.3 1.4-1.3 1.3-0.1 1.3 0.7 1.4 0.1 1.3-0.7 1.4 0.3 1.3 1 1.4-0.4 1.3 0.3 1.3-0.4 1.4 0.4 1.3-0.6 1.4-0.1 1.3-0.2 1.3-0.4 1.4 0.7 1.3-0.3 1.4 0.4 1.3 0.3 1.3 0 1.4-0.1 1.3-0.9 1.4-1 1.3-1.8 1.4-4.9 1.3-7 1.3-11 1.4-11.4 1.3-11.4 1.4-11.1 1.3-5.6 1.3 0.8 1.4 1.4 1.3 5.1 1.4 5.2 1.3 6.3 1.3 6.5 1.4 8.5 1.3 5.4 1.4 6.3 1.3 6.1 1.4 3.4 1.3 4.1 1.3 2.3 1.4 1.7 1.3 0.9 1.4 1.1 1.3 1 1.3-0.1 1.4 0.9 1.3 0.1 1.4 0.2 1.3-0.1 1.3 0.2 1.4 0 1.3 0.2 1.4-0.2 1.3 0 1.4-0.6 1.3-0.4 1.3 0.9 1.4 0.5 1.3-0.8 1.4-0.3 1.3 0.6 1.3 0.6 1.4 0.3 1.3-0.5 1.4-0.4 1.3 0.6" fill="#fff" stroke="#909090" stroke-dasharray="0 410.3 666.4 9999"/>
<path d="M415.2 299.9L39.6 299.9L39.6 265.5l1.4 0.1 1.3-1.3 1.3-0.2 1.4-0.1 1.3-0.6 1.4 0.1 1.3-0.1 1.4 0.2 1.3-0.7 1.3-0.4 1.4 0.2 1.3 0 1.4-0.3 1.3-0.6 1.3-0.7 1.4-0.3 1.3-0.7 1.4 0.4 1.3-0.2 1.3 0.5 1.4-0.9 1.3 0 1.4-0.1 1.3-1.8 1.4 0.2 1.3-0.1 1.3-0.3 1.4-1 1.3 0.3 1.4-0.5 1.3-0.6 1.3-0.1 1.4-0.5 1.3 1.2 1.4-0.7 1.3-0.5 1.3 0.9 1.4 0.2 1.3-0.5 1.4-0.5 1.3 0.2 1.4 0.3 1.3-1 1.3 1.6 1.4 0.1 1.3-0.6 1.4 0.5 1.3-0.7 1.3-0.5 1.4 0.8 1.3-0.1 1.4-0.8 1.3-0.3 1.3 0.2 1.4 1 1.3-0.6 1.4 1.3 1.3-1.6 1.4 0.4 1.3-0.1 1.3-0.3 1.4 0.4 1.3-0.8 1.4 0.2 1.3-0.6 1.3-0.5 1.4 0.9 1.3-0.5 1.4-0.1 1.3 0.8 1.3-0.3 1.4 0.2 1.3 0.6 1.4-0.8 1.3 0 1.4-0.8 1.3 0.9 1.3-0.1 1.4-0.9 1.3 0.7 1.4-0.2 1.3-0.3 1.3 0.2 1.4 0.9 1.3-1.4 1.4 0 1.3 0.2 1.3-0.2 1.4-0.8 1.3 1.1 1.4 0.3 1.3 0.2 1.4-1.1 1.3-0.4 1.3 0.8 1.4-0.8 1.3 0.4 1.4-0.2 1.3 0.1 1.3-0.3 1.4 0.4 1.3-0.8 1.4 1.3 1.3-0.9 1.3-1.1 1.4-0.7 1.3-0.4 1.4-1.2 1.3-1.7 1.4-1.2 1.3-3.3 1.3-5.1 1.4-4.7 1.3-6.9 1.4-7.7 1.3-9.8 1.3-8.9 1.4-11.3 1.3-9.6 1.4-10.4 1.3-6.8 1.3-5.4 1.4-1.1 1.3-0.5 1.4 0.9 1.3 2.9 1.4 4.7 1.3 6.5 1.3 7.3 1.4 8.4 1.3 9.6 1.4 9.6 1.3 8 1.3 9.3 1.4 8 1.3 4.8 1.4 4.9 1.3 4.2 1.3 2.7 1.4 1.5 1.3 1.6 1.4 1.6 1.3 0.2 1.4-0.5 1.3-0.2 1.3 0.4 1.4 0.8 1.3-0.3 1.4 0.1 1.3 0.8 1.3-0.3 1.4 0 1.3 0.4 1.4 0.6 1.3-0.4 1.3 0.2 1.4-0.2 1.3 0.6 1.4-1.2 1.3 0 1.4 0.4 1.3 1.3 1.3-0.2 1.4-1.2 1.3 0.3 1.4 0.5 1.3-0.1 1.3 0.3 1.4-0.6 1.3-0.5 1.4 1.1 1.3 0.3 1.3-1.3 1.4-0.2 1.3 0.7 1.4-0.5 1.3 1 1.4-0.6 1.3 0.8 1.3-0.4 1.4 0.2 1.3 0.3 1.4-0.4 1.3-0.3 1.3 0.8 1.4-0.9 1.3 1.2 1.4-0.9 1.3 0.1 1.3 0.4 1.4 0.1 1.3 0 1.4-0.9 1.3 0.2 1.4 0.7 1.3 0 1.3-0.1 1.4 0.6 1.3-0.6 1.4 0.5 1.3 0.1 1.3-0.3 1.4-0.3 1.3 0.5 1.4-0.1 1.3 0.1 1.3-0.7 1.4 0.7 1.3 0.5 1.4-0.8 1.3 0.2 1.4-0.1 1.3 0.4 1.3-1.2 1.4 1.6 1.3-0.3 1.4-0.4 1.3 0.3 1.3 0.4 1.4-0.3 1.3 0.2 1.4 0.2 1.3-0.4 1.3 0.3 1.4 0.4 1.3-0.5 1.4-0.5 1.3 0.7 1.4 0.6 1.3-1.1 1.3 0.2 1.4-0.3 1.3-0.7 1.4-2.5 1.3-3.5 1.3-5.3 1.4-9.8 1.3-12.4 1.4-11.9 1.3-10.8 1.4-5.3 1.3-1.5 1.3 3.1 1.4 4.5 1.3 4.6 1.4 6.8 1.3 7.7 1.3 6.8 1.4 6.4 1.3 6 1.4 4.1 1.3 4.3 1.3 4.2 1.4 1.3 1.3 2.1 1.4 0.9 1.3 1.2 1.4 0.2 1.3 0.4 1.3 0.5 1.4-0.3 1.3-0.9 1.4 0.6 1.3 1 1.3-0.1 1.4-0.6 1.3-0.7 1.4 0.5 1.3 1.4 1.3-0.3 1.4-0.1 1.3-1.2 1.4 0.1 1.3 0.4 1.4-0.2 1.3 0.7 1.3-0.4 1.4 0.7 1.3-0.2 1.4-0.1" fill="#fff" stroke="#6ec86e" stroke-dasharray="0 409.9 665.1 9999"/>
<path d="M413.7 301.7L38.2 301.7L38.2 266.6l1.3 0.6 1.4-1 1.3 0.3 1.3-0.3 1.4 0.4 1.3-1.1 1.4-0.3 1.3-0.3 1.3 0.2 1.4-0.5 1.3-0.5 1.4 0.3 1.3 0.4 1.4-0.5 1.3-0.4 1.3-1.2 1.4-0.1 1.3-0.2 1.4-1 1.3 1.1 1.3-1.5 1.4 0.4 1.3-0.9 1.4 0.3 1.3 0.1 1.3-0.5 1.4-1.1 1.3-0.4 1.4 0.1 1.3-0.9 1.4-0.4 1.3 0.2 1.3-1.2 1.4 1.4 1.3 0.7 1.4 0.3 1.3-0.5 1.3-0.7 1.4 0.8 1.3 0.4 1.4-1.2 1.3-0.2 1.3 0.2 1.4-0.2 1.3-0.8 1.4-0.2 1.3 0.4 1.4 0.4 1.3 0.4 1.3-0.4 1.4 0.3 1.3 0.6 1.4 0.6 1.3-1 1.3-0.9 1.4 0.7 1.3-0.4 1.4 0.1 1.3 0.2 1.3-0.2 1.4-1 1.3 0 1.4 0.6 1.3 0.3 1.4 0.5 1.3-0.7 1.3-0.6 1.4-0.2 1.3-0.2 1.4-0.3 1.3-0.1 1.3 0.4 1.4 0.2 1.3-0.4 1.4 0.2 1.3-0.1 1.3-0.1 1.4-0.1 1.3 0.2 1.4-0.2 1.3-1.2 1.4 1.1 1.3 0 1.3-0.4 1.4 0.2 1.3-0.3 1.4 0.2 1.3-0.4 1.3 0.7 1.4-0.2 1.3-0.9 1.4 0.3 1.3 0.6 1.3-0.1 1.4-0.3 1.3-0.6 1.4 0.1 1.3 0.3 1.4 0 1.3-0.2 1.3-0.5 1.4 0.1 1.3-0.4 1.4-0.5 1.3-0.4 1.3-0.4 1.4-0.9 1.3-0.2 1.4-1.4 1.3-2.2 1.3-3.8 1.4-4.2 1.3-4.9 1.4-7 1.3-8 1.4-9.3 1.3-10.7 1.3-9.4 1.4-11.5 1.3-9.5 1.4-6.4 1.3-5.4 1.3-0.5 1.4 0.3 1.3 1.6 1.4 2.7 1.3 4.2 1.3 6.3 1.4 8.1 1.3 8.4 1.4 8.6 1.3 9.2 1.4 9.1 1.3 8.5 1.3 7.5 1.4 6.1 1.3 4.2 1.4 4.3 1.3 2.4 1.3 2 1.4 0.2 1.3 1.4 1.4 0.7 1.3-0.8 1.3 1.4 1.4 0.1 1.3 0.3 1.4-0.1 1.3 0.5 1.4-0.6 1.3 0 1.3 0.7 1.4 0 1.3-0.7 1.4 1.1 1.3 0.2 1.3-0.1 1.4-0.7 1.3 0.9 1.4-0.2 1.3 0.1 1.3-0.4 1.4-0.1 1.3-0.1 1.4 0.1 1.3 0.7 1.4-0.7 1.3 0.1 1.3 0.4 1.4-0.2 1.3-0.8 1.4 0.6 1.3 0.3 1.3 0.9 1.4-0.4 1.3-0.8 1.4 0 1.3 0.3 1.3 0.3 1.4-0.3 1.3 0.5 1.4-0.8 1.3 0.8 1.4 0.4 1.3-1.7 1.3 1.1 1.4 0.3 1.3 0.1 1.4-0.1 1.3-0.1 1.3 0.2 1.4-0.1 1.3 0.1 1.4 0.6 1.3-0.1 1.3-0.2 1.4-0.7 1.3 0.1 1.4 0.7 1.3-0.8 1.4 0.8 1.3-0.9 1.3 1.5 1.4-0.3 1.3-0.8 1.4-0.1 1.3-0.6 1.3 1 1.4 0.6 1.3-0.2 1.4-0.3 1.3 1 1.3-0.6 1.4-0.1 1.3-0.3 1.4 0.5 1.3 0.9 1.4-0.9 1.3-1 1.3 0.9 1.4 0.8 1.3-0.3 1.4-0.7 1.3 0.3 1.3-0.7 1.4 0.9 1.3-0.6 1.4 0.1 1.3 0 1.3 0.1 1.4 1 1.3-0.3 1.4-1.4 1.3-1.3 1.4-2.4 1.3-6.3 1.3-8.8 1.4-11.4 1.3-11.6 1.4-11.5 1.3-6.2 1.3-0.4 1.4 2.1 1.3 4.9 1.4 5 1.3 6.6 1.3 6.4 1.4 7.1 1.3 6.7 1.4 5.5 1.3 4.2 1.4 4.1 1.3 2.9 1.3 1.1 1.4 2.7 1.3 0.7 1.4 0.1 1.3 0.9 1.3 0.6 1.4 0 1.3 0.1 1.4 0.1 1.3 0.2 1.4-0.8 1.3 0.3 1.3 0.5 1.4-0.1 1.3-0.5 1.4 0.4 1.3-0.1 1.3 0.3 1.4-0.7 1.3 0 1.4 0.2 1.3 0.8 1.3 1.3 1.4-0.5 1.3 0 1.4-0.4 1.3 0.7" fill="#fff" stroke="#9682e6" stroke-dasharray="0 410.6 656.0 9999"/>
<path d="M412.3 303.6L36.7 303.6L36.7 268.7l1.4-1 1.3 0.3 1.3 0.1 1.4-0.1 1.3-0.6 1.4 0.4 1.3-1.5 1.4 0.3 1.3-0.3 1.3-0.1 1.4-0.3 1.3 0.5 1.4-0.9 1.3-0.6 1.3 1.2 1.4-1.3 1.3-0.4 1.4 0.2 1.3-1 1.3-0.1 1.4 0.2 1.3-1.1 1.4 0 1.3 0.5 1.4 0.1 1.3-1.2 1.3-0.5 1.4 0 1.3-1.7 1.4-0.3 1.3-0.5 1.3-0.6 1.4-0.2 1.3 1.4 1.4 0.8 1.3 0 1.4 0.1 1.3-1.8 1.3 1.2 1.4 0.7 1.3-1.1 1.4-0.3 1.3 0.7 1.3-0.1 1.4 0.2 1.3-0.2 1.4 0.4 1.3-0.2 1.3-0.4 1.4-0.3 1.3 0.4 1.4-0.6 1.3 0.7 1.4 0.1 1.3-0.3 1.3-1.1 1.4 0.7 1.3 0 1.4 0.1 1.3-1.2 1.3 0.3 1.4 0.3 1.3 0.6 1.4-0.9 1.3 0.6 1.3-0.3 1.4 0.7 1.3-0.9 1.4-1 1.3 0.5 1.4 0.3 1.3 0.5 1.3-0.4 1.4-0.6 1.3-0.5 1.4 0.5 1.3 0 1.3 0.6 1.4-0.3 1.3-1.3 1.4-0.5 1.3 0.8 1.3 0.3 1.4-0.6 1.3 0.1 1.4 0.8 1.3-0.3 1.4-1.1 1.3 0.8 1.3 0 1.4-0.2 1.3 0.3 1.4 0 1.3 0.8 1.3-1.1 1.4-0.6 1.3 0 1.4 0.6 1.3 0.4 1.3-0.7 1.4-0.2 1.3-0.3 1.4-0.6 1.3 0 1.4-0.9 1.3 0.4 1.3-0.8 1.4-1.2 1.3-2 1.4-1.9 1.3-3 1.3-3.6 1.4-5.5 1.3-6.3 1.4-7.6 1.3-9.2 1.3-11.3 1.4-10.5 1.3-10.7 1.4-8.4 1.3-8.2 1.4-3.6 1.3-1.8 1.3 1.3 1.4 1.2 1.3 3.5 1.4 5.1 1.3 6.3 1.3 7.5 1.4 8.8 1.3 9.2 1.4 8.8 1.3 7.9 1.3 7.2 1.4 7.5 1.3 4.5 1.4 6 1.3 3.4 1.4 1.6 1.3 2.5 1.3 0.7 1.4 1.6 1.3-0.4 1.4 0.3 1.3 0.4 1.3 0.6 1.4-0.3 1.3 1.6 1.4-0.9 1.3 1 1.3-0.8 1.4 0 1.3-0.1 1.4 0.1 1.3 0.7 1.4 0.4 1.3-0.5 1.3-0.4 1.4 0.5 1.3-0.5 1.4-0.7 1.3 1.2 1.3-0.7 1.4 0.6 1.3 0.4 1.4-0.2 1.3 0.2 1.3 0.9 1.4-0.2 1.3 0.3 1.4-0.6 1.3 0 1.4 0.7 1.3-1 1.3 0.4 1.4 0 1.3 0.1 1.4 0.1 1.3-0.1 1.3 0.2 1.4-0.7 1.3 0.6 1.4-0.6 1.3 1 1.3 0 1.4-0.6 1.3-0.1 1.4 0.2 1.3 0.2 1.4-0.9 1.3 0.3 1.3 0.9 1.4-0.5 1.3-0.6 1.4-0.4 1.3 0.8 1.3-0.5 1.4 0.9 1.3 0 1.4 0.8 1.3-1.3 1.3 0.8 1.4-0.8 1.3 0.1 1.4 0.4 1.3-0.1 1.4 1.2 1.3-0.8 1.3-0.3 1.4 1.4 1.3-1.3 1.4 0.1 1.3 0.1 1.3-0.2 1.4 0.7 1.3 0.3 1.4-1.1 1.3 0.3 1.3 0.1 1.4-0.5 1.3 0.1 1.4 0.5 1.3-0.2 1.4 0.6 1.3 0.3 1.3-0.2 1.4 0 1.3-0.5 1.4 0.1 1.3 0.5 1.3 0.1 1.4-0.4 1.3-0.1 1.4-1.5 1.3-2.9 1.3-4.1 1.4-8.2 1.3-11.4 1.4-11.4 1.3-11.4 1.4-6.3 1.3-0.8 1.3 3.1 1.4 3.8 1.3 5.8 1.4 5.8 1.3 7.1 1.3 7.4 1.4 5.5 1.3 5.4 1.4 5 1.3 3.2 1.3 2.2 1.4 2.4 1.3-0.2 1.4 1.3 1.3 0.4 1.4 1.3 1.3 0.2 1.3-0.8 1.4 0.3 1.3 0.5 1.4-0.2 1.3 0 1.3 0.4 1.4 0.4 1.3-0.8 1.4-0.6 1.3 0.4 1.3 0.1 1.4 0 1.3 0.6 1.4 0.1 1.3 0.1 1.4-0.1 1.3-0.1 1.3-0.5 1.4 0.3 1.3-0.1 1.4 0.6" fill="#fff" stroke="#46c8c8" stroke-dasharray="0 410.4 652.8 9999"/>
<path d="M410.8 305.4L35.3 305.4L35.3 270.5l1.3 0.3 1.4-0.5 1.3-0.1 1.3-0.4 1.4-0.5 1.3-0.2 1.4 0 1.3-0.1 1.3-1.5 1.4-0.1 1.3-0.4 1.4 0.2 1.3-0.2 1.4 0.1 1.3-0.4 1.3 0.3 1.4-1 1.3-0.4 1.4-0.3 1.3 0 1.3-0.1 1.4-0.5 1.3-0.5 1.4-0.4 1.3 0.3 1.3-0.6 1.4-0.6 1.3-0.2 1.4-0.2 1.3 0.3 1.4-0.6 1.3-1.1 1.3 0.2 1.4-0.5 1.3 0 1.4 0.2 1.3 1.2 1.3-0.4 1.4-0.7 1.3 0.3 1.4 0.1 1.3-0.1 1.3 0.8 1.4-1.4 1.3 0.5 1.4 0.3 1.3-0.1 1.4-1.1 1.3 0.8 1.3-0.6 1.4 0.2 1.3-0.4 1.4 1 1.3 1 1.3-1 1.4-0.7 1.3-0.7 1.4 1.1 1.3 0.1 1.3-1 1.4 0.6 1.3-1.2 1.4 0.2 1.3 0.5 1.4-0.6 1.3 0.8 1.3 0.3 1.4-0.7 1.3 0.1 1.4 0.4 1.3-0.4 1.3 0.2 1.4-0.1 1.3-1 1.4 1.2 1.3-0.4 1.4-0.6 1.3 0.2 1.3-0.3 1.4-0.1 1.3-0.6 1.4 0.1 1.3 0 1.3 0.5 1.4-0.3 1.3-0.1 1.4-0.2 1.3 0.4 1.3-1.6 1.4 0.6 1.3 0.8 1.4-0.6 1.3 0.4 1.4 0.3 1.3-0.4 1.3-1.1 1.4 0.4 1.3-0.4 1.4 0.5 1.3 0.2 1.3-0.7 1.4 0.1 1.3-0.4 1.4 0.6 1.3-1.1 1.3-0.5 1.4-0.5 1.3-0.8 1.4-1.6 1.3-2.3 1.4-2.8 1.3-3.7 1.3-5 1.4-7 1.3-8 1.4-9 1.3-10 1.3-11.2 1.4-10.9 1.3-9.2 1.4-7.3 1.3-3.8 1.3-1.1 1.4 0.9 1.3 3.1 1.4 3 1.3 4.6 1.4 7.3 1.3 6.9 1.3 8.2 1.4 9.3 1.3 8 1.4 8.8 1.3 7.8 1.3 6.5 1.4 4.8 1.3 4.2 1.4 3.4 1.3 2.7 1.3 0.5 1.4 2.1 1.3 0.7 1.4 0.9 1.3-0.6 1.4 1.1 1.3-0.5 1.3 0.7 1.4-0.2 1.3-0.7 1.4 1.2 1.3 0.4 1.3 0.3 1.4-0.6 1.3-0.1 1.4 0.8 1.3-0.2 1.3 0.6 1.4 0.3 1.3-0.7 1.4 0 1.3-0.2 1.4-0.4 1.3 0.9 1.3 0.4 1.4 0.2 1.3-0.3 1.4 0.7 1.3-0.9 1.3 0.1 1.4-0.1 1.3 0.1 1.4 0 1.3-0.1 1.3 0.2 1.4 0.3 1.3 0 1.4-0.5 1.3 0.6 1.4-0.4 1.3 0.5 1.3-0.2 1.4-0.8 1.3 0.4 1.4 0.9 1.3-0.6 1.3-0.1 1.4 0.2 1.3 0.3 1.4 0.2 1.3-0.3 1.3 0.8 1.4-0.9 1.3 0 1.4 0.1 1.3 0.2 1.4 0.7 1.3 0.3 1.3-1.1 1.4 0 1.3 0.3 1.4-0.2 1.3 0.4 1.3-0.7 1.4 0.7 1.3-1.1 1.4 1.1 1.3 0.2 1.3 0.8 1.4-1.4 1.3 0.6 1.4 0.1 1.3-0.7 1.4 0.5 1.3-0.4 1.3-0.2 1.4-0.1 1.3 0.6 1.4-0.3 1.3-0.4 1.3 1 1.4-0.7 1.3 1 1.4-0.1 1.3-0.5 1.3-0.3 1.4 0.3 1.3-0.1 1.4 0.4 1.3 0.2 1.4 1.1 1.3-1.8 1.3 0.5 1.4 0.3 1.3-0.5 1.4-1.8 1.3-5 1.3-6.4 1.4-11.9 1.3-11.4 1.4-11 1.3-6.9 1.3-1.3 1.4 2.4 1.3 3.7 1.4 6.2 1.3 6.3 1.4 7.5 1.3 6.2 1.3 6.4 1.4 4.7 1.3 4 1.4 4 1.3 2 1.3 0.5 1.4 2.2 1.3 0.5 1.4 0.6 1.3-0.2 1.3-0.8 1.4 0.6 1.3-0.8 1.4 0.5 1.3 0.5 1.4 0.8 1.3-0.4 1.3 0.1 1.4 0.2 1.3-0.6 1.4 0.8 1.3-0.3 1.3-0.5 1.4 0.2 1.3 0.3 1.4 0.5 1.3 0.4 1.3-0.7 1.4 0.1 1.3 1.1 1.4 0.7 1.3-0.6" fill="#fff" stroke="#e678be" stroke-dasharray="0 410.5 645.4 9999"/>
<path d="M409.4 307.3L33.8 307.3L33.8 272.6l1.4-0.6 1.3 0.5 1.4-0.1 1.3-0.4 1.3-1.1 1.4 0.2 1.3-0.8 1.4 0 1.3 0.1 1.3-1 1.4 1.4 1.3-0.8 1.4-1.2 1.3-0.2 1.3-0.1 1.4-0.3 1.3-0.7 1.4 0.2 1.3-0.8 1.4 0.1 1.3 0.8 1.3-1 1.4-0.4 1.3 0.5 1.4-0.7 1.3-0.3 1.3-0.9 1.4 0.2 1.3-1 1.4 0 1.3-0.4 1.3 0.4 1.4-0.2 1.3-0.4 1.4-0.4 1.3 0.3 1.4 0 1.3 0.8 1.3-0.9 1.4-0.8 1.3 1.1 1.4 0.2 1.3-0.8 1.3 0.5 1.4-0.8 1.3 0.5 1.4-0.1 1.3 0.1 1.3 0 1.4-0.5 1.3 0.5 1.4-0.6 1.3 0.2 1.4 0.4 1.3-1 1.3 0.4 1.4 0.6 1.3-0.2 1.4-1 1.3-0.1 1.3 0.5 1.4-0.6 1.3 0.2 1.4-0.6 1.3 0.6 1.3-0.9 1.4 0.7 1.3 0.1 1.4-0.6 1.3-0.6 1.4 0 1.3-0.2 1.3 1.4 1.4-1.5 1.3 0.1 1.4 0.6 1.3-0.1 1.3 0.4 1.4 0 1.3-0.4 1.4-0.4 1.3-0.3 1.3 0.1 1.4 0.4 1.3-0.2 1.4-0.1 1.3-1.1 1.4 0.3 1.3 0 1.3 0 1.4-0.2 1.3 0.7 1.4 0.2 1.3 0.2 1.3-1.1 1.4 0 1.3 0 1.4-0.2 1.3-0.4 1.4 0.5 1.3-1.3 1.3 0.3 1.4-0.7 1.3 0.7 1.4-1.1 1.3-0.4 1.3-0.2 1.4-1.3 1.3-0.8 1.4-2.1 1.3-1.8 1.3-5.1 1.4-4.9 1.3-5.7 1.4-8 1.3-9.1 1.4-10.6 1.3-10.4 1.3-10.8 1.4-9.3 1.3-8.3 1.4-3.4 1.3-0.5 1.3 1.3 1.4 1.9 1.3 4.5 1.4 4.5 1.3 7.5 1.3 7.4 1.4 7.4 1.3 9.3 1.4 7.6 1.3 9 1.4 6.3 1.3 6.7 1.3 5 1.4 3.3 1.3 2.9 1.4 3.2 1.3 1.3 1.3 1.7 1.4 0.4 1.3 1.6 1.4-0.5 1.3 0.8 1.3-0.3 1.4 0.1 1.3 0.3 1.4-0.3 1.3 0.2 1.4 1.1 1.3-0.6 1.3-0.3 1.4 0.7 1.3-0.4 1.4 0.5 1.3 0.6 1.3 0.2 1.4 0.3 1.3-0.2 1.4-0.2 1.3 0 1.3-0.1 1.4 0 1.3 1 1.4-0.9 1.3 0.7 1.4-0.6 1.3 0.4 1.3-1.6 1.4 1.2 1.3-0.1 1.4 0.9 1.3 0 1.3-0.9 1.4 0.3 1.3 0.5 1.4-0.3 1.3 0 1.3 0.3 1.4-0.8 1.3 1.2 1.4-0.6 1.3-1.4 1.4 0.8 1.3 0.6 1.3 1 1.4-1 1.3-0.6 1.4 1.2 1.3-0.3 1.3-0.2 1.4 0.4 1.3-0.5 1.4 0.1 1.3 0.5 1.3-0.2 1.4 0.2 1.3-0.5 1.4 0.8 1.3-1.3 1.4 0 1.3 0.9 1.3-0.3 1.4 0.3 1.3-0.1 1.4 0 1.3-0.4 1.3 0.7 1.4 0.5 1.3-0.8 1.4 1.1 1.3-0.1 1.3-1 1.4 0.7 1.3-0.8 1.4 0.4 1.3-0.3 1.4 0.2 1.3-0.5 1.3 0.7 1.4-0.3 1.3 0 1.4-0.3 1.3 1 1.3 0.8 1.4-0.9 1.3 0 1.4-0.4 1.3 0.3 1.3-0.1 1.4-0.3 1.3 0.1 1.4-0.3 1.3-1 1.4-3.5 1.3-5.9 1.3-9.3 1.4-12.5 1.3-12.5 1.4-7.8 1.3 0.2 1.3 2.5 1.4 4.6 1.3 5.4 1.4 7.5 1.3 5.4 1.3 6.6 1.4 4.9 1.3 4.7 1.4 4 1.3 3.1 1.4 2.1 1.3-0.2 1.3 2.7 1.4 0.9 1.3 0.3 1.4-0.1 1.3-0.3 1.3 0.4 1.4 0.3 1.3-0.9 1.4 0.7 1.3 0 1.3-0.2 1.4 0.8 1.3-1 1.4-0.2 1.3 0.4 1.4-0.1 1.3 0.8 1.3-1.2 1.4 0.2 1.3 0.8 1.4 0.3 1.3-0.7 1.3 1 1.4-1.2 1.3 1.2 1.4-0.6" fill="#fff" stroke="#b4b45a" stroke-dasharray="0 410.2 641.6 9999"/>
<path d="M407.9 309.1L32.4 309.1L32.4 274.6l1.3-0.4 1.4-0.5 1.3-0.5 1.3-0.5 1.4-0.6 1.3 1 1.4-0.7 1.3-0.2 1.4 0 1.3 0 1.3 0.2 1.4-1.2 1.3 0 1.4-1.3 1.3 0.2 1.3-0.3 1.4-0.2 1.3 0.6 1.4-0.7 1.3-0.3 1.3-0.3 1.4-0.4 1.3-0.3 1.4-0.4 1.3-0.3 1.4-0.2 1.3-0.4 1.3-1.2 1.4 0.4 1.3-0.4 1.4-0.2 1.3-0.7 1.3 0.2 1.4 0.9 1.3-0.6 1.4 0.5 1.3-0.6 1.3-0.3 1.4-0.2 1.3 0.4 1.4 0 1.3-0.3 1.4 1.2 1.3-0.7 1.3-0.5 1.4 1 1.3-0.3 1.4-0.9 1.3-0.3 1.3 0.4 1.4 0.3 1.3-0.9 1.4 1 1.3-0.7 1.3 0.5 1.4-0.5 1.3 0.2 1.4 0 1.3 0.2 1.4-0.9 1.3 1 1.3-1.5 1.4 0.6 1.3 0.1 1.4-0.3 1.3 0.2 1.3-1.2 1.4 0.6 1.3 0.5 1.4-0.6 1.3-0.6 1.3 0.5 1.4-0.1 1.3-0.5 1.4 0.9 1.3-0.9 1.4-0.4 1.3 0.4 1.3-0.4 1.4 0.2 1.3 0.1 1.4-0.4 1.3 0.4 1.3-0.2 1.4 0.3 1.3-1.1 1.4 0.4 1.3 0.1 1.3-0.1 1.4-1.2 1.3 0.4 1.4 0.7 1.3 0 1.4-0.3 1.3 0 1.3 0.4 1.4-0.9 1.3-0.3 1.4 0.9 1.3-0.5 1.3-0.6 1.4-0.4 1.3 0.8 1.4-1.1 1.3-0.6 1.3 0.4 1.4-1.9 1.3-0.3 1.4-0.9 1.3-2.3 1.4-2.8 1.3-3.2 1.3-5.6 1.4-5.8 1.3-7.4 1.4-9.9 1.3-9.3 1.3-11.6 1.4-10.8 1.3-9.7 1.4-6.7 1.3-4 1.3 0.3 1.4 1.8 1.3 2.5 1.4 2.9 1.3 6.7 1.4 5.9 1.3 7.9 1.3 8.2 1.4 8.4 1.3 7.8 1.4 8.2 1.3 7.1 1.3 5 1.4 5 1.3 4.2 1.4 3 1.3 1.7 1.4 1.4 1.3 1.1 1.3 0.4 1.4 0.8 1.3 0.1 1.4 0.2 1.3-0.7 1.3 0.6 1.4 1.3 1.3 0.5 1.4 0 1.3-0.1 1.3 0 1.4 0.5 1.3-0.3 1.4 0.3 1.3 0.8 1.4-1.3 1.3 0.4 1.3 0.2 1.4-0.7 1.3 0.4 1.4 1.2 1.3-0.1 1.3-0.2 1.4 0.6 1.3-0.9 1.4 1.3 1.3-0.8 1.3-0.2 1.4 0.8 1.3-0.2 1.4-0.1 1.3-0.3 1.4-0.8 1.3-0.1 1.3 1.1 1.4 0.5 1.3-0.7 1.4 0.3 1.3-0.8 1.3 0.1 1.4 0.8 1.3 0.4 1.4 0.1 1.3 0.2 1.3-0.9 1.4 0.2 1.3 0.5 1.4-0.8 1.3 0.3 1.4 0.2 1.3 0 1.3 0.5 1.4-0.2 1.3-0.5 1.4-0.9 1.3 1.5 1.3 0.2 1.4-0.2 1.3-0.1 1.4 0.1 1.3 0.4 1.3-0.8 1.4 0.2 1.3-0.4 1.4 0.4 1.3-0.2 1.4-0.1 1.3-0.4 1.3 0.9 1.4 0.5 1.3-1.7 1.4 1.9 1.3-0.4 1.3-0.3 1.4 0.5 1.3-0.2 1.4 0.1 1.3 0.8 1.3-0.5 1.4 0 1.3-0.2 1.4 0 1.3-0.3 1.4 0.4 1.3-0.2 1.3 0.9 1.4-0.5 1.3 0.5 1.4 0.3 1.3-0.2 1.3-0.7 1.4 0.9 1.3-1.8 1.4 0.3 1.3-4.3 1.3-4.6 1.4-8.5 1.3-12.4 1.4-12.8 1.3-7.3 1.4 0.2 1.3 1.5 1.3 5.3 1.4 5.9 1.3 6.5 1.4 5.9 1.3 6 1.3 5.3 1.4 5.9 1.3 2.7 1.4 2.2 1.3 1.6 1.3 1.4 1.4-0.6 1.3 1.6 1.4-0.3 1.3-0.7 1.4 1.7 1.3-0.7 1.3 0.5 1.4-0.4 1.3 0.2 1.4 1 1.3-0.5 1.3-0.1 1.4-0.8 1.3 1.1 1.4-0.6 1.3 0.5 1.3-0.6 1.4 0.7 1.3 0.1 1.4-0.8 1.3 0.8 1.4-0.4 1.3 1.1 1.3-0.3 1.4 0 1.3 1.4" fill="#fff" stroke="#64a0e6" stroke-dasharray="0 410.1 636.0 9999"/>
<path d="M406.5 311L30.9 311L30.9 276.1l1.4-0.3 1.3-0.8 1.4 0.7 1.3-0.8 1.3 0.8 1.4-0.5 1.3-0.5 1.4-0.9 1.3-0.3 1.3-0.2 1.4 0 1.3-0.5 1.4-0.3 1.3 0 1.4-0.3 1.3-0.4 1.3 0.4 1.4-0.2 1.3-0.9 1.4 0.9 1.3-1 1.3 0.2 1.4-0.1 1.3-1.8 1.4 0.6 1.3-0.1 1.3-0.2 1.4-0.6 1.3-0.5 1.4-1.7 1.3-0.1 1.4 0.7 1.3-1 1.3 0.7 1.4 0.3 1.3 0.3 1.4 0.2 1.3-0.4 1.3-0.6 1.4-0.1 1.3 0.6 1.4 0.1 1.3-0.2 1.3-0.2 1.4-0.2 1.3-0.7 1.4 0.6 1.3 0.3 1.4-1 1.3 0.7 1.3 0.2 1.4 0.6 1.3-1.2 1.4-0.3 1.3-0.6 1.3 0 1.4-0.4 1.3-0.1 1.4 1.2 1.3-0.4 1.3 0 1.4-1 1.3-0.4 1.4 0.2 1.3 1.6 1.4-0.3 1.3-1.3 1.3 0.6 1.4-0.1 1.3-0.6 1.4 0.1 1.3 0.7 1.3-0.1 1.4-0.1 1.3-0.3 1.4-0.2 1.3 0 1.3-0.3 1.4 0.7 1.3-0.7 1.4 0 1.3-0.4 1.4-0.4 1.3 0.1 1.3-0.2 1.4-0.2 1.3 0.8 1.4 0.5 1.3-0.9 1.3-0.3 1.4-0.5 1.3-0.3 1.4 0.9 1.3-0.1 1.3-0.7 1.4 0.2 1.3-0.5 1.4 0.9 1.3-0.6 1.4 0 1.3 0.2 1.3-1.9 1.4 0.8 1.3-0.2 1.4-0.7 1.3-0.3 1.3-0.1 1.4-1.7 1.3-1.3 1.4-0.6 1.3-2.8 1.3-3.8 1.4-4.7 1.3-6.5 1.4-7.9 1.3-9.1 1.4-10.2 1.3-11.4 1.3-11.5 1.4-8.9 1.3-6.7 1.4-3.3 1.3 0.5 1.3 1.4 1.4 3.2 1.3 3.9 1.4 5.5 1.3 7.1 1.3 7.7 1.4 7.4 1.3 8 1.4 8.9 1.3 6.6 1.4 6.8 1.3 5.2 1.3 4.9 1.4 4.1 1.3 2.7 1.4 0.5 1.3 1.2 1.3 0.2 1.4 2.6 1.3 1.2 1.4-0.2 1.3 0.1 1.3 0.7 1.4-0.5 1.3 1 1.4 0.6 1.3 0.2 1.4-0.2 1.3-0.4 1.3 0.1 1.4 0 1.3 1.4 1.4-0.1 1.3-0.6 1.3 0 1.4 0.2 1.3-0.3 1.4 0.6 1.3 0.2 1.4 0 1.3-0.3 1.3-1.1 1.4 1.1 1.3-0.5 1.4 0 1.3 1.9 1.3-1.1 1.4 0 1.3 0 1.4-0.1 1.3 1 1.3-1.4 1.4 1 1.3-0.4 1.4 0.9 1.3-0.1 1.4-0.4 1.3-0.7 1.3 1.1 1.4 0.1 1.3-0.1 1.4-0.4 1.3 0.3 1.3-0.6 1.4 0.5 1.3 0.1 1.4-0.3 1.3-0.3 1.3 0.3 1.4-0.3 1.3-0.1 1.4 1.1 1.3-0.5 1.4-0.2 1.3 0 1.3 0.4 1.4-0.3 1.3-0.1 1.4 0.5 1.3 0 1.3-0.5 1.4 0 1.3 1.1 1.4-0.5 1.3 0.6 1.3-0.2 1.4-0.3 1.3 0 1.4 0.9 1.3-1 1.4 0 1.3-0.1 1.3 0.3 1.4-0.3 1.3 0.5 1.4-0.5 1.3 0.8 1.3 0.1 1.4-0.1 1.3-0.3 1.4 1 1.3 0.4 1.3-1.1 1.4-0.3 1.3 0.7 1.4-0.3 1.3 0.2 1.4 0.2 1.3-0.8 1.3 0.8 1.4-0.9 1.3-0.8 1.4-1.4 1.3-3.5 1.3-9.1 1.4-11.2 1.3-13 1.4-7.3 1.3-0.8 1.3 2.6 1.4 3.8 1.3 5.3 1.4 5.5 1.3 7.4 1.4 6.2 1.3 4.8 1.3 4.1 1.4 3.3 1.3 2.3 1.4 0.7 1.3 1.3 1.3 0.9 1.4 0.3 1.3-0.5 1.4-0.3 1.3 1.2 1.3 0.4 1.4 0.4 1.3-0.5 1.4-0.6 1.3 0.6 1.4-0.2 1.3-0.3 1.3-0.4 1.4-0.1 1.3 0.5 1.4 0.3 1.3 0.3 1.3 0.1 1.4 0.2 1.3 0.8 1.4-0.7 1.3 0.6 1.3-1 1.4 0.1 1.3 0.1 1.4-0.4" fill="#fff" stroke="#a08cd2" stroke-dasharray="0 410.4 624.8 9999"/>
<path d="M405 312.8L29.5 312.8L29.5 277.6l1.3-0.3 1.4 0.1 1.3-0.4 1.4-0.9 1.3-0.2 1.3 0.9 1.4-1.4 1.3-0.1 1.4 1.3 1.3-1.7 1.3-0.6 1.4 0 1.3 0.6 1.4-0.9 1.3-0.1 1.3-1.3 1.4 0.5 1.3 0.2 1.4-0.2 1.3 0.4 1.4-0.8 1.3-1.9 1.3 0.3 1.4 0.1 1.3 0.1 1.4-0.1 1.3-0.2 1.3-1.5 1.4-0.7 1.3 0.9 1.4-1.1 1.3-0.7 1.3 0.7 1.4 0.4 1.3-0.4 1.4 0.1 1.3 0.9 1.4-0.9 1.3 0.6 1.3-0.1 1.4-0.3 1.3 1.1 1.4-1.6 1.3 1.6 1.3-1.6 1.4 0.1 1.3 0.3 1.4 0.3 1.3-0.3 1.3-0.6 1.4-0.1 1.3 0.7 1.4 0.1 1.3-1 1.4 0.6 1.3-0.3 1.3-0.3 1.4-0.8 1.3-0.1 1.4 0.6 1.3-1.5 1.3 0.9 1.4 0.4 1.3-0.9 1.4 1.4 1.3 0 1.3-1.4 1.4 0.3 1.3-0.1 1.4-0.3 1.3 0 1.4 0.4 1.3 0.5 1.3-0.8 1.4-0.2 1.3-0.1 1.4-0.4 1.3 0.4 1.3-0.6 1.4-0.3 1.3 0.6 1.4-1.2 1.3 0.4 1.3 0 1.4 0 1.3-0.7 1.4 0.2 1.3 0.4 1.4 0.3 1.3-0.4 1.3-0.2 1.4-0.3 1.3 0.2 1.4-1.3 1.3 1.5 1.3 0.1 1.4-0.6 1.3-0.6 1.4 0.9 1.3-1 1.3 0.7 1.4-1 1.3-0.5 1.4-0.1 1.3-0.6 1.4-0.2 1.3-0.3 1.3-1.2 1.4-1.3 1.3-1.6 1.4-2.2 1.3-3.6 1.3-4.4 1.4-6.1 1.3-7.8 1.4-9 1.3-10.7 1.3-10.6 1.4-11.2 1.3-9.5 1.4-7.4 1.3-3.4 1.4 0.8 1.3 2 1.3 3.3 1.4 4.4 1.3 6.3 1.4 5.5 1.3 7.3 1.3 8.6 1.4 7.9 1.3 8 1.4 7.5 1.3 7.2 1.3 3.4 1.4 4.3 1.3 3.8 1.4 1.9 1.3 2.3 1.4 2.3 1.3 0.4 1.3 0.7 1.4 1 1.3-0.7 1.4 1.1 1.3 0.3 1.3 0.4 1.4-0.4 1.3 0.5 1.4 0.4 1.3 0.6 1.3-0.5 1.4 0.6 1.3-1 1.4 1.3 1.3 0.3 1.4-0.7 1.3 0.3 1.3 0.3 1.4 0.3 1.3 0.5 1.4-0.4 1.3-0.2 1.3 0.1 1.4 0.3 1.3 0.3 1.4-0.2 1.3-0.4 1.3 0.1 1.4-0.1 1.3 0 1.4 0.2 1.3 0.1 1.4 0.6 1.3-0.8 1.3 0.5 1.4-0.5 1.3 0.9 1.4-0.1 1.3 0.5 1.3-0.4 1.4-0.7 1.3 0.5 1.4-0.3 1.3 0 1.3-0.1 1.4 0.3 1.3 0.3 1.4 0.1 1.3 1 1.4-1.1 1.3 0 1.3-0.1 1.4 0 1.3 0 1.4 0.1 1.3 0 1.3 0.4 1.4-0.1 1.3-0.6 1.4 0.4 1.3 0.2 1.4-0.2 1.3 0 1.3 0.2 1.4 0.4 1.3-0.2 1.4-0.3 1.3 0.3 1.3 0.6 1.4-0.9 1.3 0.7 1.4-0.2 1.3 1.8 1.3-1.3 1.4-0.3 1.3-0.2 1.4-0.6 1.3 0.6 1.4 1.2 1.3-0.6 1.3-0.4 1.4 0.2 1.3 0 1.4-0.4 1.3 0.6 1.3 0.1 1.4-0.8 1.3 0.5 1.4-1.1 1.3 0.6 1.3 1.2 1.4 0.4 1.3 0.1 1.4-1.8 1.3-1 1.4-3.7 1.3-6.7 1.3-11.6 1.4-12.6 1.3-8.3 1.4-1.2 1.3 2.8 1.3 3.7 1.4 6.1 1.3 5.9 1.4 6.1 1.3 5.1 1.3 4.6 1.4 3.9 1.3 3.7 1.4 1 1.3 2.8 1.4 0.1 1.3 0 1.3 1 1.4-0.4 1.3 0.6 1.4 0 1.3 0.7 1.3 0 1.4 0 1.3-0.5 1.4 0.7 1.3-0.5 1.3 0.1 1.4 0.2 1.3-0.1 1.4-0.7 1.3 0.8 1.4-0.8 1.3 0.9 1.3 0 1.4 0 1.3-0.4 1.4 1 1.3-0.4 1.3 0.5 1.4-0.7 1.3 0.1" fill="#fff" stroke="#46a0dc" stroke-dasharray="0 410.7 625.2 9999"/>
<path d="M403.6 314.6L28 314.6L28 287.5l1.4-0.4 1.3-0.6 1.4 0.1 1.3 0.2 1.3-0.5 1.4 0.4 1.3-0.2 1.4-0.4 1.3 0.1 1.4-0.3 1.3 0 1.3-0.5 1.4 0.7 1.3-0.6 1.4 0.4 1.3 0.3 1.3-0.4 1.4-0.7 1.3-0.2 1.4-0.1 1.3-0.1 1.3-0.6 1.4-0.4 1.3 0.6 1.4-0.1 1.3 0.5 1.4-0.1 1.3-1.3 1.3 0 1.4 0.5 1.3 0.1 1.4-0.5 1.3-0.3 1.3-0.7 1.4 1.2 1.3-0.9 1.4 0.1 1.3-0.2 1.3-0.5 1.4 0.5 1.3 0.1 1.4-0.6 1.3-0.1 1.4 0.1 1.3 0 1.3-0.2 1.4-0.8 1.3-0.2 1.4-0.1 1.3-0.9 1.3 0.4 1.4 0.3 1.3-0.2 1.4-0.2 1.3 0.5 1.3-0.3 1.4 0 1.3-0.5 1.4-0.3 1.3-0.3 1.4 0.1 1.3-0.8 1.3 0.2 1.4 0.5 1.3-0.1 1.4-0.5 1.3-0.5 1.3 0.4 1.4-0.6 1.3 0 1.4-0.3 1.3 0.9 1.3-0.3 1.4-1.1 1.3-0.3 1.4 0.3 1.3 0.2 1.4 0 1.3-0.6 1.3-0.6 1.4 0.3 1.3-0.2 1.4-0.7 1.3 0.2 1.3-0.1 1.4-0.4 1.3 0.3 1.4 0.2 1.3-0.2 1.3-0.9 1.4-0.1 1.3 0.3 1.4-0.5 1.3-0.1 1.4 0.5 1.3-1.8 1.3 0.3 1.4-0.1 1.3 0.3 1.4 0.5 1.3-0.7 1.3-0.2 1.4 0.1 1.3-0.3 1.4 0.2 1.3 0.5 1.3-1.3 1.4-0.3 1.3-0.4 1.4-1.2 1.3 0 1.4-1.5 1.3-2.5 1.3-2.1 1.4-3.6 1.3-5.1 1.4-5.3 1.3-7.1 1.3-6.6 1.4-4.1 1.3-2.1 1.4 0.3 1.3 0.3 1.3 1.4 1.4 2.1 1.3 2.6 1.4 2.6 1.3 3.2 1.4 2.7 1.3 2.2 1.3 2.5 1.4 3.1 1.3 1.8 1.4 2.4 1.3 1.5 1.3 1.9 1.4 1.6 1.3 1.3 1.4 1.7 1.3 0.7 1.3 1.3 1.4 1.2 1.3 1.2 1.4-0.7 1.3 1.1 1.4 0.7 1.3 0.1 1.3 0.8 1.4 0.2 1.3 0.2 1.4-0.1 1.3 0.2 1.3 0.2 1.4-0.1 1.3 0.5 1.4-0.3 1.3 0.1 1.3 0.1 1.4 0.9 1.3-0.4 1.4-0.1 1.3 0.6 1.4-0.2 1.3 0.2 1.3 0 1.4 0.2 1.3-0.1 1.4-0.7 1.3 1.3 1.3-0.1 1.4-0.8 1.3 0.8 1.4-0.3 1.3 0.2 1.3 0.5 1.4-0.1 1.3 0.1 1.4 0.4 1.3-0.4 1.4-0.7 1.3-0.2 1.3 0.7 1.4-0.8 1.3 0.4 1.4 0.1 1.3 0 1.3 0.7 1.4-0.3 1.3-0.2 1.4 0.4 1.3-0.4 1.3 0.6 1.4 0.3 1.3-0.7 1.4-0.1 1.3 0.4 1.4-1.1 1.3 0.1 1.3 0.1 1.4-0.1 1.3 0.6 1.4 0.2 1.3-0.1 1.3 0.1 1.4 0.4 1.3 0.1 1.4 0 1.3-0.5 1.3 0.1 1.4 0.6 1.3-0.3 1.4 0.2 1.3-0.6 1.4 0.1 1.3-0.2 1.3 0.3 1.4 0.2 1.3-0.2 1.4 0.7 1.3-1 1.3 0.6 1.4-0.5 1.3 0.3 1.4-0.2 1.3 0.3 1.4 0 1.3-0.4 1.3-0.1 1.4 0.2 1.3 0.2 1.4 0.2 1.3-0.2 1.3-1.8 1.4-0.6 1.3-2.1 1.4-2.4 1.3-2.9 1.3-2.9 1.4-2.8 1.3-1.7 1.4 0.3 1.3 0.6 1.4 1.8 1.3 2.8 1.3 1.9 1.4 2.7 1.3 3 1.4 1.2 1.3 0.7 1.3 1.8 1.4 0.7 1.3-0.4 1.4-0.1 1.3 0.6 1.3 0.2 1.4-0.3 1.3-0.1 1.4 0.6 1.3 0 1.4-0.8 1.3 0.1 1.3 0.3 1.4 0 1.3 0.4 1.4 0.2 1.3 0.4 1.3-0.4 1.4 0 1.3-0.8 1.4 0.3 1.3 0.6 1.3-0.7 1.4 0.9 1.3-0.2 1.4-0.2 1.3-0.1 1.4-0.4 1.3 0 1.3 0.2 1.4 0.2" fill="#fff" stroke="#202020" stroke-dasharray="0 402.7 468.0 9999"/>
<path d="M402.1 316.5L26.6 316.5L26.6 293l1.3-1.3 1.4-0.2 1.3 0.5 1.4-1 1.3 0.4 1.3 0 1.4-0.5 1.3 0.1 1.4-0.5 1.3 0 1.3 0.5 1.4-0.8 1.3 0 1.4-0.2 1.3 0.4 1.4-0.5 1.3-0.3 1.3 0.3 1.4-1.1 1.3-0.1 1.4 0.9 1.3 0.6 1.3-1.1 1.4 0.1 1.3-0.8 1.4 0.5 1.3 0 1.3 0 1.4-0.6 1.3 0.9 1.4-1.3 1.3 0.9 1.4-1.2 1.3 0.7 1.3 0.2 1.4 0.2 1.3-1.2 1.4-0.8 1.3 1 1.3-0.8 1.4-0.3 1.3 0.1 1.4-0.2 1.3 0.6 1.3-0.4 1.4 0.1 1.3 0 1.4-0.7 1.3 0.4 1.4 0.1 1.3 0.2 1.3-0.9 1.4-0.4 1.3-0.4 1.4 0.1 1.3 0.1 1.3 0 1.4-0.8 1.3 0.2 1.4 0 1.3-0.2 1.3 0 1.4 0.3 1.3-0.6 1.4 0.6 1.3-0.7 1.4 0.5 1.3-0.6 1.3 1 1.4-0.2 1.3 0.2 1.4-1.1 1.3-0.3 1.3 0 1.4 0.5 1.3 0.5 1.4-0.1 1.3-0.1 1.3-0.9 1.4 0.9 1.3-0.1 1.4-0.7 1.3-0.9 1.4 0.7 1.3 0.3 1.3 0.7 1.4-0.6 1.3-0.2 1.4 0.7 1.3-0.1 1.3-0.5 1.4 0 1.3 0.2 1.4-0.9 1.3 0.4 1.3-0.4 1.4-0.3 1.3 0.6 1.4 0.2 1.3 0.3 1.4-0.5 1.3 0 1.3-0.7 1.4-0.7 1.3 0.3 1.4 0.4 1.3-0.5 1.3 0.9 1.4-0.5 1.3-0.8 1.4 0.5 1.3-1 1.3-0.3 1.4-1.7 1.3-0.9 1.4-2.1 1.3-1.8 1.4-1.6 1.3-1.8 1.3-2.3 1.4-0.6 1.3-0.5 1.4 0.4 1.3 0.6 1.3-0.4 1.4 0.7 1.3 0.3 1.4 1.1 1.3 1 1.3 0.4 1.4 0.3 1.3 0.3 1.4 0.4 1.3 1.3 1.4 1.3 1.3-0.2 1.3 0.6 1.4 0.3 1.3 0.2 1.4 1.4 1.3 0.2 1.3-0.6 1.4 0.4 1.3 1.4 1.4-0.7 1.3 0.5 1.3-0.2 1.4 0.8 1.3-0.4 1.4 0.2 1.3-0.1 1.4 1.5 1.3 0.4 1.3-1 1.4 0.2 1.3 0 1.4-0.2 1.3-0.1 1.3-0.1 1.4 0.5 1.3-0.9 1.4 0.2 1.3 0.7 1.3-0.9 1.4 1.3 1.3-0.8 1.4 0.2 1.3 0.4 1.4-0.6 1.3 0.1 1.3-0.4 1.4 0.5 1.3 0.1 1.4-0.7 1.3 0.6 1.3 0.1 1.4-0.2 1.3-0.6 1.4 0.7 1.3 0.2 1.3-0.9 1.4-0.6 1.3 0.4 1.4 0.4 1.3 0.5 1.4 0 1.3-0.3 1.3-0.6 1.4 0.5 1.3-0.3 1.4-0.6 1.3-0.3 1.3 1.2 1.4-1.2 1.3 1.3 1.4 0.4 1.3-1 1.3-0.5 1.4 0 1.3 0 1.4 0.5 1.3 0.3 1.4-0.7 1.3 0.2 1.3-0.1 1.4 0.9 1.3-0.1 1.4-0.8 1.3 0.3 1.3 0.2 1.4-0.8 1.3 0.5 1.4 0.4 1.3-0.6 1.3 0.7 1.4 0 1.3-0.3 1.4 0.7 1.3-0.8 1.4 0.6 1.3-0.2 1.3 0.6 1.4-0.8 1.3 0.7 1.4 0 1.3 0.3 1.3 0.2 1.4-1.4 1.3 0.6 1.4-0.3 1.3 0.9 1.3 0.2 1.4-0.8 1.3 0.1 1.4 0.1 1.3-1.2 1.4-1.2 1.3-1.9 1.3-0.5 1.4 0.4 1.3-0.6 1.4 2.1 1.3 1.4 1.3 1.3 1.4 1.7 1.3 1 1.4 2.5 1.3-0.1 1.3 0.2 1.4-1.7 1.3-0.9 1.4-1.1 1.3 0.3 1.4-1.4 1.3 0.1 1.3 1 1.4-0.3 1.3-0.3 1.4-0.1 1.3-0.5 1.3 0.5 1.4 0.4 1.3 0.4 1.4-0.1 1.3 0.3 1.4-0.5 1.3-0.5 1.3 0.2 1.4 0.9 1.3-0.6 1.4 0.6 1.3-1.3 1.3 0.4 1.4 0 1.3 0.5 1.4-0.5 1.3-0.2 1.3 0.5 1.4-0.9 1.3 0.8" fill="#fff" stroke="#ff2020" stroke-dasharray="0 399.1 427.1 9999"/>
<path d="M400.7 318.3L25.1 318.3L25.1 294.5l1.4 0.5 1.3-0.6 1.4-0.2 1.3 0.1 1.3-0.5 1.4-0.5 1.3-0.2 1.4 1.1 1.3-0.8 1.4 0.7 1.3 0 1.3-0.8 1.4 0 1.3-0.5 1.4-0.1 1.3 0 1.3-0.1 1.4 0.4 1.3-0.7 1.4 0.3 1.3-0.5 1.3 0.1 1.4 0.4 1.3-1.5 1.4 0.9 1.3-0.8 1.4 0.2 1.3-0.3 1.3-0.2 1.4-0.5 1.3-0.6 1.4 1.8 1.3-0.6 1.3-0.6 1.4-0.8 1.3 0.9 1.4 0.3 1.3-0.6 1.4-1 1.3 0.4 1.3 0.2 1.4-0.2 1.3 0.3 1.4-1 1.3 0 1.3-0.8 1.4 1.3 1.3-0.3 1.4-0.6 1.3-0.6 1.3 0.9 1.4-1 1.3-0.2 1.4-0.3 1.3 0 1.4 0.1 1.3-0.1 1.3 0.8 1.4-0.3 1.3-0.4 1.4-0.3 1.3 0.2 1.3-0.6 1.4 0.7 1.3-0.6 1.4 0.1 1.3 0.3 1.3-0.5 1.4-0.3 1.3 0.9 1.4-1.1 1.3 0.1 1.4 0 1.3 0.2 1.3 0.1 1.4-1.2 1.3 1 1.4 0.8 1.3-0.1 1.3-0.2 1.4-0.4 1.3 0 1.4-0.3 1.3-0.5 1.3 0.8 1.4 0.3 1.3-0.4 1.4-0.2 1.3 0.3 1.4-0.2 1.3 0.2 1.3-0.7 1.4-0.6 1.3 0.9 1.4 0.1 1.3-0.7 1.3 0.4 1.4 0.1 1.3-1.4 1.4 2 1.3-0.7 1.3-0.5 1.4-0.5 1.3-0.2 1.4 1.9 1.3-1.5 1.4 0.3 1.3-0.7 1.3 0 1.4 0.2 1.3-0.9 1.4 0 1.3-0.4 1.3-0.4 1.4-0.7 1.3-1.5 1.4-0.6 1.3-2.2 1.3-1.3 1.4-0.9 1.3-0.5 1.4 0.4 1.3-1.5 1.4 0.6 1.3 0.1 1.3 1.8 1.4 0.1 1.3-0.3 1.4 0.8 1.3-0.5 1.3 1 1.4 1.2 1.3 0.1 1.4 1 1.3-0.7 1.3 1 1.4-0.1 1.3 0.3 1.4 0.3 1.3 0.5 1.4 0.5 1.3-0.3 1.3 0.2 1.4 0 1.3 0.3 1.4-0.3 1.3 0.9 1.3 0 1.4-0.1 1.3-0.1 1.4-0.3 1.3-0.1 1.3 0 1.4 0.2 1.3 0.7 1.4-0.2 1.3-0.8 1.4 0.2 1.3 1 1.3 0.2 1.4-0.3 1.3 0.4 1.4-1.1 1.3 0.4 1.3-0.4 1.4 1.1 1.3-0.7 1.4-0.1 1.3-0.1 1.3-0.4 1.4 0.2 1.3-1 1.4 0.7 1.3-0.2 1.4 0.8 1.3 0.2 1.3-0.5 1.4-0.6 1.3-0.1 1.4 0.8 1.3-0.5 1.3 0 1.4-0.4 1.3 0.5 1.4 0 1.3 0.2 1.3-0.7 1.4 0.3 1.3-0.6 1.4 0.6 1.3-0.1 1.4-0.2 1.3 0.5 1.3-0.9 1.4 1.1 1.3-0.5 1.4 0.1 1.3-0.2 1.3-0.5 1.4 0.1 1.3 0.6 1.4-0.3 1.3 0.1 1.3-0.2 1.4 0.5 1.3-0.1 1.4-0.7 1.3 1.4 1.4-0.3 1.3-0.1 1.3-0.2 1.4-0.1 1.3 0.4 1.4 0.7 1.3-1.1 1.3-0.4 1.4 0.5 1.3 0.1 1.4 0.3 1.3-0.8 1.3 0.3 1.4 0.1 1.3 0.6 1.4 0.1 1.3-0.3 1.4 0.3 1.3-0.3 1.3-0.1 1.4-0.9 1.3 0.5 1.4 0 1.3 0.7 1.3-0.2 1.4-0.6 1.3 0.2 1.4-0.6 1.3-0.7 1.3-1.3 1.4-0.8 1.3 0.5 1.4-0.2 1.3 1.5 1.4 0.4 1.3 1.4 1.3 1 1.4 1.1 1.3 1.9 1.4-0.2 1.3 0.3 1.3-1.8 1.4 0.2 1.3-0.9 1.4 0 1.3 0.2 1.3-1.1 1.4 0.2 1.3-0.5 1.4 0.3 1.3 0.3 1.4 0.1 1.3 0.3 1.3-0.1 1.4 0.2 1.3-0.6 1.4 0.3 1.3-0.4 1.3 0.3 1.4-1 1.3 1.1 1.4 0.1 1.3-0.2 1.3 0 1.4-0.5 1.3 0.5 1.4 0.1 1.3 0.4 1.4 0.1 1.3-0.4 1.3 0.2 1.4 0.2" fill="#fff" stroke="#2020ff" stroke-dasharray="0 399.4 419.7 9999"/>
<path d="M399.2 320.2L23.7 320.2L23.7 297.3l1.3-0.2 1.4-0.2 1.3-0.6 1.4 0.1 1.3-0.1 1.3-0.1 1.4 0 1.3 0 1.4-0.3 1.3 0.2 1.3 0 1.4-0.6 1.3 0.4 1.4-0.4 1.3-0.4 1.4 0.3 1.3 0.2 1.3-0.8 1.4-0.7 1.3 0.9 1.4 0 1.3-1 1.3 0.3 1.4 0.1 1.3-1.3 1.4 1.2 1.3-0.1 1.3 0 1.4 0.1 1.3-1.2 1.4 0.7 1.3 0.4 1.4-2 1.3 0.7 1.3 0.3 1.4-0.7 1.3-0.6 1.4 0.8 1.3-0.2 1.3-0.5 1.4 0.3 1.3 0.2 1.4-0.1 1.3-0.4 1.3-0.8 1.4 0.2 1.3-0.9 1.4 0.4 1.3 0.4 1.4 0.1 1.3-0.4 1.3-0.2 1.4-0.9 1.3 0.1 1.4 0 1.3 0.1 1.3 0 1.4 1 1.3-0.6 1.4-1 1.3 0.1 1.4 0 1.3-0.1 1.3 0 1.4-0.7 1.3 1.4 1.4-0.2 1.3-0.1 1.3-0.3 1.4 0.1 1.3-0.4 1.4-0.7 1.3 0.8 1.3-0.1 1.4-0.6 1.3-0.4 1.4 1.3 1.3-0.9 1.4 0.3 1.3-0.2 1.3 0.9 1.4-1.3 1.3 0.9 1.4-1.4 1.3 1.3 1.3-0.6 1.4-0.8 1.3 0.9 1.4-0.1 1.3-0.6 1.3 0.7 1.4-0.1 1.3 0.1 1.4-0.8 1.3 0.2 1.4-0.2 1.3 0.5 1.3-0.4 1.4-0.2 1.3 0.9 1.4-0.8 1.3 0.6 1.3-0.1 1.4-0.8 1.3-0.5 1.4 0.8 1.3 0.1 1.3 0.2 1.4-0.5 1.3-0.1 1.4-0.7 1.3-0.2 1.4 1.3 1.3-1.3 1.3-1.7 1.4-0.2 1.3-0.9 1.4-1.9 1.3-0.4 1.3-0.3 1.4 0.1 1.3 0 1.4-0.8 1.3 0.1 1.3 0.1 1.4 0.5 1.3 0.4 1.4-0.5 1.3 0.6 1.4 0.1 1.3 0.2 1.3 0.4 1.4 1.3 1.3 0.3 1.4 0.1 1.3-1.1 1.3 1 1.4 1.2 1.3-0.7 1.4-0.3 1.3 0.7 1.3-0.2 1.4 0 1.3 0.4 1.4 0.2 1.3-0.2 1.4 0.1 1.3-0.3 1.3 0.4 1.4 0.4 1.3-0.2 1.4-0.1 1.3-0.5 1.3 1 1.4-0.9 1.3 0.7 1.4-0.4 1.3 0.5 1.3 0.1 1.4-0.7 1.3-1.2 1.4 0.4 1.3 0.5 1.4 0 1.3 0.6 1.3 0.7 1.4-0.6 1.3-0.4 1.4 0.6 1.3-0.7 1.3 0.4 1.4-0.3 1.3-0.9 1.4 1.2 1.3 0.3 1.3-0.9 1.4 0.4 1.3-0.2 1.4-0.3 1.3-0.1 1.4 0.5 1.3-0.7 1.3 0 1.4 0.6 1.3 0 1.4 0.2 1.3-1 1.3-0.3 1.4 0.9 1.3-1.1 1.4 0.4 1.3 0.1 1.3 0.8 1.4-0.7 1.3-0.6 1.4 0.5 1.3 0.5 1.4-1.4 1.3 0.2 1.3 0.9 1.4-0.3 1.3-0.5 1.4 0.4 1.3 0.1 1.3-0.4 1.4 0.3 1.3 0.9 1.4-0.5 1.3 0.4 1.3-0.5 1.4-0.2 1.3 0.4 1.4-0.5 1.3 0.6 1.4-0.3 1.3 0.1 1.3 0 1.4-0.2 1.3 0.9 1.4-1.1 1.3 0.7 1.3-0.6 1.4 1 1.3-0.4 1.4 0.1 1.3 0.2 1.3 0 1.4-0.1 1.3 0.1 1.4 0 1.3-0.3 1.4 0.1 1.3 0 1.3-0.3 1.4-0.1 1.3 0.3 1.4-1.8 1.3 0.5 1.3-1.6 1.4 0.2 1.3 0.2 1.4 0.7 1.3 1.4 1.3 1.4 1.4 0.1 1.3 1.1 1.4 0.9 1.3 1.6 1.4-0.6 1.3-0.8 1.3-1.3 1.4-1.4 1.3 0.6 1.4-1 1.3 0.4 1.3 0.7 1.4-0.6 1.3-0.1 1.4-0.5 1.3 1.2 1.3 0 1.4-0.4 1.3 0.4 1.4-0.8 1.3 0.3 1.4 0.5 1.3 0.3 1.3-0.3 1.4-0.5 1.3 0.3 1.4 0.7 1.3-0.6 1.3 0.3 1.4 0.1 1.3-0.4 1.4 0.3 1.3-0.8 1.3 0.6 1.4 0.3 1.3 0.3" fill="#fff" stroke="#ff20ff" stroke-dasharray="0 398.4 419.6 9999"/>
<path d="M397.8 322L22.2 322L22.2 300.3l1.4-0.5 1.3-0.5 1.4-0.1 1.3-0.2 1.4 0.1 1.3-0.9 1.3 0.6 1.4-0.4 1.3 0.4 1.4-0.2 1.3-0.7 1.3 0.9 1.4-0.4 1.3-0.8 1.4-0.2 1.3 0 1.3 0.4 1.4 0.2 1.3-1 1.4-0.1 1.3 0.4 1.4-0.3 1.3-0.1 1.3-0.2 1.4-0.2 1.3 0.8 1.4-0.4 1.3-0.7 1.3 0.5 1.4 0.2 1.3-0.7 1.4-0.3 1.3-0.4 1.3 0.1 1.4 0 1.3 0.3 1.4-1.1 1.3-0.4 1.4 0.3 1.3 0.3 1.3-1.1 1.4 0.6 1.3-0.4 1.4-0.2 1.3 0.4 1.3 0.3 1.4-1.1 1.3 0.5 1.4-0.3 1.3 0.2 1.3-0.4 1.4-0.3 1.3 0.5 1.4-0.3 1.3-0.8 1.4-0.6 1.3 0.5 1.3 0.3 1.4 0.1 1.3-0.7 1.4 0 1.3-0.6 1.3 0.5 1.4 0.2 1.3-0.3 1.4 0.1 1.3-0.4 1.3 0 1.4 0.5 1.3-0.8 1.4 0.6 1.3 0.5 1.4-0.8 1.3-0.1 1.3-0.2 1.4-0.2 1.3 0.3 1.4-0.4 1.3 0.4 1.3-0.1 1.4-0.3 1.3 0.5 1.4 0.4 1.3-0.2 1.3-0.5 1.4 0 1.3-0.4 1.4 0.3 1.3 0.3 1.4 0.1 1.3 0.1 1.3-1.2 1.4 1.2 1.3-0.5 1.4 0.5 1.3-0.7 1.3 0.4 1.4-0.6 1.3-0.5 1.4 0.5 1.3-0.3 1.4 0.1 1.3 0.2 1.3 0.1 1.4-0.1 1.3 0 1.4-1.1 1.3 1 1.3-0.9 1.4 0.2 1.3-0.3 1.4-0.5 1.3 0.5 1.3-1.2 1.4-0.3 1.3 0.2 1.4-2.3 1.3-0.6 1.4 0.3 1.3-1.1 1.3 0.2 1.4-0.4 1.3-0.1 1.4 0.5 1.3-0.5 1.3 0.2 1.4 0.5 1.3-0.3 1.4 0 1.3 0.1 1.3 1.4 1.4 0.7 1.3-0.1 1.4-0.6 1.3 0.2 1.4 0 1.3 0.6 1.3 0.6 1.4-0.3 1.3 0.1 1.4-1.3 1.3 1.6 1.3-0.5 1.4 0.5 1.3 0.4 1.4-0.1 1.3 0.4 1.3 0.3 1.4-1.6 1.3 0.3 1.4 1.4 1.3-0.5 1.4-0.5 1.3 0.2 1.3 0.1 1.4 0.5 1.3-0.6 1.4 0 1.3-0.5 1.3 1.2 1.4-0.5 1.3-0.4 1.4-0.4 1.3 0.5 1.3 0.4 1.4 0.6 1.3-0.2 1.4-1 1.3-0.1 1.4-0.3 1.3 0.6 1.3-0.5 1.4 0.5 1.3-0.1 1.4 0 1.3-0.6 1.3 0.8 1.4-0.6 1.3-0.5 1.4 0.5 1.3 0.1 1.3-0.1 1.4 0.3 1.3 0.2 1.4 0.4 1.3-1.1 1.4 0.4 1.3-1.5 1.3 1.8 1.4-0.8 1.3 0.5 1.4-0.7 1.3 0.3 1.3 0 1.4-0.6 1.3-0.1 1.4-1 1.3 1.4 1.3-0.2 1.4-0.1 1.3 0.7 1.4-0.4 1.3-0.1 1.4-0.8 1.3 0.9 1.3-0.1 1.4 0.5 1.3-0.6 1.4-0.3 1.3 0.5 1.3 0.9 1.4-1.1 1.3 0.9 1.4-0.6 1.3-0.8 1.3 1.2 1.4 0.8 1.3-0.8 1.4-0.6 1.3 0.3 1.4-0.1 1.3 1.6 1.3-1 1.4-1.2 1.3 1.3 1.4-0.1 1.3-0.6 1.3 0.2 1.4 0.3 1.3 0.8 1.4-0.9 1.3-0.1 1.3 0.7 1.4-0.8 1.3-0.4 1.4 0 1.3-0.2 1.4-1 1.3-0.8 1.3 0.6 1.4 0.3 1.3-0.5 1.4 1 1.3 1 1.3 1.1 1.4 1.2 1.3 0.9 1.4 0.5 1.3-0.1 1.3-1.5 1.4-1 1.3 0.5 1.4 0.2 1.3-0.6 1.4-0.3 1.3 0.4 1.3-0.3 1.4-0.4 1.3 0.4 1.4 0.5 1.3-0.1 1.3 0.2 1.4-0.5 1.3 0.5 1.4 0.4 1.3-0.8 1.3 0 1.4 0.8 1.3-0.5 1.4-0.5 1.3 0.3 1.4 0.8 1.3-0.3 1.3 0.6 1.4-0.5 1.3-0.1 1.4 0.3 1.3-0.6 1.3 0.7 1.4-0.5" fill="#fff" stroke="#209020" stroke-dasharray="0 397.3 416.9 9999"/>
<path d="M396.3 323.9L20.8 323.9L20.8 301.9l1.3-0.2 1.4 0.6 1.3-0.6 1.4-0.1 1.3-0.1 1.3-0.2 1.4-0.7 1.3 0.6 1.4-0.3 1.3-0.5 1.4 0.2 1.3 0.3 1.3 0.5 1.4-1.1 1.3 0.7 1.4-0.9 1.3 0.3 1.3-0.4 1.4 0.3 1.3-0.4 1.4-0.4 1.3-0.6 1.3 0.9 1.4-1.1 1.3 0.3 1.4 0.9 1.3-0.8 1.4-0.2 1.3-0.1 1.3-0.1 1.4-0.3 1.3 0.1 1.4-0.3 1.3-0.2 1.3 0.2 1.4 0 1.3-0.2 1.4 0.1 1.3 0.3 1.3-0.2 1.4-0.8 1.3-0.7 1.4 0.9 1.3-0.6 1.4 0.2 1.3-0.6 1.3 0.3 1.4-0.9 1.3 0.4 1.4-0.7 1.3 1.3 1.3-1.1 1.4-0.9 1.3 1.3 1.4-0.2 1.3 0 1.3-1.2 1.4 0.6 1.3 0.2 1.4-0.7 1.3 0.2 1.4-0.3 1.3-0.1 1.3 0.7 1.4-1 1.3 0.3 1.4 0.2 1.3-0.2 1.3 0.2 1.4-1.2 1.3 1.2 1.4-0.9 1.3 0.3 1.3-0.1 1.4 0.3 1.3-0.3 1.4-0.1 1.3 0.4 1.4 0.6 1.3-1.2 1.3-0.1 1.4 0 1.3-0.4 1.4 0 1.3 0.3 1.3 0.5 1.4-0.6 1.3-0.2 1.4 0.3 1.3-0.3 1.3 1.5 1.4-0.6 1.3-0.7 1.4-0.8 1.3 0.4 1.4-0.2 1.3 0 1.3-0.6 1.4 0.6 1.3 0 1.4-0.1 1.3-0.3 1.3 0.6 1.4-0.6 1.3-0.6 1.4 0.5 1.3 0.7 1.3 0.1 1.4-1.1 1.3 0.3 1.4 0.2 1.3 0 1.4-0.8 1.3 0 1.3-0.8 1.4-1 1.3 0.5 1.4-1 1.3-0.5 1.3-0.7 1.4-0.5 1.3 0.1 1.4 0.3 1.3-0.5 1.4 1.2 1.3 0.4 1.3-1.7 1.4 1.4 1.3-0.4 1.4 0.6 1.3 0 1.3 0 1.4 0.6 1.3-0.2 1.4 0.8 1.3-0.4 1.3-0.6 1.4 0.6 1.3 0.2 1.4-0.2 1.3-0.1 1.4 1.4 1.3-0.8 1.3 0 1.4-0.6 1.3 1 1.4-0.2 1.3 0.5 1.3 0.3 1.4-1 1.3-0.1 1.4 0.8 1.3 0 1.3-0.3 1.4 0.1 1.3-0.4 1.4 0 1.3 0 1.4-0.9 1.3 1.2 1.3 0 1.4-0.8 1.3 0.2 1.4 0.3 1.3 0.2 1.3-0.4 1.4-0.2 1.3 0.3 1.4-0.1 1.3-0.6 1.3 0.3 1.4 0 1.3 0.3 1.4-0.8 1.3 0.1 1.4 0.2 1.3 0.2 1.3 0.9 1.4-1 1.3 0.4 1.4-0.1 1.3 0.2 1.3 0.1 1.4-0.6 1.3-0.7 1.4 0.3 1.3 0.7 1.3 0.3 1.4-0.4 1.3 0.4 1.4-0.8 1.3-0.7 1.4 0.4 1.3 0 1.3 0.3 1.4-0.1 1.3-0.8 1.4 0.8 1.3-0.7 1.3 0.3 1.4 0.2 1.3 0.1 1.4-0.1 1.3-0.4 1.3 0.2 1.4 0.4 1.3-0.5 1.4-0.4 1.3-0.5 1.4 1.1 1.3-0.3 1.3 0.4 1.4-0.4 1.3 0.3 1.4 0.1 1.3 0.5 1.3-0.7 1.4-0.1 1.3 0.6 1.4 0.3 1.3-0.7 1.3 0.6 1.4-0.1 1.3 0.1 1.4-0.9 1.3 0.8 1.4-0.1 1.3 0.2 1.3-0.3 1.4 0.2 1.3-0.8 1.4 0.9 1.3 0.6 1.3-0.5 1.4-0.3 1.3-0.2 1.4-0.1 1.3-1.5 1.3-0.9 1.4 0 1.3 0.5 1.4 1 1.3 1.1 1.4 0.1 1.3 0.6 1.3 1.7 1.4 1 1.3-0.4 1.4 0.4 1.3-1 1.3-0.7 1.4-0.4 1.3-0.6 1.4-0.4 1.3 0.1 1.3 0.3 1.4 0.5 1.3 0.1 1.4 0.2 1.3-0.7 1.4 0.3 1.3-0.5 1.3 0.2 1.4 0.9 1.3-0.4 1.4 0.9 1.3-0.5 1.3-0.5 1.4-0.1 1.3-0.5 1.4 1.4 1.3 0 1.3 1.1 1.4-0.6 1.3-0.8 1.4-0.6 1.3-0.3 1.4 0.7 1.3 0.1 1.3-0.5" fill="#fff" stroke="#3030a0" stroke-dasharray="0 397.5 414.1 9999"/>
<path d="M394.9 325.7L19.4 325.7L19.4 305.5l1.3-2 1.3 0.3 1.4 0.8 1.3-0.2 1.4-0.4 1.3-0.5 1.3 0.6 1.4-0.5 1.3 0.6 1.4-0.2 1.3-0.2 1.3-1.2 1.4 0.7 1.3 0.5 1.4 0 1.3-0.4 1.4-0.2 1.3-0.9 1.3 0.8 1.4 0.1 1.3-0.7 1.4-0.2 1.3-0.4 1.3 0 1.4-0.3 1.3 0.2 1.4-0.4 1.3-0.6 1.3 0.2 1.4 0.3 1.3-0.1 1.4 0.3 1.3-0.3 1.4 0 1.3-0.6 1.3 0.3 1.4-0.9 1.3-0.1 1.4 0.5 1.3-0.3 1.3-0.6 1.4 0.6 1.3 0.1 1.4-0.3 1.3 0 1.3-0.2 1.4-0.2 1.3-0.8 1.4-0.6 1.3 0.4 1.4-1.2 1.3 0.9 1.3-0.3 1.4 0.4 1.3-0.4 1.4 0.1 1.3-0.4 1.3 0.1 1.4 0.6 1.3-1.2 1.4-0.3 1.3 1.3 1.3-0.3 1.4-0.4 1.3-0.2 1.4 0.2 1.3-0.2 1.4 0.4 1.3-0.5 1.3-0.2 1.4 0.4 1.3-0.5 1.4 0.4 1.3-0.7 1.3 0.2 1.4 0.3 1.3-0.4 1.4 0.6 1.3-0.4 1.3 0 1.4-0.9 1.3 1 1.4-0.3 1.3-0.8 1.4 0.8 1.3 0 1.3-0.4 1.4-0.3 1.3-0.1 1.4 0.5 1.3 0 1.3-0.1 1.4 0.8 1.3-0.8 1.4 0 1.3-0.8 1.3 0.8 1.4 0.2 1.3-0.8 1.4 1.1 1.3-1 1.4 0.1 1.3-0.2 1.3-0.1 1.4-1 1.3 1.4 1.4-1.2 1.3 1.2 1.3-1 1.4 0.2 1.3 1.1 1.4-1.5 1.3 0 1.3-0.6 1.4 0.1 1.3-0.2 1.4 0 1.3-2.2 1.4 0.4 1.3 0 1.3-0.1 1.4-0.7 1.3 0.4 1.4 0.7 1.3-0.5 1.3 0.7 1.4-1.2 1.3 0.2 1.4 0.4 1.3-0.2 1.3 0.7 1.4-0.5 1.3 0.6 1.4-0.6 1.3 0.4 1.4 0.6 1.3 0.2 1.3-0.6 1.4-0.1 1.3 0.9 1.4-0.5 1.3 0.6 1.3 0.4 1.4-0.3 1.3-0.8 1.4 1.1 1.3 0 1.3-0.7 1.4 0.1 1.3 0.7 1.4-0.4 1.3 0 1.4 0.3 1.3-0.2 1.3 0.9 1.4-0.6 1.3-0.6 1.4 0 1.3-0.2 1.3 0.5 1.4-0.9 1.3 0.7 1.4-0.6 1.3-0.5 1.4 1.1 1.3-0.2 1.3-0.1 1.4-0.3 1.3 0.1 1.4-0.3 1.3 0.8 1.3 0 1.4-0.7 1.3 0 1.4 0.1 1.3 0.2 1.3-0.3 1.4-0.3 1.3 0 1.4 0.2 1.3-0.2 1.4-0.1 1.3 0.6 1.3-0.3 1.4 0.1 1.3-0.8 1.4 0.7 1.3-0.4 1.3-0.2 1.4-0.2 1.3 0 1.4 0 1.3 0.2 1.3 0 1.4 0.8 1.3-0.7 1.4-0.1 1.3-0.2 1.4-0.4 1.3 0 1.3 0.5 1.4-0.7 1.3 1.3 1.4 0 1.3-1.2 1.3 1.1 1.4 0 1.3 0.1 1.4-0.2 1.3 0.4 1.3-1 1.4 0.2 1.3 0.5 1.4-0.3 1.3-0.5 1.4 0.9 1.3 0.2 1.3-0.5 1.4 0.2 1.3 0.3 1.4-1.2 1.3 0.6 1.3-0.1 1.4 0.3 1.3-0.4 1.4 0 1.3 0.7 1.3 0.7 1.4-1.2 1.3 1.1 1.4-0.1 1.3 0 1.4 0.1 1.3-0.8 1.3 0.4 1.4-1.3 1.3-0.2 1.4-0.1 1.3-0.3 1.3-1 1.4 0 1.3 1.6 1.4 0.7 1.3 0.8 1.3 0.3 1.4 0.3 1.3 1.7 1.4 0.3 1.3-0.4 1.4 0.3 1.3-1.3 1.3 0 1.4-0.9 1.3-1.2 1.4 0.6 1.3-0.5 1.3 1 1.4 0.6 1.3-1.1 1.4 1 1.3-0.3 1.3 0.5 1.4-0.2 1.3-0.5 1.4 0.6 1.3-0.2 1.4 0.4 1.3 0.5 1.3-0.8 1.4 0.7 1.3-0.7 1.4 0.3 1.3-0.1 1.3-0.3 1.4 0.3 1.3-0.2 1.4 0.4 1.3-0.6 1.3 0.1 1.4 0.7" fill="#fff" stroke="#8030ff" stroke-dasharray="0 395.7 415.8 9999"/>
<path d="M393.4 327.6L17.9 327.6L17.9 308.1l1.3-1.2 1.4 0.1 1.3-0.4 1.4 0.3 1.3-0.9 1.4 0.7 1.3-0.2 1.3 0 1.4 0.9 1.3-1.3 1.4 0.1 1.3-0.3 1.3 0.4 1.4 0.4 1.3-0.4 1.4-0.7 1.3-0.9 1.3 0.6 1.4-1 1.3 0.2 1.4 0 1.3-0.3 1.4 0.3 1.3-0.2 1.3-0.3 1.4 0.3 1.3-0.5 1.4 0.7 1.3-0.4 1.3-0.5 1.4 0.2 1.3-0.6 1.4-0.1 1.3 0.6 1.3-1.2 1.4 0.7 1.3 0.5 1.4-1.8 1.3 1.7 1.4-1.9 1.3-0.3 1.3-0.1 1.4 0.3 1.3 0.1 1.4-0.6 1.3 0.6 1.3 0.3 1.4-0.7 1.3 0.2 1.4 0.1 1.3 0.4 1.3-0.9 1.4 0.2 1.3-0.2 1.4-0.3 1.3-0.3 1.4 0.2 1.3 0 1.3-1 1.4 0.3 1.3 0.3 1.4-0.1 1.3 0 1.3 0.5 1.4-0.3 1.3-1 1.4 1.1 1.3-1 1.3-0.1 1.4 0.8 1.3-0.7 1.4-0.6 1.3 1 1.4-0.1 1.3 0 1.3-0.9 1.4 0.9 1.3-0.6 1.4 0.5 1.3-0.9 1.3 0 1.4-0.5 1.3 0.5 1.4 0.8 1.3-0.4 1.3-0.3 1.4 0.7 1.3-0.5 1.4 0.2 1.3-0.2 1.4-0.3 1.3 0.1 1.3 0.1 1.4 0.3 1.3-0.3 1.4 0 1.3-0.9 1.3-0.4 1.4 0.9 1.3 0 1.4 0 1.3-0.7 1.3 0.5 1.4-0.6 1.3 0.4 1.4-0.1 1.3-0.1 1.4 0.2 1.3-0.4 1.3 0.1 1.4 0.2 1.3 0.3 1.4-0.7 1.3 0 1.3-0.4 1.4 0.1 1.3-0.2 1.4-1.7 1.3 0.1 1.3-0.5 1.4 0.4 1.3-1.8 1.4 0.7 1.3-0.4 1.4 1.4 1.3-0.4 1.3 0.3 1.4-0.1 1.3 0.1 1.4 0.1 1.3-0.3 1.3-0.6 1.4 1.1 1.3 0 1.4-0.2 1.3 0.1 1.3 0.9 1.4-0.8 1.3-0.1 1.4 0.8 1.3 0.4 1.4-1.2 1.3 0.1 1.3 0.1 1.4 0.6 1.3 0.2 1.4 0.3 1.3-0.6 1.3-0.1 1.4-0.2 1.3 0.7 1.4-0.7 1.3-0.1 1.3 0.2 1.4 0.1 1.3 0.1 1.4-0.4 1.3 1 1.4 0 1.3-1.3 1.3 0.4 1.4-0.5 1.3 0.3 1.4-0.4 1.3 0.3 1.3 0.3 1.4-0.1 1.3-0.7 1.4-0.4 1.3 0.1 1.3 1.3 1.4-0.6 1.3 0.1 1.4 0.5 1.3-1.1 1.4 0.5 1.3-0.4 1.3 0.3 1.4-1 1.3 0.6 1.4 0.2 1.3 0 1.3-0.7 1.4 0.5 1.3 0.4 1.4-0.4 1.3 0.4 1.4-0.1 1.3-0.3 1.3-0.3 1.4 0.1 1.3-0.4 1.4 0.6 1.3-0.1 1.3 0.3 1.4 0.5 1.3-0.7 1.4-0.2 1.3-0.2 1.3 0.3 1.4 0.2 1.3-0.7 1.4-0.4 1.3 0 1.4 1 1.3-0.1 1.3 0 1.4-0.9 1.3 0.4 1.4-0.4 1.3 0.2 1.3 0.3 1.4 0.1 1.3 0.9 1.4-1.1 1.3 0.2 1.3 0 1.4 0.4 1.3 0.3 1.4-0.6 1.3-0.4 1.4 0.6 1.3 0.4 1.3-0.6 1.4 0.9 1.3-0.8 1.4 0.1 1.3 0.2 1.3 1.1 1.4-0.5 1.3-0.2 1.4-0.6 1.3-0.1 1.3 0.2 1.4 0.9 1.3-0.4 1.4-0.9 1.3-0.9 1.4-0.8 1.3 0.4 1.3 0.7 1.4 0.6 1.3 0.5 1.4 0.1 1.3 1.1 1.3 0.4 1.4 1.1 1.3 0 1.4 0.1 1.3-0.6 1.3-0.8 1.4 0.3 1.3-1.1 1.4 0.6 1.3-0.5 1.4 0.1 1.3 0.3 1.3-0.3 1.4-0.2 1.3 0 1.4 0 1.3 0.5 1.3 0.2 1.4-0.2 1.3-0.6 1.4 0.8 1.3 0.4 1.3-0.9 1.4 0.1 1.3 0.8 1.4-0.4 1.3 0.6 1.4-0.6 1.3-0.5 1.3 0.6 1.4 0.1 1.3 0.1 1.4-0.4 1.3 0.2 1.3 1.1" fill="#fff" stroke="#a030a0" stroke-dasharray="0 395.0 413.1 9999"/>
<path d="M392 329.4L16.5 329.4L16.5 309.4l1.3-0.2 1.3 0 1.4-0.6 1.3 0.9 1.4-0.6 1.3 0.8 1.3 0.1 1.4-0.9 1.3 0.4 1.4-0.1 1.3-0.6 1.4-0.3 1.3 0.6 1.3-0.4 1.4-0.5 1.3-0.3 1.4 0.1 1.3 0.3 1.3-0.2 1.4-0.7 1.3 0 1.4 0.1 1.3-0.4 1.3 0 1.4-0.5 1.3-0.1 1.4 0.4 1.3-0.1 1.4-0.3 1.3 0.9 1.3-1.1 1.4 0.2 1.3-0.3 1.4-0.4 1.3 0.4 1.3 0.1 1.4-0.6 1.3 0.1 1.4 0.9 1.3-1.8 1.3 0.1 1.4 0.3 1.3-0.4 1.4-0.5 1.3 0 1.4 0 1.3-0.1 1.3 0.1 1.4 0.5 1.3-0.7 1.4-0.4 1.3 0.4 1.3-0.2 1.4-0.9 1.3 0.1 1.4-0.4 1.3 0.6 1.3 0.1 1.4-0.6 1.3 0.5 1.4-0.8 1.3 0 1.4 0.1 1.3 0.1 1.3 0.6 1.4-1.2 1.3 0.6 1.4-0.2 1.3 0.4 1.3-1.1 1.4 0 1.3 1.3 1.4-0.2 1.3-0.2 1.3-0.5 1.4 0.4 1.3-0.5 1.4-0.5 1.3 0.3 1.4-0.1 1.3-0.4 1.3 0.2 1.4-0.1 1.3 0.6 1.4 0.1 1.3 0.1 1.3-0.1 1.4-1 1.3 0.7 1.4 0.1 1.3-0.3 1.3-0.7 1.4-0.9 1.3 1.3 1.4-0.4 1.3 0.7 1.4-1.1 1.3 0.8 1.3-0.4 1.4-0.5 1.3 0.3 1.4 0.2 1.3 0.4 1.3-0.1 1.4 0.2 1.3-0.3 1.4-0.6 1.3-0.1 1.3 0.2 1.4-0.3 1.3-0.7 1.4-0.3 1.3 1.1 1.4-0.3 1.3 0.5 1.3-1.4 1.4 0.3 1.3-0.7 1.4-0.3 1.3-0.4 1.3 0.3 1.4-0.3 1.3-0.5 1.4 0.2 1.3-0.1 1.3 0.2 1.4 0.1 1.3-0.2 1.4 0 1.3 0.3 1.4-0.7 1.3 1 1.3 0.1 1.4-1.5 1.3 0.9 1.4 0.6 1.3-0.9 1.3 1.2 1.4 0.4 1.3-0.2 1.4 0.2 1.3-0.4 1.3 0.4 1.4-0.1 1.3-0.3 1.4 0 1.3-0.8 1.4 0.2 1.3 1.1 1.3 0 1.4-0.9 1.3-0.4 1.4-0.2 1.3 1.4 1.3-0.3 1.4 0.7 1.3-0.3 1.4 0.3 1.3-0.6 1.3-0.7 1.4 0 1.3 0.6 1.4-1.1 1.3 0.8 1.4-0.4 1.3 0.7 1.3-0.9 1.4-0.1 1.3 0.7 1.4-1.9 1.3 1.9 1.3-0.4 1.4-0.4 1.3 0.5 1.4-0.5 1.3 0.4 1.3-0.2 1.4 0.2 1.3-0.8 1.4 0.1 1.3 1.1 1.4-0.7 1.3-0.3 1.3-0.4 1.4 0.2 1.3 0.2 1.4-0.6 1.3 0.4 1.3-0.1 1.4-0.8 1.3 0.9 1.4 0.5 1.3-0.8 1.3 0.1 1.4 0.1 1.3-0.4 1.4-0.6 1.3 0.8 1.4-0.3 1.3-0.1 1.3 1 1.4-0.6 1.3-0.3 1.4 0 1.3 1.1 1.3-0.3 1.4-1.2 1.3 1.1 1.4-0.5 1.3 0 1.3 0.8 1.4-0.1 1.3-0.7 1.4 0.4 1.3 0.3 1.4-0.3 1.3 0.3 1.3-0.5 1.4 1 1.3 0.1 1.4-1 1.3-0.3 1.3 0.4 1.4 0.7 1.3-0.3 1.4-0.1 1.3 0.1 1.4-0.7 1.3 0.7 1.3 0 1.4-0.2 1.3 0.6 1.4-0.6 1.3 0 1.3 0.5 1.4-0.2 1.3-0.6 1.4-0.3 1.3-0.3 1.3-0.1 1.4-0.4 1.3 1.3 1.4 1 1.3-0.2 1.4 0.2 1.3 1.1 1.3 0.3 1.4-0.3 1.3 0.1 1.4-0.5 1.3 0.3 1.3-1.3 1.4 1 1.3-0.9 1.4 0.4 1.3-0.3 1.3 0.4 1.4 0.4 1.3-0.2 1.4-0.8 1.3 0.4 1.4 0.3 1.3 0.7 1.3-1 1.4 0 1.3-0.1 1.4 0.4 1.3 0.3 1.3-0.7 1.4 1.1 1.3 0 1.4-0.2 1.3 0 1.3 0.8 1.4-1.5 1.3 0.2 1.4 1.2 1.3-1.4 1.4 0.7 1.3-0.2" fill="#fff" stroke="#a03030" stroke-dasharray="0 395.6 415.0 9999"/>
</g>
<g><line x1="14.9" y1="161.1" x2="14.9" y2="331.4" stroke="#1c1c1c" stroke-width="1.1"/><line x1="14.9" y1="161.1" x2="134.7" y2="8.4" stroke="#1c1c1c" stroke-width="1.1"/><line x1="134.7" y1="8.4" x2="510.2" y2="8.4" stroke="#1c1c1c" stroke-width="1.1"/><line x1="510.2" y1="8.4" x2="510.2" y2="178.7" stroke="#1c1c1c" stroke-width="1.1"/><line x1="510.2" y1="8.4" x2="514.2" y2="8.4" stroke="#1c1c1c" stroke-width="0.9"/><line x1="510.2" y1="15.2" x2="512.6" y2="15.2" stroke="#1c1c1c" stroke-width="0.9"/><line x1="510.2" y1="22" x2="512.6" y2="22" stroke="#1c1c1c" stroke-width="0.9"/><line x1="510.2" y1="28.8" x2="512.6" y2="28.8" stroke="#1c1c1c" stroke-width="0.9"/><line x1="510.2" y1="35.6" x2="512.6" y2="35.6" stroke="#1c1c1c" stroke-width="0.9"/><line x1="510.2" y1="42.5" x2="514.2" y2="42.5" stroke="#1c1c1c" stroke-width="0.9"/><line x1="510.2" y1="49.3" x2="512.6" y2="49.3" stroke="#1c1c1c" stroke-width="0.9"/><line x1="510.2" y1="56.1" x2="512.6" y2="56.1" stroke="#1c1c1c" stroke-width="0.9"/><line x1="510.2" y1="62.9" x2="512.6" y2="62.9" stroke="#1c1c1c" stroke-width="0.9"/><line x1="510.2" y1="69.7" x2="512.6" y2="69.7" stroke="#1c1c1c" stroke-width="0.9"/><line x1="510.2" y1="76.5" x2="514.2" y2="76.5" stroke="#1c1c1c" stroke-width="0.9"/><line x1="510.2" y1="83.3" x2="512.6" y2="83.3" stroke="#1c1c1c" stroke-width="0.9"/><line x1="510.2" y1="90.1" x2="512.6" y2="90.1" stroke="#1c1c1c" stroke-width="0.9"/><line x1="510.2" y1="97" x2="512.6" y2="97" stroke="#1c1c1c" stroke-width="0.9"/><line x1="510.2" y1="103.8" x2="512.6" y2="103.8" stroke="#1c1c1c" stroke-width="0.9"/><line x1="510.2" y1="110.6" x2="514.2" y2="110.6" stroke="#1c1c1c" stroke-width="0.9"/><line x1="510.2" y1="117.4" x2="512.6" y2="117.4" stroke="#1c1c1c" stroke-width="0.9"/><line x1="510.2" y1="124.2" x2="512.6" y2="124.2" stroke="#1c1c1c" stroke-width="0.9"/><line x1="510.2" y1="131" x2="512.6" y2="131" stroke="#1c1c1c" stroke-width="0.9"/><line x1="510.2" y1="137.8" x2="512.6" y2="137.8" stroke="#1c1c1c" stroke-width="0.9"/><line x1="510.2" y1="144.6" x2="514.2" y2="144.6" stroke="#1c1c1c" stroke-width="0.9"/><line x1="510.2" y1="151.5" x2="512.6" y2="151.5" stroke="#1c1c1c" stroke-width="0.9"/><line x1="510.2" y1="158.3" x2="512.6" y2="158.3" stroke="#1c1c1c" stroke-width="0.9"/><line x1="510.2" y1="165.1" x2="512.6" y2="165.1" stroke="#1c1c1c" stroke-width="0.9"/><line x1="510.2" y1="171.9" x2="512.6" y2="171.9" stroke="#1c1c1c" stroke-width="0.9"/><line x1="510.2" y1="178.7" x2="514.2" y2="178.7" stroke="#1c1c1c" stroke-width="0.9"/><line x1="14.9" y1="331.4" x2="390.4" y2="331.4" stroke="#1c1c1c" stroke-width="1.1"/><line x1="14.9" y1="331.4" x2="14.9" y2="335.9" stroke="#1c1c1c" stroke-width="0.9"/><line x1="28.3" y1="331.4" x2="28.3" y2="333.9" stroke="#1c1c1c" stroke-width="0.9"/><line x1="41.7" y1="331.4" x2="41.7" y2="333.9" stroke="#1c1c1c" stroke-width="0.9"/><line x1="55.1" y1="331.4" x2="55.1" y2="333.9" stroke="#1c1c1c" stroke-width="0.9"/><line x1="68.5" y1="331.4" x2="68.5" y2="333.9" stroke="#1c1c1c" stroke-width="0.9"/><line x1="82" y1="331.4" x2="82" y2="335.9" stroke="#1c1c1c" stroke-width="0.9"/><line x1="95.4" y1="331.4" x2="95.4" y2="333.9" stroke="#1c1c1c" stroke-width="0.9"/><line x1="108.8" y1="331.4" x2="108.8" y2="333.9" stroke="#1c1c1c" stroke-width="0.9"/><line x1="122.2" y1="331.4" x2="122.2" y2="333.9" stroke="#1c1c1c" stroke-width="0.9"/><line x1="135.6" y1="331.4" x2="135.6" y2="333.9" stroke="#1c1c1c" stroke-width="0.9"/><line x1="149" y1="331.4" x2="149" y2="335.9" stroke="#1c1c1c" stroke-width="0.9"/><line x1="162.4" y1="331.4" x2="162.4" y2="333.9" stroke="#1c1c1c" stroke-width="0.9"/><line x1="175.8" y1="331.4" x2="175.8" y2="333.9" stroke="#1c1c1c" stroke-width="0.9"/><line x1="189.3" y1="331.4" x2="189.3" y2="333.9" stroke="#1c1c1c" stroke-width="0.9"/><line x1="202.7" y1="331.4" x2="202.7" y2="333.9" stroke="#1c1c1c" stroke-width="0.9"/><line x1="216.1" y1="331.4" x2="216.1" y2="335.9" stroke="#1c1c1c" stroke-width="0.9"/><line x1="229.5" y1="331.4" x2="229.5" y2="333.9" stroke="#1c1c1c" stroke-width="0.9"/><line x1="242.9" y1="331.4" x2="242.9" y2="333.9" stroke="#1c1c1c" stroke-width="0.9"/><line x1="256.3" y1="331.4" x2="256.3" y2="333.9" stroke="#1c1c1c" stroke-width="0.9"/><line x1="269.7" y1="331.4" x2="269.7" y2="333.9" stroke="#1c1c1c" stroke-width="0.9"/><line x1="283.1" y1="331.4" x2="283.1" y2="335.9" stroke="#1c1c1c" stroke-width="0.9"/><line x1="296.6" y1="331.4" x2="296.6" y2="333.9" stroke="#1c1c1c" stroke-width="0.9"/><line x1="310" y1="331.4" x2="310" y2="333.9" stroke="#1c1c1c" stroke-width="0.9"/><line x1="323.4" y1="331.4" x2="323.4" y2="333.9" stroke="#1c1c1c" stroke-width="0.9"/><line x1="336.8" y1="331.4" x2="336.8" y2="333.9" stroke="#1c1c1c" stroke-width="0.9"/><line x1="350.2" y1="331.4" x2="350.2" y2="335.9" stroke="#1c1c1c" stroke-width="0.9"/><line x1="363.6" y1="331.4" x2="363.6" y2="333.9" stroke="#1c1c1c" stroke-width="0.9"/><line x1="377" y1="331.4" x2="377" y2="333.9" stroke="#1c1c1c" stroke-width="0.9"/><line x1="390.4" y1="331.4" x2="390.4" y2="333.9" stroke="#1c1c1c" stroke-width="0.9"/><line x1="390.4" y1="331.4" x2="510.2" y2="178.7" stroke="#1c1c1c" stroke-width="1.1"/><line x1="502.2" y1="187.6" x2="506.8" y2="187.6" stroke="#1c1c1c" stroke-width="0.9"/><line x1="494.5" y1="197.4" x2="499.1" y2="197.4" stroke="#1c1c1c" stroke-width="0.9"/><line x1="486.9" y1="207.1" x2="491.5" y2="207.1" stroke="#1c1c1c" stroke-width="0.9"/><line x1="479.2" y1="216.9" x2="483.8" y2="216.9" stroke="#1c1c1c" stroke-width="0.9"/><line x1="471.6" y1="226.6" x2="476.2" y2="226.6" stroke="#1c1c1c" stroke-width="0.9"/><line x1="463.9" y1="236.4" x2="468.5" y2="236.4" stroke="#1c1c1c" stroke-width="0.9"/><line x1="456.3" y1="246.2" x2="460.9" y2="246.2" stroke="#1c1c1c" stroke-width="0.9"/><line x1="448.6" y1="255.9" x2="453.2" y2="255.9" stroke="#1c1c1c" stroke-width="0.9"/><line x1="441" y1="265.7" x2="445.6" y2="265.7" stroke="#1c1c1c" stroke-width="0.9"/><line x1="433.3" y1="275.4" x2="437.9" y2="275.4" stroke="#1c1c1c" stroke-width="0.9"/><line x1="425.7" y1="285.2" x2="430.3" y2="285.2" stroke="#1c1c1c" stroke-width="0.9"/><line x1="418" y1="295" x2="422.6" y2="295" stroke="#1c1c1c" stroke-width="0.9"/><line x1="410.4" y1="304.7" x2="415" y2="304.7" stroke="#1c1c1c" stroke-width="0.9"/><line x1="402.7" y1="314.5" x2="407.3" y2="314.5" stroke="#1c1c1c" stroke-width="0.9"/><line x1="395.1" y1="324.2" x2="399.7" y2="324.2" stroke="#1c1c1c" stroke-width="0.9"/></g>
<g style="will-change:transform" stroke="#111" stroke-width="0.22"><text x="517" y="10.7" font-size="9" font-family="'Liberation Sans', sans-serif" fill="#111">0.0</text><text x="517" y="44.8" font-size="9" font-family="'Liberation Sans', sans-serif" fill="#111">0.2</text><text x="517" y="78.8" font-size="9" font-family="'Liberation Sans', sans-serif" fill="#111">0.4</text><text x="517" y="112.9" font-size="9" font-family="'Liberation Sans', sans-serif" fill="#111">0.6</text><text x="517" y="146.9" font-size="9" font-family="'Liberation Sans', sans-serif" fill="#111">0.8</text><text x="517" y="181" font-size="9" font-family="'Liberation Sans', sans-serif" fill="#111">1.0</text><text x="14.9" y="345.2" font-size="9.4" font-family="'Liberation Sans', sans-serif" fill="#111" text-anchor="middle">2100</text><text x="82" y="345.2" font-size="9.4" font-family="'Liberation Sans', sans-serif" fill="#111" text-anchor="middle">2150</text><text x="149" y="345.2" font-size="9.4" font-family="'Liberation Sans', sans-serif" fill="#111" text-anchor="middle">2200</text><text x="216.1" y="345.2" font-size="9.4" font-family="'Liberation Sans', sans-serif" fill="#111" text-anchor="middle">2250</text><text x="283.1" y="345.2" font-size="9.4" font-family="'Liberation Sans', sans-serif" fill="#111" text-anchor="middle">2300</text><text x="350.2" y="345.2" font-size="9.4" font-family="'Liberation Sans', sans-serif" fill="#111" text-anchor="middle">2350</text><text transform="matrix(1,0,-0.5,1,608.9,0)" x="0" y="192.3" font-size="9.3" font-family="'Liberation Sans', sans-serif" fill="#111">28 K</text><text transform="matrix(1,0,-0.5,1,606.1,0)" x="0" y="202.1" font-size="9.3" font-family="'Liberation Sans', sans-serif" fill="#111">38 K</text><text transform="matrix(1,0,-0.5,1,603.3,0)" x="0" y="211.8" font-size="9.3" font-family="'Liberation Sans', sans-serif" fill="#111">48 K</text><text transform="matrix(1,0,-0.5,1,600.5,0)" x="0" y="221.6" font-size="9.3" font-family="'Liberation Sans', sans-serif" fill="#111">58 K</text><text transform="matrix(1,0,-0.5,1,597.8,0)" x="0" y="231.3" font-size="9.3" font-family="'Liberation Sans', sans-serif" fill="#111">68 K</text><text transform="matrix(1,0,-0.5,1,595,0)" x="0" y="241.1" font-size="9.3" font-family="'Liberation Sans', sans-serif" fill="#111">78 K</text><text transform="matrix(1,0,-0.5,1,592.2,0)" x="0" y="250.9" font-size="9.3" font-family="'Liberation Sans', sans-serif" fill="#111">88 K</text><text transform="matrix(1,0,-0.5,1,589.4,0)" x="0" y="260.6" font-size="9.3" font-family="'Liberation Sans', sans-serif" fill="#111">98 K</text><text transform="matrix(1,0,-0.5,1,586.7,0)" x="0" y="270.4" font-size="9.3" font-family="'Liberation Sans', sans-serif" fill="#111">108 K</text><text transform="matrix(1,0,-0.5,1,583.9,0)" x="0" y="280.1" font-size="9.3" font-family="'Liberation Sans', sans-serif" fill="#111">118 K</text><text transform="matrix(1,0,-0.5,1,581.1,0)" x="0" y="289.9" font-size="9.3" font-family="'Liberation Sans', sans-serif" fill="#111">128 K</text><text transform="matrix(1,0,-0.5,1,578.3,0)" x="0" y="299.7" font-size="9.3" font-family="'Liberation Sans', sans-serif" fill="#111">138 K</text><text transform="matrix(1,0,-0.5,1,575.6,0)" x="0" y="309.4" font-size="9.3" font-family="'Liberation Sans', sans-serif" fill="#111">148 K</text><text transform="matrix(1,0,-0.5,1,572.8,0)" x="0" y="319.2" font-size="9.3" font-family="'Liberation Sans', sans-serif" fill="#111">158 K</text><text transform="matrix(1,0,-0.5,1,570,0)" x="0" y="328.9" font-size="9.3" font-family="'Liberation Sans', sans-serif" fill="#111">168 K</text><text transform="translate(216.75,363.8) scale(0.928,1)" x="0" y="0" font-size="12.6" font-family="'Liberation Sans', sans-serif" fill="#111" text-anchor="middle">Wavenumber 1/cm</text><text transform="translate(545.2,93.1) rotate(-90)" x="0" y="0" font-size="11.1" font-family="'Liberation Sans', sans-serif" fill="#111" text-anchor="middle">Reflectance, %</text><text transform="translate(515.6,257.8) rotate(-49.5) scale(1,0.85)" x="0" y="0" font-size="11.6" font-family="'Liberation Sans', sans-serif" fill="#111" text-anchor="middle">Temperature</text><text transform="translate(280.3,407) scale(0.93,1)" x="0" y="0" font-size="15.8" font-family="'Liberation Serif', serif" fill="#111" text-anchor="middle">(<tspan font-weight="bold">a</tspan>)</text></g>
</svg></body></html>
